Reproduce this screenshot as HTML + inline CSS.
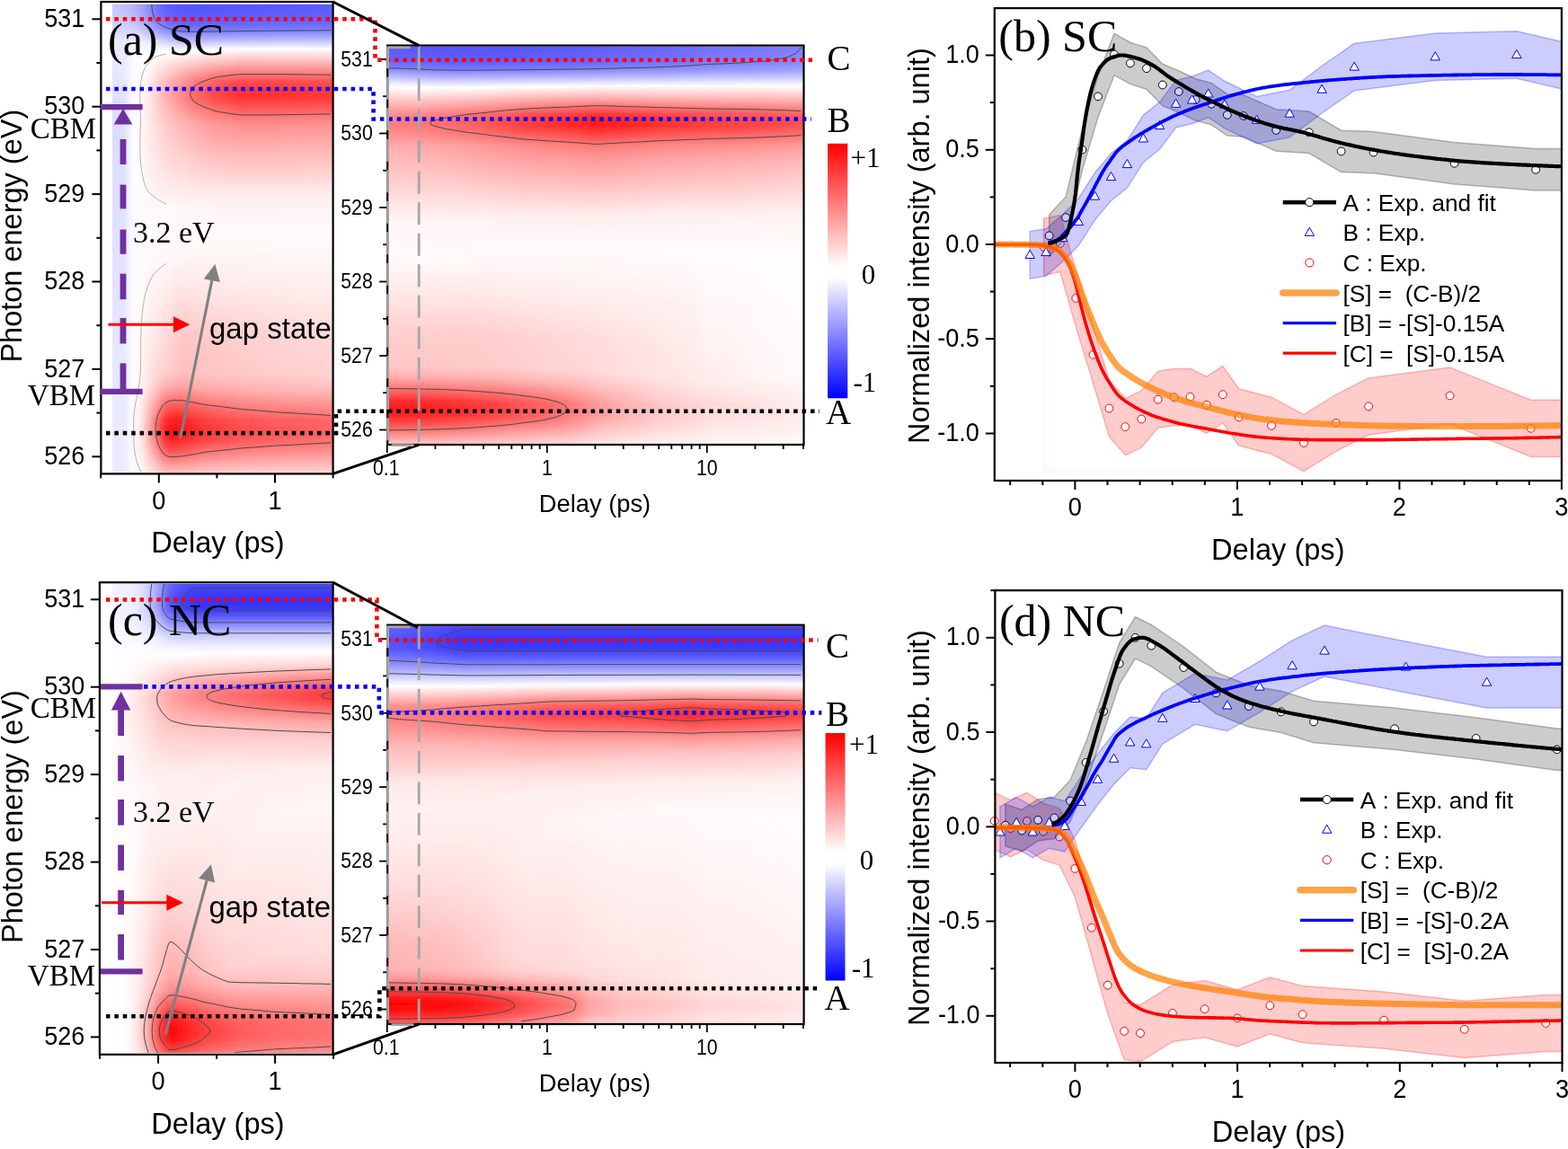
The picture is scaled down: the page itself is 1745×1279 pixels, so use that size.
<!DOCTYPE html>
<html><head><meta charset="utf-8"><title>Figure</title>
<style>html,body{margin:0;padding:0;background:#fff;} svg{display:block;}</style></head>
<body><svg width="1745" height="1279" viewBox="0 0 1745 1279">
<defs><linearGradient id="ga0" gradientUnits="userSpaceOnUse" x1="0" y1="4.5" x2="0" y2="526.5"><stop offset="0.0000" stop-color="#c8c8ff"/><stop offset="0.0383" stop-color="#cfcfff"/><stop offset="0.0824" stop-color="#ebebff"/><stop offset="0.1801" stop-color="#e1e1ff"/><stop offset="0.2586" stop-color="#dcdcff"/><stop offset="1.0000" stop-color="#ebebff"/></linearGradient><linearGradient id="ga1" gradientUnits="userSpaceOnUse" x1="0" y1="4.5" x2="0" y2="526.5"><stop offset="0.0000" stop-color="#c6c6ff"/><stop offset="0.0383" stop-color="#cdcdff"/><stop offset="0.0824" stop-color="#eaeaff"/><stop offset="0.1705" stop-color="#e3e3ff"/><stop offset="0.2510" stop-color="#dcdcff"/><stop offset="1.0000" stop-color="#ebebff"/></linearGradient><linearGradient id="ga2" gradientUnits="userSpaceOnUse" x1="0" y1="4.5" x2="0" y2="526.5"><stop offset="0.0000" stop-color="#c2c2ff"/><stop offset="0.0383" stop-color="#cacaff"/><stop offset="0.0824" stop-color="#eaeaff"/><stop offset="0.1552" stop-color="#e5e5ff"/><stop offset="0.2471" stop-color="#dcdcff"/><stop offset="1.0000" stop-color="#ebebff"/></linearGradient><linearGradient id="ga3" gradientUnits="userSpaceOnUse" x1="0" y1="4.5" x2="0" y2="526.5"><stop offset="0.0000" stop-color="#bdbdff"/><stop offset="0.0364" stop-color="#c4c4ff"/><stop offset="0.0824" stop-color="#eaeaff"/><stop offset="0.1437" stop-color="#e9e9ff"/><stop offset="0.2490" stop-color="#dfdfff"/><stop offset="1.0000" stop-color="#ececff"/></linearGradient><linearGradient id="ga4" gradientUnits="userSpaceOnUse" x1="0" y1="4.5" x2="0" y2="526.5"><stop offset="0.0000" stop-color="#b5b5ff"/><stop offset="0.0364" stop-color="#c2c2ff"/><stop offset="0.0824" stop-color="#f2f2ff"/><stop offset="0.1322" stop-color="#fafaff"/><stop offset="1.0000" stop-color="#fcfcff"/></linearGradient><linearGradient id="ga5" gradientUnits="userSpaceOnUse" x1="0" y1="4.5" x2="0" y2="526.5"><stop offset="0.0000" stop-color="#acacff"/><stop offset="0.0345" stop-color="#b9b9ff"/><stop offset="0.0824" stop-color="#f3f3ff"/><stop offset="0.1245" stop-color="#ffffff"/><stop offset="0.8257" stop-color="#fff9f9"/><stop offset="0.9291" stop-color="#fff1f1"/><stop offset="1.0000" stop-color="#fffbfb"/></linearGradient><linearGradient id="ga6" gradientUnits="userSpaceOnUse" x1="0" y1="4.5" x2="0" y2="526.5"><stop offset="0.0000" stop-color="#9d9dff"/><stop offset="0.0345" stop-color="#aaaaff"/><stop offset="0.0613" stop-color="#d2d2ff"/><stop offset="0.0862" stop-color="#f4f4ff"/><stop offset="0.1149" stop-color="#fffefe"/><stop offset="0.2184" stop-color="#fff4f4"/><stop offset="0.3889" stop-color="#fffafa"/><stop offset="0.5881" stop-color="#fffcfc"/><stop offset="0.8295" stop-color="#ffefef"/><stop offset="0.9119" stop-color="#ffe0e0"/><stop offset="1.0000" stop-color="#fff7f7"/></linearGradient><linearGradient id="ga7" gradientUnits="userSpaceOnUse" x1="0" y1="4.5" x2="0" y2="526.5"><stop offset="0.0000" stop-color="#8d8dff"/><stop offset="0.0345" stop-color="#9b9bff"/><stop offset="0.0575" stop-color="#bebeff"/><stop offset="0.0843" stop-color="#eeeeff"/><stop offset="0.1073" stop-color="#ffffff"/><stop offset="0.1954" stop-color="#ffeaea"/><stop offset="0.3525" stop-color="#fff0f0"/><stop offset="0.4828" stop-color="#fffefe"/><stop offset="0.8046" stop-color="#ffe7e7"/><stop offset="0.8985" stop-color="#ffb6b6"/><stop offset="0.9349" stop-color="#ffbebe"/><stop offset="1.0000" stop-color="#ffecec"/></linearGradient><linearGradient id="ga8" gradientUnits="userSpaceOnUse" x1="0" y1="4.5" x2="0" y2="526.5"><stop offset="0.0000" stop-color="#7c7cff"/><stop offset="0.0326" stop-color="#8888ff"/><stop offset="0.0536" stop-color="#a7a7ff"/><stop offset="0.0843" stop-color="#eaeaff"/><stop offset="0.1054" stop-color="#fffefe"/><stop offset="0.1839" stop-color="#ffdbdb"/><stop offset="0.3563" stop-color="#ffecec"/><stop offset="0.4693" stop-color="#fffdfd"/><stop offset="0.6149" stop-color="#fff2f2"/><stop offset="0.7490" stop-color="#ffe5e5"/><stop offset="0.8046" stop-color="#ffdada"/><stop offset="0.8487" stop-color="#ffb6b6"/><stop offset="0.8927" stop-color="#ff8f8f"/><stop offset="0.9215" stop-color="#ff8f8f"/><stop offset="0.9579" stop-color="#ffb1b1"/><stop offset="1.0000" stop-color="#ffe1e1"/></linearGradient><linearGradient id="ga9" gradientUnits="userSpaceOnUse" x1="0" y1="4.5" x2="0" y2="526.5"><stop offset="0.0000" stop-color="#6a6aff"/><stop offset="0.0326" stop-color="#7676ff"/><stop offset="0.0517" stop-color="#9292ff"/><stop offset="0.0862" stop-color="#e8e8ff"/><stop offset="0.1034" stop-color="#fffefe"/><stop offset="0.1743" stop-color="#ffcbcb"/><stop offset="0.2069" stop-color="#ffc9c9"/><stop offset="0.2701" stop-color="#ffdada"/><stop offset="0.3563" stop-color="#ffe8e8"/><stop offset="0.4579" stop-color="#fffcfc"/><stop offset="0.5862" stop-color="#fff4f4"/><stop offset="0.7299" stop-color="#ffdfdf"/><stop offset="0.7912" stop-color="#ffd6d6"/><stop offset="0.8257" stop-color="#ffbaba"/><stop offset="0.8870" stop-color="#ff6565"/><stop offset="0.9100" stop-color="#ff5b5b"/><stop offset="0.9349" stop-color="#ff6d6d"/><stop offset="1.0000" stop-color="#ffd4d4"/></linearGradient><linearGradient id="ga10" gradientUnits="userSpaceOnUse" x1="0" y1="4.5" x2="0" y2="526.5"><stop offset="0.0000" stop-color="#6161ff"/><stop offset="0.0345" stop-color="#6e6eff"/><stop offset="0.0536" stop-color="#8c8cff"/><stop offset="0.0881" stop-color="#e9e9ff"/><stop offset="0.1015" stop-color="#ffffff"/><stop offset="0.1705" stop-color="#ffbebe"/><stop offset="0.1992" stop-color="#ffb7b7"/><stop offset="0.2663" stop-color="#ffd1d1"/><stop offset="0.3506" stop-color="#ffe2e2"/><stop offset="0.4483" stop-color="#fffbfb"/><stop offset="0.5632" stop-color="#fff6f6"/><stop offset="0.7222" stop-color="#ffdada"/><stop offset="0.7835" stop-color="#ffd1d1"/><stop offset="0.8161" stop-color="#ffb5b5"/><stop offset="0.8506" stop-color="#ff7979"/><stop offset="0.8851" stop-color="#ff3a3a"/><stop offset="0.9061" stop-color="#ff2b2b"/><stop offset="0.9272" stop-color="#ff3737"/><stop offset="0.9540" stop-color="#ff6767"/><stop offset="0.9981" stop-color="#ffc4c4"/><stop offset="1.0000" stop-color="#ffc7c7"/></linearGradient><linearGradient id="ga11" gradientUnits="userSpaceOnUse" x1="0" y1="4.5" x2="0" y2="526.5"><stop offset="0.0000" stop-color="#5a5aff"/><stop offset="0.0345" stop-color="#6666ff"/><stop offset="0.0536" stop-color="#8282ff"/><stop offset="0.0920" stop-color="#ededff"/><stop offset="0.1015" stop-color="#ffffff"/><stop offset="0.1648" stop-color="#ffb5b5"/><stop offset="0.1935" stop-color="#ffa7a7"/><stop offset="0.2663" stop-color="#ffc9c9"/><stop offset="0.3487" stop-color="#ffdddd"/><stop offset="0.4406" stop-color="#fff9f9"/><stop offset="0.5441" stop-color="#fff8f8"/><stop offset="0.7203" stop-color="#ffd4d4"/><stop offset="0.7835" stop-color="#ffcaca"/><stop offset="0.8142" stop-color="#ffaeae"/><stop offset="0.8448" stop-color="#ff7676"/><stop offset="0.8831" stop-color="#ff2727"/><stop offset="0.9042" stop-color="#ff1414"/><stop offset="0.9234" stop-color="#ff1c1c"/><stop offset="0.9464" stop-color="#ff4444"/><stop offset="0.9962" stop-color="#ffbaba"/><stop offset="1.0000" stop-color="#ffc1c1"/></linearGradient><linearGradient id="ga12" gradientUnits="userSpaceOnUse" x1="0" y1="4.5" x2="0" y2="526.5"><stop offset="0.0000" stop-color="#5757ff"/><stop offset="0.0364" stop-color="#6363ff"/><stop offset="0.0536" stop-color="#7c7cff"/><stop offset="0.0747" stop-color="#b8b8ff"/><stop offset="0.0958" stop-color="#f3f3ff"/><stop offset="0.1015" stop-color="#ffffff"/><stop offset="0.1609" stop-color="#ffadad"/><stop offset="0.1897" stop-color="#ff9999"/><stop offset="0.2165" stop-color="#ffa5a5"/><stop offset="0.2605" stop-color="#ffc1c1"/><stop offset="0.3506" stop-color="#ffdbdb"/><stop offset="0.4387" stop-color="#fff9f9"/><stop offset="0.5364" stop-color="#fff8f8"/><stop offset="0.7165" stop-color="#ffcfcf"/><stop offset="0.7835" stop-color="#ffc6c6"/><stop offset="0.8142" stop-color="#ffabab"/><stop offset="0.8448" stop-color="#ff7373"/><stop offset="0.8831" stop-color="#ff2525"/><stop offset="0.9042" stop-color="#ff1111"/><stop offset="0.9234" stop-color="#ff1a1a"/><stop offset="0.9464" stop-color="#ff4343"/><stop offset="0.9962" stop-color="#ffb9b9"/><stop offset="1.0000" stop-color="#ffc0c0"/></linearGradient><linearGradient id="ga13" gradientUnits="userSpaceOnUse" x1="0" y1="4.5" x2="0" y2="526.5"><stop offset="0.0000" stop-color="#5656ff"/><stop offset="0.0364" stop-color="#6060ff"/><stop offset="0.0556" stop-color="#7b7bff"/><stop offset="0.0766" stop-color="#b8b8ff"/><stop offset="0.0977" stop-color="#f6f6ff"/><stop offset="0.1015" stop-color="#ffffff"/><stop offset="0.1571" stop-color="#ffa7a7"/><stop offset="0.1858" stop-color="#ff8d8d"/><stop offset="0.2088" stop-color="#ff9393"/><stop offset="0.2567" stop-color="#ffb9b9"/><stop offset="0.3563" stop-color="#ffdcdc"/><stop offset="0.4387" stop-color="#fff8f8"/><stop offset="0.5326" stop-color="#fff8f8"/><stop offset="0.6513" stop-color="#ffd7d7"/><stop offset="0.7318" stop-color="#ffc8c8"/><stop offset="0.7874" stop-color="#ffc0c0"/><stop offset="0.8180" stop-color="#ffa3a3"/><stop offset="0.8525" stop-color="#ff6363"/><stop offset="0.8851" stop-color="#ff2525"/><stop offset="0.9061" stop-color="#ff1515"/><stop offset="0.9253" stop-color="#ff2121"/><stop offset="0.9502" stop-color="#ff4f4f"/><stop offset="0.9962" stop-color="#ffbbbb"/><stop offset="1.0000" stop-color="#ffc2c2"/></linearGradient><linearGradient id="ga14" gradientUnits="userSpaceOnUse" x1="0" y1="4.5" x2="0" y2="526.5"><stop offset="0.0000" stop-color="#5454ff"/><stop offset="0.0383" stop-color="#6060ff"/><stop offset="0.0556" stop-color="#7878ff"/><stop offset="0.0747" stop-color="#afafff"/><stop offset="0.0977" stop-color="#f6f6ff"/><stop offset="0.1015" stop-color="#fffefe"/><stop offset="0.1552" stop-color="#ffa0a0"/><stop offset="0.1820" stop-color="#ff8282"/><stop offset="0.2031" stop-color="#ff8383"/><stop offset="0.2567" stop-color="#ffb3b3"/><stop offset="0.3659" stop-color="#ffdfdf"/><stop offset="0.4425" stop-color="#fff9f9"/><stop offset="0.5364" stop-color="#fff7f7"/><stop offset="0.7126" stop-color="#ffc7c7"/><stop offset="0.7854" stop-color="#ffbfbf"/><stop offset="0.8161" stop-color="#ffa6a6"/><stop offset="0.8487" stop-color="#ff6e6e"/><stop offset="0.8831" stop-color="#ff2c2c"/><stop offset="0.9042" stop-color="#ff1b1b"/><stop offset="0.9234" stop-color="#ff2424"/><stop offset="0.9464" stop-color="#ff4b4b"/><stop offset="0.9962" stop-color="#ffbcbc"/><stop offset="1.0000" stop-color="#ffc3c3"/></linearGradient><linearGradient id="ga15" gradientUnits="userSpaceOnUse" x1="0" y1="4.5" x2="0" y2="526.5"><stop offset="0.0000" stop-color="#5353ff"/><stop offset="0.0383" stop-color="#5f5fff"/><stop offset="0.0556" stop-color="#7777ff"/><stop offset="0.0747" stop-color="#afafff"/><stop offset="0.0977" stop-color="#f8f8ff"/><stop offset="0.1015" stop-color="#fffcfc"/><stop offset="0.1590" stop-color="#ff9090"/><stop offset="0.1839" stop-color="#ff7474"/><stop offset="0.2031" stop-color="#ff7676"/><stop offset="0.2548" stop-color="#ffacac"/><stop offset="0.4272" stop-color="#fff5f5"/><stop offset="0.5134" stop-color="#fffafa"/><stop offset="0.6130" stop-color="#ffe3e3"/><stop offset="0.7107" stop-color="#ffc8c8"/><stop offset="0.7874" stop-color="#ffc0c0"/><stop offset="0.8180" stop-color="#ffa6a6"/><stop offset="0.8544" stop-color="#ff6767"/><stop offset="0.8870" stop-color="#ff2e2e"/><stop offset="0.9080" stop-color="#ff2222"/><stop offset="0.9291" stop-color="#ff3232"/><stop offset="0.9579" stop-color="#ff6b6b"/><stop offset="0.9981" stop-color="#ffc2c2"/><stop offset="1.0000" stop-color="#ffc5c5"/></linearGradient><linearGradient id="ga16" gradientUnits="userSpaceOnUse" x1="0" y1="4.5" x2="0" y2="526.5"><stop offset="0.0000" stop-color="#5353ff"/><stop offset="0.0364" stop-color="#5d5dff"/><stop offset="0.0556" stop-color="#7777ff"/><stop offset="0.0747" stop-color="#b0b0ff"/><stop offset="0.0977" stop-color="#fafaff"/><stop offset="0.0996" stop-color="#ffffff"/><stop offset="0.1571" stop-color="#ff8a8a"/><stop offset="0.1820" stop-color="#ff6a6a"/><stop offset="0.2011" stop-color="#ff6a6a"/><stop offset="0.2548" stop-color="#ffa6a6"/><stop offset="0.4234" stop-color="#fff4f4"/><stop offset="0.5077" stop-color="#fffbfb"/><stop offset="0.6073" stop-color="#ffe6e6"/><stop offset="0.7107" stop-color="#ffc9c9"/><stop offset="0.7874" stop-color="#ffc1c1"/><stop offset="0.8180" stop-color="#ffa8a8"/><stop offset="0.8544" stop-color="#ff6b6b"/><stop offset="0.8870" stop-color="#ff3535"/><stop offset="0.9080" stop-color="#ff2929"/><stop offset="0.9291" stop-color="#ff3939"/><stop offset="0.9579" stop-color="#ff7070"/><stop offset="0.9981" stop-color="#ffc4c4"/><stop offset="1.0000" stop-color="#ffc7c7"/></linearGradient><linearGradient id="ga17" gradientUnits="userSpaceOnUse" x1="0" y1="4.5" x2="0" y2="526.5"><stop offset="0.0000" stop-color="#5353ff"/><stop offset="0.0364" stop-color="#5d5dff"/><stop offset="0.0556" stop-color="#7878ff"/><stop offset="0.0747" stop-color="#b0b0ff"/><stop offset="0.0977" stop-color="#fcfcff"/><stop offset="0.1015" stop-color="#fff8f8"/><stop offset="0.1628" stop-color="#ff7979"/><stop offset="0.1858" stop-color="#ff5f5f"/><stop offset="0.2050" stop-color="#ff6464"/><stop offset="0.2529" stop-color="#ffa0a0"/><stop offset="0.4176" stop-color="#fff2f2"/><stop offset="0.4981" stop-color="#fffbfb"/><stop offset="0.5958" stop-color="#ffeaea"/><stop offset="0.7088" stop-color="#ffcaca"/><stop offset="0.7874" stop-color="#ffc2c2"/><stop offset="0.8199" stop-color="#ffa8a8"/><stop offset="0.8621" stop-color="#ff6262"/><stop offset="0.8908" stop-color="#ff3838"/><stop offset="0.9119" stop-color="#ff3131"/><stop offset="0.9330" stop-color="#ff4545"/><stop offset="0.9693" stop-color="#ff8e8e"/><stop offset="1.0000" stop-color="#ffc9c9"/></linearGradient><linearGradient id="ga18" gradientUnits="userSpaceOnUse" x1="0" y1="4.5" x2="0" y2="526.5"><stop offset="0.0000" stop-color="#5353ff"/><stop offset="0.0364" stop-color="#5e5eff"/><stop offset="0.0556" stop-color="#7878ff"/><stop offset="0.0728" stop-color="#aaaaff"/><stop offset="0.0977" stop-color="#fdfdff"/><stop offset="0.1628" stop-color="#ff7272"/><stop offset="0.1839" stop-color="#ff5757"/><stop offset="0.2011" stop-color="#ff5959"/><stop offset="0.2548" stop-color="#ff9d9d"/><stop offset="0.4157" stop-color="#fff1f1"/><stop offset="0.4943" stop-color="#fffbfb"/><stop offset="0.5939" stop-color="#ffebeb"/><stop offset="0.7088" stop-color="#ffcbcb"/><stop offset="0.7893" stop-color="#ffc3c3"/><stop offset="0.8218" stop-color="#ffa8a8"/><stop offset="0.8870" stop-color="#ff4141"/><stop offset="0.9080" stop-color="#ff3737"/><stop offset="0.9291" stop-color="#ff4545"/><stop offset="0.9598" stop-color="#ff7d7d"/><stop offset="1.0000" stop-color="#ffcbcb"/></linearGradient><linearGradient id="ga19" gradientUnits="userSpaceOnUse" x1="0" y1="4.5" x2="0" y2="526.5"><stop offset="0.0000" stop-color="#5454ff"/><stop offset="0.0364" stop-color="#5e5eff"/><stop offset="0.0556" stop-color="#7878ff"/><stop offset="0.0728" stop-color="#ababff"/><stop offset="0.0977" stop-color="#fefeff"/><stop offset="0.1628" stop-color="#ff6a6a"/><stop offset="0.1839" stop-color="#ff4e4e"/><stop offset="0.2011" stop-color="#ff5050"/><stop offset="0.2548" stop-color="#ff9999"/><stop offset="0.4138" stop-color="#fff0f0"/><stop offset="0.4904" stop-color="#fffbfb"/><stop offset="0.5900" stop-color="#ffecec"/><stop offset="0.7088" stop-color="#ffcbcb"/><stop offset="0.7893" stop-color="#ffc4c4"/><stop offset="0.8218" stop-color="#ffa9a9"/><stop offset="0.8870" stop-color="#ff4444"/><stop offset="0.9080" stop-color="#ff3a3a"/><stop offset="0.9291" stop-color="#ff4848"/><stop offset="0.9598" stop-color="#ff7f7f"/><stop offset="1.0000" stop-color="#ffcccc"/></linearGradient><linearGradient id="ga20" gradientUnits="userSpaceOnUse" x1="0" y1="4.5" x2="0" y2="526.5"><stop offset="0.0000" stop-color="#5454ff"/><stop offset="0.0364" stop-color="#5e5eff"/><stop offset="0.0556" stop-color="#7979ff"/><stop offset="0.0728" stop-color="#acacff"/><stop offset="0.0958" stop-color="#fafaff"/><stop offset="0.0977" stop-color="#fffefe"/><stop offset="0.1628" stop-color="#ff6363"/><stop offset="0.1839" stop-color="#ff4646"/><stop offset="0.2011" stop-color="#ff4848"/><stop offset="0.2529" stop-color="#ff9393"/><stop offset="0.3142" stop-color="#ffb8b8"/><stop offset="0.4138" stop-color="#fff0f0"/><stop offset="0.4904" stop-color="#fffbfb"/><stop offset="0.5900" stop-color="#ffecec"/><stop offset="0.7088" stop-color="#ffcccc"/><stop offset="0.7893" stop-color="#ffc4c4"/><stop offset="0.8218" stop-color="#ffabab"/><stop offset="0.8870" stop-color="#ff4848"/><stop offset="0.9080" stop-color="#ff3d3d"/><stop offset="0.9291" stop-color="#ff4b4b"/><stop offset="0.9598" stop-color="#ff8181"/><stop offset="1.0000" stop-color="#ffcccc"/></linearGradient><linearGradient id="ga21" gradientUnits="userSpaceOnUse" x1="0" y1="4.5" x2="0" y2="526.5"><stop offset="0.0000" stop-color="#5454ff"/><stop offset="0.0364" stop-color="#5f5fff"/><stop offset="0.0556" stop-color="#7979ff"/><stop offset="0.0728" stop-color="#acacff"/><stop offset="0.0958" stop-color="#fbfbff"/><stop offset="0.0977" stop-color="#fffdfd"/><stop offset="0.1628" stop-color="#ff5f5f"/><stop offset="0.1839" stop-color="#ff4242"/><stop offset="0.2011" stop-color="#ff4444"/><stop offset="0.2318" stop-color="#ff7474"/><stop offset="0.2605" stop-color="#ff9898"/><stop offset="0.4119" stop-color="#ffefef"/><stop offset="0.4866" stop-color="#fffbfb"/><stop offset="0.5862" stop-color="#ffeeee"/><stop offset="0.7107" stop-color="#ffcdcd"/><stop offset="0.7893" stop-color="#ffc5c5"/><stop offset="0.8218" stop-color="#ffacac"/><stop offset="0.8870" stop-color="#ff4b4b"/><stop offset="0.9100" stop-color="#ff4141"/><stop offset="0.9330" stop-color="#ff5353"/><stop offset="0.9770" stop-color="#ffa6a6"/><stop offset="1.0000" stop-color="#ffcdcd"/></linearGradient><linearGradient id="ga22" gradientUnits="userSpaceOnUse" x1="0" y1="4.5" x2="0" y2="526.5"><stop offset="0.0000" stop-color="#5555ff"/><stop offset="0.0364" stop-color="#5f5fff"/><stop offset="0.0556" stop-color="#7a7aff"/><stop offset="0.0728" stop-color="#acacff"/><stop offset="0.0958" stop-color="#fcfcff"/><stop offset="0.0996" stop-color="#fff7f7"/><stop offset="0.1628" stop-color="#ff5c5c"/><stop offset="0.1839" stop-color="#ff3d3d"/><stop offset="0.2011" stop-color="#ff4040"/><stop offset="0.2299" stop-color="#ff6e6e"/><stop offset="0.2586" stop-color="#ff9595"/><stop offset="0.4100" stop-color="#ffeeee"/><stop offset="0.4828" stop-color="#fffbfb"/><stop offset="0.5824" stop-color="#ffefef"/><stop offset="0.7107" stop-color="#ffcdcd"/><stop offset="0.7893" stop-color="#ffc6c6"/><stop offset="0.8218" stop-color="#ffadad"/><stop offset="0.8870" stop-color="#ff4e4e"/><stop offset="0.9100" stop-color="#ff4444"/><stop offset="0.9330" stop-color="#ff5656"/><stop offset="1.0000" stop-color="#ffcece"/></linearGradient><linearGradient id="ga23" gradientUnits="userSpaceOnUse" x1="0" y1="4.5" x2="0" y2="526.5"><stop offset="0.0000" stop-color="#5555ff"/><stop offset="0.0364" stop-color="#5f5fff"/><stop offset="0.0556" stop-color="#7a7aff"/><stop offset="0.0728" stop-color="#adadff"/><stop offset="0.0958" stop-color="#fcfcff"/><stop offset="0.1015" stop-color="#fff1f1"/><stop offset="0.1648" stop-color="#ff5454"/><stop offset="0.1839" stop-color="#ff3939"/><stop offset="0.1992" stop-color="#ff3a3a"/><stop offset="0.2222" stop-color="#ff5c5c"/><stop offset="0.2529" stop-color="#ff8d8d"/><stop offset="0.3008" stop-color="#ffadad"/><stop offset="0.4100" stop-color="#ffeeee"/><stop offset="0.4828" stop-color="#fffbfb"/><stop offset="0.5824" stop-color="#ffefef"/><stop offset="0.7107" stop-color="#ffcece"/><stop offset="0.7893" stop-color="#ffc7c7"/><stop offset="0.8218" stop-color="#ffafaf"/><stop offset="0.8870" stop-color="#ff5151"/><stop offset="0.9100" stop-color="#ff4747"/><stop offset="0.9330" stop-color="#ff5959"/><stop offset="1.0000" stop-color="#ffcfcf"/></linearGradient><linearGradient id="ga24" gradientUnits="userSpaceOnUse" x1="0" y1="4.5" x2="0" y2="526.5"><stop offset="0.0000" stop-color="#5555ff"/><stop offset="0.0364" stop-color="#6060ff"/><stop offset="0.0556" stop-color="#7a7aff"/><stop offset="0.0728" stop-color="#adadff"/><stop offset="0.0958" stop-color="#fdfdff"/><stop offset="0.1648" stop-color="#ff5050"/><stop offset="0.1839" stop-color="#ff3535"/><stop offset="0.1992" stop-color="#ff3535"/><stop offset="0.2203" stop-color="#ff5555"/><stop offset="0.2510" stop-color="#ff8888"/><stop offset="0.2912" stop-color="#ffa7a7"/><stop offset="0.4100" stop-color="#ffeeee"/><stop offset="0.4828" stop-color="#fffbfb"/><stop offset="0.5843" stop-color="#ffefef"/><stop offset="0.7107" stop-color="#ffcfcf"/><stop offset="0.7912" stop-color="#ffc7c7"/><stop offset="0.8257" stop-color="#ffacac"/><stop offset="0.8870" stop-color="#ff5454"/><stop offset="0.9100" stop-color="#ff4b4b"/><stop offset="0.9330" stop-color="#ff5c5c"/><stop offset="1.0000" stop-color="#ffd0d0"/></linearGradient><linearGradient id="ga25" gradientUnits="userSpaceOnUse" x1="0" y1="4.5" x2="0" y2="526.5"><stop offset="0.0000" stop-color="#5656ff"/><stop offset="0.0364" stop-color="#6060ff"/><stop offset="0.0556" stop-color="#7b7bff"/><stop offset="0.0728" stop-color="#adadff"/><stop offset="0.0958" stop-color="#fdfdff"/><stop offset="0.1648" stop-color="#ff5050"/><stop offset="0.1839" stop-color="#ff3434"/><stop offset="0.1992" stop-color="#ff3434"/><stop offset="0.2203" stop-color="#ff5454"/><stop offset="0.2510" stop-color="#ff8888"/><stop offset="0.2912" stop-color="#ffa7a7"/><stop offset="0.4100" stop-color="#ffeeee"/><stop offset="0.4828" stop-color="#fffbfb"/><stop offset="0.5843" stop-color="#ffefef"/><stop offset="0.7126" stop-color="#ffcfcf"/><stop offset="0.7912" stop-color="#ffc8c8"/><stop offset="0.8257" stop-color="#ffadad"/><stop offset="0.8870" stop-color="#ff5656"/><stop offset="0.9100" stop-color="#ff4d4d"/><stop offset="0.9330" stop-color="#ff5e5e"/><stop offset="1.0000" stop-color="#ffd0d0"/></linearGradient><linearGradient id="ga26" gradientUnits="userSpaceOnUse" x1="0" y1="4.5" x2="0" y2="526.5"><stop offset="0.0000" stop-color="#5656ff"/><stop offset="0.0364" stop-color="#6060ff"/><stop offset="0.0556" stop-color="#7b7bff"/><stop offset="0.0728" stop-color="#aeaeff"/><stop offset="0.0958" stop-color="#fdfdff"/><stop offset="0.1648" stop-color="#ff5050"/><stop offset="0.1839" stop-color="#ff3434"/><stop offset="0.1992" stop-color="#ff3535"/><stop offset="0.2203" stop-color="#ff5454"/><stop offset="0.2510" stop-color="#ff8888"/><stop offset="0.2912" stop-color="#ffa7a7"/><stop offset="0.4100" stop-color="#ffeeee"/><stop offset="0.4828" stop-color="#fffbfb"/><stop offset="0.5843" stop-color="#ffefef"/><stop offset="0.7126" stop-color="#ffd0d0"/><stop offset="0.7912" stop-color="#ffc9c9"/><stop offset="0.8257" stop-color="#ffadad"/><stop offset="0.8870" stop-color="#ff5757"/><stop offset="0.9100" stop-color="#ff4e4e"/><stop offset="0.9330" stop-color="#ff5f5f"/><stop offset="1.0000" stop-color="#ffd1d1"/></linearGradient><linearGradient id="ga27" gradientUnits="userSpaceOnUse" x1="0" y1="4.5" x2="0" y2="526.5"><stop offset="0.0000" stop-color="#5656ff"/><stop offset="0.0364" stop-color="#6161ff"/><stop offset="0.0556" stop-color="#7b7bff"/><stop offset="0.0728" stop-color="#aeaeff"/><stop offset="0.0958" stop-color="#fdfdff"/><stop offset="0.1648" stop-color="#ff5050"/><stop offset="0.1839" stop-color="#ff3434"/><stop offset="0.1992" stop-color="#ff3535"/><stop offset="0.2203" stop-color="#ff5454"/><stop offset="0.2510" stop-color="#ff8888"/><stop offset="0.2912" stop-color="#ffa7a7"/><stop offset="0.4100" stop-color="#ffeeee"/><stop offset="0.4828" stop-color="#fffbfb"/><stop offset="0.5862" stop-color="#ffefef"/><stop offset="0.7126" stop-color="#ffd1d1"/><stop offset="0.7912" stop-color="#ffcaca"/><stop offset="0.8257" stop-color="#ffaeae"/><stop offset="0.8870" stop-color="#ff5959"/><stop offset="0.9100" stop-color="#ff5050"/><stop offset="0.9330" stop-color="#ff6161"/><stop offset="1.0000" stop-color="#ffd1d1"/></linearGradient><linearGradient id="ga28" gradientUnits="userSpaceOnUse" x1="0" y1="4.5" x2="0" y2="526.5"><stop offset="0.0000" stop-color="#5757ff"/><stop offset="0.0364" stop-color="#6161ff"/><stop offset="0.0556" stop-color="#7b7bff"/><stop offset="0.0728" stop-color="#aeaeff"/><stop offset="0.0958" stop-color="#fdfdff"/><stop offset="0.1648" stop-color="#ff5050"/><stop offset="0.1839" stop-color="#ff3434"/><stop offset="0.1992" stop-color="#ff3535"/><stop offset="0.2203" stop-color="#ff5454"/><stop offset="0.2510" stop-color="#ff8888"/><stop offset="0.2912" stop-color="#ffa7a7"/><stop offset="0.4100" stop-color="#ffeeee"/><stop offset="0.4828" stop-color="#fffbfb"/><stop offset="0.5862" stop-color="#ffefef"/><stop offset="0.7126" stop-color="#ffd2d2"/><stop offset="0.7912" stop-color="#ffcaca"/><stop offset="0.8257" stop-color="#ffafaf"/><stop offset="0.8870" stop-color="#ff5b5b"/><stop offset="0.9100" stop-color="#ff5252"/><stop offset="0.9330" stop-color="#ff6262"/><stop offset="1.0000" stop-color="#ffd2d2"/></linearGradient><linearGradient id="ga29" gradientUnits="userSpaceOnUse" x1="0" y1="4.5" x2="0" y2="526.5"><stop offset="0.0000" stop-color="#5757ff"/><stop offset="0.0364" stop-color="#6161ff"/><stop offset="0.0556" stop-color="#7c7cff"/><stop offset="0.0728" stop-color="#aeaeff"/><stop offset="0.0958" stop-color="#fefeff"/><stop offset="0.1648" stop-color="#ff5050"/><stop offset="0.1839" stop-color="#ff3434"/><stop offset="0.1992" stop-color="#ff3535"/><stop offset="0.2203" stop-color="#ff5454"/><stop offset="0.2510" stop-color="#ff8888"/><stop offset="0.2912" stop-color="#ffa7a7"/><stop offset="0.4100" stop-color="#ffeeee"/><stop offset="0.4828" stop-color="#fffbfb"/><stop offset="0.5881" stop-color="#ffefef"/><stop offset="0.7146" stop-color="#ffd2d2"/><stop offset="0.7912" stop-color="#ffcbcb"/><stop offset="0.8257" stop-color="#ffb0b0"/><stop offset="0.8870" stop-color="#ff5c5c"/><stop offset="0.9100" stop-color="#ff5353"/><stop offset="0.9330" stop-color="#ff6464"/><stop offset="1.0000" stop-color="#ffd2d2"/></linearGradient><linearGradient id="ga30" gradientUnits="userSpaceOnUse" x1="0" y1="4.5" x2="0" y2="526.5"><stop offset="0.0000" stop-color="#5757ff"/><stop offset="0.0364" stop-color="#6262ff"/><stop offset="0.0556" stop-color="#7c7cff"/><stop offset="0.0728" stop-color="#aeaeff"/><stop offset="0.0958" stop-color="#fefeff"/><stop offset="0.1648" stop-color="#ff5050"/><stop offset="0.1839" stop-color="#ff3434"/><stop offset="0.1992" stop-color="#ff3535"/><stop offset="0.2203" stop-color="#ff5454"/><stop offset="0.2510" stop-color="#ff8888"/><stop offset="0.2912" stop-color="#ffa7a7"/><stop offset="0.4100" stop-color="#ffeeee"/><stop offset="0.4847" stop-color="#fffbfb"/><stop offset="0.5900" stop-color="#ffefef"/><stop offset="0.7146" stop-color="#ffd3d3"/><stop offset="0.7912" stop-color="#ffcccc"/><stop offset="0.8257" stop-color="#ffb1b1"/><stop offset="0.8870" stop-color="#ff5e5e"/><stop offset="0.9100" stop-color="#ff5555"/><stop offset="0.9330" stop-color="#ff6565"/><stop offset="1.0000" stop-color="#ffd2d2"/></linearGradient><linearGradient id="ga31" gradientUnits="userSpaceOnUse" x1="0" y1="4.5" x2="0" y2="526.5"><stop offset="0.0000" stop-color="#5858ff"/><stop offset="0.0364" stop-color="#6262ff"/><stop offset="0.0556" stop-color="#7c7cff"/><stop offset="0.0728" stop-color="#aeaeff"/><stop offset="0.0958" stop-color="#fefeff"/><stop offset="0.1648" stop-color="#ff5050"/><stop offset="0.1839" stop-color="#ff3434"/><stop offset="0.1992" stop-color="#ff3535"/><stop offset="0.2203" stop-color="#ff5555"/><stop offset="0.2510" stop-color="#ff8888"/><stop offset="0.2912" stop-color="#ffa7a7"/><stop offset="0.4100" stop-color="#ffeeee"/><stop offset="0.4847" stop-color="#fffcfc"/><stop offset="0.5920" stop-color="#ffefef"/><stop offset="0.7146" stop-color="#ffd4d4"/><stop offset="0.7912" stop-color="#ffcccc"/><stop offset="0.8257" stop-color="#ffb2b2"/><stop offset="0.8870" stop-color="#ff5f5f"/><stop offset="0.9100" stop-color="#ff5656"/><stop offset="0.9330" stop-color="#ff6767"/><stop offset="1.0000" stop-color="#ffd3d3"/></linearGradient><linearGradient id="ga32" gradientUnits="userSpaceOnUse" x1="0" y1="4.5" x2="0" y2="526.5"><stop offset="0.0000" stop-color="#5858ff"/><stop offset="0.0364" stop-color="#6262ff"/><stop offset="0.0556" stop-color="#7c7cff"/><stop offset="0.0728" stop-color="#afafff"/><stop offset="0.0958" stop-color="#fefeff"/><stop offset="0.1648" stop-color="#ff5050"/><stop offset="0.1839" stop-color="#ff3434"/><stop offset="0.1992" stop-color="#ff3535"/><stop offset="0.2203" stop-color="#ff5555"/><stop offset="0.2510" stop-color="#ff8989"/><stop offset="0.2912" stop-color="#ffa8a8"/><stop offset="0.4100" stop-color="#ffeeee"/><stop offset="0.4847" stop-color="#fffcfc"/><stop offset="0.5920" stop-color="#ffefef"/><stop offset="0.7165" stop-color="#ffd4d4"/><stop offset="0.7912" stop-color="#ffcdcd"/><stop offset="0.8257" stop-color="#ffb3b3"/><stop offset="0.8870" stop-color="#ff6060"/><stop offset="0.9100" stop-color="#ff5757"/><stop offset="0.9349" stop-color="#ff6a6a"/><stop offset="1.0000" stop-color="#ffd3d3"/></linearGradient><linearGradient id="ga33" gradientUnits="userSpaceOnUse" x1="0" y1="4.5" x2="0" y2="526.5"><stop offset="0.0000" stop-color="#5858ff"/><stop offset="0.0364" stop-color="#6262ff"/><stop offset="0.0556" stop-color="#7d7dff"/><stop offset="0.0728" stop-color="#afafff"/><stop offset="0.0958" stop-color="#fefeff"/><stop offset="0.1648" stop-color="#ff5151"/><stop offset="0.1839" stop-color="#ff3535"/><stop offset="0.1992" stop-color="#ff3636"/><stop offset="0.2203" stop-color="#ff5555"/><stop offset="0.2510" stop-color="#ff8989"/><stop offset="0.2912" stop-color="#ffa8a8"/><stop offset="0.4100" stop-color="#ffeeee"/><stop offset="0.4847" stop-color="#fffcfc"/><stop offset="0.5920" stop-color="#ffefef"/><stop offset="0.7165" stop-color="#ffd4d4"/><stop offset="0.7912" stop-color="#ffcdcd"/><stop offset="0.8257" stop-color="#ffb3b3"/><stop offset="0.8870" stop-color="#ff6161"/><stop offset="0.9100" stop-color="#ff5858"/><stop offset="0.9349" stop-color="#ff6b6b"/><stop offset="1.0000" stop-color="#ffd3d3"/></linearGradient><linearGradient id="ga34" gradientUnits="userSpaceOnUse" x1="0" y1="4.5" x2="0" y2="526.5"><stop offset="0.0000" stop-color="#5858ff"/><stop offset="0.0364" stop-color="#6363ff"/><stop offset="0.0556" stop-color="#7d7dff"/><stop offset="0.0728" stop-color="#afafff"/><stop offset="0.0958" stop-color="#fefeff"/><stop offset="0.1648" stop-color="#ff5151"/><stop offset="0.1839" stop-color="#ff3535"/><stop offset="0.1992" stop-color="#ff3636"/><stop offset="0.2203" stop-color="#ff5656"/><stop offset="0.2510" stop-color="#ff8989"/><stop offset="0.2912" stop-color="#ffa8a8"/><stop offset="0.4100" stop-color="#ffeeee"/><stop offset="0.4847" stop-color="#fffcfc"/><stop offset="0.5920" stop-color="#ffefef"/><stop offset="0.7165" stop-color="#ffd5d5"/><stop offset="0.7912" stop-color="#ffcece"/><stop offset="0.8257" stop-color="#ffb4b4"/><stop offset="0.8870" stop-color="#ff6262"/><stop offset="0.9100" stop-color="#ff5959"/><stop offset="0.9349" stop-color="#ff6c6c"/><stop offset="1.0000" stop-color="#ffd4d4"/></linearGradient><linearGradient id="ga35" gradientUnits="userSpaceOnUse" x1="0" y1="4.5" x2="0" y2="526.5"><stop offset="0.0000" stop-color="#5959ff"/><stop offset="0.0364" stop-color="#6363ff"/><stop offset="0.0556" stop-color="#7d7dff"/><stop offset="0.0728" stop-color="#afafff"/><stop offset="0.0958" stop-color="#fefeff"/><stop offset="0.1648" stop-color="#ff5151"/><stop offset="0.1839" stop-color="#ff3636"/><stop offset="0.1992" stop-color="#ff3737"/><stop offset="0.2203" stop-color="#ff5656"/><stop offset="0.2510" stop-color="#ff8989"/><stop offset="0.2912" stop-color="#ffa8a8"/><stop offset="0.4100" stop-color="#ffeeee"/><stop offset="0.4847" stop-color="#fffcfc"/><stop offset="0.5939" stop-color="#ffefef"/><stop offset="0.7165" stop-color="#ffd5d5"/><stop offset="0.7912" stop-color="#ffcece"/><stop offset="0.8257" stop-color="#ffb4b4"/><stop offset="0.8870" stop-color="#ff6363"/><stop offset="0.9100" stop-color="#ff5a5a"/><stop offset="0.9349" stop-color="#ff6d6d"/><stop offset="1.0000" stop-color="#ffd4d4"/></linearGradient><linearGradient id="ga36" gradientUnits="userSpaceOnUse" x1="0" y1="4.5" x2="0" y2="526.5"><stop offset="0.0000" stop-color="#5959ff"/><stop offset="0.0364" stop-color="#6363ff"/><stop offset="0.0556" stop-color="#7d7dff"/><stop offset="0.0728" stop-color="#afafff"/><stop offset="0.0958" stop-color="#fefeff"/><stop offset="0.1648" stop-color="#ff5252"/><stop offset="0.1839" stop-color="#ff3636"/><stop offset="0.1992" stop-color="#ff3737"/><stop offset="0.2203" stop-color="#ff5757"/><stop offset="0.2510" stop-color="#ff8a8a"/><stop offset="0.2912" stop-color="#ffa9a9"/><stop offset="0.4100" stop-color="#ffeeee"/><stop offset="0.4847" stop-color="#fffcfc"/><stop offset="0.5939" stop-color="#ffefef"/><stop offset="0.7165" stop-color="#ffd6d6"/><stop offset="0.7912" stop-color="#ffcfcf"/><stop offset="0.8257" stop-color="#ffb5b5"/><stop offset="0.8870" stop-color="#ff6464"/><stop offset="0.9100" stop-color="#ff5b5b"/><stop offset="0.9349" stop-color="#ff6e6e"/><stop offset="1.0000" stop-color="#ffd4d4"/></linearGradient><linearGradient id="ga37" gradientUnits="userSpaceOnUse" x1="0" y1="4.5" x2="0" y2="526.5"><stop offset="0.0000" stop-color="#5959ff"/><stop offset="0.0364" stop-color="#6363ff"/><stop offset="0.0556" stop-color="#7d7dff"/><stop offset="0.0728" stop-color="#afafff"/><stop offset="0.0958" stop-color="#fdfdff"/><stop offset="0.1648" stop-color="#ff5252"/><stop offset="0.1839" stop-color="#ff3737"/><stop offset="0.1992" stop-color="#ff3737"/><stop offset="0.2203" stop-color="#ff5757"/><stop offset="0.2510" stop-color="#ff8a8a"/><stop offset="0.2912" stop-color="#ffa9a9"/><stop offset="0.4100" stop-color="#ffeeee"/><stop offset="0.4847" stop-color="#fffcfc"/><stop offset="0.5939" stop-color="#ffefef"/><stop offset="0.7184" stop-color="#ffd6d6"/><stop offset="0.7912" stop-color="#ffcfcf"/><stop offset="0.8257" stop-color="#ffb5b5"/><stop offset="0.8870" stop-color="#ff6565"/><stop offset="0.9100" stop-color="#ff5c5c"/><stop offset="0.9349" stop-color="#ff6f6f"/><stop offset="1.0000" stop-color="#ffd4d4"/></linearGradient><linearGradient id="ga38" gradientUnits="userSpaceOnUse" x1="0" y1="4.5" x2="0" y2="526.5"><stop offset="0.0000" stop-color="#5959ff"/><stop offset="0.0383" stop-color="#6565ff"/><stop offset="0.0556" stop-color="#7e7eff"/><stop offset="0.0728" stop-color="#afafff"/><stop offset="0.0958" stop-color="#fdfdff"/><stop offset="0.1648" stop-color="#ff5353"/><stop offset="0.1839" stop-color="#ff3737"/><stop offset="0.1992" stop-color="#ff3838"/><stop offset="0.2203" stop-color="#ff5757"/><stop offset="0.2510" stop-color="#ff8a8a"/><stop offset="0.2912" stop-color="#ffa9a9"/><stop offset="0.4100" stop-color="#ffeeee"/><stop offset="0.4847" stop-color="#fffcfc"/><stop offset="0.5958" stop-color="#ffefef"/><stop offset="0.7184" stop-color="#ffd7d7"/><stop offset="0.7912" stop-color="#ffd0d0"/><stop offset="0.8257" stop-color="#ffb6b6"/><stop offset="0.8870" stop-color="#ff6666"/><stop offset="0.9119" stop-color="#ff5e5e"/><stop offset="0.9368" stop-color="#ff7272"/><stop offset="1.0000" stop-color="#ffd5d5"/></linearGradient><linearGradient id="ga39" gradientUnits="userSpaceOnUse" x1="0" y1="4.5" x2="0" y2="526.5"><stop offset="0.0000" stop-color="#5a5aff"/><stop offset="0.0383" stop-color="#6565ff"/><stop offset="0.0556" stop-color="#7e7eff"/><stop offset="0.0728" stop-color="#afafff"/><stop offset="0.0958" stop-color="#fdfdff"/><stop offset="0.1648" stop-color="#ff5353"/><stop offset="0.1839" stop-color="#ff3838"/><stop offset="0.1992" stop-color="#ff3838"/><stop offset="0.2222" stop-color="#ff5b5b"/><stop offset="0.2529" stop-color="#ff8d8d"/><stop offset="0.2989" stop-color="#ffaeae"/><stop offset="0.4100" stop-color="#ffeeee"/><stop offset="0.4847" stop-color="#fffcfc"/><stop offset="0.5958" stop-color="#ffefef"/><stop offset="0.7184" stop-color="#ffd7d7"/><stop offset="0.7912" stop-color="#ffd0d0"/><stop offset="0.8276" stop-color="#ffb4b4"/><stop offset="0.8870" stop-color="#ff6767"/><stop offset="0.9119" stop-color="#ff5f5f"/><stop offset="0.9368" stop-color="#ff7373"/><stop offset="1.0000" stop-color="#ffd5d5"/></linearGradient><linearGradient id="ga40" gradientUnits="userSpaceOnUse" x1="0" y1="4.5" x2="0" y2="526.5"><stop offset="0.0000" stop-color="#5a5aff"/><stop offset="0.0383" stop-color="#6565ff"/><stop offset="0.0556" stop-color="#7e7eff"/><stop offset="0.0728" stop-color="#afafff"/><stop offset="0.0958" stop-color="#fdfdff"/><stop offset="0.1648" stop-color="#ff5353"/><stop offset="0.1839" stop-color="#ff3838"/><stop offset="0.1992" stop-color="#ff3939"/><stop offset="0.2222" stop-color="#ff5c5c"/><stop offset="0.2529" stop-color="#ff8d8d"/><stop offset="0.2989" stop-color="#ffaeae"/><stop offset="0.4100" stop-color="#ffefef"/><stop offset="0.4866" stop-color="#fffcfc"/><stop offset="0.5996" stop-color="#ffefef"/><stop offset="0.7203" stop-color="#ffd8d8"/><stop offset="0.7912" stop-color="#ffd1d1"/><stop offset="0.8276" stop-color="#ffb5b5"/><stop offset="0.8870" stop-color="#ff6868"/><stop offset="0.9119" stop-color="#ff6060"/><stop offset="0.9368" stop-color="#ff7474"/><stop offset="1.0000" stop-color="#ffd5d5"/></linearGradient><linearGradient id="ga41" gradientUnits="userSpaceOnUse" x1="0" y1="4.5" x2="0" y2="526.5"><stop offset="0.0000" stop-color="#5a5aff"/><stop offset="0.0383" stop-color="#6666ff"/><stop offset="0.0556" stop-color="#7e7eff"/><stop offset="0.0728" stop-color="#b0b0ff"/><stop offset="0.0958" stop-color="#fdfdff"/><stop offset="0.1648" stop-color="#ff5454"/><stop offset="0.1839" stop-color="#ff3838"/><stop offset="0.1992" stop-color="#ff3939"/><stop offset="0.2222" stop-color="#ff5c5c"/><stop offset="0.2529" stop-color="#ff8d8d"/><stop offset="0.2989" stop-color="#ffaeae"/><stop offset="0.4100" stop-color="#ffefef"/><stop offset="0.4866" stop-color="#fffcfc"/><stop offset="0.5996" stop-color="#ffefef"/><stop offset="0.7203" stop-color="#ffd8d8"/><stop offset="0.7912" stop-color="#ffd1d1"/><stop offset="0.8276" stop-color="#ffb6b6"/><stop offset="0.8870" stop-color="#ff6969"/><stop offset="0.9119" stop-color="#ff6161"/><stop offset="0.9368" stop-color="#ff7474"/><stop offset="1.0000" stop-color="#ffd5d5"/></linearGradient><linearGradient id="ga42" gradientUnits="userSpaceOnUse" x1="0" y1="4.5" x2="0" y2="526.5"><stop offset="0.0000" stop-color="#5a5aff"/><stop offset="0.0383" stop-color="#6666ff"/><stop offset="0.0556" stop-color="#7e7eff"/><stop offset="0.0728" stop-color="#b0b0ff"/><stop offset="0.0958" stop-color="#fdfdff"/><stop offset="0.1648" stop-color="#ff5454"/><stop offset="0.1839" stop-color="#ff3939"/><stop offset="0.1992" stop-color="#ff3939"/><stop offset="0.2222" stop-color="#ff5c5c"/><stop offset="0.2529" stop-color="#ff8e8e"/><stop offset="0.2989" stop-color="#ffaeae"/><stop offset="0.4100" stop-color="#ffefef"/><stop offset="0.4866" stop-color="#fffcfc"/><stop offset="0.5996" stop-color="#ffefef"/><stop offset="0.7203" stop-color="#ffd8d8"/><stop offset="0.7912" stop-color="#ffd1d1"/><stop offset="0.8276" stop-color="#ffb6b6"/><stop offset="0.8870" stop-color="#ff6969"/><stop offset="0.9119" stop-color="#ff6161"/><stop offset="0.9368" stop-color="#ff7575"/><stop offset="1.0000" stop-color="#ffd6d6"/></linearGradient><clipPath id="gaclip"><rect x="125" y="4.5" width="245.6" height="522"/></clipPath><filter id="gaf" x="-5%" y="0" width="110%" height="100%"><feGaussianBlur stdDeviation="3 0"/></filter><linearGradient id="gb0" gradientUnits="userSpaceOnUse" x1="0" y1="51.6" x2="0" y2="494"><stop offset="0.0000" stop-color="#5858ff"/><stop offset="0.0362" stop-color="#6464ff"/><stop offset="0.0542" stop-color="#7f7fff"/><stop offset="0.0927" stop-color="#ebebff"/><stop offset="0.1017" stop-color="#fdfdff"/><stop offset="0.1492" stop-color="#ffb0b0"/><stop offset="0.1786" stop-color="#ff8383"/><stop offset="0.1989" stop-color="#ff7d7d"/><stop offset="0.2328" stop-color="#ff9d9d"/><stop offset="0.2667" stop-color="#ffb4b4"/><stop offset="0.3504" stop-color="#ffd1d1"/><stop offset="0.4363" stop-color="#fff5f5"/><stop offset="0.5289" stop-color="#fffafa"/><stop offset="0.6329" stop-color="#ffe5e5"/><stop offset="0.7301" stop-color="#ffcccc"/><stop offset="0.8047" stop-color="#ffc8c8"/><stop offset="0.8318" stop-color="#ffaeae"/><stop offset="0.8590" stop-color="#ff7878"/><stop offset="0.8929" stop-color="#ff2a2a"/><stop offset="0.9109" stop-color="#ff1919"/><stop offset="0.9290" stop-color="#ff2323"/><stop offset="0.9516" stop-color="#ff4e4e"/><stop offset="0.9946" stop-color="#ffb9b9"/><stop offset="1.0014" stop-color="#ffc4c4"/></linearGradient><linearGradient id="gb1" gradientUnits="userSpaceOnUse" x1="0" y1="51.6" x2="0" y2="494"><stop offset="0.0000" stop-color="#5858ff"/><stop offset="0.0362" stop-color="#6464ff"/><stop offset="0.0542" stop-color="#7e7eff"/><stop offset="0.0927" stop-color="#ebebff"/><stop offset="0.1017" stop-color="#fdfdff"/><stop offset="0.1469" stop-color="#ffb3b3"/><stop offset="0.1763" stop-color="#ff8585"/><stop offset="0.1967" stop-color="#ff7c7c"/><stop offset="0.2215" stop-color="#ff9090"/><stop offset="0.2577" stop-color="#ffb0b0"/><stop offset="0.3526" stop-color="#ffd2d2"/><stop offset="0.4385" stop-color="#fff5f5"/><stop offset="0.5312" stop-color="#fffafa"/><stop offset="0.6352" stop-color="#ffe4e4"/><stop offset="0.7324" stop-color="#ffcccc"/><stop offset="0.8047" stop-color="#ffc8c8"/><stop offset="0.8318" stop-color="#ffaeae"/><stop offset="0.8590" stop-color="#ff7878"/><stop offset="0.8929" stop-color="#ff2b2b"/><stop offset="0.9109" stop-color="#ff1919"/><stop offset="0.9290" stop-color="#ff2323"/><stop offset="0.9516" stop-color="#ff4f4f"/><stop offset="0.9946" stop-color="#ffb9b9"/><stop offset="1.0014" stop-color="#ffc4c4"/></linearGradient><linearGradient id="gb2" gradientUnits="userSpaceOnUse" x1="0" y1="51.6" x2="0" y2="494"><stop offset="0.0000" stop-color="#5757ff"/><stop offset="0.0362" stop-color="#6363ff"/><stop offset="0.0542" stop-color="#7d7dff"/><stop offset="0.0949" stop-color="#efefff"/><stop offset="0.1040" stop-color="#fffdfd"/><stop offset="0.1741" stop-color="#ff8686"/><stop offset="0.1944" stop-color="#ff7a7a"/><stop offset="0.2170" stop-color="#ff8989"/><stop offset="0.2532" stop-color="#ffadad"/><stop offset="0.3571" stop-color="#ffd4d4"/><stop offset="0.4385" stop-color="#fff5f5"/><stop offset="0.5312" stop-color="#fffafa"/><stop offset="0.6352" stop-color="#ffe4e4"/><stop offset="0.7324" stop-color="#ffcccc"/><stop offset="0.8047" stop-color="#ffc8c8"/><stop offset="0.8318" stop-color="#ffafaf"/><stop offset="0.8590" stop-color="#ff7979"/><stop offset="0.8929" stop-color="#ff2b2b"/><stop offset="0.9109" stop-color="#ff1a1a"/><stop offset="0.9290" stop-color="#ff2424"/><stop offset="0.9516" stop-color="#ff4f4f"/><stop offset="0.9946" stop-color="#ffb9b9"/><stop offset="1.0014" stop-color="#ffc4c4"/></linearGradient><linearGradient id="gb3" gradientUnits="userSpaceOnUse" x1="0" y1="51.6" x2="0" y2="494"><stop offset="0.0000" stop-color="#5757ff"/><stop offset="0.0362" stop-color="#6262ff"/><stop offset="0.0542" stop-color="#7b7bff"/><stop offset="0.0769" stop-color="#bcbcff"/><stop offset="0.0972" stop-color="#f3f3ff"/><stop offset="0.1040" stop-color="#fffefe"/><stop offset="0.1741" stop-color="#ff8585"/><stop offset="0.1944" stop-color="#ff7979"/><stop offset="0.2170" stop-color="#ff8888"/><stop offset="0.2532" stop-color="#ffacac"/><stop offset="0.3571" stop-color="#ffd4d4"/><stop offset="0.4385" stop-color="#fff5f5"/><stop offset="0.5312" stop-color="#fffafa"/><stop offset="0.6352" stop-color="#ffe4e4"/><stop offset="0.7324" stop-color="#ffcccc"/><stop offset="0.8047" stop-color="#ffc8c8"/><stop offset="0.8318" stop-color="#ffafaf"/><stop offset="0.8590" stop-color="#ff7979"/><stop offset="0.8929" stop-color="#ff2c2c"/><stop offset="0.9109" stop-color="#ff1b1b"/><stop offset="0.9290" stop-color="#ff2525"/><stop offset="0.9516" stop-color="#ff5050"/><stop offset="0.9946" stop-color="#ffbaba"/><stop offset="1.0014" stop-color="#ffc4c4"/></linearGradient><linearGradient id="gb4" gradientUnits="userSpaceOnUse" x1="0" y1="51.6" x2="0" y2="494"><stop offset="0.0000" stop-color="#5656ff"/><stop offset="0.0362" stop-color="#6161ff"/><stop offset="0.0542" stop-color="#7a7aff"/><stop offset="0.0746" stop-color="#b3b3ff"/><stop offset="0.0972" stop-color="#f2f2ff"/><stop offset="0.1040" stop-color="#fffefe"/><stop offset="0.1741" stop-color="#ff8383"/><stop offset="0.1944" stop-color="#ff7777"/><stop offset="0.2170" stop-color="#ff8787"/><stop offset="0.2532" stop-color="#ffabab"/><stop offset="0.3571" stop-color="#ffd3d3"/><stop offset="0.4385" stop-color="#fff5f5"/><stop offset="0.5312" stop-color="#fffafa"/><stop offset="0.6352" stop-color="#ffe4e4"/><stop offset="0.7324" stop-color="#ffcccc"/><stop offset="0.8047" stop-color="#ffc8c8"/><stop offset="0.8318" stop-color="#ffafaf"/><stop offset="0.8590" stop-color="#ff7a7a"/><stop offset="0.8929" stop-color="#ff2d2d"/><stop offset="0.9109" stop-color="#ff1c1c"/><stop offset="0.9290" stop-color="#ff2626"/><stop offset="0.9516" stop-color="#ff5151"/><stop offset="0.9946" stop-color="#ffbaba"/><stop offset="1.0014" stop-color="#ffc5c5"/></linearGradient><linearGradient id="gb5" gradientUnits="userSpaceOnUse" x1="0" y1="51.6" x2="0" y2="494"><stop offset="0.0000" stop-color="#5656ff"/><stop offset="0.0362" stop-color="#6060ff"/><stop offset="0.0542" stop-color="#7878ff"/><stop offset="0.0746" stop-color="#b1b1ff"/><stop offset="0.0972" stop-color="#f1f1ff"/><stop offset="0.1040" stop-color="#ffffff"/><stop offset="0.1718" stop-color="#ff8484"/><stop offset="0.1921" stop-color="#ff7575"/><stop offset="0.2147" stop-color="#ff8383"/><stop offset="0.2532" stop-color="#ffaaaa"/><stop offset="0.3594" stop-color="#ffd4d4"/><stop offset="0.4408" stop-color="#fff5f5"/><stop offset="0.5335" stop-color="#fffafa"/><stop offset="0.6374" stop-color="#ffe4e4"/><stop offset="0.7324" stop-color="#ffcccc"/><stop offset="0.8047" stop-color="#ffc8c8"/><stop offset="0.8318" stop-color="#ffafaf"/><stop offset="0.8590" stop-color="#ff7a7a"/><stop offset="0.8929" stop-color="#ff2e2e"/><stop offset="0.9109" stop-color="#ff1d1d"/><stop offset="0.9290" stop-color="#ff2727"/><stop offset="0.9516" stop-color="#ff5252"/><stop offset="0.9968" stop-color="#ffbfbf"/><stop offset="1.0014" stop-color="#ffc5c5"/></linearGradient><linearGradient id="gb6" gradientUnits="userSpaceOnUse" x1="0" y1="51.6" x2="0" y2="494"><stop offset="0.0000" stop-color="#5656ff"/><stop offset="0.0384" stop-color="#6161ff"/><stop offset="0.0565" stop-color="#7b7bff"/><stop offset="0.0791" stop-color="#bdbdff"/><stop offset="0.0995" stop-color="#f5f5ff"/><stop offset="0.1040" stop-color="#ffffff"/><stop offset="0.1718" stop-color="#ff8383"/><stop offset="0.1921" stop-color="#ff7373"/><stop offset="0.2125" stop-color="#ff7e7e"/><stop offset="0.2532" stop-color="#ffa9a9"/><stop offset="0.3594" stop-color="#ffd4d4"/><stop offset="0.4408" stop-color="#fff5f5"/><stop offset="0.5335" stop-color="#fffafa"/><stop offset="0.6374" stop-color="#ffe4e4"/><stop offset="0.7324" stop-color="#ffcccc"/><stop offset="0.8047" stop-color="#ffc8c8"/><stop offset="0.8318" stop-color="#ffb0b0"/><stop offset="0.8590" stop-color="#ff7b7b"/><stop offset="0.8929" stop-color="#ff3030"/><stop offset="0.9109" stop-color="#ff1f1f"/><stop offset="0.9290" stop-color="#ff2929"/><stop offset="0.9516" stop-color="#ff5353"/><stop offset="0.9968" stop-color="#ffbfbf"/><stop offset="1.0014" stop-color="#ffc5c5"/></linearGradient><linearGradient id="gb7" gradientUnits="userSpaceOnUse" x1="0" y1="51.6" x2="0" y2="494"><stop offset="0.0000" stop-color="#5555ff"/><stop offset="0.0384" stop-color="#6060ff"/><stop offset="0.0565" stop-color="#7979ff"/><stop offset="0.0769" stop-color="#b2b2ff"/><stop offset="0.0995" stop-color="#f4f4ff"/><stop offset="0.1040" stop-color="#fefeff"/><stop offset="0.1718" stop-color="#ff8181"/><stop offset="0.1921" stop-color="#ff7171"/><stop offset="0.2125" stop-color="#ff7c7c"/><stop offset="0.2532" stop-color="#ffa8a8"/><stop offset="0.3594" stop-color="#ffd3d3"/><stop offset="0.4385" stop-color="#fff5f5"/><stop offset="0.5289" stop-color="#fffafa"/><stop offset="0.6307" stop-color="#ffe6e6"/><stop offset="0.7301" stop-color="#ffcccc"/><stop offset="0.8047" stop-color="#ffc8c8"/><stop offset="0.8318" stop-color="#ffb0b0"/><stop offset="0.8590" stop-color="#ff7c7c"/><stop offset="0.8929" stop-color="#ff3131"/><stop offset="0.9109" stop-color="#ff2020"/><stop offset="0.9290" stop-color="#ff2a2a"/><stop offset="0.9516" stop-color="#ff5454"/><stop offset="0.9968" stop-color="#ffc0c0"/><stop offset="1.0014" stop-color="#ffc6c6"/></linearGradient><linearGradient id="gb8" gradientUnits="userSpaceOnUse" x1="0" y1="51.6" x2="0" y2="494"><stop offset="0.0000" stop-color="#5454ff"/><stop offset="0.0384" stop-color="#5f5fff"/><stop offset="0.0565" stop-color="#7878ff"/><stop offset="0.0769" stop-color="#b2b2ff"/><stop offset="0.0995" stop-color="#f4f4ff"/><stop offset="0.1040" stop-color="#fefeff"/><stop offset="0.1718" stop-color="#ff7e7e"/><stop offset="0.1921" stop-color="#ff6e6e"/><stop offset="0.2125" stop-color="#ff7a7a"/><stop offset="0.2532" stop-color="#ffa6a6"/><stop offset="0.3617" stop-color="#ffd4d4"/><stop offset="0.4408" stop-color="#fff5f5"/><stop offset="0.5335" stop-color="#fffafa"/><stop offset="0.6374" stop-color="#ffe4e4"/><stop offset="0.7324" stop-color="#ffcccc"/><stop offset="0.8047" stop-color="#ffc8c8"/><stop offset="0.8318" stop-color="#ffb1b1"/><stop offset="0.8590" stop-color="#ff7d7d"/><stop offset="0.8929" stop-color="#ff3333"/><stop offset="0.9109" stop-color="#ff2222"/><stop offset="0.9290" stop-color="#ff2c2c"/><stop offset="0.9516" stop-color="#ff5656"/><stop offset="0.9968" stop-color="#ffc0c0"/><stop offset="1.0014" stop-color="#ffc6c6"/></linearGradient><linearGradient id="gb9" gradientUnits="userSpaceOnUse" x1="0" y1="51.6" x2="0" y2="494"><stop offset="0.0000" stop-color="#5454ff"/><stop offset="0.0384" stop-color="#5f5fff"/><stop offset="0.0565" stop-color="#7777ff"/><stop offset="0.0769" stop-color="#b2b2ff"/><stop offset="0.0995" stop-color="#f4f4ff"/><stop offset="0.1040" stop-color="#fefeff"/><stop offset="0.1718" stop-color="#ff7b7b"/><stop offset="0.1899" stop-color="#ff6b6b"/><stop offset="0.2102" stop-color="#ff7474"/><stop offset="0.2509" stop-color="#ffa3a3"/><stop offset="0.3662" stop-color="#ffd6d6"/><stop offset="0.4430" stop-color="#fff5f5"/><stop offset="0.5357" stop-color="#fffafa"/><stop offset="0.6397" stop-color="#ffe3e3"/><stop offset="0.7324" stop-color="#ffcccc"/><stop offset="0.8047" stop-color="#ffc8c8"/><stop offset="0.8318" stop-color="#ffb1b1"/><stop offset="0.8590" stop-color="#ff7e7e"/><stop offset="0.8929" stop-color="#ff3535"/><stop offset="0.9109" stop-color="#ff2525"/><stop offset="0.9290" stop-color="#ff2f2f"/><stop offset="0.9516" stop-color="#ff5858"/><stop offset="0.9968" stop-color="#ffc1c1"/><stop offset="1.0014" stop-color="#ffc7c7"/></linearGradient><linearGradient id="gb10" gradientUnits="userSpaceOnUse" x1="0" y1="51.6" x2="0" y2="494"><stop offset="0.0000" stop-color="#5353ff"/><stop offset="0.0384" stop-color="#5e5eff"/><stop offset="0.0565" stop-color="#7777ff"/><stop offset="0.0769" stop-color="#b1b1ff"/><stop offset="0.0995" stop-color="#f4f4ff"/><stop offset="0.1040" stop-color="#ffffff"/><stop offset="0.1718" stop-color="#ff7878"/><stop offset="0.1899" stop-color="#ff6767"/><stop offset="0.2102" stop-color="#ff7171"/><stop offset="0.2509" stop-color="#ffa1a1"/><stop offset="0.3684" stop-color="#ffd7d7"/><stop offset="0.4430" stop-color="#fff5f5"/><stop offset="0.5357" stop-color="#fffafa"/><stop offset="0.6397" stop-color="#ffe3e3"/><stop offset="0.7324" stop-color="#ffcccc"/><stop offset="0.8047" stop-color="#ffc9c9"/><stop offset="0.8318" stop-color="#ffb2b2"/><stop offset="0.8590" stop-color="#ff8080"/><stop offset="0.8929" stop-color="#ff3838"/><stop offset="0.9109" stop-color="#ff2828"/><stop offset="0.9290" stop-color="#ff3232"/><stop offset="0.9516" stop-color="#ff5a5a"/><stop offset="0.9968" stop-color="#ffc2c2"/><stop offset="1.0014" stop-color="#ffc8c8"/></linearGradient><linearGradient id="gb11" gradientUnits="userSpaceOnUse" x1="0" y1="51.6" x2="0" y2="494"><stop offset="0.0000" stop-color="#5252ff"/><stop offset="0.0384" stop-color="#5d5dff"/><stop offset="0.0565" stop-color="#7676ff"/><stop offset="0.0769" stop-color="#b1b1ff"/><stop offset="0.0995" stop-color="#f5f5ff"/><stop offset="0.1040" stop-color="#ffffff"/><stop offset="0.1718" stop-color="#ff7474"/><stop offset="0.1899" stop-color="#ff6363"/><stop offset="0.2080" stop-color="#ff6a6a"/><stop offset="0.2509" stop-color="#ff9f9f"/><stop offset="0.3730" stop-color="#ffd9d9"/><stop offset="0.4476" stop-color="#fff6f6"/><stop offset="0.5402" stop-color="#fff9f9"/><stop offset="0.6465" stop-color="#ffe1e1"/><stop offset="0.7346" stop-color="#ffcccc"/><stop offset="0.8047" stop-color="#ffc9c9"/><stop offset="0.8318" stop-color="#ffb3b3"/><stop offset="0.8590" stop-color="#ff8282"/><stop offset="0.8929" stop-color="#ff3b3b"/><stop offset="0.9109" stop-color="#ff2b2b"/><stop offset="0.9290" stop-color="#ff3535"/><stop offset="0.9516" stop-color="#ff5d5d"/><stop offset="0.9968" stop-color="#ffc3c3"/><stop offset="1.0014" stop-color="#ffc9c9"/></linearGradient><linearGradient id="gb12" gradientUnits="userSpaceOnUse" x1="0" y1="51.6" x2="0" y2="494"><stop offset="0.0000" stop-color="#5353ff"/><stop offset="0.0384" stop-color="#5e5eff"/><stop offset="0.0565" stop-color="#7777ff"/><stop offset="0.0769" stop-color="#b1b1ff"/><stop offset="0.0995" stop-color="#f5f5ff"/><stop offset="0.1040" stop-color="#ffffff"/><stop offset="0.1718" stop-color="#ff7171"/><stop offset="0.1899" stop-color="#ff6060"/><stop offset="0.2080" stop-color="#ff6767"/><stop offset="0.2509" stop-color="#ff9d9d"/><stop offset="0.3752" stop-color="#ffd9d9"/><stop offset="0.4476" stop-color="#fff6f6"/><stop offset="0.5402" stop-color="#fff9f9"/><stop offset="0.6487" stop-color="#ffe0e0"/><stop offset="0.7369" stop-color="#ffcccc"/><stop offset="0.8070" stop-color="#ffc9c9"/><stop offset="0.8341" stop-color="#ffb1b1"/><stop offset="0.8635" stop-color="#ff7a7a"/><stop offset="0.8929" stop-color="#ff3f3f"/><stop offset="0.9109" stop-color="#ff2f2f"/><stop offset="0.9290" stop-color="#ff3939"/><stop offset="0.9516" stop-color="#ff6060"/><stop offset="0.9968" stop-color="#ffc4c4"/><stop offset="1.0014" stop-color="#ffcaca"/></linearGradient><linearGradient id="gb13" gradientUnits="userSpaceOnUse" x1="0" y1="51.6" x2="0" y2="494"><stop offset="0.0000" stop-color="#5353ff"/><stop offset="0.0384" stop-color="#5e5eff"/><stop offset="0.0565" stop-color="#7777ff"/><stop offset="0.0769" stop-color="#b2b2ff"/><stop offset="0.0995" stop-color="#f5f5ff"/><stop offset="0.1040" stop-color="#fffefe"/><stop offset="0.1718" stop-color="#ff6d6d"/><stop offset="0.1899" stop-color="#ff5c5c"/><stop offset="0.2080" stop-color="#ff6464"/><stop offset="0.2509" stop-color="#ff9b9b"/><stop offset="0.3074" stop-color="#ffb5b5"/><stop offset="0.4295" stop-color="#fff1f1"/><stop offset="0.5131" stop-color="#fffbfb"/><stop offset="0.6148" stop-color="#ffebeb"/><stop offset="0.7278" stop-color="#ffcdcd"/><stop offset="0.8070" stop-color="#ffc9c9"/><stop offset="0.8341" stop-color="#ffb2b2"/><stop offset="0.8657" stop-color="#ff7777"/><stop offset="0.8951" stop-color="#ff3f3f"/><stop offset="0.9132" stop-color="#ff3333"/><stop offset="0.9335" stop-color="#ff4242"/><stop offset="0.9607" stop-color="#ff7777"/><stop offset="0.9991" stop-color="#ffc9c9"/><stop offset="1.0014" stop-color="#ffcbcb"/></linearGradient><linearGradient id="gb14" gradientUnits="userSpaceOnUse" x1="0" y1="51.6" x2="0" y2="494"><stop offset="0.0000" stop-color="#5353ff"/><stop offset="0.0384" stop-color="#5e5eff"/><stop offset="0.0565" stop-color="#7777ff"/><stop offset="0.0769" stop-color="#b2b2ff"/><stop offset="0.0995" stop-color="#f6f6ff"/><stop offset="0.1040" stop-color="#fffdfd"/><stop offset="0.1718" stop-color="#ff6a6a"/><stop offset="0.1899" stop-color="#ff5858"/><stop offset="0.2080" stop-color="#ff6060"/><stop offset="0.2509" stop-color="#ff9999"/><stop offset="0.3006" stop-color="#ffb1b1"/><stop offset="0.4295" stop-color="#fff1f1"/><stop offset="0.5131" stop-color="#fffbfb"/><stop offset="0.6148" stop-color="#ffebeb"/><stop offset="0.7278" stop-color="#ffcece"/><stop offset="0.8070" stop-color="#ffcaca"/><stop offset="0.8341" stop-color="#ffb4b4"/><stop offset="0.8657" stop-color="#ff7a7a"/><stop offset="0.8951" stop-color="#ff4444"/><stop offset="0.9132" stop-color="#ff3838"/><stop offset="0.9335" stop-color="#ff4646"/><stop offset="0.9629" stop-color="#ff8080"/><stop offset="0.9991" stop-color="#ffcaca"/><stop offset="1.0014" stop-color="#ffcccc"/></linearGradient><linearGradient id="gb15" gradientUnits="userSpaceOnUse" x1="0" y1="51.6" x2="0" y2="494"><stop offset="0.0000" stop-color="#5353ff"/><stop offset="0.0384" stop-color="#5e5eff"/><stop offset="0.0565" stop-color="#7777ff"/><stop offset="0.0746" stop-color="#ababff"/><stop offset="0.0995" stop-color="#f6f6ff"/><stop offset="0.1040" stop-color="#fffdfd"/><stop offset="0.1718" stop-color="#ff6666"/><stop offset="0.1899" stop-color="#ff5353"/><stop offset="0.2080" stop-color="#ff5b5b"/><stop offset="0.2509" stop-color="#ff9696"/><stop offset="0.2984" stop-color="#ffaeae"/><stop offset="0.4295" stop-color="#fff1f1"/><stop offset="0.5131" stop-color="#fffbfb"/><stop offset="0.6148" stop-color="#ffebeb"/><stop offset="0.7278" stop-color="#ffcfcf"/><stop offset="0.8070" stop-color="#ffcbcb"/><stop offset="0.8341" stop-color="#ffb5b5"/><stop offset="0.8657" stop-color="#ff7d7d"/><stop offset="0.8951" stop-color="#ff4747"/><stop offset="0.9132" stop-color="#ff3c3c"/><stop offset="0.9335" stop-color="#ff4a4a"/><stop offset="0.9629" stop-color="#ff8282"/><stop offset="0.9991" stop-color="#ffcbcb"/><stop offset="1.0014" stop-color="#ffcdcd"/></linearGradient><linearGradient id="gb16" gradientUnits="userSpaceOnUse" x1="0" y1="51.6" x2="0" y2="494"><stop offset="0.0000" stop-color="#5454ff"/><stop offset="0.0384" stop-color="#5f5fff"/><stop offset="0.0565" stop-color="#7878ff"/><stop offset="0.0746" stop-color="#ababff"/><stop offset="0.0995" stop-color="#f7f7ff"/><stop offset="0.1040" stop-color="#fffcfc"/><stop offset="0.1718" stop-color="#ff6161"/><stop offset="0.1899" stop-color="#ff4e4e"/><stop offset="0.2080" stop-color="#ff5757"/><stop offset="0.2509" stop-color="#ff9494"/><stop offset="0.2961" stop-color="#ffacac"/><stop offset="0.4295" stop-color="#fff0f0"/><stop offset="0.5108" stop-color="#fffbfb"/><stop offset="0.6126" stop-color="#ffecec"/><stop offset="0.7301" stop-color="#ffcfcf"/><stop offset="0.8070" stop-color="#ffcccc"/><stop offset="0.8341" stop-color="#ffb6b6"/><stop offset="0.8657" stop-color="#ff8080"/><stop offset="0.8951" stop-color="#ff4b4b"/><stop offset="0.9132" stop-color="#ff4040"/><stop offset="0.9335" stop-color="#ff4e4e"/><stop offset="0.9629" stop-color="#ff8585"/><stop offset="0.9991" stop-color="#ffcdcd"/><stop offset="1.0014" stop-color="#ffcece"/></linearGradient><linearGradient id="gb17" gradientUnits="userSpaceOnUse" x1="0" y1="51.6" x2="0" y2="494"><stop offset="0.0000" stop-color="#5454ff"/><stop offset="0.0384" stop-color="#5f5fff"/><stop offset="0.0565" stop-color="#7878ff"/><stop offset="0.0746" stop-color="#ababff"/><stop offset="0.0995" stop-color="#f8f8ff"/><stop offset="0.1017" stop-color="#fdfdff"/><stop offset="0.1401" stop-color="#ffa7a7"/><stop offset="0.1718" stop-color="#ff5d5d"/><stop offset="0.1899" stop-color="#ff4949"/><stop offset="0.2080" stop-color="#ff5252"/><stop offset="0.2509" stop-color="#ff9191"/><stop offset="0.2939" stop-color="#ffaaaa"/><stop offset="0.4295" stop-color="#fff0f0"/><stop offset="0.5108" stop-color="#fffbfb"/><stop offset="0.6148" stop-color="#ffecec"/><stop offset="0.7301" stop-color="#ffd0d0"/><stop offset="0.8070" stop-color="#ffcdcd"/><stop offset="0.8363" stop-color="#ffb5b5"/><stop offset="0.8725" stop-color="#ff7575"/><stop offset="0.8974" stop-color="#ff4d4d"/><stop offset="0.9155" stop-color="#ff4545"/><stop offset="0.9358" stop-color="#ff5555"/><stop offset="0.9720" stop-color="#ff9b9b"/><stop offset="0.9991" stop-color="#ffcece"/><stop offset="1.0014" stop-color="#ffcfcf"/></linearGradient><linearGradient id="gb18" gradientUnits="userSpaceOnUse" x1="0" y1="51.6" x2="0" y2="494"><stop offset="0.0000" stop-color="#5555ff"/><stop offset="0.0384" stop-color="#6060ff"/><stop offset="0.0565" stop-color="#7878ff"/><stop offset="0.0746" stop-color="#acacff"/><stop offset="0.0995" stop-color="#f8f8ff"/><stop offset="0.1017" stop-color="#fefeff"/><stop offset="0.1424" stop-color="#ff9f9f"/><stop offset="0.1718" stop-color="#ff5858"/><stop offset="0.1899" stop-color="#ff4444"/><stop offset="0.2080" stop-color="#ff4e4e"/><stop offset="0.2509" stop-color="#ff8f8f"/><stop offset="0.2916" stop-color="#ffa7a7"/><stop offset="0.4295" stop-color="#fff0f0"/><stop offset="0.5108" stop-color="#fffbfb"/><stop offset="0.6148" stop-color="#ffecec"/><stop offset="0.7301" stop-color="#ffd1d1"/><stop offset="0.8092" stop-color="#ffcdcd"/><stop offset="0.8386" stop-color="#ffb4b4"/><stop offset="0.8951" stop-color="#ff5454"/><stop offset="0.9155" stop-color="#ff4a4a"/><stop offset="0.9358" stop-color="#ff5a5a"/><stop offset="0.9720" stop-color="#ff9e9e"/><stop offset="0.9991" stop-color="#ffcfcf"/><stop offset="1.0014" stop-color="#ffd1d1"/></linearGradient><linearGradient id="gb19" gradientUnits="userSpaceOnUse" x1="0" y1="51.6" x2="0" y2="494"><stop offset="0.0000" stop-color="#5555ff"/><stop offset="0.0384" stop-color="#6060ff"/><stop offset="0.0565" stop-color="#7979ff"/><stop offset="0.0746" stop-color="#acacff"/><stop offset="0.0995" stop-color="#f9f9ff"/><stop offset="0.1017" stop-color="#fefeff"/><stop offset="0.1447" stop-color="#ff9696"/><stop offset="0.1718" stop-color="#ff5454"/><stop offset="0.1876" stop-color="#ff4040"/><stop offset="0.2034" stop-color="#ff4444"/><stop offset="0.2509" stop-color="#ff8c8c"/><stop offset="0.2916" stop-color="#ffa5a5"/><stop offset="0.4272" stop-color="#ffefef"/><stop offset="0.5063" stop-color="#fffbfb"/><stop offset="0.6103" stop-color="#ffeeee"/><stop offset="0.7301" stop-color="#ffd2d2"/><stop offset="0.8092" stop-color="#ffcece"/><stop offset="0.8386" stop-color="#ffb6b6"/><stop offset="0.8951" stop-color="#ff5a5a"/><stop offset="0.9155" stop-color="#ff5050"/><stop offset="0.9381" stop-color="#ff6363"/><stop offset="0.9991" stop-color="#ffd1d1"/><stop offset="1.0014" stop-color="#ffd2d2"/></linearGradient><linearGradient id="gb20" gradientUnits="userSpaceOnUse" x1="0" y1="51.6" x2="0" y2="494"><stop offset="0.0000" stop-color="#5656ff"/><stop offset="0.0384" stop-color="#6161ff"/><stop offset="0.0565" stop-color="#7979ff"/><stop offset="0.0746" stop-color="#acacff"/><stop offset="0.0995" stop-color="#f9f9ff"/><stop offset="0.1017" stop-color="#ffffff"/><stop offset="0.1469" stop-color="#ff8e8e"/><stop offset="0.1718" stop-color="#ff5050"/><stop offset="0.1876" stop-color="#ff3c3c"/><stop offset="0.2034" stop-color="#ff4040"/><stop offset="0.2509" stop-color="#ff8a8a"/><stop offset="0.2893" stop-color="#ffa3a3"/><stop offset="0.4272" stop-color="#ffefef"/><stop offset="0.5063" stop-color="#fffbfb"/><stop offset="0.6103" stop-color="#ffeeee"/><stop offset="0.7324" stop-color="#ffd3d3"/><stop offset="0.8092" stop-color="#ffcfcf"/><stop offset="0.8386" stop-color="#ffb8b8"/><stop offset="0.8951" stop-color="#ff5e5e"/><stop offset="0.9155" stop-color="#ff5454"/><stop offset="0.9381" stop-color="#ff6767"/><stop offset="0.9991" stop-color="#ffd2d2"/><stop offset="1.0014" stop-color="#ffd3d3"/></linearGradient><linearGradient id="gb21" gradientUnits="userSpaceOnUse" x1="0" y1="51.6" x2="0" y2="494"><stop offset="0.0000" stop-color="#5656ff"/><stop offset="0.0384" stop-color="#6161ff"/><stop offset="0.0565" stop-color="#7a7aff"/><stop offset="0.0746" stop-color="#adadff"/><stop offset="0.0995" stop-color="#fafaff"/><stop offset="0.1017" stop-color="#ffffff"/><stop offset="0.1469" stop-color="#ff8c8c"/><stop offset="0.1718" stop-color="#ff4d4d"/><stop offset="0.1876" stop-color="#ff3939"/><stop offset="0.2034" stop-color="#ff3d3d"/><stop offset="0.2509" stop-color="#ff8888"/><stop offset="0.2893" stop-color="#ffa2a2"/><stop offset="0.4272" stop-color="#ffefef"/><stop offset="0.5063" stop-color="#fffbfb"/><stop offset="0.6126" stop-color="#ffeeee"/><stop offset="0.7324" stop-color="#ffd4d4"/><stop offset="0.8092" stop-color="#ffd1d1"/><stop offset="0.8386" stop-color="#ffbaba"/><stop offset="0.8951" stop-color="#ff6262"/><stop offset="0.9155" stop-color="#ff5959"/><stop offset="0.9381" stop-color="#ff6a6a"/><stop offset="0.9991" stop-color="#ffd3d3"/><stop offset="1.0014" stop-color="#ffd4d4"/></linearGradient><linearGradient id="gb22" gradientUnits="userSpaceOnUse" x1="0" y1="51.6" x2="0" y2="494"><stop offset="0.0000" stop-color="#5757ff"/><stop offset="0.0384" stop-color="#6262ff"/><stop offset="0.0565" stop-color="#7a7aff"/><stop offset="0.0746" stop-color="#adadff"/><stop offset="0.0995" stop-color="#fafaff"/><stop offset="0.1017" stop-color="#fffefe"/><stop offset="0.1447" stop-color="#ff9090"/><stop offset="0.1718" stop-color="#ff4a4a"/><stop offset="0.1876" stop-color="#ff3636"/><stop offset="0.2034" stop-color="#ff3a3a"/><stop offset="0.2509" stop-color="#ff8787"/><stop offset="0.2893" stop-color="#ffa1a1"/><stop offset="0.4272" stop-color="#ffefef"/><stop offset="0.5063" stop-color="#fffbfb"/><stop offset="0.6148" stop-color="#ffeeee"/><stop offset="0.7346" stop-color="#ffd5d5"/><stop offset="0.8092" stop-color="#ffd2d2"/><stop offset="0.8386" stop-color="#ffbcbc"/><stop offset="0.8951" stop-color="#ff6767"/><stop offset="0.9155" stop-color="#ff5e5e"/><stop offset="0.9381" stop-color="#ff6f6f"/><stop offset="0.9991" stop-color="#ffd4d4"/><stop offset="1.0014" stop-color="#ffd6d6"/></linearGradient><linearGradient id="gb23" gradientUnits="userSpaceOnUse" x1="0" y1="51.6" x2="0" y2="494"><stop offset="0.0000" stop-color="#5858ff"/><stop offset="0.0384" stop-color="#6262ff"/><stop offset="0.0565" stop-color="#7b7bff"/><stop offset="0.0746" stop-color="#aeaeff"/><stop offset="0.0995" stop-color="#fbfbff"/><stop offset="0.1017" stop-color="#fffefe"/><stop offset="0.1447" stop-color="#ff8e8e"/><stop offset="0.1718" stop-color="#ff4747"/><stop offset="0.1876" stop-color="#ff3232"/><stop offset="0.2034" stop-color="#ff3636"/><stop offset="0.2509" stop-color="#ff8585"/><stop offset="0.2871" stop-color="#ff9f9f"/><stop offset="0.4250" stop-color="#ffeeee"/><stop offset="0.5041" stop-color="#fffbfb"/><stop offset="0.6126" stop-color="#ffefef"/><stop offset="0.7346" stop-color="#ffd6d6"/><stop offset="0.8115" stop-color="#ffd3d3"/><stop offset="0.8409" stop-color="#ffbbbb"/><stop offset="0.8951" stop-color="#ff6c6c"/><stop offset="0.9155" stop-color="#ff6363"/><stop offset="0.9381" stop-color="#ff7474"/><stop offset="0.9991" stop-color="#ffd6d6"/><stop offset="1.0014" stop-color="#ffd7d7"/></linearGradient><linearGradient id="gb24" gradientUnits="userSpaceOnUse" x1="0" y1="51.6" x2="0" y2="494"><stop offset="0.0000" stop-color="#5858ff"/><stop offset="0.0384" stop-color="#6363ff"/><stop offset="0.0565" stop-color="#7b7bff"/><stop offset="0.0746" stop-color="#aeaeff"/><stop offset="0.0995" stop-color="#fbfbff"/><stop offset="0.1017" stop-color="#fffdfd"/><stop offset="0.1424" stop-color="#ff9393"/><stop offset="0.1695" stop-color="#ff4949"/><stop offset="0.1854" stop-color="#ff3131"/><stop offset="0.2012" stop-color="#ff3232"/><stop offset="0.2215" stop-color="#ff5252"/><stop offset="0.2509" stop-color="#ff8484"/><stop offset="0.2871" stop-color="#ff9f9f"/><stop offset="0.4250" stop-color="#ffeded"/><stop offset="0.5041" stop-color="#fffbfb"/><stop offset="0.6126" stop-color="#ffefef"/><stop offset="0.7346" stop-color="#ffd7d7"/><stop offset="0.8115" stop-color="#ffd4d4"/><stop offset="0.8431" stop-color="#ffbbbb"/><stop offset="0.8951" stop-color="#ff7171"/><stop offset="0.9155" stop-color="#ff6969"/><stop offset="0.9381" stop-color="#ff7979"/><stop offset="0.9991" stop-color="#ffd7d7"/><stop offset="1.0014" stop-color="#ffd8d8"/></linearGradient><linearGradient id="gb25" gradientUnits="userSpaceOnUse" x1="0" y1="51.6" x2="0" y2="494"><stop offset="0.0000" stop-color="#5959ff"/><stop offset="0.0384" stop-color="#6363ff"/><stop offset="0.0565" stop-color="#7c7cff"/><stop offset="0.0746" stop-color="#aeaeff"/><stop offset="0.0995" stop-color="#fbfbff"/><stop offset="0.1017" stop-color="#fffdfd"/><stop offset="0.1424" stop-color="#ff9292"/><stop offset="0.1695" stop-color="#ff4747"/><stop offset="0.1854" stop-color="#ff2e2e"/><stop offset="0.2012" stop-color="#ff2f2f"/><stop offset="0.2215" stop-color="#ff5050"/><stop offset="0.2509" stop-color="#ff8282"/><stop offset="0.2871" stop-color="#ff9e9e"/><stop offset="0.4250" stop-color="#ffeded"/><stop offset="0.5041" stop-color="#fffbfb"/><stop offset="0.6126" stop-color="#fff0f0"/><stop offset="0.7346" stop-color="#ffd8d8"/><stop offset="0.8115" stop-color="#ffd5d5"/><stop offset="0.8431" stop-color="#ffbdbd"/><stop offset="0.8974" stop-color="#ff7575"/><stop offset="0.9200" stop-color="#ff7070"/><stop offset="0.9448" stop-color="#ff8787"/><stop offset="0.9991" stop-color="#ffd9d9"/><stop offset="1.0014" stop-color="#ffdada"/></linearGradient><linearGradient id="gb26" gradientUnits="userSpaceOnUse" x1="0" y1="51.6" x2="0" y2="494"><stop offset="0.0000" stop-color="#5a5aff"/><stop offset="0.0384" stop-color="#6464ff"/><stop offset="0.0565" stop-color="#7c7cff"/><stop offset="0.0746" stop-color="#afafff"/><stop offset="0.0995" stop-color="#fcfcff"/><stop offset="0.1040" stop-color="#fff7f7"/><stop offset="0.1424" stop-color="#ff9090"/><stop offset="0.1695" stop-color="#ff4444"/><stop offset="0.1854" stop-color="#ff2b2b"/><stop offset="0.2012" stop-color="#ff2c2c"/><stop offset="0.2215" stop-color="#ff4d4d"/><stop offset="0.2509" stop-color="#ff8181"/><stop offset="0.2871" stop-color="#ff9d9d"/><stop offset="0.4250" stop-color="#ffeded"/><stop offset="0.5041" stop-color="#fffbfb"/><stop offset="0.6148" stop-color="#ffefef"/><stop offset="0.7369" stop-color="#ffd8d8"/><stop offset="0.8137" stop-color="#ffd5d5"/><stop offset="0.8454" stop-color="#ffbdbd"/><stop offset="0.8974" stop-color="#ff7c7c"/><stop offset="0.9200" stop-color="#ff7777"/><stop offset="0.9471" stop-color="#ff9090"/><stop offset="0.9991" stop-color="#ffdbdb"/><stop offset="1.0014" stop-color="#ffdcdc"/></linearGradient><linearGradient id="gb27" gradientUnits="userSpaceOnUse" x1="0" y1="51.6" x2="0" y2="494"><stop offset="0.0000" stop-color="#5a5aff"/><stop offset="0.0384" stop-color="#6565ff"/><stop offset="0.0565" stop-color="#7d7dff"/><stop offset="0.0746" stop-color="#afafff"/><stop offset="0.0995" stop-color="#fcfcff"/><stop offset="0.1062" stop-color="#fff0f0"/><stop offset="0.1424" stop-color="#ff8e8e"/><stop offset="0.1695" stop-color="#ff4141"/><stop offset="0.1854" stop-color="#ff2828"/><stop offset="0.2012" stop-color="#ff2828"/><stop offset="0.2215" stop-color="#ff4a4a"/><stop offset="0.2509" stop-color="#ff7f7f"/><stop offset="0.2848" stop-color="#ff9b9b"/><stop offset="0.4227" stop-color="#ffecec"/><stop offset="0.4995" stop-color="#fffbfb"/><stop offset="0.6103" stop-color="#fff1f1"/><stop offset="0.7369" stop-color="#ffd9d9"/><stop offset="0.8137" stop-color="#ffd7d7"/><stop offset="0.8476" stop-color="#ffbebe"/><stop offset="0.8974" stop-color="#ff8383"/><stop offset="0.9200" stop-color="#ff7f7f"/><stop offset="0.9471" stop-color="#ff9797"/><stop offset="0.9991" stop-color="#ffdddd"/><stop offset="1.0014" stop-color="#ffdede"/></linearGradient><linearGradient id="gb28" gradientUnits="userSpaceOnUse" x1="0" y1="51.6" x2="0" y2="494"><stop offset="0.0000" stop-color="#5b5bff"/><stop offset="0.0384" stop-color="#6666ff"/><stop offset="0.0565" stop-color="#7e7eff"/><stop offset="0.0746" stop-color="#b0b0ff"/><stop offset="0.0995" stop-color="#fdfdff"/><stop offset="0.1153" stop-color="#ffd9d9"/><stop offset="0.1537" stop-color="#ff6969"/><stop offset="0.1741" stop-color="#ff3434"/><stop offset="0.1899" stop-color="#ff2121"/><stop offset="0.2057" stop-color="#ff2a2a"/><stop offset="0.2486" stop-color="#ff7a7a"/><stop offset="0.2803" stop-color="#ff9797"/><stop offset="0.4227" stop-color="#ffecec"/><stop offset="0.4995" stop-color="#fffbfb"/><stop offset="0.6103" stop-color="#fff1f1"/><stop offset="0.7369" stop-color="#ffdada"/><stop offset="0.8160" stop-color="#ffd7d7"/><stop offset="0.8499" stop-color="#ffbfbf"/><stop offset="0.8974" stop-color="#ff8c8c"/><stop offset="0.9222" stop-color="#ff8989"/><stop offset="0.9516" stop-color="#ffa3a3"/><stop offset="0.9991" stop-color="#ffdfdf"/><stop offset="1.0014" stop-color="#ffe0e0"/></linearGradient><linearGradient id="gb29" gradientUnits="userSpaceOnUse" x1="0" y1="51.6" x2="0" y2="494"><stop offset="0.0000" stop-color="#5c5cff"/><stop offset="0.0384" stop-color="#6767ff"/><stop offset="0.0565" stop-color="#7f7fff"/><stop offset="0.0746" stop-color="#b0b0ff"/><stop offset="0.0995" stop-color="#fdfdff"/><stop offset="0.1334" stop-color="#ffa6a6"/><stop offset="0.1695" stop-color="#ff3a3a"/><stop offset="0.1854" stop-color="#ff1f1f"/><stop offset="0.1989" stop-color="#ff1e1e"/><stop offset="0.2170" stop-color="#ff3a3a"/><stop offset="0.2486" stop-color="#ff7878"/><stop offset="0.2803" stop-color="#ff9595"/><stop offset="0.4227" stop-color="#ffecec"/><stop offset="0.4995" stop-color="#fffbfb"/><stop offset="0.6126" stop-color="#fff1f1"/><stop offset="0.7392" stop-color="#ffdbdb"/><stop offset="0.8183" stop-color="#ffd9d9"/><stop offset="0.8544" stop-color="#ffbfbf"/><stop offset="0.8996" stop-color="#ff9494"/><stop offset="0.9245" stop-color="#ff9393"/><stop offset="0.9584" stop-color="#ffb3b3"/><stop offset="1.0014" stop-color="#ffe3e3"/></linearGradient><linearGradient id="gb30" gradientUnits="userSpaceOnUse" x1="0" y1="51.6" x2="0" y2="494"><stop offset="0.0000" stop-color="#5d5dff"/><stop offset="0.0384" stop-color="#6868ff"/><stop offset="0.0565" stop-color="#7f7fff"/><stop offset="0.0746" stop-color="#b1b1ff"/><stop offset="0.0995" stop-color="#fefeff"/><stop offset="0.1334" stop-color="#ffa6a6"/><stop offset="0.1695" stop-color="#ff3939"/><stop offset="0.1854" stop-color="#ff1f1f"/><stop offset="0.1989" stop-color="#ff1e1e"/><stop offset="0.2170" stop-color="#ff3939"/><stop offset="0.2486" stop-color="#ff7878"/><stop offset="0.2803" stop-color="#ff9595"/><stop offset="0.4204" stop-color="#ffebeb"/><stop offset="0.4950" stop-color="#fffbfb"/><stop offset="0.6080" stop-color="#fff2f2"/><stop offset="0.7392" stop-color="#ffdcdc"/><stop offset="0.8205" stop-color="#ffdada"/><stop offset="0.8590" stop-color="#ffbfbf"/><stop offset="0.9019" stop-color="#ff9a9a"/><stop offset="0.9290" stop-color="#ff9d9d"/><stop offset="0.9742" stop-color="#ffcbcb"/><stop offset="1.0014" stop-color="#ffe5e5"/></linearGradient><linearGradient id="gb31" gradientUnits="userSpaceOnUse" x1="0" y1="51.6" x2="0" y2="494"><stop offset="0.0000" stop-color="#5e5eff"/><stop offset="0.0384" stop-color="#6969ff"/><stop offset="0.0565" stop-color="#8080ff"/><stop offset="0.0769" stop-color="#b9b9ff"/><stop offset="0.0995" stop-color="#fefeff"/><stop offset="0.1334" stop-color="#ffa6a6"/><stop offset="0.1695" stop-color="#ff3b3b"/><stop offset="0.1854" stop-color="#ff2121"/><stop offset="0.1989" stop-color="#ff2020"/><stop offset="0.2170" stop-color="#ff3b3b"/><stop offset="0.2486" stop-color="#ff7979"/><stop offset="0.2803" stop-color="#ff9797"/><stop offset="0.4204" stop-color="#ffebeb"/><stop offset="0.4973" stop-color="#fffbfb"/><stop offset="0.6126" stop-color="#fff2f2"/><stop offset="0.7414" stop-color="#ffdddd"/><stop offset="0.8205" stop-color="#ffdbdb"/><stop offset="0.8612" stop-color="#ffc0c0"/><stop offset="0.9019" stop-color="#ffa0a0"/><stop offset="0.9290" stop-color="#ffa3a3"/><stop offset="0.9810" stop-color="#ffd5d5"/><stop offset="1.0014" stop-color="#ffe6e6"/></linearGradient><linearGradient id="gb32" gradientUnits="userSpaceOnUse" x1="0" y1="51.6" x2="0" y2="494"><stop offset="0.0000" stop-color="#6060ff"/><stop offset="0.0384" stop-color="#6a6aff"/><stop offset="0.0565" stop-color="#8181ff"/><stop offset="0.0769" stop-color="#b9b9ff"/><stop offset="0.0995" stop-color="#fefeff"/><stop offset="0.1334" stop-color="#ffa7a7"/><stop offset="0.1695" stop-color="#ff3d3d"/><stop offset="0.1854" stop-color="#ff2323"/><stop offset="0.2012" stop-color="#ff2424"/><stop offset="0.2215" stop-color="#ff4747"/><stop offset="0.2509" stop-color="#ff7e7e"/><stop offset="0.2848" stop-color="#ff9a9a"/><stop offset="0.4204" stop-color="#ffebeb"/><stop offset="0.4973" stop-color="#fffbfb"/><stop offset="0.6148" stop-color="#fff2f2"/><stop offset="0.7414" stop-color="#ffdede"/><stop offset="0.8228" stop-color="#ffdcdc"/><stop offset="0.8657" stop-color="#ffc0c0"/><stop offset="0.9042" stop-color="#ffa6a6"/><stop offset="0.9335" stop-color="#ffacac"/><stop offset="1.0014" stop-color="#ffe8e8"/></linearGradient><linearGradient id="gb33" gradientUnits="userSpaceOnUse" x1="0" y1="51.6" x2="0" y2="494"><stop offset="0.0000" stop-color="#6161ff"/><stop offset="0.0384" stop-color="#6b6bff"/><stop offset="0.0565" stop-color="#8383ff"/><stop offset="0.0769" stop-color="#babaff"/><stop offset="0.0995" stop-color="#fefeff"/><stop offset="0.1334" stop-color="#ffa8a8"/><stop offset="0.1695" stop-color="#ff3f3f"/><stop offset="0.1854" stop-color="#ff2626"/><stop offset="0.2012" stop-color="#ff2727"/><stop offset="0.2215" stop-color="#ff4949"/><stop offset="0.2509" stop-color="#ff7f7f"/><stop offset="0.2848" stop-color="#ff9c9c"/><stop offset="0.4227" stop-color="#ffeded"/><stop offset="0.5018" stop-color="#fffbfb"/><stop offset="0.6216" stop-color="#fff1f1"/><stop offset="0.7459" stop-color="#ffe0e0"/><stop offset="0.8250" stop-color="#ffdede"/><stop offset="0.8748" stop-color="#ffbebe"/><stop offset="0.9087" stop-color="#ffacac"/><stop offset="0.9403" stop-color="#ffb7b7"/><stop offset="1.0014" stop-color="#ffeaea"/></linearGradient><linearGradient id="gb34" gradientUnits="userSpaceOnUse" x1="0" y1="51.6" x2="0" y2="494"><stop offset="0.0000" stop-color="#6262ff"/><stop offset="0.0384" stop-color="#6c6cff"/><stop offset="0.0565" stop-color="#8383ff"/><stop offset="0.0769" stop-color="#babaff"/><stop offset="0.0995" stop-color="#fdfdff"/><stop offset="0.1334" stop-color="#ffa9a9"/><stop offset="0.1695" stop-color="#ff4141"/><stop offset="0.1854" stop-color="#ff2828"/><stop offset="0.2012" stop-color="#ff2929"/><stop offset="0.2215" stop-color="#ff4b4b"/><stop offset="0.2509" stop-color="#ff8181"/><stop offset="0.2848" stop-color="#ff9d9d"/><stop offset="0.4227" stop-color="#ffeded"/><stop offset="0.5018" stop-color="#fffbfb"/><stop offset="0.6239" stop-color="#fff1f1"/><stop offset="0.7459" stop-color="#ffe1e1"/><stop offset="0.8250" stop-color="#ffdfdf"/><stop offset="0.8816" stop-color="#ffbdbd"/><stop offset="0.9155" stop-color="#ffb1b1"/><stop offset="0.9516" stop-color="#ffc4c4"/><stop offset="1.0014" stop-color="#ffebeb"/></linearGradient><linearGradient id="gb35" gradientUnits="userSpaceOnUse" x1="0" y1="51.6" x2="0" y2="494"><stop offset="0.0000" stop-color="#6363ff"/><stop offset="0.0384" stop-color="#6d6dff"/><stop offset="0.0565" stop-color="#8484ff"/><stop offset="0.0769" stop-color="#bbbbff"/><stop offset="0.0995" stop-color="#fdfdff"/><stop offset="0.1334" stop-color="#ffaaaa"/><stop offset="0.1695" stop-color="#ff4343"/><stop offset="0.1854" stop-color="#ff2a2a"/><stop offset="0.2012" stop-color="#ff2b2b"/><stop offset="0.2215" stop-color="#ff4d4d"/><stop offset="0.2509" stop-color="#ff8282"/><stop offset="0.2848" stop-color="#ff9e9e"/><stop offset="0.4227" stop-color="#ffeded"/><stop offset="0.5041" stop-color="#fffcfc"/><stop offset="0.6284" stop-color="#fff1f1"/><stop offset="0.7482" stop-color="#ffe2e2"/><stop offset="0.8273" stop-color="#ffe0e0"/><stop offset="0.9064" stop-color="#ffb5b5"/><stop offset="0.9403" stop-color="#ffbfbf"/><stop offset="1.0014" stop-color="#ffecec"/></linearGradient><linearGradient id="gb36" gradientUnits="userSpaceOnUse" x1="0" y1="51.6" x2="0" y2="494"><stop offset="0.0000" stop-color="#6464ff"/><stop offset="0.0384" stop-color="#6e6eff"/><stop offset="0.0565" stop-color="#8585ff"/><stop offset="0.0769" stop-color="#bbbbff"/><stop offset="0.0995" stop-color="#fdfdff"/><stop offset="0.1334" stop-color="#ffabab"/><stop offset="0.1695" stop-color="#ff4545"/><stop offset="0.1854" stop-color="#ff2c2c"/><stop offset="0.2012" stop-color="#ff2d2d"/><stop offset="0.2215" stop-color="#ff4f4f"/><stop offset="0.2509" stop-color="#ff8484"/><stop offset="0.2848" stop-color="#ffa0a0"/><stop offset="0.4227" stop-color="#ffeded"/><stop offset="0.5041" stop-color="#fffcfc"/><stop offset="0.6307" stop-color="#fff1f1"/><stop offset="0.7505" stop-color="#ffe2e2"/><stop offset="0.8273" stop-color="#ffe1e1"/><stop offset="0.9064" stop-color="#ffb9b9"/><stop offset="0.9403" stop-color="#ffc2c2"/><stop offset="1.0014" stop-color="#ffeded"/></linearGradient><linearGradient id="gb37" gradientUnits="userSpaceOnUse" x1="0" y1="51.6" x2="0" y2="494"><stop offset="0.0000" stop-color="#6565ff"/><stop offset="0.0384" stop-color="#6f6fff"/><stop offset="0.0565" stop-color="#8585ff"/><stop offset="0.0769" stop-color="#bbbbff"/><stop offset="0.0995" stop-color="#fdfdff"/><stop offset="0.1311" stop-color="#ffb2b2"/><stop offset="0.1695" stop-color="#ff4747"/><stop offset="0.1854" stop-color="#ff2f2f"/><stop offset="0.2012" stop-color="#ff3030"/><stop offset="0.2215" stop-color="#ff5151"/><stop offset="0.2509" stop-color="#ff8585"/><stop offset="0.2871" stop-color="#ffa2a2"/><stop offset="0.4204" stop-color="#ffeded"/><stop offset="0.5018" stop-color="#fffcfc"/><stop offset="0.6307" stop-color="#fff1f1"/><stop offset="0.7527" stop-color="#ffe3e3"/><stop offset="0.8296" stop-color="#ffe2e2"/><stop offset="0.9087" stop-color="#ffbdbd"/><stop offset="0.9448" stop-color="#ffc9c9"/><stop offset="1.0014" stop-color="#ffeeee"/></linearGradient><linearGradient id="gb38" gradientUnits="userSpaceOnUse" x1="0" y1="51.6" x2="0" y2="494"><stop offset="0.0000" stop-color="#6666ff"/><stop offset="0.0384" stop-color="#7070ff"/><stop offset="0.0565" stop-color="#8686ff"/><stop offset="0.0769" stop-color="#bcbcff"/><stop offset="0.0995" stop-color="#fdfdff"/><stop offset="0.1243" stop-color="#ffc5c5"/><stop offset="0.1695" stop-color="#ff4a4a"/><stop offset="0.1854" stop-color="#ff3232"/><stop offset="0.2012" stop-color="#ff3333"/><stop offset="0.2215" stop-color="#ff5454"/><stop offset="0.2509" stop-color="#ff8787"/><stop offset="0.2871" stop-color="#ffa4a4"/><stop offset="0.4204" stop-color="#ffeded"/><stop offset="0.5041" stop-color="#fffcfc"/><stop offset="0.6352" stop-color="#fff1f1"/><stop offset="0.7550" stop-color="#ffe5e5"/><stop offset="0.8318" stop-color="#ffe3e3"/><stop offset="0.9087" stop-color="#ffc2c2"/><stop offset="0.9471" stop-color="#ffcece"/><stop offset="1.0014" stop-color="#fff0f0"/></linearGradient><linearGradient id="gb39" gradientUnits="userSpaceOnUse" x1="0" y1="51.6" x2="0" y2="494"><stop offset="0.0000" stop-color="#6767ff"/><stop offset="0.0384" stop-color="#7171ff"/><stop offset="0.0565" stop-color="#8787ff"/><stop offset="0.0769" stop-color="#bcbcff"/><stop offset="0.0995" stop-color="#fdfdff"/><stop offset="0.1243" stop-color="#ffc6c6"/><stop offset="0.1695" stop-color="#ff4b4b"/><stop offset="0.1854" stop-color="#ff3333"/><stop offset="0.2012" stop-color="#ff3535"/><stop offset="0.2215" stop-color="#ff5555"/><stop offset="0.2509" stop-color="#ff8888"/><stop offset="0.2871" stop-color="#ffa5a5"/><stop offset="0.4227" stop-color="#ffeeee"/><stop offset="0.5086" stop-color="#fffcfc"/><stop offset="0.6465" stop-color="#fff0f0"/><stop offset="0.7618" stop-color="#ffe6e6"/><stop offset="0.8341" stop-color="#ffe4e4"/><stop offset="0.9087" stop-color="#ffc5c5"/><stop offset="0.9494" stop-color="#ffd2d2"/><stop offset="1.0014" stop-color="#fff0f0"/></linearGradient><linearGradient id="gb40" gradientUnits="userSpaceOnUse" x1="0" y1="51.6" x2="0" y2="494"><stop offset="0.0000" stop-color="#6868ff"/><stop offset="0.0384" stop-color="#7272ff"/><stop offset="0.0565" stop-color="#8888ff"/><stop offset="0.0769" stop-color="#bdbdff"/><stop offset="0.0995" stop-color="#fdfdff"/><stop offset="0.1266" stop-color="#ffc0c0"/><stop offset="0.1695" stop-color="#ff4d4d"/><stop offset="0.1854" stop-color="#ff3535"/><stop offset="0.2012" stop-color="#ff3636"/><stop offset="0.2215" stop-color="#ff5656"/><stop offset="0.2509" stop-color="#ff8989"/><stop offset="0.2871" stop-color="#ffa5a5"/><stop offset="0.4227" stop-color="#ffeeee"/><stop offset="0.5086" stop-color="#fffcfc"/><stop offset="0.6510" stop-color="#fff0f0"/><stop offset="0.7663" stop-color="#ffe8e8"/><stop offset="0.8363" stop-color="#ffe4e4"/><stop offset="0.9087" stop-color="#ffc8c8"/><stop offset="0.9494" stop-color="#ffd4d4"/><stop offset="1.0014" stop-color="#fff1f1"/></linearGradient><linearGradient id="gb41" gradientUnits="userSpaceOnUse" x1="0" y1="51.6" x2="0" y2="494"><stop offset="0.0000" stop-color="#6a6aff"/><stop offset="0.0384" stop-color="#7373ff"/><stop offset="0.0588" stop-color="#8e8eff"/><stop offset="0.0859" stop-color="#d9d9ff"/><stop offset="0.0995" stop-color="#fdfdff"/><stop offset="0.1311" stop-color="#ffb5b5"/><stop offset="0.1695" stop-color="#ff4e4e"/><stop offset="0.1854" stop-color="#ff3636"/><stop offset="0.2012" stop-color="#ff3737"/><stop offset="0.2215" stop-color="#ff5757"/><stop offset="0.2509" stop-color="#ff8a8a"/><stop offset="0.2871" stop-color="#ffa6a6"/><stop offset="0.4227" stop-color="#ffefef"/><stop offset="0.5086" stop-color="#fffcfc"/><stop offset="0.6578" stop-color="#fff0f0"/><stop offset="0.7753" stop-color="#ffe9e9"/><stop offset="0.8409" stop-color="#ffe4e4"/><stop offset="0.9087" stop-color="#ffcaca"/><stop offset="0.9516" stop-color="#ffd7d7"/><stop offset="1.0014" stop-color="#fff2f2"/></linearGradient><linearGradient id="gb42" gradientUnits="userSpaceOnUse" x1="0" y1="51.6" x2="0" y2="494"><stop offset="0.0000" stop-color="#6b6bff"/><stop offset="0.0384" stop-color="#7575ff"/><stop offset="0.0588" stop-color="#8f8fff"/><stop offset="0.0859" stop-color="#d9d9ff"/><stop offset="0.0995" stop-color="#fdfdff"/><stop offset="0.1334" stop-color="#ffb0b0"/><stop offset="0.1695" stop-color="#ff4f4f"/><stop offset="0.1876" stop-color="#ff3737"/><stop offset="0.2034" stop-color="#ff3b3b"/><stop offset="0.2509" stop-color="#ff8b8b"/><stop offset="0.2871" stop-color="#ffa7a7"/><stop offset="0.4227" stop-color="#ffefef"/><stop offset="0.5108" stop-color="#fffcfc"/><stop offset="0.6713" stop-color="#ffefef"/><stop offset="0.8386" stop-color="#ffe6e6"/><stop offset="0.9109" stop-color="#ffcdcd"/><stop offset="0.9561" stop-color="#ffdbdb"/><stop offset="1.0014" stop-color="#fff2f2"/></linearGradient><linearGradient id="gb43" gradientUnits="userSpaceOnUse" x1="0" y1="51.6" x2="0" y2="494"><stop offset="0.0000" stop-color="#6d6dff"/><stop offset="0.0407" stop-color="#7878ff"/><stop offset="0.0588" stop-color="#9090ff"/><stop offset="0.0995" stop-color="#fdfdff"/><stop offset="0.1334" stop-color="#ffb0b0"/><stop offset="0.1695" stop-color="#ff5151"/><stop offset="0.1876" stop-color="#ff3939"/><stop offset="0.2034" stop-color="#ff3d3d"/><stop offset="0.2509" stop-color="#ff8c8c"/><stop offset="0.2871" stop-color="#ffa8a8"/><stop offset="0.4227" stop-color="#ffefef"/><stop offset="0.5108" stop-color="#fffcfc"/><stop offset="0.6894" stop-color="#ffeeee"/><stop offset="0.8363" stop-color="#ffe9e9"/><stop offset="0.9109" stop-color="#ffd0d0"/><stop offset="0.9584" stop-color="#ffdfdf"/><stop offset="1.0014" stop-color="#fff3f3"/></linearGradient><linearGradient id="gb44" gradientUnits="userSpaceOnUse" x1="0" y1="51.6" x2="0" y2="494"><stop offset="0.0000" stop-color="#6f6fff"/><stop offset="0.0407" stop-color="#7a7aff"/><stop offset="0.0588" stop-color="#9292ff"/><stop offset="0.0995" stop-color="#fdfdff"/><stop offset="0.1334" stop-color="#ffb1b1"/><stop offset="0.1695" stop-color="#ff5353"/><stop offset="0.1876" stop-color="#ff3b3b"/><stop offset="0.2034" stop-color="#ff3f3f"/><stop offset="0.2532" stop-color="#ff9090"/><stop offset="0.2939" stop-color="#ffacac"/><stop offset="0.4227" stop-color="#ffefef"/><stop offset="0.5108" stop-color="#fffdfd"/><stop offset="0.7776" stop-color="#ffeeee"/><stop offset="0.8454" stop-color="#ffe8e8"/><stop offset="0.9109" stop-color="#ffd3d3"/><stop offset="0.9629" stop-color="#ffe3e3"/><stop offset="1.0014" stop-color="#fff4f4"/></linearGradient><linearGradient id="gb45" gradientUnits="userSpaceOnUse" x1="0" y1="51.6" x2="0" y2="494"><stop offset="0.0000" stop-color="#7171ff"/><stop offset="0.0407" stop-color="#7c7cff"/><stop offset="0.0588" stop-color="#9393ff"/><stop offset="0.0995" stop-color="#fdfdff"/><stop offset="0.1334" stop-color="#ffb2b2"/><stop offset="0.1695" stop-color="#ff5555"/><stop offset="0.1876" stop-color="#ff3d3d"/><stop offset="0.2034" stop-color="#ff4141"/><stop offset="0.2532" stop-color="#ff9191"/><stop offset="0.2939" stop-color="#ffadad"/><stop offset="0.4227" stop-color="#ffefef"/><stop offset="0.5131" stop-color="#fffdfd"/><stop offset="0.7866" stop-color="#fff1f1"/><stop offset="0.8522" stop-color="#ffe8e8"/><stop offset="0.9132" stop-color="#ffd7d7"/><stop offset="0.9720" stop-color="#ffeaea"/><stop offset="1.0014" stop-color="#fff5f5"/></linearGradient><linearGradient id="gb46" gradientUnits="userSpaceOnUse" x1="0" y1="51.6" x2="0" y2="494"><stop offset="0.0000" stop-color="#7171ff"/><stop offset="0.0407" stop-color="#7c7cff"/><stop offset="0.0588" stop-color="#9494ff"/><stop offset="0.0995" stop-color="#fdfdff"/><stop offset="0.1334" stop-color="#ffb2b2"/><stop offset="0.1695" stop-color="#ff5656"/><stop offset="0.1876" stop-color="#ff3e3e"/><stop offset="0.2034" stop-color="#ff4242"/><stop offset="0.2532" stop-color="#ff9292"/><stop offset="0.2939" stop-color="#ffaeae"/><stop offset="0.4227" stop-color="#ffefef"/><stop offset="0.5131" stop-color="#fffdfd"/><stop offset="0.7957" stop-color="#fff2f2"/><stop offset="0.8612" stop-color="#ffe5e5"/><stop offset="0.9155" stop-color="#ffd8d8"/><stop offset="0.9878" stop-color="#fff1f1"/><stop offset="1.0014" stop-color="#fff5f5"/></linearGradient><linearGradient id="gb47" gradientUnits="userSpaceOnUse" x1="0" y1="51.6" x2="0" y2="494"><stop offset="0.0000" stop-color="#7272ff"/><stop offset="0.0407" stop-color="#7d7dff"/><stop offset="0.0610" stop-color="#9999ff"/><stop offset="0.0995" stop-color="#fdfdff"/><stop offset="0.1334" stop-color="#ffb3b3"/><stop offset="0.1695" stop-color="#ff5656"/><stop offset="0.1876" stop-color="#ff3e3e"/><stop offset="0.2034" stop-color="#ff4343"/><stop offset="0.2532" stop-color="#ff9292"/><stop offset="0.2961" stop-color="#ffafaf"/><stop offset="0.4227" stop-color="#fff0f0"/><stop offset="0.5154" stop-color="#fffdfd"/><stop offset="0.8386" stop-color="#ffeeee"/><stop offset="0.9132" stop-color="#ffd9d9"/><stop offset="0.9742" stop-color="#ffecec"/><stop offset="1.0014" stop-color="#fff5f5"/></linearGradient><linearGradient id="gb48" gradientUnits="userSpaceOnUse" x1="0" y1="51.6" x2="0" y2="494"><stop offset="0.0000" stop-color="#7373ff"/><stop offset="0.0407" stop-color="#7d7dff"/><stop offset="0.0610" stop-color="#9999ff"/><stop offset="0.0995" stop-color="#fdfdff"/><stop offset="0.1334" stop-color="#ffb3b3"/><stop offset="0.1695" stop-color="#ff5757"/><stop offset="0.1876" stop-color="#ff3f3f"/><stop offset="0.2034" stop-color="#ff4444"/><stop offset="0.2532" stop-color="#ff9393"/><stop offset="0.2961" stop-color="#ffb0b0"/><stop offset="0.4227" stop-color="#fff0f0"/><stop offset="0.5154" stop-color="#fffdfd"/><stop offset="0.8363" stop-color="#ffefef"/><stop offset="0.9132" stop-color="#ffdada"/><stop offset="0.9765" stop-color="#ffeded"/><stop offset="1.0014" stop-color="#fff5f5"/></linearGradient><linearGradient id="gb49" gradientUnits="userSpaceOnUse" x1="0" y1="51.6" x2="0" y2="494"><stop offset="0.0000" stop-color="#7373ff"/><stop offset="0.0407" stop-color="#7e7eff"/><stop offset="0.0610" stop-color="#9a9aff"/><stop offset="0.0995" stop-color="#fdfdff"/><stop offset="0.1334" stop-color="#ffb3b3"/><stop offset="0.1695" stop-color="#ff5858"/><stop offset="0.1876" stop-color="#ff4040"/><stop offset="0.2034" stop-color="#ff4545"/><stop offset="0.2532" stop-color="#ff9494"/><stop offset="0.2961" stop-color="#ffb1b1"/><stop offset="0.4227" stop-color="#fff0f0"/><stop offset="0.5176" stop-color="#fffdfd"/><stop offset="0.8363" stop-color="#fff0f0"/><stop offset="0.9132" stop-color="#ffdbdb"/><stop offset="0.9765" stop-color="#ffeded"/><stop offset="1.0014" stop-color="#fff6f6"/></linearGradient><linearGradient id="gb50" gradientUnits="userSpaceOnUse" x1="0" y1="51.6" x2="0" y2="494"><stop offset="0.0000" stop-color="#7474ff"/><stop offset="0.0407" stop-color="#7f7fff"/><stop offset="0.0610" stop-color="#9a9aff"/><stop offset="0.0995" stop-color="#fefeff"/><stop offset="0.1356" stop-color="#ffaeae"/><stop offset="0.1695" stop-color="#ff5959"/><stop offset="0.1876" stop-color="#ff4141"/><stop offset="0.2034" stop-color="#ff4646"/><stop offset="0.2532" stop-color="#ff9595"/><stop offset="0.2961" stop-color="#ffb2b2"/><stop offset="0.4227" stop-color="#fff0f0"/><stop offset="0.5176" stop-color="#fffdfd"/><stop offset="0.8341" stop-color="#fff2f2"/><stop offset="0.9132" stop-color="#ffdcdc"/><stop offset="0.9788" stop-color="#ffefef"/><stop offset="1.0014" stop-color="#fff6f6"/></linearGradient><linearGradient id="gb51" gradientUnits="userSpaceOnUse" x1="0" y1="51.6" x2="0" y2="494"><stop offset="0.0000" stop-color="#7575ff"/><stop offset="0.0407" stop-color="#8080ff"/><stop offset="0.0610" stop-color="#9b9bff"/><stop offset="0.0995" stop-color="#fefeff"/><stop offset="0.1356" stop-color="#ffafaf"/><stop offset="0.1695" stop-color="#ff5a5a"/><stop offset="0.1876" stop-color="#ff4242"/><stop offset="0.2034" stop-color="#ff4747"/><stop offset="0.2532" stop-color="#ff9595"/><stop offset="0.2961" stop-color="#ffb3b3"/><stop offset="0.4227" stop-color="#fff0f0"/><stop offset="0.5199" stop-color="#fffdfd"/><stop offset="0.8318" stop-color="#fff4f4"/><stop offset="0.9155" stop-color="#ffdddd"/><stop offset="1.0014" stop-color="#fff6f6"/></linearGradient><linearGradient id="gb52" gradientUnits="userSpaceOnUse" x1="0" y1="51.6" x2="0" y2="494"><stop offset="0.0000" stop-color="#7676ff"/><stop offset="0.0407" stop-color="#8181ff"/><stop offset="0.0610" stop-color="#9c9cff"/><stop offset="0.0995" stop-color="#fefeff"/><stop offset="0.1356" stop-color="#ffafaf"/><stop offset="0.1695" stop-color="#ff5b5b"/><stop offset="0.1876" stop-color="#ff4444"/><stop offset="0.2034" stop-color="#ff4848"/><stop offset="0.2532" stop-color="#ff9696"/><stop offset="0.2961" stop-color="#ffb4b4"/><stop offset="0.4204" stop-color="#fff0f0"/><stop offset="0.5176" stop-color="#fffdfd"/><stop offset="0.8296" stop-color="#fff5f5"/><stop offset="0.9155" stop-color="#ffdfdf"/><stop offset="1.0014" stop-color="#fff7f7"/></linearGradient><linearGradient id="gb53" gradientUnits="userSpaceOnUse" x1="0" y1="51.6" x2="0" y2="494"><stop offset="0.0000" stop-color="#7777ff"/><stop offset="0.0407" stop-color="#8282ff"/><stop offset="0.0610" stop-color="#9d9dff"/><stop offset="0.0995" stop-color="#fefeff"/><stop offset="0.1356" stop-color="#ffb0b0"/><stop offset="0.1695" stop-color="#ff5c5c"/><stop offset="0.1876" stop-color="#ff4545"/><stop offset="0.2034" stop-color="#ff4a4a"/><stop offset="0.2532" stop-color="#ff9898"/><stop offset="0.2961" stop-color="#ffb5b5"/><stop offset="0.4204" stop-color="#fff0f0"/><stop offset="0.5199" stop-color="#fffefe"/><stop offset="0.8296" stop-color="#fff6f6"/><stop offset="0.9155" stop-color="#ffe0e0"/><stop offset="1.0014" stop-color="#fff7f7"/></linearGradient><linearGradient id="gb54" gradientUnits="userSpaceOnUse" x1="0" y1="51.6" x2="0" y2="494"><stop offset="0.0000" stop-color="#7979ff"/><stop offset="0.0407" stop-color="#8383ff"/><stop offset="0.0610" stop-color="#9d9dff"/><stop offset="0.0995" stop-color="#fefeff"/><stop offset="0.1356" stop-color="#ffb0b0"/><stop offset="0.1695" stop-color="#ff5d5d"/><stop offset="0.1876" stop-color="#ff4747"/><stop offset="0.2034" stop-color="#ff4b4b"/><stop offset="0.2532" stop-color="#ff9999"/><stop offset="0.2961" stop-color="#ffb6b6"/><stop offset="0.4204" stop-color="#fff0f0"/><stop offset="0.5222" stop-color="#fffefe"/><stop offset="0.8296" stop-color="#fff7f7"/><stop offset="0.9155" stop-color="#ffe2e2"/><stop offset="1.0014" stop-color="#fff7f7"/></linearGradient><linearGradient id="gb55" gradientUnits="userSpaceOnUse" x1="0" y1="51.6" x2="0" y2="494"><stop offset="0.0000" stop-color="#7a7aff"/><stop offset="0.0407" stop-color="#8484ff"/><stop offset="0.0610" stop-color="#9e9eff"/><stop offset="0.0995" stop-color="#fefeff"/><stop offset="0.1356" stop-color="#ffb1b1"/><stop offset="0.1695" stop-color="#ff5f5f"/><stop offset="0.1876" stop-color="#ff4949"/><stop offset="0.2034" stop-color="#ff4d4d"/><stop offset="0.2532" stop-color="#ff9a9a"/><stop offset="0.2961" stop-color="#ffb7b7"/><stop offset="0.4204" stop-color="#fff1f1"/><stop offset="0.5244" stop-color="#fffefe"/><stop offset="0.8296" stop-color="#fff7f7"/><stop offset="0.9177" stop-color="#ffe3e3"/><stop offset="1.0014" stop-color="#fff8f8"/></linearGradient><linearGradient id="gb56" gradientUnits="userSpaceOnUse" x1="0" y1="51.6" x2="0" y2="494"><stop offset="0.0000" stop-color="#7c7cff"/><stop offset="0.0407" stop-color="#8686ff"/><stop offset="0.0610" stop-color="#a0a0ff"/><stop offset="0.0995" stop-color="#fefeff"/><stop offset="0.1356" stop-color="#ffb2b2"/><stop offset="0.1695" stop-color="#ff6161"/><stop offset="0.1876" stop-color="#ff4b4b"/><stop offset="0.2034" stop-color="#ff4f4f"/><stop offset="0.2532" stop-color="#ff9c9c"/><stop offset="0.2961" stop-color="#ffb9b9"/><stop offset="0.4204" stop-color="#fff1f1"/><stop offset="0.5267" stop-color="#fffefe"/><stop offset="0.8296" stop-color="#fff8f8"/><stop offset="0.9177" stop-color="#ffe5e5"/><stop offset="1.0014" stop-color="#fff8f8"/></linearGradient><linearGradient id="gb57" gradientUnits="userSpaceOnUse" x1="0" y1="51.6" x2="0" y2="494"><stop offset="0.0000" stop-color="#7d7dff"/><stop offset="0.0407" stop-color="#8787ff"/><stop offset="0.0610" stop-color="#a1a1ff"/><stop offset="0.0995" stop-color="#fefeff"/><stop offset="0.1356" stop-color="#ffb3b3"/><stop offset="0.1695" stop-color="#ff6363"/><stop offset="0.1876" stop-color="#ff4d4d"/><stop offset="0.2034" stop-color="#ff5151"/><stop offset="0.2532" stop-color="#ff9d9d"/><stop offset="0.2961" stop-color="#ffbaba"/><stop offset="0.4204" stop-color="#fff1f1"/><stop offset="0.5289" stop-color="#fffefe"/><stop offset="0.8296" stop-color="#fff9f9"/><stop offset="0.9200" stop-color="#ffe7e7"/><stop offset="1.0014" stop-color="#fff9f9"/></linearGradient><linearGradient id="gb58" gradientUnits="userSpaceOnUse" x1="0" y1="51.6" x2="0" y2="494"><stop offset="0.0000" stop-color="#7f7fff"/><stop offset="0.0407" stop-color="#8989ff"/><stop offset="0.0610" stop-color="#a2a2ff"/><stop offset="0.0995" stop-color="#fefeff"/><stop offset="0.1356" stop-color="#ffb4b4"/><stop offset="0.1718" stop-color="#ff6161"/><stop offset="0.1899" stop-color="#ff4e4e"/><stop offset="0.2080" stop-color="#ff5959"/><stop offset="0.2509" stop-color="#ff9d9d"/><stop offset="0.2893" stop-color="#ffb9b9"/><stop offset="0.4182" stop-color="#fff1f1"/><stop offset="0.5289" stop-color="#fffefe"/><stop offset="0.8296" stop-color="#fffafa"/><stop offset="0.9222" stop-color="#ffeaea"/><stop offset="1.0014" stop-color="#fff9f9"/></linearGradient><linearGradient id="gb59" gradientUnits="userSpaceOnUse" x1="0" y1="51.6" x2="0" y2="494"><stop offset="0.0000" stop-color="#8080ff"/><stop offset="0.0407" stop-color="#8a8aff"/><stop offset="0.0610" stop-color="#a3a3ff"/><stop offset="0.0995" stop-color="#fefeff"/><stop offset="0.1379" stop-color="#ffafaf"/><stop offset="0.1718" stop-color="#ff6262"/><stop offset="0.1899" stop-color="#ff4f4f"/><stop offset="0.2080" stop-color="#ff5a5a"/><stop offset="0.2509" stop-color="#ff9d9d"/><stop offset="0.2893" stop-color="#ffbaba"/><stop offset="0.4182" stop-color="#fff1f1"/><stop offset="0.5289" stop-color="#fffefe"/><stop offset="0.8296" stop-color="#fffbfb"/><stop offset="0.9222" stop-color="#ffebeb"/><stop offset="1.0014" stop-color="#fffafa"/></linearGradient><clipPath id="gbclip"><rect x="431.2" y="51.6" width="463.3" height="442.4"/></clipPath><filter id="gbf" x="-5%" y="0" width="110%" height="100%"><feGaussianBlur stdDeviation="3.5 0"/></filter><linearGradient id="gc0" gradientUnits="userSpaceOnUse" x1="0" y1="650" x2="0" y2="1172"><stop offset="0.0000" stop-color="#f2f2ff"/><stop offset="0.0805" stop-color="#f6f6ff"/><stop offset="0.1705" stop-color="#fffefe"/><stop offset="0.3008" stop-color="#fffafa"/><stop offset="1.0000" stop-color="#ffffff"/></linearGradient><linearGradient id="gc1" gradientUnits="userSpaceOnUse" x1="0" y1="650" x2="0" y2="1172"><stop offset="0.0000" stop-color="#f1f1ff"/><stop offset="0.0785" stop-color="#f5f5ff"/><stop offset="0.1648" stop-color="#fffefe"/><stop offset="0.2835" stop-color="#fff8f8"/><stop offset="0.6226" stop-color="#fffcfc"/><stop offset="1.0000" stop-color="#ffffff"/></linearGradient><linearGradient id="gc2" gradientUnits="userSpaceOnUse" x1="0" y1="650" x2="0" y2="1172"><stop offset="0.0000" stop-color="#f0f0ff"/><stop offset="0.0747" stop-color="#f3f3ff"/><stop offset="0.1590" stop-color="#fffefe"/><stop offset="0.2701" stop-color="#fff5f5"/><stop offset="0.5307" stop-color="#fffdfd"/><stop offset="1.0000" stop-color="#ffffff"/></linearGradient><linearGradient id="gc3" gradientUnits="userSpaceOnUse" x1="0" y1="650" x2="0" y2="1172"><stop offset="0.0000" stop-color="#efefff"/><stop offset="0.0728" stop-color="#f1f1ff"/><stop offset="0.1552" stop-color="#fffefe"/><stop offset="0.2625" stop-color="#fff2f2"/><stop offset="0.4981" stop-color="#fffcfc"/><stop offset="1.0000" stop-color="#fffcfc"/></linearGradient><linearGradient id="gc4" gradientUnits="userSpaceOnUse" x1="0" y1="650" x2="0" y2="1172"><stop offset="0.0000" stop-color="#ededff"/><stop offset="0.0709" stop-color="#f0f0ff"/><stop offset="0.1513" stop-color="#fffefe"/><stop offset="0.2567" stop-color="#ffecec"/><stop offset="0.4770" stop-color="#fffcfc"/><stop offset="0.9080" stop-color="#fff3f3"/><stop offset="0.9923" stop-color="#fff4f4"/><stop offset="1.0000" stop-color="#fff5f5"/></linearGradient><linearGradient id="gc5" gradientUnits="userSpaceOnUse" x1="0" y1="650" x2="0" y2="1172"><stop offset="0.0000" stop-color="#e9e9ff"/><stop offset="0.0670" stop-color="#ebebff"/><stop offset="0.1475" stop-color="#ffffff"/><stop offset="0.2529" stop-color="#ffe4e4"/><stop offset="0.4636" stop-color="#fffbfb"/><stop offset="0.8793" stop-color="#ffefef"/><stop offset="0.9617" stop-color="#ffe2e2"/><stop offset="1.0000" stop-color="#ffebeb"/></linearGradient><linearGradient id="gc6" gradientUnits="userSpaceOnUse" x1="0" y1="650" x2="0" y2="1172"><stop offset="0.0000" stop-color="#dfdfff"/><stop offset="0.0594" stop-color="#dedeff"/><stop offset="0.1360" stop-color="#fdfdff"/><stop offset="0.1801" stop-color="#fff6f6"/><stop offset="0.2471" stop-color="#ffdcdc"/><stop offset="0.3755" stop-color="#fff0f0"/><stop offset="0.4847" stop-color="#fff9f9"/><stop offset="0.8697" stop-color="#ffe2e2"/><stop offset="0.9521" stop-color="#ffc8c8"/><stop offset="0.9962" stop-color="#ffd7d7"/><stop offset="1.0000" stop-color="#ffdada"/></linearGradient><linearGradient id="gc7" gradientUnits="userSpaceOnUse" x1="0" y1="650" x2="0" y2="1172"><stop offset="0.0000" stop-color="#d2d2ff"/><stop offset="0.0556" stop-color="#cfcfff"/><stop offset="0.1303" stop-color="#fbfbff"/><stop offset="0.1590" stop-color="#fffcfc"/><stop offset="0.2452" stop-color="#ffd4d4"/><stop offset="0.3506" stop-color="#ffe6e6"/><stop offset="0.4483" stop-color="#fff7f7"/><stop offset="0.7165" stop-color="#ffe6e6"/><stop offset="0.8659" stop-color="#ffd5d5"/><stop offset="0.9464" stop-color="#ffacac"/><stop offset="0.9789" stop-color="#ffb4b4"/><stop offset="1.0000" stop-color="#ffc6c6"/></linearGradient><linearGradient id="gc8" gradientUnits="userSpaceOnUse" x1="0" y1="650" x2="0" y2="1172"><stop offset="0.0000" stop-color="#bbbbff"/><stop offset="0.0498" stop-color="#b4b4ff"/><stop offset="0.0824" stop-color="#d0d0ff"/><stop offset="0.1245" stop-color="#f5f5ff"/><stop offset="0.1533" stop-color="#fffdfd"/><stop offset="0.2031" stop-color="#ffe0e0"/><stop offset="0.2414" stop-color="#ffc9c9"/><stop offset="0.4330" stop-color="#fff5f5"/><stop offset="0.6456" stop-color="#ffe8e8"/><stop offset="0.8506" stop-color="#ffc9c9"/><stop offset="0.8908" stop-color="#ffadad"/><stop offset="0.9387" stop-color="#ff7d7d"/><stop offset="0.9636" stop-color="#ff7b7b"/><stop offset="0.9923" stop-color="#ff9797"/><stop offset="1.0000" stop-color="#ffa2a2"/></linearGradient><linearGradient id="gc9" gradientUnits="userSpaceOnUse" x1="0" y1="650" x2="0" y2="1172"><stop offset="0.0000" stop-color="#a3a3ff"/><stop offset="0.0479" stop-color="#9a9aff"/><stop offset="0.0728" stop-color="#b2b2ff"/><stop offset="0.1149" stop-color="#eaeaff"/><stop offset="0.1494" stop-color="#ffffff"/><stop offset="0.1935" stop-color="#ffe1e1"/><stop offset="0.2356" stop-color="#ffbebe"/><stop offset="0.2682" stop-color="#ffc3c3"/><stop offset="0.4119" stop-color="#fff1f1"/><stop offset="0.5326" stop-color="#fff0f0"/><stop offset="0.7222" stop-color="#ffd6d6"/><stop offset="0.8429" stop-color="#ffbdbd"/><stop offset="0.8774" stop-color="#ffa2a2"/><stop offset="0.9368" stop-color="#ff4e4e"/><stop offset="0.9579" stop-color="#ff4646"/><stop offset="0.9789" stop-color="#ff5858"/><stop offset="1.0000" stop-color="#ff7e7e"/></linearGradient><linearGradient id="gc10" gradientUnits="userSpaceOnUse" x1="0" y1="650" x2="0" y2="1172"><stop offset="0.0000" stop-color="#8383ff"/><stop offset="0.0421" stop-color="#7676ff"/><stop offset="0.0613" stop-color="#8484ff"/><stop offset="0.1130" stop-color="#e0e0ff"/><stop offset="0.1475" stop-color="#fefeff"/><stop offset="0.1839" stop-color="#ffe6e6"/><stop offset="0.2318" stop-color="#ffb4b4"/><stop offset="0.2567" stop-color="#ffb4b4"/><stop offset="0.3659" stop-color="#ffe4e4"/><stop offset="0.4444" stop-color="#fff3f3"/><stop offset="0.6379" stop-color="#ffe3e3"/><stop offset="0.8372" stop-color="#ffb5b5"/><stop offset="0.8716" stop-color="#ff9999"/><stop offset="0.9100" stop-color="#ff5a5a"/><stop offset="0.9387" stop-color="#ff2e2e"/><stop offset="0.9579" stop-color="#ff2727"/><stop offset="0.9770" stop-color="#ff3939"/><stop offset="1.0000" stop-color="#ff6868"/></linearGradient><linearGradient id="gc11" gradientUnits="userSpaceOnUse" x1="0" y1="650" x2="0" y2="1172"><stop offset="0.0000" stop-color="#6767ff"/><stop offset="0.0383" stop-color="#5757ff"/><stop offset="0.0556" stop-color="#5f5fff"/><stop offset="0.0766" stop-color="#8888ff"/><stop offset="0.1092" stop-color="#d2d2ff"/><stop offset="0.1360" stop-color="#f5f5ff"/><stop offset="0.1513" stop-color="#fffefe"/><stop offset="0.1897" stop-color="#ffdbdb"/><stop offset="0.2299" stop-color="#ffa9a9"/><stop offset="0.2510" stop-color="#ffa6a6"/><stop offset="0.3352" stop-color="#ffd6d6"/><stop offset="0.4195" stop-color="#fff1f1"/><stop offset="0.5441" stop-color="#ffeded"/><stop offset="0.6877" stop-color="#ffd5d5"/><stop offset="0.8352" stop-color="#ffaaaa"/><stop offset="0.8697" stop-color="#ff8b8b"/><stop offset="0.9042" stop-color="#ff4d4d"/><stop offset="0.9349" stop-color="#ff1414"/><stop offset="0.9540" stop-color="#ff0808"/><stop offset="0.9732" stop-color="#ff1717"/><stop offset="0.9962" stop-color="#ff4747"/><stop offset="1.0000" stop-color="#ff5252"/></linearGradient><linearGradient id="gc12" gradientUnits="userSpaceOnUse" x1="0" y1="650" x2="0" y2="1172"><stop offset="0.0000" stop-color="#5d5dff"/><stop offset="0.0383" stop-color="#4b4bff"/><stop offset="0.0556" stop-color="#5454ff"/><stop offset="0.0766" stop-color="#8080ff"/><stop offset="0.1092" stop-color="#cfcfff"/><stop offset="0.1360" stop-color="#f4f4ff"/><stop offset="0.1513" stop-color="#fffefe"/><stop offset="0.1877" stop-color="#ffdada"/><stop offset="0.2280" stop-color="#ffa4a4"/><stop offset="0.2471" stop-color="#ff9e9e"/><stop offset="0.3257" stop-color="#ffd0d0"/><stop offset="0.4138" stop-color="#fff0f0"/><stop offset="0.5230" stop-color="#ffefef"/><stop offset="0.6801" stop-color="#ffd7d7"/><stop offset="0.8333" stop-color="#ffabab"/><stop offset="0.8678" stop-color="#ff8d8d"/><stop offset="0.9023" stop-color="#ff5151"/><stop offset="0.9349" stop-color="#ff1616"/><stop offset="0.9540" stop-color="#ff0a0a"/><stop offset="0.9732" stop-color="#ff1818"/><stop offset="0.9962" stop-color="#ff4848"/><stop offset="1.0000" stop-color="#ff5252"/></linearGradient><linearGradient id="gc13" gradientUnits="userSpaceOnUse" x1="0" y1="650" x2="0" y2="1172"><stop offset="0.0000" stop-color="#5555ff"/><stop offset="0.0364" stop-color="#4343ff"/><stop offset="0.0536" stop-color="#4949ff"/><stop offset="0.0728" stop-color="#7070ff"/><stop offset="0.1092" stop-color="#cdcdff"/><stop offset="0.1341" stop-color="#f2f2ff"/><stop offset="0.1513" stop-color="#fffefe"/><stop offset="0.1877" stop-color="#ffd7d7"/><stop offset="0.2280" stop-color="#ff9d9d"/><stop offset="0.2471" stop-color="#ff9898"/><stop offset="0.3199" stop-color="#ffcdcd"/><stop offset="0.4080" stop-color="#ffeeee"/><stop offset="0.5077" stop-color="#fff0f0"/><stop offset="0.6782" stop-color="#ffd8d8"/><stop offset="0.8314" stop-color="#ffafaf"/><stop offset="0.8678" stop-color="#ff9090"/><stop offset="0.9042" stop-color="#ff5252"/><stop offset="0.9349" stop-color="#ff1e1e"/><stop offset="0.9540" stop-color="#ff1313"/><stop offset="0.9732" stop-color="#ff2020"/><stop offset="0.9981" stop-color="#ff5252"/><stop offset="1.0000" stop-color="#ff5757"/></linearGradient><linearGradient id="gc14" gradientUnits="userSpaceOnUse" x1="0" y1="650" x2="0" y2="1172"><stop offset="0.0000" stop-color="#4f4fff"/><stop offset="0.0364" stop-color="#3c3cff"/><stop offset="0.0536" stop-color="#4343ff"/><stop offset="0.0728" stop-color="#6a6aff"/><stop offset="0.1073" stop-color="#c7c7ff"/><stop offset="0.1322" stop-color="#efefff"/><stop offset="0.1513" stop-color="#fffdfd"/><stop offset="0.1858" stop-color="#ffd7d7"/><stop offset="0.2261" stop-color="#ff9999"/><stop offset="0.2452" stop-color="#ff9191"/><stop offset="0.3161" stop-color="#ffcaca"/><stop offset="0.4042" stop-color="#ffeeee"/><stop offset="0.4981" stop-color="#fff1f1"/><stop offset="0.6801" stop-color="#ffd8d8"/><stop offset="0.8295" stop-color="#ffb2b2"/><stop offset="0.8659" stop-color="#ff9595"/><stop offset="0.9023" stop-color="#ff5b5b"/><stop offset="0.9349" stop-color="#ff2626"/><stop offset="0.9559" stop-color="#ff1b1b"/><stop offset="0.9770" stop-color="#ff2e2e"/><stop offset="1.0000" stop-color="#ff5c5c"/></linearGradient><linearGradient id="gc15" gradientUnits="userSpaceOnUse" x1="0" y1="650" x2="0" y2="1172"><stop offset="0.0000" stop-color="#4a4aff"/><stop offset="0.0364" stop-color="#3636ff"/><stop offset="0.0517" stop-color="#3b3bff"/><stop offset="0.0690" stop-color="#5c5cff"/><stop offset="0.1073" stop-color="#c5c5ff"/><stop offset="0.1303" stop-color="#ededff"/><stop offset="0.1494" stop-color="#ffffff"/><stop offset="0.1839" stop-color="#ffd8d8"/><stop offset="0.2261" stop-color="#ff9494"/><stop offset="0.2433" stop-color="#ff8b8b"/><stop offset="0.2759" stop-color="#ffa8a8"/><stop offset="0.3238" stop-color="#ffcdcd"/><stop offset="0.4061" stop-color="#ffeeee"/><stop offset="0.5038" stop-color="#fff0f0"/><stop offset="0.6897" stop-color="#ffd7d7"/><stop offset="0.8295" stop-color="#ffb5b5"/><stop offset="0.8678" stop-color="#ff9696"/><stop offset="0.9138" stop-color="#ff4c4c"/><stop offset="0.9406" stop-color="#ff2929"/><stop offset="0.9617" stop-color="#ff2626"/><stop offset="0.9828" stop-color="#ff3e3e"/><stop offset="1.0000" stop-color="#ff6161"/></linearGradient><linearGradient id="gc16" gradientUnits="userSpaceOnUse" x1="0" y1="650" x2="0" y2="1172"><stop offset="0.0000" stop-color="#4747ff"/><stop offset="0.0364" stop-color="#3333ff"/><stop offset="0.0517" stop-color="#3838ff"/><stop offset="0.0690" stop-color="#5959ff"/><stop offset="0.1073" stop-color="#c5c5ff"/><stop offset="0.1303" stop-color="#ececff"/><stop offset="0.1494" stop-color="#fffefe"/><stop offset="0.1839" stop-color="#ffd6d6"/><stop offset="0.2261" stop-color="#ff8f8f"/><stop offset="0.2433" stop-color="#ff8787"/><stop offset="0.2739" stop-color="#ffa4a4"/><stop offset="0.3180" stop-color="#ffcaca"/><stop offset="0.4023" stop-color="#ffeeee"/><stop offset="0.4943" stop-color="#fff1f1"/><stop offset="0.6935" stop-color="#ffd8d8"/><stop offset="0.8276" stop-color="#ffb9b9"/><stop offset="0.8659" stop-color="#ff9c9c"/><stop offset="0.9119" stop-color="#ff5555"/><stop offset="0.9406" stop-color="#ff3131"/><stop offset="0.9617" stop-color="#ff2f2f"/><stop offset="0.9847" stop-color="#ff4949"/><stop offset="1.0000" stop-color="#ff6666"/></linearGradient><linearGradient id="gc17" gradientUnits="userSpaceOnUse" x1="0" y1="650" x2="0" y2="1172"><stop offset="0.0000" stop-color="#4747ff"/><stop offset="0.0364" stop-color="#3333ff"/><stop offset="0.0517" stop-color="#3838ff"/><stop offset="0.0690" stop-color="#5959ff"/><stop offset="0.1073" stop-color="#c5c5ff"/><stop offset="0.1303" stop-color="#ececff"/><stop offset="0.1494" stop-color="#fffefe"/><stop offset="0.1820" stop-color="#ffd8d8"/><stop offset="0.2261" stop-color="#ff8b8b"/><stop offset="0.2433" stop-color="#ff8383"/><stop offset="0.2720" stop-color="#ff9f9f"/><stop offset="0.3142" stop-color="#ffc7c7"/><stop offset="0.3966" stop-color="#ffecec"/><stop offset="0.4828" stop-color="#fff2f2"/><stop offset="0.6954" stop-color="#ffd9d9"/><stop offset="0.8276" stop-color="#ffbcbc"/><stop offset="0.8678" stop-color="#ff9d9d"/><stop offset="0.9349" stop-color="#ff3e3e"/><stop offset="0.9579" stop-color="#ff3636"/><stop offset="0.9808" stop-color="#ff4a4a"/><stop offset="1.0000" stop-color="#ff6c6c"/></linearGradient><linearGradient id="gc18" gradientUnits="userSpaceOnUse" x1="0" y1="650" x2="0" y2="1172"><stop offset="0.0000" stop-color="#4747ff"/><stop offset="0.0364" stop-color="#3333ff"/><stop offset="0.0517" stop-color="#3838ff"/><stop offset="0.0690" stop-color="#5959ff"/><stop offset="0.1073" stop-color="#c5c5ff"/><stop offset="0.1303" stop-color="#ececff"/><stop offset="0.1494" stop-color="#fffefe"/><stop offset="0.1820" stop-color="#ffd7d7"/><stop offset="0.2261" stop-color="#ff8888"/><stop offset="0.2433" stop-color="#ff7f7f"/><stop offset="0.2701" stop-color="#ff9b9b"/><stop offset="0.3103" stop-color="#ffc4c4"/><stop offset="0.3908" stop-color="#ffebeb"/><stop offset="0.4713" stop-color="#fff3f3"/><stop offset="0.6992" stop-color="#ffdada"/><stop offset="0.8257" stop-color="#ffc1c1"/><stop offset="0.8659" stop-color="#ffa3a3"/><stop offset="0.9349" stop-color="#ff4545"/><stop offset="0.9579" stop-color="#ff3d3d"/><stop offset="0.9808" stop-color="#ff5050"/><stop offset="1.0000" stop-color="#ff7171"/></linearGradient><linearGradient id="gc19" gradientUnits="userSpaceOnUse" x1="0" y1="650" x2="0" y2="1172"><stop offset="0.0000" stop-color="#4747ff"/><stop offset="0.0364" stop-color="#3333ff"/><stop offset="0.0517" stop-color="#3838ff"/><stop offset="0.0690" stop-color="#5959ff"/><stop offset="0.1073" stop-color="#c5c5ff"/><stop offset="0.1303" stop-color="#ededff"/><stop offset="0.1494" stop-color="#fffefe"/><stop offset="0.1820" stop-color="#ffd5d5"/><stop offset="0.2241" stop-color="#ff8686"/><stop offset="0.2414" stop-color="#ff7b7b"/><stop offset="0.2644" stop-color="#ff9191"/><stop offset="0.3046" stop-color="#ffbfbf"/><stop offset="0.3812" stop-color="#ffe8e8"/><stop offset="0.4559" stop-color="#fff3f3"/><stop offset="0.6973" stop-color="#ffdcdc"/><stop offset="0.8257" stop-color="#ffc4c4"/><stop offset="0.8659" stop-color="#ffa6a6"/><stop offset="0.9349" stop-color="#ff4a4a"/><stop offset="0.9579" stop-color="#ff4242"/><stop offset="0.9808" stop-color="#ff5454"/><stop offset="1.0000" stop-color="#ff7474"/></linearGradient><linearGradient id="gc20" gradientUnits="userSpaceOnUse" x1="0" y1="650" x2="0" y2="1172"><stop offset="0.0000" stop-color="#4747ff"/><stop offset="0.0364" stop-color="#3333ff"/><stop offset="0.0517" stop-color="#3838ff"/><stop offset="0.0690" stop-color="#5959ff"/><stop offset="0.1073" stop-color="#c5c5ff"/><stop offset="0.1303" stop-color="#ededff"/><stop offset="0.1494" stop-color="#fffdfd"/><stop offset="0.1801" stop-color="#ffd7d7"/><stop offset="0.2241" stop-color="#ff8383"/><stop offset="0.2414" stop-color="#ff7878"/><stop offset="0.2625" stop-color="#ff8b8b"/><stop offset="0.3027" stop-color="#ffbdbd"/><stop offset="0.3736" stop-color="#ffe5e5"/><stop offset="0.4464" stop-color="#fff4f4"/><stop offset="0.6992" stop-color="#ffdede"/><stop offset="0.8238" stop-color="#ffc8c8"/><stop offset="0.8659" stop-color="#ffa9a9"/><stop offset="0.9349" stop-color="#ff4e4e"/><stop offset="0.9579" stop-color="#ff4747"/><stop offset="0.9808" stop-color="#ff5858"/><stop offset="1.0000" stop-color="#ff7676"/></linearGradient><linearGradient id="gc21" gradientUnits="userSpaceOnUse" x1="0" y1="650" x2="0" y2="1172"><stop offset="0.0000" stop-color="#4747ff"/><stop offset="0.0364" stop-color="#3333ff"/><stop offset="0.0517" stop-color="#3838ff"/><stop offset="0.0690" stop-color="#5959ff"/><stop offset="0.1073" stop-color="#c5c5ff"/><stop offset="0.1322" stop-color="#efefff"/><stop offset="0.1494" stop-color="#fffdfd"/><stop offset="0.1801" stop-color="#ffd6d6"/><stop offset="0.2241" stop-color="#ff8080"/><stop offset="0.2414" stop-color="#ff7474"/><stop offset="0.2625" stop-color="#ff8989"/><stop offset="0.3008" stop-color="#ffbbbb"/><stop offset="0.3659" stop-color="#ffe2e2"/><stop offset="0.4368" stop-color="#fff3f3"/><stop offset="0.6877" stop-color="#ffe1e1"/><stop offset="0.8218" stop-color="#ffcbcb"/><stop offset="0.8640" stop-color="#ffaeae"/><stop offset="0.9349" stop-color="#ff5353"/><stop offset="0.9579" stop-color="#ff4b4b"/><stop offset="0.9828" stop-color="#ff5f5f"/><stop offset="1.0000" stop-color="#ff7979"/></linearGradient><linearGradient id="gc22" gradientUnits="userSpaceOnUse" x1="0" y1="650" x2="0" y2="1172"><stop offset="0.0000" stop-color="#4747ff"/><stop offset="0.0364" stop-color="#3333ff"/><stop offset="0.0517" stop-color="#3838ff"/><stop offset="0.0690" stop-color="#5959ff"/><stop offset="0.1073" stop-color="#c5c5ff"/><stop offset="0.1322" stop-color="#efefff"/><stop offset="0.1494" stop-color="#fffdfd"/><stop offset="0.1801" stop-color="#ffd5d5"/><stop offset="0.2241" stop-color="#ff7d7d"/><stop offset="0.2395" stop-color="#ff7171"/><stop offset="0.2586" stop-color="#ff8181"/><stop offset="0.3008" stop-color="#ffbaba"/><stop offset="0.3640" stop-color="#ffe1e1"/><stop offset="0.4330" stop-color="#fff3f3"/><stop offset="0.6820" stop-color="#ffe3e3"/><stop offset="0.8199" stop-color="#ffcfcf"/><stop offset="0.8621" stop-color="#ffb4b4"/><stop offset="0.9349" stop-color="#ff5858"/><stop offset="0.9598" stop-color="#ff5151"/><stop offset="0.9847" stop-color="#ff6565"/><stop offset="1.0000" stop-color="#ff7c7c"/></linearGradient><linearGradient id="gc23" gradientUnits="userSpaceOnUse" x1="0" y1="650" x2="0" y2="1172"><stop offset="0.0000" stop-color="#4747ff"/><stop offset="0.0364" stop-color="#3333ff"/><stop offset="0.0517" stop-color="#3838ff"/><stop offset="0.0690" stop-color="#5959ff"/><stop offset="0.1073" stop-color="#c5c5ff"/><stop offset="0.1322" stop-color="#efefff"/><stop offset="0.1475" stop-color="#ffffff"/><stop offset="0.1782" stop-color="#ffd8d8"/><stop offset="0.2241" stop-color="#ff7a7a"/><stop offset="0.2395" stop-color="#ff6e6e"/><stop offset="0.2586" stop-color="#ff7f7f"/><stop offset="0.2989" stop-color="#ffb7b7"/><stop offset="0.3563" stop-color="#ffdede"/><stop offset="0.4253" stop-color="#fff3f3"/><stop offset="0.6111" stop-color="#ffeaea"/><stop offset="0.8161" stop-color="#ffd1d1"/><stop offset="0.8602" stop-color="#ffb6b6"/><stop offset="0.9349" stop-color="#ff5c5c"/><stop offset="0.9598" stop-color="#ff5555"/><stop offset="0.9847" stop-color="#ff6969"/><stop offset="1.0000" stop-color="#ff7f7f"/></linearGradient><linearGradient id="gc24" gradientUnits="userSpaceOnUse" x1="0" y1="650" x2="0" y2="1172"><stop offset="0.0000" stop-color="#4747ff"/><stop offset="0.0364" stop-color="#3333ff"/><stop offset="0.0517" stop-color="#3838ff"/><stop offset="0.0690" stop-color="#5959ff"/><stop offset="0.1073" stop-color="#c5c5ff"/><stop offset="0.1322" stop-color="#efefff"/><stop offset="0.1475" stop-color="#fffefe"/><stop offset="0.1782" stop-color="#ffd7d7"/><stop offset="0.2241" stop-color="#ff7777"/><stop offset="0.2395" stop-color="#ff6b6b"/><stop offset="0.2567" stop-color="#ff7979"/><stop offset="0.2989" stop-color="#ffb6b6"/><stop offset="0.3544" stop-color="#ffdddd"/><stop offset="0.4215" stop-color="#fff2f2"/><stop offset="0.5785" stop-color="#ffeded"/><stop offset="0.8142" stop-color="#ffd2d2"/><stop offset="0.8602" stop-color="#ffb7b7"/><stop offset="0.9349" stop-color="#ff6060"/><stop offset="0.9598" stop-color="#ff5959"/><stop offset="0.9866" stop-color="#ff6f6f"/><stop offset="1.0000" stop-color="#ff8282"/></linearGradient><linearGradient id="gc25" gradientUnits="userSpaceOnUse" x1="0" y1="650" x2="0" y2="1172"><stop offset="0.0000" stop-color="#4747ff"/><stop offset="0.0364" stop-color="#3333ff"/><stop offset="0.0517" stop-color="#3838ff"/><stop offset="0.0690" stop-color="#5959ff"/><stop offset="0.1073" stop-color="#c5c5ff"/><stop offset="0.1322" stop-color="#efefff"/><stop offset="0.1475" stop-color="#fffefe"/><stop offset="0.1782" stop-color="#ffd6d6"/><stop offset="0.2241" stop-color="#ff7474"/><stop offset="0.2395" stop-color="#ff6868"/><stop offset="0.2567" stop-color="#ff7777"/><stop offset="0.2989" stop-color="#ffb5b5"/><stop offset="0.3525" stop-color="#ffdcdc"/><stop offset="0.4195" stop-color="#fff2f2"/><stop offset="0.5651" stop-color="#ffeeee"/><stop offset="0.8142" stop-color="#ffd2d2"/><stop offset="0.8602" stop-color="#ffb7b7"/><stop offset="0.9349" stop-color="#ff6262"/><stop offset="0.9598" stop-color="#ff5c5c"/><stop offset="0.9866" stop-color="#ff7171"/><stop offset="1.0000" stop-color="#ff8383"/></linearGradient><linearGradient id="gc26" gradientUnits="userSpaceOnUse" x1="0" y1="650" x2="0" y2="1172"><stop offset="0.0000" stop-color="#4747ff"/><stop offset="0.0364" stop-color="#3333ff"/><stop offset="0.0517" stop-color="#3838ff"/><stop offset="0.0690" stop-color="#5959ff"/><stop offset="0.1073" stop-color="#c5c5ff"/><stop offset="0.1322" stop-color="#efefff"/><stop offset="0.1475" stop-color="#fffefe"/><stop offset="0.1782" stop-color="#ffd5d5"/><stop offset="0.2241" stop-color="#ff7171"/><stop offset="0.2395" stop-color="#ff6565"/><stop offset="0.2567" stop-color="#ff7474"/><stop offset="0.2969" stop-color="#ffb2b2"/><stop offset="0.3448" stop-color="#ffd7d7"/><stop offset="0.4119" stop-color="#fff1f1"/><stop offset="0.5268" stop-color="#fff1f1"/><stop offset="0.8084" stop-color="#ffd4d4"/><stop offset="0.8563" stop-color="#ffbaba"/><stop offset="0.9349" stop-color="#ff6464"/><stop offset="0.9617" stop-color="#ff5e5e"/><stop offset="0.9885" stop-color="#ff7575"/><stop offset="1.0000" stop-color="#ff8585"/></linearGradient><linearGradient id="gc27" gradientUnits="userSpaceOnUse" x1="0" y1="650" x2="0" y2="1172"><stop offset="0.0000" stop-color="#4747ff"/><stop offset="0.0364" stop-color="#3333ff"/><stop offset="0.0517" stop-color="#3838ff"/><stop offset="0.0690" stop-color="#5959ff"/><stop offset="0.1073" stop-color="#c5c5ff"/><stop offset="0.1322" stop-color="#efefff"/><stop offset="0.1475" stop-color="#fffefe"/><stop offset="0.1762" stop-color="#ffd8d8"/><stop offset="0.2241" stop-color="#ff6e6e"/><stop offset="0.2395" stop-color="#ff6262"/><stop offset="0.2567" stop-color="#ff7272"/><stop offset="0.2969" stop-color="#ffb1b1"/><stop offset="0.3429" stop-color="#ffd6d6"/><stop offset="0.4100" stop-color="#fff1f1"/><stop offset="0.5192" stop-color="#fff2f2"/><stop offset="0.8065" stop-color="#ffd5d5"/><stop offset="0.8563" stop-color="#ffbbbb"/><stop offset="0.9349" stop-color="#ff6666"/><stop offset="0.9617" stop-color="#ff6060"/><stop offset="0.9904" stop-color="#ff7878"/><stop offset="1.0000" stop-color="#ff8686"/></linearGradient><linearGradient id="gc28" gradientUnits="userSpaceOnUse" x1="0" y1="650" x2="0" y2="1172"><stop offset="0.0000" stop-color="#4747ff"/><stop offset="0.0364" stop-color="#3333ff"/><stop offset="0.0517" stop-color="#3838ff"/><stop offset="0.0690" stop-color="#5959ff"/><stop offset="0.1073" stop-color="#c5c5ff"/><stop offset="0.1322" stop-color="#efefff"/><stop offset="0.1475" stop-color="#fffefe"/><stop offset="0.1762" stop-color="#ffd7d7"/><stop offset="0.2241" stop-color="#ff6b6b"/><stop offset="0.2395" stop-color="#ff5e5e"/><stop offset="0.2567" stop-color="#ff6f6f"/><stop offset="0.2969" stop-color="#ffb1b1"/><stop offset="0.3429" stop-color="#ffd6d6"/><stop offset="0.4100" stop-color="#fff1f1"/><stop offset="0.5192" stop-color="#fff2f2"/><stop offset="0.8046" stop-color="#ffd6d6"/><stop offset="0.8544" stop-color="#ffbcbc"/><stop offset="0.9349" stop-color="#ff6767"/><stop offset="0.9617" stop-color="#ff6262"/><stop offset="0.9904" stop-color="#ff7a7a"/><stop offset="1.0000" stop-color="#ff8787"/></linearGradient><linearGradient id="gc29" gradientUnits="userSpaceOnUse" x1="0" y1="650" x2="0" y2="1172"><stop offset="0.0000" stop-color="#4747ff"/><stop offset="0.0364" stop-color="#3333ff"/><stop offset="0.0517" stop-color="#3838ff"/><stop offset="0.0690" stop-color="#5959ff"/><stop offset="0.1073" stop-color="#c5c5ff"/><stop offset="0.1322" stop-color="#efefff"/><stop offset="0.1475" stop-color="#fffefe"/><stop offset="0.1762" stop-color="#ffd6d6"/><stop offset="0.2241" stop-color="#ff6868"/><stop offset="0.2395" stop-color="#ff5b5b"/><stop offset="0.2567" stop-color="#ff6c6c"/><stop offset="0.2969" stop-color="#ffb0b0"/><stop offset="0.3410" stop-color="#ffd5d5"/><stop offset="0.4080" stop-color="#fff1f1"/><stop offset="0.5134" stop-color="#fff3f3"/><stop offset="0.8027" stop-color="#ffd6d6"/><stop offset="0.8544" stop-color="#ffbcbc"/><stop offset="0.9349" stop-color="#ff6969"/><stop offset="0.9617" stop-color="#ff6464"/><stop offset="0.9904" stop-color="#ff7b7b"/><stop offset="1.0000" stop-color="#ff8888"/></linearGradient><linearGradient id="gc30" gradientUnits="userSpaceOnUse" x1="0" y1="650" x2="0" y2="1172"><stop offset="0.0000" stop-color="#4747ff"/><stop offset="0.0364" stop-color="#3333ff"/><stop offset="0.0517" stop-color="#3838ff"/><stop offset="0.0690" stop-color="#5959ff"/><stop offset="0.1073" stop-color="#c5c5ff"/><stop offset="0.1322" stop-color="#f0f0ff"/><stop offset="0.1475" stop-color="#fffdfd"/><stop offset="0.1762" stop-color="#ffd5d5"/><stop offset="0.2241" stop-color="#ff6565"/><stop offset="0.2395" stop-color="#ff5858"/><stop offset="0.2548" stop-color="#ff6767"/><stop offset="0.2969" stop-color="#ffafaf"/><stop offset="0.3391" stop-color="#ffd3d3"/><stop offset="0.4061" stop-color="#fff0f0"/><stop offset="0.5057" stop-color="#fff4f4"/><stop offset="0.7989" stop-color="#ffd7d7"/><stop offset="0.8506" stop-color="#ffbfbf"/><stop offset="0.9080" stop-color="#ff8484"/><stop offset="0.9425" stop-color="#ff6767"/><stop offset="0.9693" stop-color="#ff6a6a"/><stop offset="1.0000" stop-color="#ff8989"/></linearGradient><linearGradient id="gc31" gradientUnits="userSpaceOnUse" x1="0" y1="650" x2="0" y2="1172"><stop offset="0.0000" stop-color="#4747ff"/><stop offset="0.0364" stop-color="#3333ff"/><stop offset="0.0517" stop-color="#3838ff"/><stop offset="0.0690" stop-color="#5959ff"/><stop offset="0.1073" stop-color="#c5c5ff"/><stop offset="0.1322" stop-color="#f0f0ff"/><stop offset="0.1475" stop-color="#fffdfd"/><stop offset="0.1762" stop-color="#ffd4d4"/><stop offset="0.2222" stop-color="#ff6666"/><stop offset="0.2375" stop-color="#ff5555"/><stop offset="0.2529" stop-color="#ff6161"/><stop offset="0.2969" stop-color="#ffaeae"/><stop offset="0.3391" stop-color="#ffd3d3"/><stop offset="0.4042" stop-color="#fff0f0"/><stop offset="0.5019" stop-color="#fff4f4"/><stop offset="0.7950" stop-color="#ffd8d8"/><stop offset="0.8487" stop-color="#ffc1c1"/><stop offset="0.9042" stop-color="#ff8989"/><stop offset="0.9406" stop-color="#ff6969"/><stop offset="0.9674" stop-color="#ff6a6a"/><stop offset="0.9981" stop-color="#ff8888"/><stop offset="1.0000" stop-color="#ff8a8a"/></linearGradient><linearGradient id="gc32" gradientUnits="userSpaceOnUse" x1="0" y1="650" x2="0" y2="1172"><stop offset="0.0000" stop-color="#4747ff"/><stop offset="0.0364" stop-color="#3333ff"/><stop offset="0.0517" stop-color="#3838ff"/><stop offset="0.0690" stop-color="#5959ff"/><stop offset="0.1073" stop-color="#c5c5ff"/><stop offset="0.1322" stop-color="#f0f0ff"/><stop offset="0.1456" stop-color="#ffffff"/><stop offset="0.1743" stop-color="#ffd7d7"/><stop offset="0.2050" stop-color="#ff8c8c"/><stop offset="0.2261" stop-color="#ff5d5d"/><stop offset="0.2395" stop-color="#ff5353"/><stop offset="0.2548" stop-color="#ff6262"/><stop offset="0.2950" stop-color="#ffabab"/><stop offset="0.3333" stop-color="#ffcfcf"/><stop offset="0.3985" stop-color="#ffeeee"/><stop offset="0.4866" stop-color="#fff5f5"/><stop offset="0.7912" stop-color="#ffd9d9"/><stop offset="0.8448" stop-color="#ffc4c4"/><stop offset="0.8966" stop-color="#ff9292"/><stop offset="0.9368" stop-color="#ff6c6c"/><stop offset="0.9636" stop-color="#ff6969"/><stop offset="0.9943" stop-color="#ff8383"/><stop offset="1.0000" stop-color="#ff8b8b"/></linearGradient><linearGradient id="gc33" gradientUnits="userSpaceOnUse" x1="0" y1="650" x2="0" y2="1172"><stop offset="0.0000" stop-color="#4747ff"/><stop offset="0.0364" stop-color="#3333ff"/><stop offset="0.0517" stop-color="#3838ff"/><stop offset="0.0690" stop-color="#5959ff"/><stop offset="0.1073" stop-color="#c5c5ff"/><stop offset="0.1322" stop-color="#f0f0ff"/><stop offset="0.1456" stop-color="#ffffff"/><stop offset="0.1743" stop-color="#ffd7d7"/><stop offset="0.2031" stop-color="#ff8f8f"/><stop offset="0.2241" stop-color="#ff5d5d"/><stop offset="0.2395" stop-color="#ff5050"/><stop offset="0.2548" stop-color="#ff6060"/><stop offset="0.2950" stop-color="#ffaaaa"/><stop offset="0.3333" stop-color="#ffcfcf"/><stop offset="0.3985" stop-color="#ffefef"/><stop offset="0.4866" stop-color="#fff5f5"/><stop offset="0.7912" stop-color="#ffdada"/><stop offset="0.8448" stop-color="#ffc4c4"/><stop offset="0.8966" stop-color="#ff9393"/><stop offset="0.9368" stop-color="#ff6d6d"/><stop offset="0.9636" stop-color="#ff6a6a"/><stop offset="0.9943" stop-color="#ff8484"/><stop offset="1.0000" stop-color="#ff8b8b"/></linearGradient><linearGradient id="gc34" gradientUnits="userSpaceOnUse" x1="0" y1="650" x2="0" y2="1172"><stop offset="0.0000" stop-color="#4747ff"/><stop offset="0.0364" stop-color="#3333ff"/><stop offset="0.0517" stop-color="#3838ff"/><stop offset="0.0690" stop-color="#5959ff"/><stop offset="0.1073" stop-color="#c5c5ff"/><stop offset="0.1322" stop-color="#f0f0ff"/><stop offset="0.1456" stop-color="#ffffff"/><stop offset="0.1743" stop-color="#ffd6d6"/><stop offset="0.2031" stop-color="#ff8e8e"/><stop offset="0.2241" stop-color="#ff5b5b"/><stop offset="0.2395" stop-color="#ff4d4d"/><stop offset="0.2548" stop-color="#ff5d5d"/><stop offset="0.2950" stop-color="#ffa9a9"/><stop offset="0.3314" stop-color="#ffcdcd"/><stop offset="0.3966" stop-color="#ffeeee"/><stop offset="0.4808" stop-color="#fff5f5"/><stop offset="0.7874" stop-color="#ffdbdb"/><stop offset="0.8429" stop-color="#ffc5c5"/><stop offset="0.8946" stop-color="#ff9595"/><stop offset="0.9368" stop-color="#ff6d6d"/><stop offset="0.9655" stop-color="#ff6b6b"/><stop offset="0.9962" stop-color="#ff8686"/><stop offset="1.0000" stop-color="#ff8b8b"/></linearGradient><linearGradient id="gc35" gradientUnits="userSpaceOnUse" x1="0" y1="650" x2="0" y2="1172"><stop offset="0.0000" stop-color="#4747ff"/><stop offset="0.0364" stop-color="#3333ff"/><stop offset="0.0517" stop-color="#3838ff"/><stop offset="0.0690" stop-color="#5959ff"/><stop offset="0.1073" stop-color="#c5c5ff"/><stop offset="0.1322" stop-color="#f0f0ff"/><stop offset="0.1456" stop-color="#ffffff"/><stop offset="0.1743" stop-color="#ffd5d5"/><stop offset="0.2031" stop-color="#ff8c8c"/><stop offset="0.2241" stop-color="#ff5858"/><stop offset="0.2375" stop-color="#ff4b4b"/><stop offset="0.2510" stop-color="#ff5555"/><stop offset="0.2950" stop-color="#ffa8a8"/><stop offset="0.3314" stop-color="#ffcdcd"/><stop offset="0.3966" stop-color="#ffeeee"/><stop offset="0.4808" stop-color="#fff5f5"/><stop offset="0.7874" stop-color="#ffdbdb"/><stop offset="0.8429" stop-color="#ffc6c6"/><stop offset="0.8946" stop-color="#ff9595"/><stop offset="0.9368" stop-color="#ff6e6e"/><stop offset="0.9655" stop-color="#ff6c6c"/><stop offset="0.9962" stop-color="#ff8787"/><stop offset="1.0000" stop-color="#ff8c8c"/></linearGradient><linearGradient id="gc36" gradientUnits="userSpaceOnUse" x1="0" y1="650" x2="0" y2="1172"><stop offset="0.0000" stop-color="#4747ff"/><stop offset="0.0364" stop-color="#3333ff"/><stop offset="0.0517" stop-color="#3838ff"/><stop offset="0.0690" stop-color="#5959ff"/><stop offset="0.1073" stop-color="#c5c5ff"/><stop offset="0.1322" stop-color="#f0f0ff"/><stop offset="0.1456" stop-color="#ffffff"/><stop offset="0.1743" stop-color="#ffd5d5"/><stop offset="0.2031" stop-color="#ff8a8a"/><stop offset="0.2241" stop-color="#ff5656"/><stop offset="0.2375" stop-color="#ff4848"/><stop offset="0.2510" stop-color="#ff5252"/><stop offset="0.2950" stop-color="#ffa8a8"/><stop offset="0.3314" stop-color="#ffcdcd"/><stop offset="0.3946" stop-color="#ffeeee"/><stop offset="0.4770" stop-color="#fff5f5"/><stop offset="0.7854" stop-color="#ffdcdc"/><stop offset="0.8410" stop-color="#ffc7c7"/><stop offset="0.8927" stop-color="#ff9898"/><stop offset="0.9368" stop-color="#ff6f6f"/><stop offset="0.9655" stop-color="#ff6d6d"/><stop offset="0.9962" stop-color="#ff8787"/><stop offset="1.0000" stop-color="#ff8c8c"/></linearGradient><linearGradient id="gc37" gradientUnits="userSpaceOnUse" x1="0" y1="650" x2="0" y2="1172"><stop offset="0.0000" stop-color="#4747ff"/><stop offset="0.0364" stop-color="#3333ff"/><stop offset="0.0517" stop-color="#3838ff"/><stop offset="0.0690" stop-color="#5959ff"/><stop offset="0.1073" stop-color="#c5c5ff"/><stop offset="0.1322" stop-color="#f0f0ff"/><stop offset="0.1456" stop-color="#fffefe"/><stop offset="0.1743" stop-color="#ffd4d4"/><stop offset="0.2011" stop-color="#ff8e8e"/><stop offset="0.2241" stop-color="#ff5353"/><stop offset="0.2375" stop-color="#ff4545"/><stop offset="0.2510" stop-color="#ff5050"/><stop offset="0.2950" stop-color="#ffa7a7"/><stop offset="0.3295" stop-color="#ffcbcb"/><stop offset="0.3927" stop-color="#ffeded"/><stop offset="0.4732" stop-color="#fff6f6"/><stop offset="0.7835" stop-color="#ffdcdc"/><stop offset="0.8410" stop-color="#ffc7c7"/><stop offset="0.8927" stop-color="#ff9898"/><stop offset="0.9368" stop-color="#ff6f6f"/><stop offset="0.9655" stop-color="#ff6e6e"/><stop offset="0.9981" stop-color="#ff8a8a"/><stop offset="1.0000" stop-color="#ff8d8d"/></linearGradient><linearGradient id="gc38" gradientUnits="userSpaceOnUse" x1="0" y1="650" x2="0" y2="1172"><stop offset="0.0000" stop-color="#4747ff"/><stop offset="0.0364" stop-color="#3333ff"/><stop offset="0.0517" stop-color="#3838ff"/><stop offset="0.0690" stop-color="#5959ff"/><stop offset="0.1073" stop-color="#c5c5ff"/><stop offset="0.1322" stop-color="#f0f0ff"/><stop offset="0.1456" stop-color="#fffefe"/><stop offset="0.1724" stop-color="#ffd7d7"/><stop offset="0.1973" stop-color="#ff9898"/><stop offset="0.2222" stop-color="#ff5454"/><stop offset="0.2375" stop-color="#ff4343"/><stop offset="0.2510" stop-color="#ff4d4d"/><stop offset="0.2950" stop-color="#ffa6a6"/><stop offset="0.3295" stop-color="#ffcbcb"/><stop offset="0.3927" stop-color="#ffeded"/><stop offset="0.4732" stop-color="#fff6f6"/><stop offset="0.7835" stop-color="#ffdcdc"/><stop offset="0.8410" stop-color="#ffc7c7"/><stop offset="0.8927" stop-color="#ff9999"/><stop offset="0.9368" stop-color="#ff7070"/><stop offset="0.9655" stop-color="#ff6e6e"/><stop offset="0.9981" stop-color="#ff8b8b"/><stop offset="1.0000" stop-color="#ff8d8d"/></linearGradient><linearGradient id="gc39" gradientUnits="userSpaceOnUse" x1="0" y1="650" x2="0" y2="1172"><stop offset="0.0000" stop-color="#4747ff"/><stop offset="0.0364" stop-color="#3333ff"/><stop offset="0.0517" stop-color="#3838ff"/><stop offset="0.0690" stop-color="#5959ff"/><stop offset="0.1073" stop-color="#c5c5ff"/><stop offset="0.1322" stop-color="#f0f0ff"/><stop offset="0.1456" stop-color="#fffefe"/><stop offset="0.1724" stop-color="#ffd7d7"/><stop offset="0.1973" stop-color="#ff9696"/><stop offset="0.2222" stop-color="#ff5252"/><stop offset="0.2356" stop-color="#ff4040"/><stop offset="0.2490" stop-color="#ff4848"/><stop offset="0.2950" stop-color="#ffa5a5"/><stop offset="0.3295" stop-color="#ffcbcb"/><stop offset="0.3927" stop-color="#ffeded"/><stop offset="0.4732" stop-color="#fff6f6"/><stop offset="0.7835" stop-color="#ffdddd"/><stop offset="0.8410" stop-color="#ffc7c7"/><stop offset="0.8946" stop-color="#ff9797"/><stop offset="0.9368" stop-color="#ff7171"/><stop offset="0.9655" stop-color="#ff6f6f"/><stop offset="0.9981" stop-color="#ff8b8b"/><stop offset="1.0000" stop-color="#ff8e8e"/></linearGradient><linearGradient id="gc40" gradientUnits="userSpaceOnUse" x1="0" y1="650" x2="0" y2="1172"><stop offset="0.0000" stop-color="#4747ff"/><stop offset="0.0364" stop-color="#3333ff"/><stop offset="0.0517" stop-color="#3838ff"/><stop offset="0.0690" stop-color="#5959ff"/><stop offset="0.1073" stop-color="#c5c5ff"/><stop offset="0.1322" stop-color="#f0f0ff"/><stop offset="0.1456" stop-color="#fffefe"/><stop offset="0.1724" stop-color="#ffd6d6"/><stop offset="0.1973" stop-color="#ff9494"/><stop offset="0.2222" stop-color="#ff4f4f"/><stop offset="0.2356" stop-color="#ff3e3e"/><stop offset="0.2490" stop-color="#ff4646"/><stop offset="0.2950" stop-color="#ffa4a4"/><stop offset="0.3295" stop-color="#ffcaca"/><stop offset="0.3908" stop-color="#ffeded"/><stop offset="0.4693" stop-color="#fff6f6"/><stop offset="0.7816" stop-color="#ffdddd"/><stop offset="0.8391" stop-color="#ffc9c9"/><stop offset="0.8908" stop-color="#ff9b9b"/><stop offset="0.9368" stop-color="#ff7272"/><stop offset="0.9655" stop-color="#ff7070"/><stop offset="0.9981" stop-color="#ff8c8c"/><stop offset="1.0000" stop-color="#ff8e8e"/></linearGradient><linearGradient id="gc41" gradientUnits="userSpaceOnUse" x1="0" y1="650" x2="0" y2="1172"><stop offset="0.0000" stop-color="#4747ff"/><stop offset="0.0364" stop-color="#3333ff"/><stop offset="0.0517" stop-color="#3838ff"/><stop offset="0.0690" stop-color="#5959ff"/><stop offset="0.1092" stop-color="#c9c9ff"/><stop offset="0.1360" stop-color="#f5f5ff"/><stop offset="0.1456" stop-color="#fffefe"/><stop offset="0.1724" stop-color="#ffd5d5"/><stop offset="0.1973" stop-color="#ff9393"/><stop offset="0.2222" stop-color="#ff4d4d"/><stop offset="0.2356" stop-color="#ff3b3b"/><stop offset="0.2490" stop-color="#ff4343"/><stop offset="0.2950" stop-color="#ffa4a4"/><stop offset="0.3276" stop-color="#ffc9c9"/><stop offset="0.3889" stop-color="#ffecec"/><stop offset="0.4655" stop-color="#fff6f6"/><stop offset="0.7797" stop-color="#ffdede"/><stop offset="0.8372" stop-color="#ffcaca"/><stop offset="0.8889" stop-color="#ff9e9e"/><stop offset="0.9349" stop-color="#ff7373"/><stop offset="0.9636" stop-color="#ff7070"/><stop offset="0.9962" stop-color="#ff8a8a"/><stop offset="1.0000" stop-color="#ff8e8e"/></linearGradient><linearGradient id="gc42" gradientUnits="userSpaceOnUse" x1="0" y1="650" x2="0" y2="1172"><stop offset="0.0000" stop-color="#4747ff"/><stop offset="0.0364" stop-color="#3333ff"/><stop offset="0.0517" stop-color="#3838ff"/><stop offset="0.0690" stop-color="#5959ff"/><stop offset="0.1092" stop-color="#c9c9ff"/><stop offset="0.1360" stop-color="#f5f5ff"/><stop offset="0.1456" stop-color="#fffefe"/><stop offset="0.1724" stop-color="#ffd5d5"/><stop offset="0.1973" stop-color="#ff9292"/><stop offset="0.2222" stop-color="#ff4c4c"/><stop offset="0.2356" stop-color="#ff3a3a"/><stop offset="0.2490" stop-color="#ff4242"/><stop offset="0.2950" stop-color="#ffa3a3"/><stop offset="0.3276" stop-color="#ffc9c9"/><stop offset="0.3889" stop-color="#ffecec"/><stop offset="0.4655" stop-color="#fff6f6"/><stop offset="0.7797" stop-color="#ffdede"/><stop offset="0.8372" stop-color="#ffcaca"/><stop offset="0.8889" stop-color="#ff9e9e"/><stop offset="0.9349" stop-color="#ff7474"/><stop offset="0.9636" stop-color="#ff7070"/><stop offset="0.9962" stop-color="#ff8a8a"/><stop offset="1.0000" stop-color="#ff8f8f"/></linearGradient><clipPath id="gcclip"><rect x="125" y="650" width="245.6" height="522"/></clipPath><filter id="gcf" x="-5%" y="0" width="110%" height="100%"><feGaussianBlur stdDeviation="3 0"/></filter><linearGradient id="gd0" gradientUnits="userSpaceOnUse" x1="0" y1="696.7" x2="0" y2="1139"><stop offset="0.0000" stop-color="#6262ff"/><stop offset="0.0384" stop-color="#5252ff"/><stop offset="0.0610" stop-color="#5b5bff"/><stop offset="0.0904" stop-color="#8686ff"/><stop offset="0.1515" stop-color="#ffffff"/><stop offset="0.2012" stop-color="#ff9393"/><stop offset="0.2193" stop-color="#ff7e7e"/><stop offset="0.2397" stop-color="#ff8484"/><stop offset="0.3030" stop-color="#ffb8b8"/><stop offset="0.4002" stop-color="#ffeaea"/><stop offset="0.4771" stop-color="#fff2f2"/><stop offset="0.6489" stop-color="#ffdede"/><stop offset="0.8004" stop-color="#ffb9b9"/><stop offset="0.8637" stop-color="#ffb2b2"/><stop offset="0.8840" stop-color="#ff9d9d"/><stop offset="0.9044" stop-color="#ff7070"/><stop offset="0.9360" stop-color="#ff1717"/><stop offset="0.9496" stop-color="#ff0404"/><stop offset="0.9631" stop-color="#ff0808"/><stop offset="0.9790" stop-color="#ff2525"/><stop offset="0.9993" stop-color="#ff6161"/><stop offset="1.0016" stop-color="#ff6363"/></linearGradient><linearGradient id="gd1" gradientUnits="userSpaceOnUse" x1="0" y1="696.7" x2="0" y2="1139"><stop offset="0.0000" stop-color="#6161ff"/><stop offset="0.0384" stop-color="#5151ff"/><stop offset="0.0610" stop-color="#5a5aff"/><stop offset="0.0904" stop-color="#8585ff"/><stop offset="0.1515" stop-color="#ffffff"/><stop offset="0.2012" stop-color="#ff9292"/><stop offset="0.2193" stop-color="#ff7e7e"/><stop offset="0.2397" stop-color="#ff8484"/><stop offset="0.3030" stop-color="#ffb8b8"/><stop offset="0.4002" stop-color="#ffeaea"/><stop offset="0.4771" stop-color="#fff2f2"/><stop offset="0.6489" stop-color="#ffdede"/><stop offset="0.8004" stop-color="#ffb9b9"/><stop offset="0.8637" stop-color="#ffb2b2"/><stop offset="0.8840" stop-color="#ff9d9d"/><stop offset="0.9044" stop-color="#ff7070"/><stop offset="0.9360" stop-color="#ff1717"/><stop offset="0.9496" stop-color="#ff0404"/><stop offset="0.9631" stop-color="#ff0909"/><stop offset="0.9790" stop-color="#ff2525"/><stop offset="0.9993" stop-color="#ff6161"/><stop offset="1.0016" stop-color="#ff6363"/></linearGradient><linearGradient id="gd2" gradientUnits="userSpaceOnUse" x1="0" y1="696.7" x2="0" y2="1139"><stop offset="0.0000" stop-color="#6060ff"/><stop offset="0.0384" stop-color="#4f4fff"/><stop offset="0.0610" stop-color="#5858ff"/><stop offset="0.0904" stop-color="#8383ff"/><stop offset="0.1515" stop-color="#ffffff"/><stop offset="0.2012" stop-color="#ff9292"/><stop offset="0.2193" stop-color="#ff7d7d"/><stop offset="0.2397" stop-color="#ff8383"/><stop offset="0.3007" stop-color="#ffb7b7"/><stop offset="0.3979" stop-color="#ffe9e9"/><stop offset="0.4748" stop-color="#fff2f2"/><stop offset="0.6489" stop-color="#ffdede"/><stop offset="0.8004" stop-color="#ffbaba"/><stop offset="0.8637" stop-color="#ffb3b3"/><stop offset="0.8840" stop-color="#ff9e9e"/><stop offset="0.9044" stop-color="#ff7070"/><stop offset="0.9360" stop-color="#ff1717"/><stop offset="0.9496" stop-color="#ff0505"/><stop offset="0.9631" stop-color="#ff0909"/><stop offset="0.9790" stop-color="#ff2525"/><stop offset="0.9993" stop-color="#ff6161"/><stop offset="1.0016" stop-color="#ff6363"/></linearGradient><linearGradient id="gd3" gradientUnits="userSpaceOnUse" x1="0" y1="696.7" x2="0" y2="1139"><stop offset="0.0000" stop-color="#5e5eff"/><stop offset="0.0384" stop-color="#4c4cff"/><stop offset="0.0610" stop-color="#5656ff"/><stop offset="0.0904" stop-color="#8282ff"/><stop offset="0.1515" stop-color="#ffffff"/><stop offset="0.2012" stop-color="#ff9191"/><stop offset="0.2193" stop-color="#ff7c7c"/><stop offset="0.2397" stop-color="#ff8282"/><stop offset="0.3007" stop-color="#ffb7b7"/><stop offset="0.3979" stop-color="#ffe9e9"/><stop offset="0.4748" stop-color="#fff2f2"/><stop offset="0.6511" stop-color="#ffdddd"/><stop offset="0.8026" stop-color="#ffbaba"/><stop offset="0.8637" stop-color="#ffb4b4"/><stop offset="0.8840" stop-color="#ff9e9e"/><stop offset="0.9044" stop-color="#ff7171"/><stop offset="0.9360" stop-color="#ff1818"/><stop offset="0.9496" stop-color="#ff0505"/><stop offset="0.9631" stop-color="#ff0909"/><stop offset="0.9812" stop-color="#ff2b2b"/><stop offset="0.9993" stop-color="#ff6161"/><stop offset="1.0016" stop-color="#ff6363"/></linearGradient><linearGradient id="gd4" gradientUnits="userSpaceOnUse" x1="0" y1="696.7" x2="0" y2="1139"><stop offset="0.0000" stop-color="#5b5bff"/><stop offset="0.0384" stop-color="#4a4aff"/><stop offset="0.0610" stop-color="#5353ff"/><stop offset="0.0904" stop-color="#8080ff"/><stop offset="0.1515" stop-color="#ffffff"/><stop offset="0.2012" stop-color="#ff9090"/><stop offset="0.2193" stop-color="#ff7b7b"/><stop offset="0.2374" stop-color="#ff8080"/><stop offset="0.3007" stop-color="#ffb6b6"/><stop offset="0.3979" stop-color="#ffe9e9"/><stop offset="0.4748" stop-color="#fff2f2"/><stop offset="0.6534" stop-color="#ffdddd"/><stop offset="0.8026" stop-color="#ffbbbb"/><stop offset="0.8637" stop-color="#ffb4b4"/><stop offset="0.8840" stop-color="#ff9f9f"/><stop offset="0.9044" stop-color="#ff7171"/><stop offset="0.9360" stop-color="#ff1818"/><stop offset="0.9496" stop-color="#ff0606"/><stop offset="0.9631" stop-color="#ff0a0a"/><stop offset="0.9812" stop-color="#ff2c2c"/><stop offset="0.9993" stop-color="#ff6262"/><stop offset="1.0016" stop-color="#ff6464"/></linearGradient><linearGradient id="gd5" gradientUnits="userSpaceOnUse" x1="0" y1="696.7" x2="0" y2="1139"><stop offset="0.0000" stop-color="#5959ff"/><stop offset="0.0362" stop-color="#4747ff"/><stop offset="0.0588" stop-color="#4e4eff"/><stop offset="0.0859" stop-color="#7676ff"/><stop offset="0.1515" stop-color="#ffffff"/><stop offset="0.2012" stop-color="#ff8f8f"/><stop offset="0.2193" stop-color="#ff7a7a"/><stop offset="0.2374" stop-color="#ff7f7f"/><stop offset="0.3007" stop-color="#ffb6b6"/><stop offset="0.3957" stop-color="#ffe8e8"/><stop offset="0.4703" stop-color="#fff2f2"/><stop offset="0.6511" stop-color="#ffdddd"/><stop offset="0.8026" stop-color="#ffbcbc"/><stop offset="0.8637" stop-color="#ffb5b5"/><stop offset="0.8863" stop-color="#ff9c9c"/><stop offset="0.9089" stop-color="#ff6565"/><stop offset="0.9360" stop-color="#ff1919"/><stop offset="0.9496" stop-color="#ff0606"/><stop offset="0.9631" stop-color="#ff0a0a"/><stop offset="0.9812" stop-color="#ff2c2c"/><stop offset="0.9993" stop-color="#ff6262"/><stop offset="1.0016" stop-color="#ff6464"/></linearGradient><linearGradient id="gd6" gradientUnits="userSpaceOnUse" x1="0" y1="696.7" x2="0" y2="1139"><stop offset="0.0000" stop-color="#5656ff"/><stop offset="0.0362" stop-color="#4444ff"/><stop offset="0.0588" stop-color="#4b4bff"/><stop offset="0.0859" stop-color="#7373ff"/><stop offset="0.1515" stop-color="#ffffff"/><stop offset="0.2012" stop-color="#ff8e8e"/><stop offset="0.2193" stop-color="#ff7979"/><stop offset="0.2374" stop-color="#ff7d7d"/><stop offset="0.3007" stop-color="#ffb6b6"/><stop offset="0.3957" stop-color="#ffe8e8"/><stop offset="0.4703" stop-color="#fff2f2"/><stop offset="0.6534" stop-color="#ffdddd"/><stop offset="0.8026" stop-color="#ffbdbd"/><stop offset="0.8637" stop-color="#ffb6b6"/><stop offset="0.8863" stop-color="#ff9d9d"/><stop offset="0.9089" stop-color="#ff6666"/><stop offset="0.9360" stop-color="#ff1a1a"/><stop offset="0.9496" stop-color="#ff0707"/><stop offset="0.9631" stop-color="#ff0b0b"/><stop offset="0.9812" stop-color="#ff2c2c"/><stop offset="0.9993" stop-color="#ff6262"/><stop offset="1.0016" stop-color="#ff6464"/></linearGradient><linearGradient id="gd7" gradientUnits="userSpaceOnUse" x1="0" y1="696.7" x2="0" y2="1139"><stop offset="0.0000" stop-color="#5353ff"/><stop offset="0.0362" stop-color="#4141ff"/><stop offset="0.0588" stop-color="#4848ff"/><stop offset="0.0859" stop-color="#7171ff"/><stop offset="0.1515" stop-color="#fefeff"/><stop offset="0.2012" stop-color="#ff8d8d"/><stop offset="0.2193" stop-color="#ff7878"/><stop offset="0.2374" stop-color="#ff7c7c"/><stop offset="0.2984" stop-color="#ffb4b4"/><stop offset="0.3934" stop-color="#ffe7e7"/><stop offset="0.4657" stop-color="#fff2f2"/><stop offset="0.6534" stop-color="#ffdddd"/><stop offset="0.8026" stop-color="#ffbebe"/><stop offset="0.8637" stop-color="#ffb7b7"/><stop offset="0.8863" stop-color="#ff9e9e"/><stop offset="0.9089" stop-color="#ff6666"/><stop offset="0.9360" stop-color="#ff1a1a"/><stop offset="0.9496" stop-color="#ff0707"/><stop offset="0.9631" stop-color="#ff0b0b"/><stop offset="0.9812" stop-color="#ff2d2d"/><stop offset="0.9993" stop-color="#ff6262"/><stop offset="1.0016" stop-color="#ff6565"/></linearGradient><linearGradient id="gd8" gradientUnits="userSpaceOnUse" x1="0" y1="696.7" x2="0" y2="1139"><stop offset="0.0000" stop-color="#5050ff"/><stop offset="0.0362" stop-color="#3e3eff"/><stop offset="0.0588" stop-color="#4545ff"/><stop offset="0.0859" stop-color="#6e6eff"/><stop offset="0.1515" stop-color="#fefeff"/><stop offset="0.2012" stop-color="#ff8b8b"/><stop offset="0.2193" stop-color="#ff7676"/><stop offset="0.2374" stop-color="#ff7a7a"/><stop offset="0.2984" stop-color="#ffb4b4"/><stop offset="0.3934" stop-color="#ffe7e7"/><stop offset="0.4657" stop-color="#fff2f2"/><stop offset="0.6557" stop-color="#ffdddd"/><stop offset="0.8049" stop-color="#ffbfbf"/><stop offset="0.8637" stop-color="#ffb8b8"/><stop offset="0.8863" stop-color="#ff9f9f"/><stop offset="0.9089" stop-color="#ff6868"/><stop offset="0.9360" stop-color="#ff1c1c"/><stop offset="0.9496" stop-color="#ff0a0a"/><stop offset="0.9654" stop-color="#ff1010"/><stop offset="0.9835" stop-color="#ff3535"/><stop offset="0.9993" stop-color="#ff6464"/><stop offset="1.0016" stop-color="#ff6666"/></linearGradient><linearGradient id="gd9" gradientUnits="userSpaceOnUse" x1="0" y1="696.7" x2="0" y2="1139"><stop offset="0.0000" stop-color="#4d4dff"/><stop offset="0.0362" stop-color="#3b3bff"/><stop offset="0.0588" stop-color="#4242ff"/><stop offset="0.0837" stop-color="#6868ff"/><stop offset="0.1515" stop-color="#fefeff"/><stop offset="0.2012" stop-color="#ff8989"/><stop offset="0.2193" stop-color="#ff7373"/><stop offset="0.2374" stop-color="#ff7878"/><stop offset="0.2962" stop-color="#ffb2b2"/><stop offset="0.3911" stop-color="#ffe7e7"/><stop offset="0.4635" stop-color="#fff2f2"/><stop offset="0.6557" stop-color="#ffdddd"/><stop offset="0.8049" stop-color="#ffc1c1"/><stop offset="0.8637" stop-color="#ffbaba"/><stop offset="0.8863" stop-color="#ffa1a1"/><stop offset="0.9089" stop-color="#ff6a6a"/><stop offset="0.9360" stop-color="#ff1f1f"/><stop offset="0.9496" stop-color="#ff0c0c"/><stop offset="0.9654" stop-color="#ff1313"/><stop offset="0.9835" stop-color="#ff3737"/><stop offset="0.9993" stop-color="#ff6565"/><stop offset="1.0016" stop-color="#ff6767"/></linearGradient><linearGradient id="gd10" gradientUnits="userSpaceOnUse" x1="0" y1="696.7" x2="0" y2="1139"><stop offset="0.0000" stop-color="#4a4aff"/><stop offset="0.0362" stop-color="#3737ff"/><stop offset="0.0588" stop-color="#3f3fff"/><stop offset="0.0837" stop-color="#6565ff"/><stop offset="0.1515" stop-color="#fefeff"/><stop offset="0.2012" stop-color="#ff8787"/><stop offset="0.2193" stop-color="#ff7171"/><stop offset="0.2374" stop-color="#ff7676"/><stop offset="0.2962" stop-color="#ffb1b1"/><stop offset="0.3889" stop-color="#ffe6e6"/><stop offset="0.4590" stop-color="#fff2f2"/><stop offset="0.6534" stop-color="#ffdede"/><stop offset="0.8049" stop-color="#ffc3c3"/><stop offset="0.8637" stop-color="#ffbcbc"/><stop offset="0.8863" stop-color="#ffa2a2"/><stop offset="0.9089" stop-color="#ff6c6c"/><stop offset="0.9360" stop-color="#ff2222"/><stop offset="0.9496" stop-color="#ff0f0f"/><stop offset="0.9654" stop-color="#ff1515"/><stop offset="0.9835" stop-color="#ff3939"/><stop offset="0.9993" stop-color="#ff6767"/><stop offset="1.0016" stop-color="#ff6969"/></linearGradient><linearGradient id="gd11" gradientUnits="userSpaceOnUse" x1="0" y1="696.7" x2="0" y2="1139"><stop offset="0.0000" stop-color="#4747ff"/><stop offset="0.0362" stop-color="#3434ff"/><stop offset="0.0588" stop-color="#3c3cff"/><stop offset="0.0837" stop-color="#6262ff"/><stop offset="0.1515" stop-color="#fefeff"/><stop offset="0.1990" stop-color="#ff8989"/><stop offset="0.2170" stop-color="#ff6f6f"/><stop offset="0.2329" stop-color="#ff7070"/><stop offset="0.2984" stop-color="#ffb2b2"/><stop offset="0.3889" stop-color="#ffe6e6"/><stop offset="0.4590" stop-color="#fff2f2"/><stop offset="0.6579" stop-color="#ffdede"/><stop offset="0.8071" stop-color="#ffc5c5"/><stop offset="0.8637" stop-color="#ffbebe"/><stop offset="0.8863" stop-color="#ffa4a4"/><stop offset="0.9089" stop-color="#ff6f6f"/><stop offset="0.9360" stop-color="#ff2525"/><stop offset="0.9496" stop-color="#ff1313"/><stop offset="0.9654" stop-color="#ff1818"/><stop offset="0.9835" stop-color="#ff3c3c"/><stop offset="0.9993" stop-color="#ff6969"/><stop offset="1.0016" stop-color="#ff6b6b"/></linearGradient><linearGradient id="gd12" gradientUnits="userSpaceOnUse" x1="0" y1="696.7" x2="0" y2="1139"><stop offset="0.0000" stop-color="#4747ff"/><stop offset="0.0362" stop-color="#3333ff"/><stop offset="0.0565" stop-color="#3939ff"/><stop offset="0.0814" stop-color="#5e5eff"/><stop offset="0.1515" stop-color="#ffffff"/><stop offset="0.1990" stop-color="#ff8787"/><stop offset="0.2170" stop-color="#ff6d6d"/><stop offset="0.2329" stop-color="#ff6e6e"/><stop offset="0.2962" stop-color="#ffb0b0"/><stop offset="0.3866" stop-color="#ffe5e5"/><stop offset="0.4567" stop-color="#fff2f2"/><stop offset="0.6602" stop-color="#ffdfdf"/><stop offset="0.8094" stop-color="#ffc7c7"/><stop offset="0.8637" stop-color="#ffc0c0"/><stop offset="0.8863" stop-color="#ffa7a7"/><stop offset="0.9089" stop-color="#ff7272"/><stop offset="0.9360" stop-color="#ff2929"/><stop offset="0.9518" stop-color="#ff1616"/><stop offset="0.9677" stop-color="#ff2020"/><stop offset="0.9880" stop-color="#ff4b4b"/><stop offset="0.9993" stop-color="#ff6c6c"/><stop offset="1.0016" stop-color="#ff6e6e"/></linearGradient><linearGradient id="gd13" gradientUnits="userSpaceOnUse" x1="0" y1="696.7" x2="0" y2="1139"><stop offset="0.0000" stop-color="#4747ff"/><stop offset="0.0362" stop-color="#3333ff"/><stop offset="0.0565" stop-color="#3939ff"/><stop offset="0.0814" stop-color="#5e5eff"/><stop offset="0.1515" stop-color="#ffffff"/><stop offset="0.1990" stop-color="#ff8585"/><stop offset="0.2170" stop-color="#ff6b6b"/><stop offset="0.2329" stop-color="#ff6c6c"/><stop offset="0.2962" stop-color="#ffb0b0"/><stop offset="0.3844" stop-color="#ffe4e4"/><stop offset="0.4544" stop-color="#fff2f2"/><stop offset="0.6624" stop-color="#ffdfdf"/><stop offset="0.8117" stop-color="#ffc9c9"/><stop offset="0.8637" stop-color="#ffc2c2"/><stop offset="0.8863" stop-color="#ffa9a9"/><stop offset="0.9089" stop-color="#ff7676"/><stop offset="0.9360" stop-color="#ff2e2e"/><stop offset="0.9518" stop-color="#ff1c1c"/><stop offset="0.9677" stop-color="#ff2525"/><stop offset="0.9880" stop-color="#ff4f4f"/><stop offset="0.9993" stop-color="#ff6f6f"/><stop offset="1.0016" stop-color="#ff7171"/></linearGradient><linearGradient id="gd14" gradientUnits="userSpaceOnUse" x1="0" y1="696.7" x2="0" y2="1139"><stop offset="0.0000" stop-color="#4747ff"/><stop offset="0.0362" stop-color="#3333ff"/><stop offset="0.0565" stop-color="#3939ff"/><stop offset="0.0814" stop-color="#5e5eff"/><stop offset="0.1515" stop-color="#fffefe"/><stop offset="0.1990" stop-color="#ff8383"/><stop offset="0.2170" stop-color="#ff6969"/><stop offset="0.2329" stop-color="#ff6a6a"/><stop offset="0.2962" stop-color="#ffb0b0"/><stop offset="0.3821" stop-color="#ffe4e4"/><stop offset="0.4499" stop-color="#fff2f2"/><stop offset="0.6624" stop-color="#ffe0e0"/><stop offset="0.8139" stop-color="#ffcccc"/><stop offset="0.8637" stop-color="#ffc5c5"/><stop offset="0.8863" stop-color="#ffadad"/><stop offset="0.9089" stop-color="#ff7a7a"/><stop offset="0.9360" stop-color="#ff3434"/><stop offset="0.9518" stop-color="#ff2121"/><stop offset="0.9677" stop-color="#ff2a2a"/><stop offset="0.9880" stop-color="#ff5454"/><stop offset="0.9993" stop-color="#ff7373"/><stop offset="1.0016" stop-color="#ff7575"/></linearGradient><linearGradient id="gd15" gradientUnits="userSpaceOnUse" x1="0" y1="696.7" x2="0" y2="1139"><stop offset="0.0000" stop-color="#4747ff"/><stop offset="0.0362" stop-color="#3333ff"/><stop offset="0.0565" stop-color="#3939ff"/><stop offset="0.0814" stop-color="#5e5eff"/><stop offset="0.1515" stop-color="#fffdfd"/><stop offset="0.1990" stop-color="#ff8181"/><stop offset="0.2170" stop-color="#ff6666"/><stop offset="0.2329" stop-color="#ff6868"/><stop offset="0.2939" stop-color="#ffadad"/><stop offset="0.3776" stop-color="#ffe2e2"/><stop offset="0.4454" stop-color="#fff2f2"/><stop offset="0.6579" stop-color="#ffe2e2"/><stop offset="0.8162" stop-color="#ffcfcf"/><stop offset="0.8637" stop-color="#ffc8c8"/><stop offset="0.8863" stop-color="#ffb0b0"/><stop offset="0.9111" stop-color="#ff7878"/><stop offset="0.9360" stop-color="#ff3a3a"/><stop offset="0.9518" stop-color="#ff2828"/><stop offset="0.9677" stop-color="#ff3030"/><stop offset="0.9880" stop-color="#ff5959"/><stop offset="1.0016" stop-color="#ff7979"/></linearGradient><linearGradient id="gd16" gradientUnits="userSpaceOnUse" x1="0" y1="696.7" x2="0" y2="1139"><stop offset="0.0000" stop-color="#4747ff"/><stop offset="0.0362" stop-color="#3333ff"/><stop offset="0.0565" stop-color="#3939ff"/><stop offset="0.0814" stop-color="#5e5eff"/><stop offset="0.1492" stop-color="#fcfcff"/><stop offset="0.1515" stop-color="#fffdfd"/><stop offset="0.1990" stop-color="#ff7e7e"/><stop offset="0.2170" stop-color="#ff6363"/><stop offset="0.2329" stop-color="#ff6565"/><stop offset="0.2939" stop-color="#ffadad"/><stop offset="0.3753" stop-color="#ffe1e1"/><stop offset="0.4431" stop-color="#fff2f2"/><stop offset="0.6602" stop-color="#ffe3e3"/><stop offset="0.8230" stop-color="#ffd2d2"/><stop offset="0.8659" stop-color="#ffcaca"/><stop offset="0.8885" stop-color="#ffb0b0"/><stop offset="0.9157" stop-color="#ff7171"/><stop offset="0.9383" stop-color="#ff3c3c"/><stop offset="0.9541" stop-color="#ff2e2e"/><stop offset="0.9699" stop-color="#ff3a3a"/><stop offset="0.9925" stop-color="#ff6969"/><stop offset="1.0016" stop-color="#ff7d7d"/></linearGradient><linearGradient id="gd17" gradientUnits="userSpaceOnUse" x1="0" y1="696.7" x2="0" y2="1139"><stop offset="0.0000" stop-color="#4747ff"/><stop offset="0.0362" stop-color="#3333ff"/><stop offset="0.0565" stop-color="#3939ff"/><stop offset="0.0814" stop-color="#5e5eff"/><stop offset="0.1470" stop-color="#f6f6ff"/><stop offset="0.1515" stop-color="#fffcfc"/><stop offset="0.1990" stop-color="#ff7c7c"/><stop offset="0.2170" stop-color="#ff6161"/><stop offset="0.2329" stop-color="#ff6262"/><stop offset="0.2939" stop-color="#ffacac"/><stop offset="0.3730" stop-color="#ffe0e0"/><stop offset="0.4386" stop-color="#fff2f2"/><stop offset="0.6466" stop-color="#ffe6e6"/><stop offset="0.8275" stop-color="#ffd6d6"/><stop offset="0.8659" stop-color="#ffcece"/><stop offset="0.8885" stop-color="#ffb4b4"/><stop offset="0.9157" stop-color="#ff7676"/><stop offset="0.9383" stop-color="#ff4343"/><stop offset="0.9541" stop-color="#ff3535"/><stop offset="0.9722" stop-color="#ff4343"/><stop offset="0.9971" stop-color="#ff7979"/><stop offset="1.0016" stop-color="#ff8181"/></linearGradient><linearGradient id="gd18" gradientUnits="userSpaceOnUse" x1="0" y1="696.7" x2="0" y2="1139"><stop offset="0.0000" stop-color="#4747ff"/><stop offset="0.0362" stop-color="#3333ff"/><stop offset="0.0565" stop-color="#3939ff"/><stop offset="0.0814" stop-color="#5e5eff"/><stop offset="0.1470" stop-color="#f7f7ff"/><stop offset="0.1492" stop-color="#fdfdff"/><stop offset="0.1583" stop-color="#ffe9e9"/><stop offset="0.1990" stop-color="#ff7a7a"/><stop offset="0.2170" stop-color="#ff5e5e"/><stop offset="0.2329" stop-color="#ff6060"/><stop offset="0.2939" stop-color="#ffabab"/><stop offset="0.3708" stop-color="#ffdfdf"/><stop offset="0.4364" stop-color="#fff2f2"/><stop offset="0.6376" stop-color="#ffe8e8"/><stop offset="0.8614" stop-color="#ffd4d4"/><stop offset="0.8863" stop-color="#ffbcbc"/><stop offset="0.9134" stop-color="#ff8282"/><stop offset="0.9383" stop-color="#ff4a4a"/><stop offset="0.9541" stop-color="#ff3d3d"/><stop offset="0.9722" stop-color="#ff4b4b"/><stop offset="0.9971" stop-color="#ff7e7e"/><stop offset="1.0016" stop-color="#ff8686"/></linearGradient><linearGradient id="gd19" gradientUnits="userSpaceOnUse" x1="0" y1="696.7" x2="0" y2="1139"><stop offset="0.0000" stop-color="#4747ff"/><stop offset="0.0362" stop-color="#3333ff"/><stop offset="0.0565" stop-color="#3939ff"/><stop offset="0.0814" stop-color="#5e5eff"/><stop offset="0.1447" stop-color="#f2f2ff"/><stop offset="0.1492" stop-color="#fdfdff"/><stop offset="0.1809" stop-color="#ffa7a7"/><stop offset="0.2035" stop-color="#ff6d6d"/><stop offset="0.2193" stop-color="#ff5959"/><stop offset="0.2351" stop-color="#ff5f5f"/><stop offset="0.2917" stop-color="#ffa8a8"/><stop offset="0.3640" stop-color="#ffdbdb"/><stop offset="0.4296" stop-color="#fff1f1"/><stop offset="0.5811" stop-color="#ffeded"/><stop offset="0.8320" stop-color="#ffdada"/><stop offset="0.8682" stop-color="#ffd1d1"/><stop offset="0.8931" stop-color="#ffb3b3"/><stop offset="0.9383" stop-color="#ff5252"/><stop offset="0.9541" stop-color="#ff4545"/><stop offset="0.9722" stop-color="#ff5252"/><stop offset="1.0016" stop-color="#ff8b8b"/></linearGradient><linearGradient id="gd20" gradientUnits="userSpaceOnUse" x1="0" y1="696.7" x2="0" y2="1139"><stop offset="0.0000" stop-color="#4747ff"/><stop offset="0.0362" stop-color="#3333ff"/><stop offset="0.0565" stop-color="#3939ff"/><stop offset="0.0814" stop-color="#5e5eff"/><stop offset="0.1424" stop-color="#ececff"/><stop offset="0.1492" stop-color="#fefeff"/><stop offset="0.1990" stop-color="#ff7474"/><stop offset="0.2170" stop-color="#ff5757"/><stop offset="0.2329" stop-color="#ff5959"/><stop offset="0.2917" stop-color="#ffa7a7"/><stop offset="0.3617" stop-color="#ffdada"/><stop offset="0.4273" stop-color="#fff1f1"/><stop offset="0.5652" stop-color="#ffeeee"/><stop offset="0.8343" stop-color="#ffdada"/><stop offset="0.8704" stop-color="#ffd0d0"/><stop offset="0.8953" stop-color="#ffb1b1"/><stop offset="0.9383" stop-color="#ff5959"/><stop offset="0.9541" stop-color="#ff4c4c"/><stop offset="0.9722" stop-color="#ff5959"/><stop offset="1.0016" stop-color="#ff8f8f"/></linearGradient><linearGradient id="gd21" gradientUnits="userSpaceOnUse" x1="0" y1="696.7" x2="0" y2="1139"><stop offset="0.0000" stop-color="#4747ff"/><stop offset="0.0362" stop-color="#3333ff"/><stop offset="0.0565" stop-color="#3939ff"/><stop offset="0.0814" stop-color="#5e5eff"/><stop offset="0.1402" stop-color="#e7e7ff"/><stop offset="0.1492" stop-color="#ffffff"/><stop offset="0.1990" stop-color="#ff7070"/><stop offset="0.2148" stop-color="#ff5555"/><stop offset="0.2306" stop-color="#ff5454"/><stop offset="0.2917" stop-color="#ffa6a6"/><stop offset="0.3572" stop-color="#ffd7d7"/><stop offset="0.4228" stop-color="#fff1f1"/><stop offset="0.5426" stop-color="#fff1f1"/><stop offset="0.8365" stop-color="#ffdbdb"/><stop offset="0.8727" stop-color="#ffd0d0"/><stop offset="0.8976" stop-color="#ffb0b0"/><stop offset="0.9383" stop-color="#ff5f5f"/><stop offset="0.9541" stop-color="#ff5454"/><stop offset="0.9722" stop-color="#ff6060"/><stop offset="1.0016" stop-color="#ff9494"/></linearGradient><linearGradient id="gd22" gradientUnits="userSpaceOnUse" x1="0" y1="696.7" x2="0" y2="1139"><stop offset="0.0000" stop-color="#4747ff"/><stop offset="0.0362" stop-color="#3333ff"/><stop offset="0.0565" stop-color="#3939ff"/><stop offset="0.0814" stop-color="#5e5eff"/><stop offset="0.1379" stop-color="#e2e2ff"/><stop offset="0.1492" stop-color="#fffefe"/><stop offset="0.1990" stop-color="#ff6c6c"/><stop offset="0.2148" stop-color="#ff5151"/><stop offset="0.2284" stop-color="#ff4e4e"/><stop offset="0.2555" stop-color="#ff7272"/><stop offset="0.2939" stop-color="#ffa7a7"/><stop offset="0.3595" stop-color="#ffd9d9"/><stop offset="0.4228" stop-color="#fff1f1"/><stop offset="0.5404" stop-color="#fff1f1"/><stop offset="0.8637" stop-color="#ffd7d7"/><stop offset="0.8885" stop-color="#ffc1c1"/><stop offset="0.9405" stop-color="#ff6464"/><stop offset="0.9564" stop-color="#ff5c5c"/><stop offset="0.9767" stop-color="#ff6d6d"/><stop offset="1.0016" stop-color="#ff9999"/></linearGradient><linearGradient id="gd23" gradientUnits="userSpaceOnUse" x1="0" y1="696.7" x2="0" y2="1139"><stop offset="0.0000" stop-color="#4747ff"/><stop offset="0.0362" stop-color="#3333ff"/><stop offset="0.0565" stop-color="#3939ff"/><stop offset="0.0814" stop-color="#5e5eff"/><stop offset="0.1379" stop-color="#e3e3ff"/><stop offset="0.1492" stop-color="#fffdfd"/><stop offset="0.1990" stop-color="#ff6969"/><stop offset="0.2148" stop-color="#ff4d4d"/><stop offset="0.2284" stop-color="#ff4a4a"/><stop offset="0.2532" stop-color="#ff6c6c"/><stop offset="0.2917" stop-color="#ffa4a4"/><stop offset="0.3527" stop-color="#ffd5d5"/><stop offset="0.4183" stop-color="#fff0f0"/><stop offset="0.5245" stop-color="#fff3f3"/><stop offset="0.8637" stop-color="#ffd8d8"/><stop offset="0.8908" stop-color="#ffc1c1"/><stop offset="0.9405" stop-color="#ff6b6b"/><stop offset="0.9586" stop-color="#ff6464"/><stop offset="0.9790" stop-color="#ff7777"/><stop offset="1.0016" stop-color="#ff9e9e"/></linearGradient><linearGradient id="gd24" gradientUnits="userSpaceOnUse" x1="0" y1="696.7" x2="0" y2="1139"><stop offset="0.0000" stop-color="#4747ff"/><stop offset="0.0362" stop-color="#3333ff"/><stop offset="0.0565" stop-color="#3939ff"/><stop offset="0.0814" stop-color="#5e5eff"/><stop offset="0.1357" stop-color="#ddddff"/><stop offset="0.1492" stop-color="#fffdfd"/><stop offset="0.1990" stop-color="#ff6868"/><stop offset="0.2148" stop-color="#ff4c4c"/><stop offset="0.2284" stop-color="#ff4949"/><stop offset="0.2532" stop-color="#ff6c6c"/><stop offset="0.2894" stop-color="#ffa2a2"/><stop offset="0.3459" stop-color="#ffd1d1"/><stop offset="0.4115" stop-color="#ffefef"/><stop offset="0.5042" stop-color="#fff4f4"/><stop offset="0.8659" stop-color="#ffd8d8"/><stop offset="0.8931" stop-color="#ffc0c0"/><stop offset="0.9405" stop-color="#ff7070"/><stop offset="0.9586" stop-color="#ff6a6a"/><stop offset="0.9790" stop-color="#ff7c7c"/><stop offset="1.0016" stop-color="#ffa1a1"/></linearGradient><linearGradient id="gd25" gradientUnits="userSpaceOnUse" x1="0" y1="696.7" x2="0" y2="1139"><stop offset="0.0000" stop-color="#4747ff"/><stop offset="0.0362" stop-color="#3333ff"/><stop offset="0.0565" stop-color="#3939ff"/><stop offset="0.0814" stop-color="#5e5eff"/><stop offset="0.1357" stop-color="#ddddff"/><stop offset="0.1470" stop-color="#fbfbff"/><stop offset="0.1492" stop-color="#fffdfd"/><stop offset="0.1990" stop-color="#ff6767"/><stop offset="0.2148" stop-color="#ff4b4b"/><stop offset="0.2284" stop-color="#ff4848"/><stop offset="0.2532" stop-color="#ff6b6b"/><stop offset="0.2894" stop-color="#ffa2a2"/><stop offset="0.3437" stop-color="#ffd0d0"/><stop offset="0.4092" stop-color="#ffefef"/><stop offset="0.4997" stop-color="#fff4f4"/><stop offset="0.8659" stop-color="#ffd9d9"/><stop offset="0.8931" stop-color="#ffc2c2"/><stop offset="0.9405" stop-color="#ff7676"/><stop offset="0.9586" stop-color="#ff7070"/><stop offset="0.9812" stop-color="#ff8585"/><stop offset="1.0016" stop-color="#ffa5a5"/></linearGradient><linearGradient id="gd26" gradientUnits="userSpaceOnUse" x1="0" y1="696.7" x2="0" y2="1139"><stop offset="0.0000" stop-color="#4747ff"/><stop offset="0.0362" stop-color="#3333ff"/><stop offset="0.0565" stop-color="#3939ff"/><stop offset="0.0814" stop-color="#5e5eff"/><stop offset="0.1357" stop-color="#ddddff"/><stop offset="0.1470" stop-color="#fbfbff"/><stop offset="0.1492" stop-color="#fffcfc"/><stop offset="0.1990" stop-color="#ff6666"/><stop offset="0.2148" stop-color="#ff4a4a"/><stop offset="0.2284" stop-color="#ff4747"/><stop offset="0.2532" stop-color="#ff6a6a"/><stop offset="0.2894" stop-color="#ffa2a2"/><stop offset="0.3437" stop-color="#ffd0d0"/><stop offset="0.4092" stop-color="#ffefef"/><stop offset="0.4997" stop-color="#fff5f5"/><stop offset="0.8659" stop-color="#ffdbdb"/><stop offset="0.8931" stop-color="#ffc5c5"/><stop offset="0.9405" stop-color="#ff7d7d"/><stop offset="0.9586" stop-color="#ff7777"/><stop offset="0.9812" stop-color="#ff8b8b"/><stop offset="1.0016" stop-color="#ffaaaa"/></linearGradient><linearGradient id="gd27" gradientUnits="userSpaceOnUse" x1="0" y1="696.7" x2="0" y2="1139"><stop offset="0.0000" stop-color="#4747ff"/><stop offset="0.0362" stop-color="#3333ff"/><stop offset="0.0565" stop-color="#3939ff"/><stop offset="0.0814" stop-color="#5e5eff"/><stop offset="0.1357" stop-color="#ddddff"/><stop offset="0.1470" stop-color="#fcfcff"/><stop offset="0.1515" stop-color="#fff6f6"/><stop offset="0.1990" stop-color="#ff6565"/><stop offset="0.2148" stop-color="#ff4949"/><stop offset="0.2284" stop-color="#ff4646"/><stop offset="0.2532" stop-color="#ff6a6a"/><stop offset="0.2894" stop-color="#ffa2a2"/><stop offset="0.3414" stop-color="#ffcfcf"/><stop offset="0.4070" stop-color="#ffeeee"/><stop offset="0.4951" stop-color="#fff5f5"/><stop offset="0.8682" stop-color="#ffdcdc"/><stop offset="0.8976" stop-color="#ffc4c4"/><stop offset="0.9405" stop-color="#ff8989"/><stop offset="0.9609" stop-color="#ff8585"/><stop offset="0.9858" stop-color="#ff9c9c"/><stop offset="1.0016" stop-color="#ffb2b2"/></linearGradient><linearGradient id="gd28" gradientUnits="userSpaceOnUse" x1="0" y1="696.7" x2="0" y2="1139"><stop offset="0.0000" stop-color="#4747ff"/><stop offset="0.0362" stop-color="#3333ff"/><stop offset="0.0565" stop-color="#3939ff"/><stop offset="0.0814" stop-color="#5e5eff"/><stop offset="0.1357" stop-color="#ddddff"/><stop offset="0.1470" stop-color="#fcfcff"/><stop offset="0.1515" stop-color="#fff5f5"/><stop offset="0.1990" stop-color="#ff6464"/><stop offset="0.2148" stop-color="#ff4848"/><stop offset="0.2284" stop-color="#ff4545"/><stop offset="0.2532" stop-color="#ff6969"/><stop offset="0.2894" stop-color="#ffa2a2"/><stop offset="0.3414" stop-color="#ffcfcf"/><stop offset="0.4070" stop-color="#ffefef"/><stop offset="0.4951" stop-color="#fff5f5"/><stop offset="0.8411" stop-color="#ffe1e1"/><stop offset="0.8818" stop-color="#ffd8d8"/><stop offset="0.9202" stop-color="#ffb2b2"/><stop offset="0.9473" stop-color="#ff9a9a"/><stop offset="0.9722" stop-color="#ffa0a0"/><stop offset="1.0016" stop-color="#ffc0c0"/></linearGradient><linearGradient id="gd29" gradientUnits="userSpaceOnUse" x1="0" y1="696.7" x2="0" y2="1139"><stop offset="0.0000" stop-color="#4747ff"/><stop offset="0.0362" stop-color="#3333ff"/><stop offset="0.0565" stop-color="#3939ff"/><stop offset="0.0814" stop-color="#5e5eff"/><stop offset="0.1357" stop-color="#ddddff"/><stop offset="0.1470" stop-color="#fcfcff"/><stop offset="0.1515" stop-color="#fff5f5"/><stop offset="0.1990" stop-color="#ff6464"/><stop offset="0.2148" stop-color="#ff4747"/><stop offset="0.2284" stop-color="#ff4545"/><stop offset="0.2532" stop-color="#ff6969"/><stop offset="0.2894" stop-color="#ffa2a2"/><stop offset="0.3414" stop-color="#ffcfcf"/><stop offset="0.4070" stop-color="#ffefef"/><stop offset="0.4974" stop-color="#fff6f6"/><stop offset="0.8388" stop-color="#ffe2e2"/><stop offset="0.8840" stop-color="#ffdada"/><stop offset="0.9451" stop-color="#ffa6a6"/><stop offset="0.9699" stop-color="#ffaaaa"/><stop offset="1.0016" stop-color="#ffc7c7"/></linearGradient><linearGradient id="gd30" gradientUnits="userSpaceOnUse" x1="0" y1="696.7" x2="0" y2="1139"><stop offset="0.0000" stop-color="#4747ff"/><stop offset="0.0362" stop-color="#3333ff"/><stop offset="0.0565" stop-color="#3939ff"/><stop offset="0.0814" stop-color="#5e5eff"/><stop offset="0.1334" stop-color="#d8d8ff"/><stop offset="0.1470" stop-color="#fcfcff"/><stop offset="0.1515" stop-color="#fff5f5"/><stop offset="0.1990" stop-color="#ff6363"/><stop offset="0.2148" stop-color="#ff4646"/><stop offset="0.2284" stop-color="#ff4444"/><stop offset="0.2532" stop-color="#ff6868"/><stop offset="0.2894" stop-color="#ffa2a2"/><stop offset="0.3391" stop-color="#ffcece"/><stop offset="0.4047" stop-color="#ffefef"/><stop offset="0.4929" stop-color="#fff6f6"/><stop offset="0.8411" stop-color="#ffe2e2"/><stop offset="0.8863" stop-color="#ffdada"/><stop offset="0.9451" stop-color="#ffaaaa"/><stop offset="0.9722" stop-color="#ffafaf"/><stop offset="1.0016" stop-color="#ffcaca"/></linearGradient><linearGradient id="gd31" gradientUnits="userSpaceOnUse" x1="0" y1="696.7" x2="0" y2="1139"><stop offset="0.0000" stop-color="#4747ff"/><stop offset="0.0362" stop-color="#3333ff"/><stop offset="0.0565" stop-color="#3939ff"/><stop offset="0.0814" stop-color="#5e5eff"/><stop offset="0.1334" stop-color="#d8d8ff"/><stop offset="0.1470" stop-color="#fcfcff"/><stop offset="0.1515" stop-color="#fff5f5"/><stop offset="0.1990" stop-color="#ff6262"/><stop offset="0.2148" stop-color="#ff4545"/><stop offset="0.2284" stop-color="#ff4343"/><stop offset="0.2532" stop-color="#ff6868"/><stop offset="0.2894" stop-color="#ffa3a3"/><stop offset="0.3391" stop-color="#ffcece"/><stop offset="0.4047" stop-color="#ffefef"/><stop offset="0.4929" stop-color="#fff7f7"/><stop offset="0.8433" stop-color="#ffe3e3"/><stop offset="0.8885" stop-color="#ffdada"/><stop offset="0.9473" stop-color="#ffaeae"/><stop offset="0.9745" stop-color="#ffb6b6"/><stop offset="1.0016" stop-color="#ffcdcd"/></linearGradient><linearGradient id="gd32" gradientUnits="userSpaceOnUse" x1="0" y1="696.7" x2="0" y2="1139"><stop offset="0.0000" stop-color="#4747ff"/><stop offset="0.0362" stop-color="#3333ff"/><stop offset="0.0565" stop-color="#3939ff"/><stop offset="0.0814" stop-color="#5e5eff"/><stop offset="0.1334" stop-color="#d8d8ff"/><stop offset="0.1470" stop-color="#fdfdff"/><stop offset="0.1537" stop-color="#ffeeee"/><stop offset="0.1990" stop-color="#ff6161"/><stop offset="0.2148" stop-color="#ff4444"/><stop offset="0.2284" stop-color="#ff4242"/><stop offset="0.2532" stop-color="#ff6767"/><stop offset="0.2894" stop-color="#ffa3a3"/><stop offset="0.3391" stop-color="#ffcfcf"/><stop offset="0.4047" stop-color="#ffefef"/><stop offset="0.4929" stop-color="#fff7f7"/><stop offset="0.8433" stop-color="#ffe4e4"/><stop offset="0.8885" stop-color="#ffdcdc"/><stop offset="0.9473" stop-color="#ffb4b4"/><stop offset="0.9767" stop-color="#ffbcbc"/><stop offset="1.0016" stop-color="#ffd0d0"/></linearGradient><linearGradient id="gd33" gradientUnits="userSpaceOnUse" x1="0" y1="696.7" x2="0" y2="1139"><stop offset="0.0000" stop-color="#4747ff"/><stop offset="0.0362" stop-color="#3333ff"/><stop offset="0.0565" stop-color="#3939ff"/><stop offset="0.0814" stop-color="#5e5eff"/><stop offset="0.1334" stop-color="#d8d8ff"/><stop offset="0.1470" stop-color="#fdfdff"/><stop offset="0.1560" stop-color="#ffe7e7"/><stop offset="0.1990" stop-color="#ff6060"/><stop offset="0.2148" stop-color="#ff4343"/><stop offset="0.2284" stop-color="#ff4040"/><stop offset="0.2532" stop-color="#ff6767"/><stop offset="0.2894" stop-color="#ffa3a3"/><stop offset="0.3369" stop-color="#ffcece"/><stop offset="0.4024" stop-color="#ffefef"/><stop offset="0.4884" stop-color="#fff8f8"/><stop offset="0.8456" stop-color="#ffe5e5"/><stop offset="0.8931" stop-color="#ffdcdc"/><stop offset="0.9473" stop-color="#ffbaba"/><stop offset="0.9790" stop-color="#ffc3c3"/><stop offset="1.0016" stop-color="#ffd4d4"/></linearGradient><linearGradient id="gd34" gradientUnits="userSpaceOnUse" x1="0" y1="696.7" x2="0" y2="1139"><stop offset="0.0000" stop-color="#4747ff"/><stop offset="0.0362" stop-color="#3333ff"/><stop offset="0.0565" stop-color="#3939ff"/><stop offset="0.0814" stop-color="#5e5eff"/><stop offset="0.1334" stop-color="#d8d8ff"/><stop offset="0.1470" stop-color="#fdfdff"/><stop offset="0.1605" stop-color="#ffd8d8"/><stop offset="0.1990" stop-color="#ff5e5e"/><stop offset="0.2148" stop-color="#ff4141"/><stop offset="0.2284" stop-color="#ff3f3f"/><stop offset="0.2510" stop-color="#ff6161"/><stop offset="0.2871" stop-color="#ffa0a0"/><stop offset="0.3324" stop-color="#ffcbcb"/><stop offset="0.4002" stop-color="#ffeeee"/><stop offset="0.4838" stop-color="#fff8f8"/><stop offset="0.8478" stop-color="#ffe5e5"/><stop offset="0.8953" stop-color="#ffdcdc"/><stop offset="0.9473" stop-color="#ffbdbd"/><stop offset="0.9790" stop-color="#ffc6c6"/><stop offset="1.0016" stop-color="#ffd6d6"/></linearGradient><linearGradient id="gd35" gradientUnits="userSpaceOnUse" x1="0" y1="696.7" x2="0" y2="1139"><stop offset="0.0000" stop-color="#4747ff"/><stop offset="0.0362" stop-color="#3333ff"/><stop offset="0.0565" stop-color="#3939ff"/><stop offset="0.0814" stop-color="#5e5eff"/><stop offset="0.1334" stop-color="#d8d8ff"/><stop offset="0.1470" stop-color="#fdfdff"/><stop offset="0.1696" stop-color="#ffbaba"/><stop offset="0.1990" stop-color="#ff5d5d"/><stop offset="0.2148" stop-color="#ff4040"/><stop offset="0.2284" stop-color="#ff3e3e"/><stop offset="0.2510" stop-color="#ff6161"/><stop offset="0.2871" stop-color="#ffa0a0"/><stop offset="0.3301" stop-color="#ffcaca"/><stop offset="0.3979" stop-color="#ffeeee"/><stop offset="0.4816" stop-color="#fff8f8"/><stop offset="0.8501" stop-color="#ffe6e6"/><stop offset="0.8953" stop-color="#ffdcdc"/><stop offset="0.9496" stop-color="#ffbebe"/><stop offset="0.9835" stop-color="#ffcaca"/><stop offset="1.0016" stop-color="#ffd7d7"/></linearGradient><linearGradient id="gd36" gradientUnits="userSpaceOnUse" x1="0" y1="696.7" x2="0" y2="1139"><stop offset="0.0000" stop-color="#4747ff"/><stop offset="0.0362" stop-color="#3333ff"/><stop offset="0.0565" stop-color="#3939ff"/><stop offset="0.0814" stop-color="#5e5eff"/><stop offset="0.1311" stop-color="#d3d3ff"/><stop offset="0.1470" stop-color="#fefeff"/><stop offset="0.1764" stop-color="#ffa2a2"/><stop offset="0.2012" stop-color="#ff5656"/><stop offset="0.2170" stop-color="#ff3c3c"/><stop offset="0.2306" stop-color="#ff3e3e"/><stop offset="0.2600" stop-color="#ff7272"/><stop offset="0.2917" stop-color="#ffa6a6"/><stop offset="0.3391" stop-color="#ffd1d1"/><stop offset="0.4047" stop-color="#fff0f0"/><stop offset="0.4974" stop-color="#fff8f8"/><stop offset="0.8478" stop-color="#ffe6e6"/><stop offset="0.8953" stop-color="#ffdddd"/><stop offset="0.9496" stop-color="#ffbfbf"/><stop offset="0.9835" stop-color="#ffcbcb"/><stop offset="1.0016" stop-color="#ffd8d8"/></linearGradient><linearGradient id="gd37" gradientUnits="userSpaceOnUse" x1="0" y1="696.7" x2="0" y2="1139"><stop offset="0.0000" stop-color="#4747ff"/><stop offset="0.0362" stop-color="#3333ff"/><stop offset="0.0565" stop-color="#3939ff"/><stop offset="0.0814" stop-color="#5e5eff"/><stop offset="0.1311" stop-color="#d3d3ff"/><stop offset="0.1470" stop-color="#fefeff"/><stop offset="0.1809" stop-color="#ff9292"/><stop offset="0.2035" stop-color="#ff4f4f"/><stop offset="0.2170" stop-color="#ff3a3a"/><stop offset="0.2306" stop-color="#ff3c3c"/><stop offset="0.2600" stop-color="#ff7171"/><stop offset="0.2917" stop-color="#ffa6a6"/><stop offset="0.3391" stop-color="#ffd1d1"/><stop offset="0.4047" stop-color="#fff1f1"/><stop offset="0.4997" stop-color="#fff8f8"/><stop offset="0.8501" stop-color="#ffe7e7"/><stop offset="0.8976" stop-color="#ffdddd"/><stop offset="0.9496" stop-color="#ffc1c1"/><stop offset="0.9835" stop-color="#ffcdcd"/><stop offset="1.0016" stop-color="#ffd9d9"/></linearGradient><linearGradient id="gd38" gradientUnits="userSpaceOnUse" x1="0" y1="696.7" x2="0" y2="1139"><stop offset="0.0000" stop-color="#4747ff"/><stop offset="0.0362" stop-color="#3333ff"/><stop offset="0.0565" stop-color="#3939ff"/><stop offset="0.0814" stop-color="#5e5eff"/><stop offset="0.1311" stop-color="#d3d3ff"/><stop offset="0.1470" stop-color="#ffffff"/><stop offset="0.1990" stop-color="#ff5858"/><stop offset="0.2148" stop-color="#ff3a3a"/><stop offset="0.2284" stop-color="#ff3838"/><stop offset="0.2510" stop-color="#ff5d5d"/><stop offset="0.2871" stop-color="#ffa0a0"/><stop offset="0.3278" stop-color="#ffc9c9"/><stop offset="0.3934" stop-color="#ffeeee"/><stop offset="0.4748" stop-color="#fff9f9"/><stop offset="0.8863" stop-color="#ffe3e3"/><stop offset="0.9496" stop-color="#ffc3c3"/><stop offset="0.9835" stop-color="#ffcece"/><stop offset="1.0016" stop-color="#ffdada"/></linearGradient><linearGradient id="gd39" gradientUnits="userSpaceOnUse" x1="0" y1="696.7" x2="0" y2="1139"><stop offset="0.0000" stop-color="#4747ff"/><stop offset="0.0362" stop-color="#3333ff"/><stop offset="0.0565" stop-color="#3939ff"/><stop offset="0.0814" stop-color="#5e5eff"/><stop offset="0.1311" stop-color="#d3d3ff"/><stop offset="0.1470" stop-color="#ffffff"/><stop offset="0.1990" stop-color="#ff5656"/><stop offset="0.2148" stop-color="#ff3838"/><stop offset="0.2284" stop-color="#ff3636"/><stop offset="0.2510" stop-color="#ff5c5c"/><stop offset="0.2849" stop-color="#ff9c9c"/><stop offset="0.3233" stop-color="#ffc6c6"/><stop offset="0.3889" stop-color="#ffecec"/><stop offset="0.4657" stop-color="#fff9f9"/><stop offset="0.8863" stop-color="#ffe4e4"/><stop offset="0.9496" stop-color="#ffc5c5"/><stop offset="0.9858" stop-color="#ffd1d1"/><stop offset="1.0016" stop-color="#ffdbdb"/></linearGradient><linearGradient id="gd40" gradientUnits="userSpaceOnUse" x1="0" y1="696.7" x2="0" y2="1139"><stop offset="0.0000" stop-color="#4747ff"/><stop offset="0.0362" stop-color="#3333ff"/><stop offset="0.0565" stop-color="#3939ff"/><stop offset="0.0814" stop-color="#5e5eff"/><stop offset="0.1289" stop-color="#ceceff"/><stop offset="0.1470" stop-color="#ffffff"/><stop offset="0.1990" stop-color="#ff5454"/><stop offset="0.2148" stop-color="#ff3636"/><stop offset="0.2284" stop-color="#ff3434"/><stop offset="0.2510" stop-color="#ff5a5a"/><stop offset="0.2849" stop-color="#ff9c9c"/><stop offset="0.3233" stop-color="#ffc6c6"/><stop offset="0.3889" stop-color="#ffecec"/><stop offset="0.4657" stop-color="#fff9f9"/><stop offset="0.8863" stop-color="#ffe5e5"/><stop offset="0.9518" stop-color="#ffc7c7"/><stop offset="0.9903" stop-color="#ffd6d6"/><stop offset="1.0016" stop-color="#ffdddd"/></linearGradient><linearGradient id="gd41" gradientUnits="userSpaceOnUse" x1="0" y1="696.7" x2="0" y2="1139"><stop offset="0.0000" stop-color="#4747ff"/><stop offset="0.0362" stop-color="#3333ff"/><stop offset="0.0565" stop-color="#3939ff"/><stop offset="0.0814" stop-color="#5e5eff"/><stop offset="0.1289" stop-color="#ceceff"/><stop offset="0.1470" stop-color="#fffefe"/><stop offset="0.1990" stop-color="#ff5353"/><stop offset="0.2148" stop-color="#ff3434"/><stop offset="0.2284" stop-color="#ff3232"/><stop offset="0.2510" stop-color="#ff5959"/><stop offset="0.2849" stop-color="#ff9b9b"/><stop offset="0.3233" stop-color="#ffc5c5"/><stop offset="0.3889" stop-color="#ffecec"/><stop offset="0.4657" stop-color="#fff9f9"/><stop offset="0.8885" stop-color="#ffe5e5"/><stop offset="0.9518" stop-color="#ffcaca"/><stop offset="0.9903" stop-color="#ffd8d8"/><stop offset="1.0016" stop-color="#ffdede"/></linearGradient><linearGradient id="gd42" gradientUnits="userSpaceOnUse" x1="0" y1="696.7" x2="0" y2="1139"><stop offset="0.0000" stop-color="#4747ff"/><stop offset="0.0362" stop-color="#3333ff"/><stop offset="0.0565" stop-color="#3939ff"/><stop offset="0.0814" stop-color="#5e5eff"/><stop offset="0.1289" stop-color="#ceceff"/><stop offset="0.1470" stop-color="#fffefe"/><stop offset="0.1990" stop-color="#ff5151"/><stop offset="0.2148" stop-color="#ff3232"/><stop offset="0.2284" stop-color="#ff3030"/><stop offset="0.2510" stop-color="#ff5757"/><stop offset="0.2849" stop-color="#ff9a9a"/><stop offset="0.3233" stop-color="#ffc5c5"/><stop offset="0.3889" stop-color="#ffecec"/><stop offset="0.4657" stop-color="#fffafa"/><stop offset="0.8885" stop-color="#ffe6e6"/><stop offset="0.9518" stop-color="#ffcccc"/><stop offset="0.9925" stop-color="#ffdbdb"/><stop offset="1.0016" stop-color="#ffe0e0"/></linearGradient><linearGradient id="gd43" gradientUnits="userSpaceOnUse" x1="0" y1="696.7" x2="0" y2="1139"><stop offset="0.0000" stop-color="#4747ff"/><stop offset="0.0362" stop-color="#3333ff"/><stop offset="0.0565" stop-color="#3939ff"/><stop offset="0.0814" stop-color="#5e5eff"/><stop offset="0.1289" stop-color="#ceceff"/><stop offset="0.1470" stop-color="#fffdfd"/><stop offset="0.1990" stop-color="#ff4f4f"/><stop offset="0.2148" stop-color="#ff3030"/><stop offset="0.2284" stop-color="#ff2f2f"/><stop offset="0.2487" stop-color="#ff5151"/><stop offset="0.2849" stop-color="#ff9999"/><stop offset="0.3233" stop-color="#ffc5c5"/><stop offset="0.3866" stop-color="#ffebeb"/><stop offset="0.4612" stop-color="#fffafa"/><stop offset="0.8885" stop-color="#ffe8e8"/><stop offset="0.9518" stop-color="#ffcfcf"/><stop offset="0.9948" stop-color="#ffdfdf"/><stop offset="1.0016" stop-color="#ffe2e2"/></linearGradient><linearGradient id="gd44" gradientUnits="userSpaceOnUse" x1="0" y1="696.7" x2="0" y2="1139"><stop offset="0.0000" stop-color="#4747ff"/><stop offset="0.0362" stop-color="#3333ff"/><stop offset="0.0565" stop-color="#3939ff"/><stop offset="0.0814" stop-color="#5e5eff"/><stop offset="0.1289" stop-color="#ceceff"/><stop offset="0.1470" stop-color="#fffefe"/><stop offset="0.1990" stop-color="#ff5252"/><stop offset="0.2148" stop-color="#ff3333"/><stop offset="0.2284" stop-color="#ff3232"/><stop offset="0.2510" stop-color="#ff5959"/><stop offset="0.2849" stop-color="#ff9b9b"/><stop offset="0.3233" stop-color="#ffc6c6"/><stop offset="0.3889" stop-color="#ffeded"/><stop offset="0.4657" stop-color="#fffafa"/><stop offset="0.8908" stop-color="#ffe8e8"/><stop offset="0.9541" stop-color="#ffd3d3"/><stop offset="1.0016" stop-color="#ffe4e4"/></linearGradient><linearGradient id="gd45" gradientUnits="userSpaceOnUse" x1="0" y1="696.7" x2="0" y2="1139"><stop offset="0.0000" stop-color="#4747ff"/><stop offset="0.0362" stop-color="#3333ff"/><stop offset="0.0565" stop-color="#3939ff"/><stop offset="0.0814" stop-color="#5e5eff"/><stop offset="0.1311" stop-color="#d3d3ff"/><stop offset="0.1470" stop-color="#ffffff"/><stop offset="0.1990" stop-color="#ff5555"/><stop offset="0.2148" stop-color="#ff3737"/><stop offset="0.2284" stop-color="#ff3535"/><stop offset="0.2510" stop-color="#ff5b5b"/><stop offset="0.2849" stop-color="#ff9d9d"/><stop offset="0.3233" stop-color="#ffc7c7"/><stop offset="0.3889" stop-color="#ffeded"/><stop offset="0.4680" stop-color="#fffbfb"/><stop offset="0.8931" stop-color="#ffeaea"/><stop offset="0.9541" stop-color="#ffd6d6"/><stop offset="1.0016" stop-color="#ffe6e6"/></linearGradient><linearGradient id="gd46" gradientUnits="userSpaceOnUse" x1="0" y1="696.7" x2="0" y2="1139"><stop offset="0.0000" stop-color="#4747ff"/><stop offset="0.0362" stop-color="#3333ff"/><stop offset="0.0565" stop-color="#3939ff"/><stop offset="0.0814" stop-color="#5e5eff"/><stop offset="0.1311" stop-color="#d3d3ff"/><stop offset="0.1470" stop-color="#ffffff"/><stop offset="0.1990" stop-color="#ff5656"/><stop offset="0.2148" stop-color="#ff3838"/><stop offset="0.2284" stop-color="#ff3636"/><stop offset="0.2510" stop-color="#ff5c5c"/><stop offset="0.2849" stop-color="#ff9d9d"/><stop offset="0.3233" stop-color="#ffc7c7"/><stop offset="0.3889" stop-color="#ffeded"/><stop offset="0.4680" stop-color="#fffbfb"/><stop offset="0.8931" stop-color="#ffeaea"/><stop offset="0.9541" stop-color="#ffd7d7"/><stop offset="1.0016" stop-color="#ffe6e6"/></linearGradient><linearGradient id="gd47" gradientUnits="userSpaceOnUse" x1="0" y1="696.7" x2="0" y2="1139"><stop offset="0.0000" stop-color="#4747ff"/><stop offset="0.0362" stop-color="#3333ff"/><stop offset="0.0565" stop-color="#3939ff"/><stop offset="0.0814" stop-color="#5e5eff"/><stop offset="0.1311" stop-color="#d3d3ff"/><stop offset="0.1470" stop-color="#ffffff"/><stop offset="0.1990" stop-color="#ff5656"/><stop offset="0.2148" stop-color="#ff3838"/><stop offset="0.2284" stop-color="#ff3737"/><stop offset="0.2510" stop-color="#ff5c5c"/><stop offset="0.2849" stop-color="#ff9d9d"/><stop offset="0.3233" stop-color="#ffc7c7"/><stop offset="0.3889" stop-color="#ffeded"/><stop offset="0.4680" stop-color="#fffbfb"/><stop offset="0.8931" stop-color="#ffeaea"/><stop offset="0.9541" stop-color="#ffd7d7"/><stop offset="1.0016" stop-color="#ffe7e7"/></linearGradient><linearGradient id="gd48" gradientUnits="userSpaceOnUse" x1="0" y1="696.7" x2="0" y2="1139"><stop offset="0.0000" stop-color="#4747ff"/><stop offset="0.0362" stop-color="#3333ff"/><stop offset="0.0565" stop-color="#3939ff"/><stop offset="0.0814" stop-color="#5e5eff"/><stop offset="0.1311" stop-color="#d3d3ff"/><stop offset="0.1470" stop-color="#ffffff"/><stop offset="0.1990" stop-color="#ff5757"/><stop offset="0.2148" stop-color="#ff3939"/><stop offset="0.2284" stop-color="#ff3737"/><stop offset="0.2510" stop-color="#ff5d5d"/><stop offset="0.2849" stop-color="#ff9e9e"/><stop offset="0.3233" stop-color="#ffc8c8"/><stop offset="0.3889" stop-color="#ffeeee"/><stop offset="0.4680" stop-color="#fffbfb"/><stop offset="0.8931" stop-color="#ffeaea"/><stop offset="0.9541" stop-color="#ffd8d8"/><stop offset="1.0016" stop-color="#ffe7e7"/></linearGradient><linearGradient id="gd49" gradientUnits="userSpaceOnUse" x1="0" y1="696.7" x2="0" y2="1139"><stop offset="0.0000" stop-color="#4747ff"/><stop offset="0.0362" stop-color="#3333ff"/><stop offset="0.0565" stop-color="#3939ff"/><stop offset="0.0814" stop-color="#5e5eff"/><stop offset="0.1311" stop-color="#d3d3ff"/><stop offset="0.1470" stop-color="#ffffff"/><stop offset="0.1990" stop-color="#ff5858"/><stop offset="0.2148" stop-color="#ff3a3a"/><stop offset="0.2284" stop-color="#ff3838"/><stop offset="0.2510" stop-color="#ff5e5e"/><stop offset="0.2849" stop-color="#ff9e9e"/><stop offset="0.3233" stop-color="#ffc8c8"/><stop offset="0.3889" stop-color="#ffeeee"/><stop offset="0.4680" stop-color="#fffbfb"/><stop offset="0.8931" stop-color="#ffebeb"/><stop offset="0.9564" stop-color="#ffd9d9"/><stop offset="1.0016" stop-color="#ffe8e8"/></linearGradient><linearGradient id="gd50" gradientUnits="userSpaceOnUse" x1="0" y1="696.7" x2="0" y2="1139"><stop offset="0.0000" stop-color="#4747ff"/><stop offset="0.0362" stop-color="#3333ff"/><stop offset="0.0565" stop-color="#3939ff"/><stop offset="0.0814" stop-color="#5e5eff"/><stop offset="0.1311" stop-color="#d3d3ff"/><stop offset="0.1470" stop-color="#ffffff"/><stop offset="0.1990" stop-color="#ff5858"/><stop offset="0.2148" stop-color="#ff3a3a"/><stop offset="0.2284" stop-color="#ff3939"/><stop offset="0.2510" stop-color="#ff5f5f"/><stop offset="0.2849" stop-color="#ff9f9f"/><stop offset="0.3233" stop-color="#ffc8c8"/><stop offset="0.3889" stop-color="#ffeeee"/><stop offset="0.4703" stop-color="#fffbfb"/><stop offset="0.8931" stop-color="#ffebeb"/><stop offset="0.9564" stop-color="#ffdada"/><stop offset="1.0016" stop-color="#ffe8e8"/></linearGradient><linearGradient id="gd51" gradientUnits="userSpaceOnUse" x1="0" y1="696.7" x2="0" y2="1139"><stop offset="0.0000" stop-color="#4747ff"/><stop offset="0.0362" stop-color="#3333ff"/><stop offset="0.0565" stop-color="#3939ff"/><stop offset="0.0814" stop-color="#5e5eff"/><stop offset="0.1311" stop-color="#d3d3ff"/><stop offset="0.1470" stop-color="#fefeff"/><stop offset="0.1990" stop-color="#ff5959"/><stop offset="0.2148" stop-color="#ff3b3b"/><stop offset="0.2284" stop-color="#ff3a3a"/><stop offset="0.2510" stop-color="#ff5f5f"/><stop offset="0.2849" stop-color="#ffa0a0"/><stop offset="0.3233" stop-color="#ffc9c9"/><stop offset="0.3889" stop-color="#ffeeee"/><stop offset="0.4703" stop-color="#fffbfb"/><stop offset="0.8931" stop-color="#ffecec"/><stop offset="0.9564" stop-color="#ffdada"/><stop offset="1.0016" stop-color="#ffe9e9"/></linearGradient><linearGradient id="gd52" gradientUnits="userSpaceOnUse" x1="0" y1="696.7" x2="0" y2="1139"><stop offset="0.0000" stop-color="#4747ff"/><stop offset="0.0362" stop-color="#3333ff"/><stop offset="0.0565" stop-color="#3939ff"/><stop offset="0.0814" stop-color="#5e5eff"/><stop offset="0.1311" stop-color="#d3d3ff"/><stop offset="0.1470" stop-color="#fefeff"/><stop offset="0.1809" stop-color="#ff9292"/><stop offset="0.2035" stop-color="#ff4f4f"/><stop offset="0.2170" stop-color="#ff3b3b"/><stop offset="0.2306" stop-color="#ff3d3d"/><stop offset="0.2577" stop-color="#ff6f6f"/><stop offset="0.2894" stop-color="#ffa7a7"/><stop offset="0.3324" stop-color="#ffd0d0"/><stop offset="0.3979" stop-color="#fff1f1"/><stop offset="0.4906" stop-color="#fffcfc"/><stop offset="0.8953" stop-color="#ffebeb"/><stop offset="0.9564" stop-color="#ffdbdb"/><stop offset="1.0016" stop-color="#ffe9e9"/></linearGradient><linearGradient id="gd53" gradientUnits="userSpaceOnUse" x1="0" y1="696.7" x2="0" y2="1139"><stop offset="0.0000" stop-color="#4747ff"/><stop offset="0.0362" stop-color="#3333ff"/><stop offset="0.0565" stop-color="#3939ff"/><stop offset="0.0814" stop-color="#5e5eff"/><stop offset="0.1311" stop-color="#d3d3ff"/><stop offset="0.1470" stop-color="#fefeff"/><stop offset="0.1786" stop-color="#ff9a9a"/><stop offset="0.2012" stop-color="#ff5555"/><stop offset="0.2170" stop-color="#ff3c3c"/><stop offset="0.2306" stop-color="#ff3e3e"/><stop offset="0.2577" stop-color="#ff7070"/><stop offset="0.2894" stop-color="#ffa8a8"/><stop offset="0.3324" stop-color="#ffd1d1"/><stop offset="0.3979" stop-color="#fff2f2"/><stop offset="0.4906" stop-color="#fffcfc"/><stop offset="0.8953" stop-color="#ffecec"/><stop offset="0.9564" stop-color="#ffdcdc"/><stop offset="1.0016" stop-color="#ffeaea"/></linearGradient><linearGradient id="gd54" gradientUnits="userSpaceOnUse" x1="0" y1="696.7" x2="0" y2="1139"><stop offset="0.0000" stop-color="#4747ff"/><stop offset="0.0362" stop-color="#3333ff"/><stop offset="0.0565" stop-color="#3939ff"/><stop offset="0.0814" stop-color="#5e5eff"/><stop offset="0.1311" stop-color="#d3d3ff"/><stop offset="0.1470" stop-color="#fefeff"/><stop offset="0.1741" stop-color="#ffaaaa"/><stop offset="0.2012" stop-color="#ff5656"/><stop offset="0.2170" stop-color="#ff3d3d"/><stop offset="0.2306" stop-color="#ff4040"/><stop offset="0.2600" stop-color="#ff7575"/><stop offset="0.2917" stop-color="#ffabab"/><stop offset="0.3369" stop-color="#ffd4d4"/><stop offset="0.4024" stop-color="#fff3f3"/><stop offset="0.5042" stop-color="#fffcfc"/><stop offset="0.8953" stop-color="#ffeded"/><stop offset="0.9564" stop-color="#ffdede"/><stop offset="1.0016" stop-color="#ffeaea"/></linearGradient><linearGradient id="gd55" gradientUnits="userSpaceOnUse" x1="0" y1="696.7" x2="0" y2="1139"><stop offset="0.0000" stop-color="#4747ff"/><stop offset="0.0362" stop-color="#3333ff"/><stop offset="0.0565" stop-color="#3939ff"/><stop offset="0.0814" stop-color="#5e5eff"/><stop offset="0.1311" stop-color="#d3d3ff"/><stop offset="0.1470" stop-color="#fefeff"/><stop offset="0.1718" stop-color="#ffb2b2"/><stop offset="0.1990" stop-color="#ff5d5d"/><stop offset="0.2148" stop-color="#ff4040"/><stop offset="0.2284" stop-color="#ff3f3f"/><stop offset="0.2510" stop-color="#ff6464"/><stop offset="0.2871" stop-color="#ffa6a6"/><stop offset="0.3278" stop-color="#ffcfcf"/><stop offset="0.3934" stop-color="#fff1f1"/><stop offset="0.4838" stop-color="#fffcfc"/><stop offset="0.8953" stop-color="#ffeded"/><stop offset="0.9586" stop-color="#ffdfdf"/><stop offset="1.0016" stop-color="#ffebeb"/></linearGradient><linearGradient id="gd56" gradientUnits="userSpaceOnUse" x1="0" y1="696.7" x2="0" y2="1139"><stop offset="0.0000" stop-color="#4747ff"/><stop offset="0.0362" stop-color="#3333ff"/><stop offset="0.0565" stop-color="#3939ff"/><stop offset="0.0814" stop-color="#5e5eff"/><stop offset="0.1334" stop-color="#d8d8ff"/><stop offset="0.1470" stop-color="#fdfdff"/><stop offset="0.1628" stop-color="#ffd1d1"/><stop offset="0.1990" stop-color="#ff5f5f"/><stop offset="0.2148" stop-color="#ff4242"/><stop offset="0.2284" stop-color="#ff4141"/><stop offset="0.2510" stop-color="#ff6565"/><stop offset="0.2871" stop-color="#ffa7a7"/><stop offset="0.3278" stop-color="#ffd0d0"/><stop offset="0.3957" stop-color="#fff2f2"/><stop offset="0.4884" stop-color="#fffcfc"/><stop offset="0.8976" stop-color="#ffeeee"/><stop offset="0.9586" stop-color="#ffe0e0"/><stop offset="1.0016" stop-color="#ffecec"/></linearGradient><linearGradient id="gd57" gradientUnits="userSpaceOnUse" x1="0" y1="696.7" x2="0" y2="1139"><stop offset="0.0000" stop-color="#4747ff"/><stop offset="0.0362" stop-color="#3333ff"/><stop offset="0.0565" stop-color="#3939ff"/><stop offset="0.0814" stop-color="#5e5eff"/><stop offset="0.1334" stop-color="#d8d8ff"/><stop offset="0.1470" stop-color="#fdfdff"/><stop offset="0.1560" stop-color="#ffe7e7"/><stop offset="0.1990" stop-color="#ff6060"/><stop offset="0.2148" stop-color="#ff4444"/><stop offset="0.2284" stop-color="#ff4343"/><stop offset="0.2510" stop-color="#ff6767"/><stop offset="0.2871" stop-color="#ffa9a9"/><stop offset="0.3278" stop-color="#ffd0d0"/><stop offset="0.3957" stop-color="#fff2f2"/><stop offset="0.4906" stop-color="#fffdfd"/><stop offset="0.8976" stop-color="#ffeeee"/><stop offset="0.9609" stop-color="#ffe2e2"/><stop offset="1.0016" stop-color="#ffeded"/></linearGradient><linearGradient id="gd58" gradientUnits="userSpaceOnUse" x1="0" y1="696.7" x2="0" y2="1139"><stop offset="0.0000" stop-color="#4747ff"/><stop offset="0.0362" stop-color="#3333ff"/><stop offset="0.0565" stop-color="#3939ff"/><stop offset="0.0814" stop-color="#5e5eff"/><stop offset="0.1334" stop-color="#d8d8ff"/><stop offset="0.1470" stop-color="#fdfdff"/><stop offset="0.1537" stop-color="#ffeeee"/><stop offset="0.1990" stop-color="#ff6262"/><stop offset="0.2148" stop-color="#ff4646"/><stop offset="0.2284" stop-color="#ff4545"/><stop offset="0.2510" stop-color="#ff6969"/><stop offset="0.2871" stop-color="#ffaaaa"/><stop offset="0.3278" stop-color="#ffd1d1"/><stop offset="0.3957" stop-color="#fff3f3"/><stop offset="0.4929" stop-color="#fffdfd"/><stop offset="0.8998" stop-color="#ffefef"/><stop offset="0.9609" stop-color="#ffe4e4"/><stop offset="1.0016" stop-color="#ffeeee"/></linearGradient><linearGradient id="gd59" gradientUnits="userSpaceOnUse" x1="0" y1="696.7" x2="0" y2="1139"><stop offset="0.0000" stop-color="#4747ff"/><stop offset="0.0362" stop-color="#3333ff"/><stop offset="0.0565" stop-color="#3939ff"/><stop offset="0.0814" stop-color="#5e5eff"/><stop offset="0.1334" stop-color="#d8d8ff"/><stop offset="0.1470" stop-color="#fcfcff"/><stop offset="0.1515" stop-color="#fff5f5"/><stop offset="0.1990" stop-color="#ff6262"/><stop offset="0.2148" stop-color="#ff4646"/><stop offset="0.2284" stop-color="#ff4545"/><stop offset="0.2510" stop-color="#ff6969"/><stop offset="0.2871" stop-color="#ffaaaa"/><stop offset="0.3278" stop-color="#ffd2d2"/><stop offset="0.3957" stop-color="#fff3f3"/><stop offset="0.4929" stop-color="#fffdfd"/><stop offset="0.8998" stop-color="#ffefef"/><stop offset="0.9609" stop-color="#ffe4e4"/><stop offset="1.0016" stop-color="#ffeeee"/></linearGradient><clipPath id="gdclip"><rect x="431.2" y="696.7" width="463.4" height="442.3"/></clipPath><filter id="gdf" x="-5%" y="0" width="110%" height="100%"><feGaussianBlur stdDeviation="3.5 0"/></filter><clipPath id="cc12542-50"><rect x="125" y="4.5" width="245.6" height="522"/></clipPath><clipPath id="cc1256013"><rect x="125" y="60" width="60" height="466.5"/></clipPath><clipPath id="cc431512-50"><rect x="431.2" y="51.6" width="463.3" height="442.4"/></clipPath><clipPath id="cc1256506-75"><rect x="125" y="650" width="245.6" height="522"/></clipPath><clipPath id="cc4316965-75"><rect x="431.2" y="696.7" width="463.4" height="442.3"/></clipPath><linearGradient id="cb0" gradientUnits="userSpaceOnUse" x1="0" y1="159.8" x2="0" y2="443.3"><stop offset="0" stop-color="#ff0000"/><stop offset="0.4840" stop-color="#ffffff"/><stop offset="0.5263" stop-color="#ffffff"/><stop offset="1" stop-color="#0000ff"/></linearGradient><linearGradient id="cb646" gradientUnits="userSpaceOnUse" x1="0" y1="816" x2="0" y2="1091.5"><stop offset="0" stop-color="#ff0000"/><stop offset="0.4831" stop-color="#ffffff"/><stop offset="0.5270" stop-color="#ffffff"/><stop offset="1" stop-color="#0000ff"/></linearGradient><clipPath id="clb"><rect x="1106.8" y="9.1" width="631.1" height="525.9"/></clipPath><clipPath id="cld"><rect x="1107.4" y="657.2" width="631.1" height="525.8"/></clipPath></defs>
<rect width="1745" height="1279" fill="#fff"/>
<g clip-path="url(#gaclip)"><g filter="url(#gaf)"><rect x="119" y="4.5" width="6.6" height="522" fill="url(#ga0)"/><rect x="125" y="4.5" width="6.6" height="522" fill="url(#ga1)"/><rect x="131" y="4.5" width="6.6" height="522" fill="url(#ga2)"/><rect x="137" y="4.5" width="6.6" height="522" fill="url(#ga3)"/><rect x="143" y="4.5" width="6.6" height="522" fill="url(#ga4)"/><rect x="149" y="4.5" width="6.6" height="522" fill="url(#ga5)"/><rect x="155" y="4.5" width="6.6" height="522" fill="url(#ga6)"/><rect x="161" y="4.5" width="6.6" height="522" fill="url(#ga7)"/><rect x="167" y="4.5" width="6.6" height="522" fill="url(#ga8)"/><rect x="173" y="4.5" width="6.6" height="522" fill="url(#ga9)"/><rect x="179" y="4.5" width="6.6" height="522" fill="url(#ga10)"/><rect x="185" y="4.5" width="6.6" height="522" fill="url(#ga11)"/><rect x="191" y="4.5" width="6.6" height="522" fill="url(#ga12)"/><rect x="197" y="4.5" width="6.6" height="522" fill="url(#ga13)"/><rect x="203" y="4.5" width="6.6" height="522" fill="url(#ga14)"/><rect x="209" y="4.5" width="6.6" height="522" fill="url(#ga15)"/><rect x="215" y="4.5" width="6.6" height="522" fill="url(#ga16)"/><rect x="221" y="4.5" width="6.6" height="522" fill="url(#ga17)"/><rect x="227" y="4.5" width="6.6" height="522" fill="url(#ga18)"/><rect x="233" y="4.5" width="6.6" height="522" fill="url(#ga19)"/><rect x="239" y="4.5" width="6.6" height="522" fill="url(#ga20)"/><rect x="245" y="4.5" width="6.6" height="522" fill="url(#ga21)"/><rect x="251" y="4.5" width="6.6" height="522" fill="url(#ga22)"/><rect x="257" y="4.5" width="6.6" height="522" fill="url(#ga23)"/><rect x="263" y="4.5" width="6.6" height="522" fill="url(#ga24)"/><rect x="269" y="4.5" width="6.6" height="522" fill="url(#ga25)"/><rect x="275" y="4.5" width="6.6" height="522" fill="url(#ga26)"/><rect x="281" y="4.5" width="6.6" height="522" fill="url(#ga27)"/><rect x="287" y="4.5" width="6.6" height="522" fill="url(#ga28)"/><rect x="293" y="4.5" width="6.6" height="522" fill="url(#ga29)"/><rect x="299" y="4.5" width="6.6" height="522" fill="url(#ga30)"/><rect x="305" y="4.5" width="6.6" height="522" fill="url(#ga31)"/><rect x="311" y="4.5" width="6.6" height="522" fill="url(#ga32)"/><rect x="317" y="4.5" width="6.6" height="522" fill="url(#ga33)"/><rect x="323" y="4.5" width="6.6" height="522" fill="url(#ga34)"/><rect x="329" y="4.5" width="6.6" height="522" fill="url(#ga35)"/><rect x="335" y="4.5" width="6.6" height="522" fill="url(#ga36)"/><rect x="341" y="4.5" width="6.6" height="522" fill="url(#ga37)"/><rect x="347" y="4.5" width="6.6" height="522" fill="url(#ga38)"/><rect x="353" y="4.5" width="6.6" height="522" fill="url(#ga39)"/><rect x="359" y="4.5" width="6.6" height="522" fill="url(#ga40)"/><rect x="365" y="4.5" width="6.6" height="522" fill="url(#ga41)"/><rect x="371" y="4.5" width="6.2" height="522" fill="url(#ga42)"/></g></g><g clip-path="url(#gbclip)"><g filter="url(#gbf)"><rect x="423.2" y="51.6" width="8.6" height="442.4" fill="url(#gb0)"/><rect x="431.2" y="51.6" width="8.6" height="442.4" fill="url(#gb1)"/><rect x="439.2" y="51.6" width="8.6" height="442.4" fill="url(#gb2)"/><rect x="447.2" y="51.6" width="8.6" height="442.4" fill="url(#gb3)"/><rect x="455.2" y="51.6" width="8.6" height="442.4" fill="url(#gb4)"/><rect x="463.2" y="51.6" width="8.6" height="442.4" fill="url(#gb5)"/><rect x="471.2" y="51.6" width="8.6" height="442.4" fill="url(#gb6)"/><rect x="479.2" y="51.6" width="8.6" height="442.4" fill="url(#gb7)"/><rect x="487.2" y="51.6" width="8.6" height="442.4" fill="url(#gb8)"/><rect x="495.2" y="51.6" width="8.6" height="442.4" fill="url(#gb9)"/><rect x="503.2" y="51.6" width="8.6" height="442.4" fill="url(#gb10)"/><rect x="511.2" y="51.6" width="8.6" height="442.4" fill="url(#gb11)"/><rect x="519.2" y="51.6" width="8.6" height="442.4" fill="url(#gb12)"/><rect x="527.2" y="51.6" width="8.6" height="442.4" fill="url(#gb13)"/><rect x="535.2" y="51.6" width="8.6" height="442.4" fill="url(#gb14)"/><rect x="543.2" y="51.6" width="8.6" height="442.4" fill="url(#gb15)"/><rect x="551.2" y="51.6" width="8.6" height="442.4" fill="url(#gb16)"/><rect x="559.2" y="51.6" width="8.6" height="442.4" fill="url(#gb17)"/><rect x="567.2" y="51.6" width="8.6" height="442.4" fill="url(#gb18)"/><rect x="575.2" y="51.6" width="8.6" height="442.4" fill="url(#gb19)"/><rect x="583.2" y="51.6" width="8.6" height="442.4" fill="url(#gb20)"/><rect x="591.2" y="51.6" width="8.6" height="442.4" fill="url(#gb21)"/><rect x="599.2" y="51.6" width="8.6" height="442.4" fill="url(#gb22)"/><rect x="607.2" y="51.6" width="8.6" height="442.4" fill="url(#gb23)"/><rect x="615.2" y="51.6" width="8.6" height="442.4" fill="url(#gb24)"/><rect x="623.2" y="51.6" width="8.6" height="442.4" fill="url(#gb25)"/><rect x="631.2" y="51.6" width="8.6" height="442.4" fill="url(#gb26)"/><rect x="639.2" y="51.6" width="8.6" height="442.4" fill="url(#gb27)"/><rect x="647.2" y="51.6" width="8.6" height="442.4" fill="url(#gb28)"/><rect x="655.2" y="51.6" width="8.6" height="442.4" fill="url(#gb29)"/><rect x="663.2" y="51.6" width="8.6" height="442.4" fill="url(#gb30)"/><rect x="671.2" y="51.6" width="8.6" height="442.4" fill="url(#gb31)"/><rect x="679.2" y="51.6" width="8.6" height="442.4" fill="url(#gb32)"/><rect x="687.2" y="51.6" width="8.6" height="442.4" fill="url(#gb33)"/><rect x="695.2" y="51.6" width="8.6" height="442.4" fill="url(#gb34)"/><rect x="703.2" y="51.6" width="8.6" height="442.4" fill="url(#gb35)"/><rect x="711.2" y="51.6" width="8.6" height="442.4" fill="url(#gb36)"/><rect x="719.2" y="51.6" width="8.6" height="442.4" fill="url(#gb37)"/><rect x="727.2" y="51.6" width="8.6" height="442.4" fill="url(#gb38)"/><rect x="735.2" y="51.6" width="8.6" height="442.4" fill="url(#gb39)"/><rect x="743.2" y="51.6" width="8.6" height="442.4" fill="url(#gb40)"/><rect x="751.2" y="51.6" width="8.6" height="442.4" fill="url(#gb41)"/><rect x="759.2" y="51.6" width="8.6" height="442.4" fill="url(#gb42)"/><rect x="767.2" y="51.6" width="8.6" height="442.4" fill="url(#gb43)"/><rect x="775.2" y="51.6" width="8.6" height="442.4" fill="url(#gb44)"/><rect x="783.2" y="51.6" width="8.6" height="442.4" fill="url(#gb45)"/><rect x="791.2" y="51.6" width="8.6" height="442.4" fill="url(#gb46)"/><rect x="799.2" y="51.6" width="8.6" height="442.4" fill="url(#gb47)"/><rect x="807.2" y="51.6" width="8.6" height="442.4" fill="url(#gb48)"/><rect x="815.2" y="51.6" width="8.6" height="442.4" fill="url(#gb49)"/><rect x="823.2" y="51.6" width="8.6" height="442.4" fill="url(#gb50)"/><rect x="831.2" y="51.6" width="8.6" height="442.4" fill="url(#gb51)"/><rect x="839.2" y="51.6" width="8.6" height="442.4" fill="url(#gb52)"/><rect x="847.2" y="51.6" width="8.6" height="442.4" fill="url(#gb53)"/><rect x="855.2" y="51.6" width="8.6" height="442.4" fill="url(#gb54)"/><rect x="863.2" y="51.6" width="8.6" height="442.4" fill="url(#gb55)"/><rect x="871.2" y="51.6" width="8.6" height="442.4" fill="url(#gb56)"/><rect x="879.2" y="51.6" width="8.6" height="442.4" fill="url(#gb57)"/><rect x="887.2" y="51.6" width="8.6" height="442.4" fill="url(#gb58)"/><rect x="895.2" y="51.6" width="7.9" height="442.4" fill="url(#gb59)"/></g></g><g clip-path="url(#gcclip)"><g filter="url(#gcf)"><rect x="119" y="650" width="6.6" height="522" fill="url(#gc0)"/><rect x="125" y="650" width="6.6" height="522" fill="url(#gc1)"/><rect x="131" y="650" width="6.6" height="522" fill="url(#gc2)"/><rect x="137" y="650" width="6.6" height="522" fill="url(#gc3)"/><rect x="143" y="650" width="6.6" height="522" fill="url(#gc4)"/><rect x="149" y="650" width="6.6" height="522" fill="url(#gc5)"/><rect x="155" y="650" width="6.6" height="522" fill="url(#gc6)"/><rect x="161" y="650" width="6.6" height="522" fill="url(#gc7)"/><rect x="167" y="650" width="6.6" height="522" fill="url(#gc8)"/><rect x="173" y="650" width="6.6" height="522" fill="url(#gc9)"/><rect x="179" y="650" width="6.6" height="522" fill="url(#gc10)"/><rect x="185" y="650" width="6.6" height="522" fill="url(#gc11)"/><rect x="191" y="650" width="6.6" height="522" fill="url(#gc12)"/><rect x="197" y="650" width="6.6" height="522" fill="url(#gc13)"/><rect x="203" y="650" width="6.6" height="522" fill="url(#gc14)"/><rect x="209" y="650" width="6.6" height="522" fill="url(#gc15)"/><rect x="215" y="650" width="6.6" height="522" fill="url(#gc16)"/><rect x="221" y="650" width="6.6" height="522" fill="url(#gc17)"/><rect x="227" y="650" width="6.6" height="522" fill="url(#gc18)"/><rect x="233" y="650" width="6.6" height="522" fill="url(#gc19)"/><rect x="239" y="650" width="6.6" height="522" fill="url(#gc20)"/><rect x="245" y="650" width="6.6" height="522" fill="url(#gc21)"/><rect x="251" y="650" width="6.6" height="522" fill="url(#gc22)"/><rect x="257" y="650" width="6.6" height="522" fill="url(#gc23)"/><rect x="263" y="650" width="6.6" height="522" fill="url(#gc24)"/><rect x="269" y="650" width="6.6" height="522" fill="url(#gc25)"/><rect x="275" y="650" width="6.6" height="522" fill="url(#gc26)"/><rect x="281" y="650" width="6.6" height="522" fill="url(#gc27)"/><rect x="287" y="650" width="6.6" height="522" fill="url(#gc28)"/><rect x="293" y="650" width="6.6" height="522" fill="url(#gc29)"/><rect x="299" y="650" width="6.6" height="522" fill="url(#gc30)"/><rect x="305" y="650" width="6.6" height="522" fill="url(#gc31)"/><rect x="311" y="650" width="6.6" height="522" fill="url(#gc32)"/><rect x="317" y="650" width="6.6" height="522" fill="url(#gc33)"/><rect x="323" y="650" width="6.6" height="522" fill="url(#gc34)"/><rect x="329" y="650" width="6.6" height="522" fill="url(#gc35)"/><rect x="335" y="650" width="6.6" height="522" fill="url(#gc36)"/><rect x="341" y="650" width="6.6" height="522" fill="url(#gc37)"/><rect x="347" y="650" width="6.6" height="522" fill="url(#gc38)"/><rect x="353" y="650" width="6.6" height="522" fill="url(#gc39)"/><rect x="359" y="650" width="6.6" height="522" fill="url(#gc40)"/><rect x="365" y="650" width="6.6" height="522" fill="url(#gc41)"/><rect x="371" y="650" width="6.2" height="522" fill="url(#gc42)"/></g></g><g clip-path="url(#gdclip)"><g filter="url(#gdf)"><rect x="423.2" y="696.7" width="8.6" height="442.3" fill="url(#gd0)"/><rect x="431.2" y="696.7" width="8.6" height="442.3" fill="url(#gd1)"/><rect x="439.2" y="696.7" width="8.6" height="442.3" fill="url(#gd2)"/><rect x="447.2" y="696.7" width="8.6" height="442.3" fill="url(#gd3)"/><rect x="455.2" y="696.7" width="8.6" height="442.3" fill="url(#gd4)"/><rect x="463.2" y="696.7" width="8.6" height="442.3" fill="url(#gd5)"/><rect x="471.2" y="696.7" width="8.6" height="442.3" fill="url(#gd6)"/><rect x="479.2" y="696.7" width="8.6" height="442.3" fill="url(#gd7)"/><rect x="487.2" y="696.7" width="8.6" height="442.3" fill="url(#gd8)"/><rect x="495.2" y="696.7" width="8.6" height="442.3" fill="url(#gd9)"/><rect x="503.2" y="696.7" width="8.6" height="442.3" fill="url(#gd10)"/><rect x="511.2" y="696.7" width="8.6" height="442.3" fill="url(#gd11)"/><rect x="519.2" y="696.7" width="8.6" height="442.3" fill="url(#gd12)"/><rect x="527.2" y="696.7" width="8.6" height="442.3" fill="url(#gd13)"/><rect x="535.2" y="696.7" width="8.6" height="442.3" fill="url(#gd14)"/><rect x="543.2" y="696.7" width="8.6" height="442.3" fill="url(#gd15)"/><rect x="551.2" y="696.7" width="8.6" height="442.3" fill="url(#gd16)"/><rect x="559.2" y="696.7" width="8.6" height="442.3" fill="url(#gd17)"/><rect x="567.2" y="696.7" width="8.6" height="442.3" fill="url(#gd18)"/><rect x="575.2" y="696.7" width="8.6" height="442.3" fill="url(#gd19)"/><rect x="583.2" y="696.7" width="8.6" height="442.3" fill="url(#gd20)"/><rect x="591.2" y="696.7" width="8.6" height="442.3" fill="url(#gd21)"/><rect x="599.2" y="696.7" width="8.6" height="442.3" fill="url(#gd22)"/><rect x="607.2" y="696.7" width="8.6" height="442.3" fill="url(#gd23)"/><rect x="615.2" y="696.7" width="8.6" height="442.3" fill="url(#gd24)"/><rect x="623.2" y="696.7" width="8.6" height="442.3" fill="url(#gd25)"/><rect x="631.2" y="696.7" width="8.6" height="442.3" fill="url(#gd26)"/><rect x="639.2" y="696.7" width="8.6" height="442.3" fill="url(#gd27)"/><rect x="647.2" y="696.7" width="8.6" height="442.3" fill="url(#gd28)"/><rect x="655.2" y="696.7" width="8.6" height="442.3" fill="url(#gd29)"/><rect x="663.2" y="696.7" width="8.6" height="442.3" fill="url(#gd30)"/><rect x="671.2" y="696.7" width="8.6" height="442.3" fill="url(#gd31)"/><rect x="679.2" y="696.7" width="8.6" height="442.3" fill="url(#gd32)"/><rect x="687.2" y="696.7" width="8.6" height="442.3" fill="url(#gd33)"/><rect x="695.2" y="696.7" width="8.6" height="442.3" fill="url(#gd34)"/><rect x="703.2" y="696.7" width="8.6" height="442.3" fill="url(#gd35)"/><rect x="711.2" y="696.7" width="8.6" height="442.3" fill="url(#gd36)"/><rect x="719.2" y="696.7" width="8.6" height="442.3" fill="url(#gd37)"/><rect x="727.2" y="696.7" width="8.6" height="442.3" fill="url(#gd38)"/><rect x="735.2" y="696.7" width="8.6" height="442.3" fill="url(#gd39)"/><rect x="743.2" y="696.7" width="8.6" height="442.3" fill="url(#gd40)"/><rect x="751.2" y="696.7" width="8.6" height="442.3" fill="url(#gd41)"/><rect x="759.2" y="696.7" width="8.6" height="442.3" fill="url(#gd42)"/><rect x="767.2" y="696.7" width="8.6" height="442.3" fill="url(#gd43)"/><rect x="775.2" y="696.7" width="8.6" height="442.3" fill="url(#gd44)"/><rect x="783.2" y="696.7" width="8.6" height="442.3" fill="url(#gd45)"/><rect x="791.2" y="696.7" width="8.6" height="442.3" fill="url(#gd46)"/><rect x="799.2" y="696.7" width="8.6" height="442.3" fill="url(#gd47)"/><rect x="807.2" y="696.7" width="8.6" height="442.3" fill="url(#gd48)"/><rect x="815.2" y="696.7" width="8.6" height="442.3" fill="url(#gd49)"/><rect x="823.2" y="696.7" width="8.6" height="442.3" fill="url(#gd50)"/><rect x="831.2" y="696.7" width="8.6" height="442.3" fill="url(#gd51)"/><rect x="839.2" y="696.7" width="8.6" height="442.3" fill="url(#gd52)"/><rect x="847.2" y="696.7" width="8.6" height="442.3" fill="url(#gd53)"/><rect x="855.2" y="696.7" width="8.6" height="442.3" fill="url(#gd54)"/><rect x="863.2" y="696.7" width="8.6" height="442.3" fill="url(#gd55)"/><rect x="871.2" y="696.7" width="8.6" height="442.3" fill="url(#gd56)"/><rect x="879.2" y="696.7" width="8.6" height="442.3" fill="url(#gd57)"/><rect x="887.2" y="696.7" width="8.6" height="442.3" fill="url(#gd58)"/><rect x="895.2" y="696.7" width="8" height="442.3" fill="url(#gd59)"/></g></g><rect x="112.4" y="2" width="258.2" height="525.4" fill="none" stroke="#000" stroke-width="2.2"/><line x1="102.4" y1="508.3" x2="112.4" y2="508.3" stroke="#000" stroke-width="2" /><text transform="translate(94.3,516.9) scale(1,1.09)" font-family="'Liberation Sans', Arial, sans-serif" font-size="27.0" text-anchor="end">526</text><line x1="102.4" y1="410.9" x2="112.4" y2="410.9" stroke="#000" stroke-width="2" /><text transform="translate(94.3,419.5) scale(1,1.09)" font-family="'Liberation Sans', Arial, sans-serif" font-size="27.0" text-anchor="end">527</text><line x1="102.4" y1="313.5" x2="112.4" y2="313.5" stroke="#000" stroke-width="2" /><text transform="translate(94.3,322.1) scale(1,1.09)" font-family="'Liberation Sans', Arial, sans-serif" font-size="27.0" text-anchor="end">528</text><line x1="102.4" y1="216.1" x2="112.4" y2="216.1" stroke="#000" stroke-width="2" /><text transform="translate(94.3,224.7) scale(1,1.09)" font-family="'Liberation Sans', Arial, sans-serif" font-size="27.0" text-anchor="end">529</text><line x1="102.4" y1="118.7" x2="112.4" y2="118.7" stroke="#000" stroke-width="2" /><text transform="translate(94.3,127.3) scale(1,1.09)" font-family="'Liberation Sans', Arial, sans-serif" font-size="27.0" text-anchor="end">530</text><line x1="102.4" y1="21.3" x2="112.4" y2="21.3" stroke="#000" stroke-width="2" /><text transform="translate(94.3,29.9) scale(1,1.09)" font-family="'Liberation Sans', Arial, sans-serif" font-size="27.0" text-anchor="end">531</text><line x1="107.4" y1="459.6" x2="112.4" y2="459.6" stroke="#000" stroke-width="2" /><line x1="107.4" y1="362.2" x2="112.4" y2="362.2" stroke="#000" stroke-width="2" /><line x1="107.4" y1="264.8" x2="112.4" y2="264.8" stroke="#000" stroke-width="2" /><line x1="107.4" y1="167.4" x2="112.4" y2="167.4" stroke="#000" stroke-width="2" /><line x1="107.4" y1="70" x2="112.4" y2="70" stroke="#000" stroke-width="2" /><line x1="112.2" y1="527.4" x2="112.2" y2="532.4" stroke="#000" stroke-width="2" /><line x1="176.8" y1="527.4" x2="176.8" y2="537.4" stroke="#000" stroke-width="2" /><line x1="241.4" y1="527.4" x2="241.4" y2="532.4" stroke="#000" stroke-width="2" /><line x1="306" y1="527.4" x2="306" y2="537.4" stroke="#000" stroke-width="2" /><line x1="370.6" y1="527.4" x2="370.6" y2="532.4" stroke="#000" stroke-width="2" /><text transform="translate(176.8,566.7) scale(1,1.09)" font-family="'Liberation Sans', Arial, sans-serif" font-size="27.2" text-anchor="middle">0</text><text transform="translate(306,566.7) scale(1,1.09)" font-family="'Liberation Sans', Arial, sans-serif" font-size="27.2" text-anchor="middle">1</text><text x="242.5" y="615.4" font-family="'Liberation Sans', Arial, sans-serif" font-size="32.6" text-anchor="middle" >Delay (ps)</text><text x="24.5" y="262.7" font-family="'Liberation Sans', Arial, sans-serif" font-size="32.5" text-anchor="middle" transform="rotate(-90 24.5 262.7)">Photon energy (eV)</text><rect x="110.9" y="648.3" width="259.7" height="525.5" fill="none" stroke="#000" stroke-width="2.2"/><line x1="100.9" y1="1154.4" x2="110.9" y2="1154.4" stroke="#000" stroke-width="2" /><text transform="translate(94.3,1163) scale(1,1.09)" font-family="'Liberation Sans', Arial, sans-serif" font-size="27.0" text-anchor="end">526</text><line x1="100.9" y1="1057" x2="110.9" y2="1057" stroke="#000" stroke-width="2" /><text transform="translate(94.3,1065.6) scale(1,1.09)" font-family="'Liberation Sans', Arial, sans-serif" font-size="27.0" text-anchor="end">527</text><line x1="100.9" y1="959.6" x2="110.9" y2="959.6" stroke="#000" stroke-width="2" /><text transform="translate(94.3,968.2) scale(1,1.09)" font-family="'Liberation Sans', Arial, sans-serif" font-size="27.0" text-anchor="end">528</text><line x1="100.9" y1="862.1" x2="110.9" y2="862.1" stroke="#000" stroke-width="2" /><text transform="translate(94.3,870.7) scale(1,1.09)" font-family="'Liberation Sans', Arial, sans-serif" font-size="27.0" text-anchor="end">529</text><line x1="100.9" y1="764.7" x2="110.9" y2="764.7" stroke="#000" stroke-width="2" /><text transform="translate(94.3,773.3) scale(1,1.09)" font-family="'Liberation Sans', Arial, sans-serif" font-size="27.0" text-anchor="end">530</text><line x1="100.9" y1="667.3" x2="110.9" y2="667.3" stroke="#000" stroke-width="2" /><text transform="translate(94.3,675.9) scale(1,1.09)" font-family="'Liberation Sans', Arial, sans-serif" font-size="27.0" text-anchor="end">531</text><line x1="105.9" y1="1105.7" x2="110.9" y2="1105.7" stroke="#000" stroke-width="2" /><line x1="105.9" y1="1008.3" x2="110.9" y2="1008.3" stroke="#000" stroke-width="2" /><line x1="105.9" y1="910.8" x2="110.9" y2="910.8" stroke="#000" stroke-width="2" /><line x1="105.9" y1="813.4" x2="110.9" y2="813.4" stroke="#000" stroke-width="2" /><line x1="105.9" y1="716" x2="110.9" y2="716" stroke="#000" stroke-width="2" /><line x1="111.1" y1="1173.8" x2="111.1" y2="1178.8" stroke="#000" stroke-width="2" /><line x1="176.1" y1="1173.8" x2="176.1" y2="1183.8" stroke="#000" stroke-width="2" /><line x1="241.1" y1="1173.8" x2="241.1" y2="1178.8" stroke="#000" stroke-width="2" /><line x1="306.1" y1="1173.8" x2="306.1" y2="1183.8" stroke="#000" stroke-width="2" /><line x1="371.1" y1="1173.8" x2="371.1" y2="1178.8" stroke="#000" stroke-width="2" /><text transform="translate(176.1,1213.1) scale(1,1.09)" font-family="'Liberation Sans', Arial, sans-serif" font-size="27.2" text-anchor="middle">0</text><text transform="translate(306.1,1213.1) scale(1,1.09)" font-family="'Liberation Sans', Arial, sans-serif" font-size="27.2" text-anchor="middle">1</text><text x="242.5" y="1261.8" font-family="'Liberation Sans', Arial, sans-serif" font-size="32.6" text-anchor="middle" >Delay (ps)</text><text x="24.5" y="909" font-family="'Liberation Sans', Arial, sans-serif" font-size="32.5" text-anchor="middle" transform="rotate(-90 24.5 909)">Photon energy (eV)</text><rect x="431.2" y="50.6" width="463.3" height="444.4" fill="none" stroke="#000" stroke-width="2.2"/><line x1="422.2" y1="478.5" x2="431.2" y2="478.5" stroke="#000" stroke-width="1.8" /><text transform="translate(414.8,486.3) scale(1,1.09)" font-family="'Liberation Sans', Arial, sans-serif" font-size="21.3" text-anchor="end">526</text><line x1="422.2" y1="396" x2="431.2" y2="396" stroke="#000" stroke-width="1.8" /><text transform="translate(414.8,403.8) scale(1,1.09)" font-family="'Liberation Sans', Arial, sans-serif" font-size="21.3" text-anchor="end">527</text><line x1="422.2" y1="313.5" x2="431.2" y2="313.5" stroke="#000" stroke-width="1.8" /><text transform="translate(414.8,321.3) scale(1,1.09)" font-family="'Liberation Sans', Arial, sans-serif" font-size="21.3" text-anchor="end">528</text><line x1="422.2" y1="231" x2="431.2" y2="231" stroke="#000" stroke-width="1.8" /><text transform="translate(414.8,238.8) scale(1,1.09)" font-family="'Liberation Sans', Arial, sans-serif" font-size="21.3" text-anchor="end">529</text><line x1="422.2" y1="148.5" x2="431.2" y2="148.5" stroke="#000" stroke-width="1.8" /><text transform="translate(414.8,156.3) scale(1,1.09)" font-family="'Liberation Sans', Arial, sans-serif" font-size="21.3" text-anchor="end">530</text><line x1="422.2" y1="66" x2="431.2" y2="66" stroke="#000" stroke-width="1.8" /><text transform="translate(414.8,73.8) scale(1,1.09)" font-family="'Liberation Sans', Arial, sans-serif" font-size="21.3" text-anchor="end">531</text><line x1="426.2" y1="437.2" x2="431.2" y2="437.2" stroke="#000" stroke-width="1.8" /><line x1="426.2" y1="354.8" x2="431.2" y2="354.8" stroke="#000" stroke-width="1.8" /><line x1="426.2" y1="272.2" x2="431.2" y2="272.2" stroke="#000" stroke-width="1.8" /><line x1="426.2" y1="189.8" x2="431.2" y2="189.8" stroke="#000" stroke-width="1.8" /><line x1="426.2" y1="107.2" x2="431.2" y2="107.2" stroke="#000" stroke-width="1.8" /><line x1="430.8" y1="495" x2="430.8" y2="504" stroke="#000" stroke-width="1.8" /><line x1="484.4" y1="495" x2="484.4" y2="500" stroke="#000" stroke-width="1.8" /><line x1="515.7" y1="495" x2="515.7" y2="500" stroke="#000" stroke-width="1.8" /><line x1="538" y1="495" x2="538" y2="500" stroke="#000" stroke-width="1.8" /><line x1="555.2" y1="495" x2="555.2" y2="500" stroke="#000" stroke-width="1.8" /><line x1="569.3" y1="495" x2="569.3" y2="500" stroke="#000" stroke-width="1.8" /><line x1="581.2" y1="495" x2="581.2" y2="500" stroke="#000" stroke-width="1.8" /><line x1="591.6" y1="495" x2="591.6" y2="500" stroke="#000" stroke-width="1.8" /><line x1="600.7" y1="495" x2="600.7" y2="500" stroke="#000" stroke-width="1.8" /><line x1="608.8" y1="495" x2="608.8" y2="504" stroke="#000" stroke-width="1.8" /><line x1="662.4" y1="495" x2="662.4" y2="500" stroke="#000" stroke-width="1.8" /><line x1="693.7" y1="495" x2="693.7" y2="500" stroke="#000" stroke-width="1.8" /><line x1="716" y1="495" x2="716" y2="500" stroke="#000" stroke-width="1.8" /><line x1="733.2" y1="495" x2="733.2" y2="500" stroke="#000" stroke-width="1.8" /><line x1="747.3" y1="495" x2="747.3" y2="500" stroke="#000" stroke-width="1.8" /><line x1="759.2" y1="495" x2="759.2" y2="500" stroke="#000" stroke-width="1.8" /><line x1="769.6" y1="495" x2="769.6" y2="500" stroke="#000" stroke-width="1.8" /><line x1="778.7" y1="495" x2="778.7" y2="500" stroke="#000" stroke-width="1.8" /><line x1="786.8" y1="495" x2="786.8" y2="504" stroke="#000" stroke-width="1.8" /><line x1="840.4" y1="495" x2="840.4" y2="500" stroke="#000" stroke-width="1.8" /><line x1="871.7" y1="495" x2="871.7" y2="500" stroke="#000" stroke-width="1.8" /><line x1="894" y1="495" x2="894" y2="500" stroke="#000" stroke-width="1.8" /><text transform="translate(429.8,528.5) scale(1,1.09)" font-family="'Liberation Sans', Arial, sans-serif" font-size="21.3" text-anchor="middle">0.1</text><text transform="translate(608.8,528.5) scale(1,1.09)" font-family="'Liberation Sans', Arial, sans-serif" font-size="21.3" text-anchor="middle">1</text><text transform="translate(786.8,528.5) scale(1,1.09)" font-family="'Liberation Sans', Arial, sans-serif" font-size="21.3" text-anchor="middle">10</text><text x="662" y="570" font-family="'Liberation Sans', Arial, sans-serif" font-size="27.3" text-anchor="middle" >Delay (ps)</text><rect x="431.2" y="695.7" width="463.4" height="444.3" fill="none" stroke="#000" stroke-width="2.2"/><line x1="422.2" y1="1123.5" x2="431.2" y2="1123.5" stroke="#000" stroke-width="1.8" /><text transform="translate(414.8,1131.3) scale(1,1.09)" font-family="'Liberation Sans', Arial, sans-serif" font-size="21.3" text-anchor="end">526</text><line x1="422.2" y1="1041" x2="431.2" y2="1041" stroke="#000" stroke-width="1.8" /><text transform="translate(414.8,1048.8) scale(1,1.09)" font-family="'Liberation Sans', Arial, sans-serif" font-size="21.3" text-anchor="end">527</text><line x1="422.2" y1="958.6" x2="431.2" y2="958.6" stroke="#000" stroke-width="1.8" /><text transform="translate(414.8,966.4) scale(1,1.09)" font-family="'Liberation Sans', Arial, sans-serif" font-size="21.3" text-anchor="end">528</text><line x1="422.2" y1="876.1" x2="431.2" y2="876.1" stroke="#000" stroke-width="1.8" /><text transform="translate(414.8,883.9) scale(1,1.09)" font-family="'Liberation Sans', Arial, sans-serif" font-size="21.3" text-anchor="end">529</text><line x1="422.2" y1="793.7" x2="431.2" y2="793.7" stroke="#000" stroke-width="1.8" /><text transform="translate(414.8,801.5) scale(1,1.09)" font-family="'Liberation Sans', Arial, sans-serif" font-size="21.3" text-anchor="end">530</text><line x1="422.2" y1="711.2" x2="431.2" y2="711.2" stroke="#000" stroke-width="1.8" /><text transform="translate(414.8,719) scale(1,1.09)" font-family="'Liberation Sans', Arial, sans-serif" font-size="21.3" text-anchor="end">531</text><line x1="426.2" y1="1082.3" x2="431.2" y2="1082.3" stroke="#000" stroke-width="1.8" /><line x1="426.2" y1="999.8" x2="431.2" y2="999.8" stroke="#000" stroke-width="1.8" /><line x1="426.2" y1="917.4" x2="431.2" y2="917.4" stroke="#000" stroke-width="1.8" /><line x1="426.2" y1="834.9" x2="431.2" y2="834.9" stroke="#000" stroke-width="1.8" /><line x1="426.2" y1="752.4" x2="431.2" y2="752.4" stroke="#000" stroke-width="1.8" /><line x1="430.8" y1="1140" x2="430.8" y2="1149" stroke="#000" stroke-width="1.8" /><line x1="484.4" y1="1140" x2="484.4" y2="1145" stroke="#000" stroke-width="1.8" /><line x1="515.7" y1="1140" x2="515.7" y2="1145" stroke="#000" stroke-width="1.8" /><line x1="538" y1="1140" x2="538" y2="1145" stroke="#000" stroke-width="1.8" /><line x1="555.2" y1="1140" x2="555.2" y2="1145" stroke="#000" stroke-width="1.8" /><line x1="569.3" y1="1140" x2="569.3" y2="1145" stroke="#000" stroke-width="1.8" /><line x1="581.2" y1="1140" x2="581.2" y2="1145" stroke="#000" stroke-width="1.8" /><line x1="591.6" y1="1140" x2="591.6" y2="1145" stroke="#000" stroke-width="1.8" /><line x1="600.7" y1="1140" x2="600.7" y2="1145" stroke="#000" stroke-width="1.8" /><line x1="608.8" y1="1140" x2="608.8" y2="1149" stroke="#000" stroke-width="1.8" /><line x1="662.4" y1="1140" x2="662.4" y2="1145" stroke="#000" stroke-width="1.8" /><line x1="693.7" y1="1140" x2="693.7" y2="1145" stroke="#000" stroke-width="1.8" /><line x1="716" y1="1140" x2="716" y2="1145" stroke="#000" stroke-width="1.8" /><line x1="733.2" y1="1140" x2="733.2" y2="1145" stroke="#000" stroke-width="1.8" /><line x1="747.3" y1="1140" x2="747.3" y2="1145" stroke="#000" stroke-width="1.8" /><line x1="759.2" y1="1140" x2="759.2" y2="1145" stroke="#000" stroke-width="1.8" /><line x1="769.6" y1="1140" x2="769.6" y2="1145" stroke="#000" stroke-width="1.8" /><line x1="778.7" y1="1140" x2="778.7" y2="1145" stroke="#000" stroke-width="1.8" /><line x1="786.8" y1="1140" x2="786.8" y2="1149" stroke="#000" stroke-width="1.8" /><line x1="840.4" y1="1140" x2="840.4" y2="1145" stroke="#000" stroke-width="1.8" /><line x1="871.7" y1="1140" x2="871.7" y2="1145" stroke="#000" stroke-width="1.8" /><line x1="894" y1="1140" x2="894" y2="1145" stroke="#000" stroke-width="1.8" /><text transform="translate(429.8,1173.5) scale(1,1.09)" font-family="'Liberation Sans', Arial, sans-serif" font-size="21.3" text-anchor="middle">0.1</text><text transform="translate(608.8,1173.5) scale(1,1.09)" font-family="'Liberation Sans', Arial, sans-serif" font-size="21.3" text-anchor="middle">1</text><text transform="translate(786.8,1173.5) scale(1,1.09)" font-family="'Liberation Sans', Arial, sans-serif" font-size="21.3" text-anchor="middle">10</text><text x="662" y="1215" font-family="'Liberation Sans', Arial, sans-serif" font-size="27.3" text-anchor="middle" >Delay (ps)</text><g clip-path="url(#cc12542-50)" fill="none" stroke="#4a4a4a" stroke-width="1.0"><polyline points="168.7,4.5 169.3,10.5 170,14.2 171.7,19.5 173.3,22.5 176,26 180.1,28.5 185,30.6 188,31.9 194,33.3 199.3,34.5 203,35.1 209,35.2 215,35.3 221,35.3 227,35.2 233,35.1 239,35 245,34.9 251,34.8 257,34.8 263,34.7 269,34.6 275,34.6 281,34.5 284,34.5 290,34.4 296,34.4 302,34.3 308,34.2 314,34.2 320,34.1 326,34.1 332,34.1 338,34 344,34 350,33.9 356,33.9 362,33.8 368,33.8 368,33.8"/><polyline points="368,126.9 362,127 356,127.1 350,127.2 344,127.3 338,127.4 332,127.5 329,127.5 323,127.6 317,127.7 311,127.8 305,127.9 299,127.9 293,128 287,128 281,128 275,128 269,128 263.7,127.5 260,127 254,126.1 248,125.2 243.8,124.5 239,123.4 233.7,121.5 230,120.1 226,118.5 221,116.2 218,114.5 215,112.4 212,107.1 211.6,103.5 212.4,100.5 215,96.9 218.2,94.5 224,91.5 227,90.3 231.9,88.5 236,87.2 242,85.6 245,85.2 251,84.4 257,83.7 263,83.1 269,82.6 275,82.6 281,82.6 287,82.6 293,82.6 299,82.6 305,82.6 311,82.6 317,82.7 323,82.8 329,82.8 335,82.9 341,83 347,83 353,83.1 359,83.2 365,83.2 368,83.3"/><polyline points="368,492.8 362,493.1 356.5,493.5 353,493.7 347,494 341,494.3 335,494.7 329,495 323,495.3 317,495.6 311,495.9 305,496.2 301.9,496.5 296,496.9 290,497.4 284,497.8 278,498.2 272,498.6 266,499.1 262.8,499.5 257,500.2 251,500.9 245,501.5 239,502.1 235.6,502.5 230,503 224,504.1 218,505.2 215,505.8 209,506.8 203,507.8 197,508.4 194,508.6 188.5,508.5 185,507.3 182,505.2 179,500.9 176.7,496.5 175.6,493.5 174,487.5 173.2,481.5 173.1,475.5 173.8,469.5 175.2,463.5 176.2,460.5 179,454.7 181,451.5 184,448.5 188,446.3 194,445.6 200,445.6 206,446.2 212,447.3 218,448.5 221,449.1 227,450.3 233,451.2 236,451.5 242,452.2 248,452.9 254,453.7 260,454.4 263,454.8 269,455.6 275,456 281,456.5 287,457 292.9,457.5 296,457.8 302,458.3 308,458.8 314,459.1 320,459.5 326,459.8 332,460.2 337.8,460.5 341,460.7 347,461.1 353,461.5 359,461.9 365,462.3 368,462.5"/></g><g clip-path="url(#cc1256013)" fill="none" stroke="#b4b4b4" stroke-width="1.0"><polyline points="368,234.7 362,234.8 356,234.9 350,234.9 344,235 338,235.1 332,235.2 326,235.3 320,235.4 314,235.4 308,235.5 302,235.6 296,235.7 290,235.7 284,235.8 278,235.8 272,235.9 266,235.9 260,235.8 254,235.6 248,235.5 242,235.3 236,234.8 230,234.4 225.8,234 221,233.6 215,233.1 209,232.3 203,231.5 200,230.9 194,230 188,228.4 185,227.1 180.8,225 176,222.3 173,220.1 170,217.7 167,215.1 164,212.2 161.7,207 160.7,204 159.1,198 158,192.4 157.5,189 156.8,183 156.3,177 156,171 155.8,165 155.8,159 155.9,153 156.1,147 156.3,141 156.4,135 156.4,129 156.2,123 156,117 155.8,111 155.8,105 156,99 156.6,93 157.5,87 158.2,84 160.2,78 161.7,75 164,71.8 167,67.6 170,65.2 173.5,63 179,61.3 185,60.4 189.5,60 189.5,60"/><polyline points="156.8,525 155,520.6 153,516 152,512.8 150.6,507 149.6,501 149,495 148.9,492 148.7,486 148.6,480 148.7,474 148.8,468 149,463.2 149.4,459 150.1,453 151.2,447 152,443.4 153,438 154.1,432 155,426.8 155.5,423 156.1,417 156.4,411 156.6,405 156.7,399 156.7,393 156.7,387 156.7,381 156.8,375 157,369 157.2,363 157.6,357 158,351.5 158.3,348 159.1,342 160,336 161,330.8 161.9,327 163.6,321 164.6,318 167,312.3 168.7,309 170.5,306 173.1,303 176.3,300 179.9,297 184,294 188,291.4 191,289.6 194,288 200,285.1 203,283.9 209,284.2 215,284.5 221,284.9 224,285 230,285.4 236,285.7 242,286 248,286.4 254,286.8 260,287.2 266,287.6 271.8,288 275,288.2 281,288.6 287,289 293,289.5 299,289.9 305,290.4 311,290.7 316,291 320,291.2 326,291.5 332,291.8 338,292.1 344,292.4 350,292.8 356,293.1 362,293.4 368,293.8 368,293.8"/></g><g clip-path="url(#cc431512-50)" fill="none" stroke="#4a4a4a" stroke-width="1.0"><polyline points="431.2,75.7 439.2,75.9 447.2,76.2 455.2,76.5 463.2,76.8 471.2,77.2 479.2,77.6 487.2,77.9 495.2,78 503.2,78.1 511.2,78.2 519.2,78.2 527.2,78.2 535.2,78.1 543.2,78.1 551.2,78 559.2,77.9 567.2,77.9 575.2,77.8 583.2,77.7 591.2,77.6 599.2,77.5 607.2,77.4 615.2,77.3 623.2,77.2 631.2,77.1 639.2,77 647.2,76.9 655.2,76.7 663.2,76.6 671.2,76.4 679.2,76.2 687.2,76 695.2,75.7 703.2,75.6 707.2,75.5 715.2,75.3 723.2,75.1 731.2,74.8 739.2,74.5 747.2,74.1 755.2,73.7 763.2,73.3 771.2,72.8 779.2,72.2 787,71.6 791.2,71.4 799.2,71.1 807.2,70.8 815.2,70.4 823.2,70 831.2,69.5 839.2,68.9 847.2,68.3 855.2,67.6 859.2,67 867.2,65.5 875.2,63.9 879.2,62.4 885.3,59.6 889.6,55.6 891.2,52.6"/><polyline points="891.2,150.6 883.2,151.1 875.2,151.6 871.2,151.8 863.2,152.2 855.2,152.6 847.2,152.9 839.2,153.2 831.2,153.5 823.2,153.7 815.2,153.9 807.2,154.1 799.2,154.3 791.2,154.4 783.2,154.7 775.2,155.1 767.2,155.4 761.7,155.6 755.2,155.9 747.2,156.2 739.2,156.4 731.2,156.7 723.2,157.3 715.2,157.8 707.2,158.2 699.2,158.6 691.2,158.9 683.2,159.4 679.2,159.6 671.2,160.1 663.2,160.5 655.2,159.8 651.2,159.5 643.2,158.9 635.2,158.4 627.2,157.9 619.2,157.4 611.2,157 603.2,156.4 595.2,155.8 591.2,155.5 583.2,155 575.2,154.1 567.2,153.1 559.2,152.2 554.2,151.6 547.2,150.7 539.2,149.6 531.2,148.6 523.2,147.7 519.2,147.2 511.2,145.9 503.2,144.6 496.8,143.6 491.2,142.2 483.2,140.3 479.2,138.5 479.2,135.2 487.2,133.3 493,131.6 499.2,130.7 507.2,129.4 515.2,128 519.2,127.5 527.2,126.7 535.2,125.9 543.2,125 551.2,124.1 555.2,123.6 563.2,122.9 571.2,122.2 579.2,121.5 587.2,121 595.2,120.6 603.2,120.2 611.2,119.8 617,119.6 623.2,119.4 631.2,119.1 639.2,118.7 647.2,118.4 655.2,118 663.2,117.7 671.2,117.8 679.2,118 687.2,118.3 695.2,118.5 703.2,118.7 711.2,118.9 719.2,119.1 727.2,119.4 732.7,119.6 739.2,119.7 747.2,119.9 755.2,120.1 763.2,120.3 771.2,120.5 779.2,120.8 787.2,121 795.2,121.1 803.2,121.2 811.2,121.3 819.2,121.4 827.2,121.6 835.2,121.7 843.2,121.9 851.2,122.1 859.2,122.3 867.2,122.6 875.2,122.8 883.2,123.2 891.2,123.5 891.2,123.5"/><polyline points="431.2,432.5 439.2,432.6 447.2,432.7 455.2,432.8 463.2,432.9 471.2,433 479.2,433.2 487.2,433.4 495.2,433.6 503.2,434 511.2,434.3 519.2,434.8 527.2,435.3 531.8,435.6 539.2,436.2 547.2,436.7 555.2,437.4 563.2,438.2 571.2,439.1 575.3,439.6 583.2,440.7 591.2,441.7 599.2,442.7 604.7,443.6 611.2,445 619.2,447 623.2,448.5 629.3,451.6 631.6,455.6 628.8,459.6 623.2,462.5 619.2,464.1 611.2,466.2 604.9,467.6 599.2,468.5 591.2,469.6 583.2,470.5 575.7,471.6 571.2,472.2 563.2,473.1 555.2,473.8 547.2,474.5 539.2,475.1 532.6,475.6 527.2,476 519.2,476.5 511.2,476.9 503.2,477.3 495.2,477.6 487.2,477.9 479.2,478.1 471.2,478.3 463.2,478.4 455.2,478.6 447.2,478.7 439.2,478.8 431.2,478.9 431.2,478.9"/></g><g clip-path="url(#cc1256506-75)" fill="none" stroke="#4a4a4a" stroke-width="1.0"><polyline points="368,654.7 362,654.7 356,654.7 350,654.7 344,654.7 338,654.7 332,654.7 326,654.7 320,654.7 314,654.7 308,654.7 302,654.7 296,654.7 290,654.7 284,654.7 278,654.7 272,654.7 266,654.7 260,654.7 254,654.7 248,654.7 242,654.7 236,654.7 230,654.7 224,654.7 218,654.7 213.1,656 209.3,659 206.4,662 204.2,665 202.8,668 202.8,674 206,676.3 209,677.7 215,679.8 221,679.8 227,679.8 233,679.8 239,679.8 245,679.8 251,679.8 257,679.8 263,679.8 269,679.8 275,679.8 281,679.8 287,679.8 293,679.8 299,679.8 305,679.8 311,679.8 317,679.8 323,679.8 329,679.8 335,679.8 341,679.8 347,679.8 353,679.8 359,679.8 365,679.8 368,679.8"/><polyline points="182.8,650 182,653.7 181.2,659 180.6,665 180.4,671 180.9,677 182,680.3 185,685 188,688.1 191,689.4 197,690.5 203,691.6 206.6,692 212,692.6 218,692.9 224,692.9 230,692.9 236,692.9 242,692.9 248,692.9 254,692.9 260,692.9 266,692.9 272,692.9 278,692.9 284,692.9 290,692.9 296,692.9 302,692.9 308,692.9 314,692.9 320,692.9 326,692.9 332,692.9 338,692.9 344,692.9 350,692.9 356,692.9 362,692.9 368,692.9 368,692.9"/><polyline points="168.8,650 168,656 167.5,662 167.2,668 167.2,674 168.2,680 170,684.8 172.5,689 175.1,692 177.8,695 181.1,698 185,700.5 188,702 194,703.1 200,703.7 203.5,704 209,704.4 215,704.8 221,704.8 227,704.8 233,704.8 239,704.8 245,704.8 251,704.8 257,704.8 263,704.8 269,704.8 275,704.8 281,704.8 287,704.8 293,704.8 299,704.8 305,704.8 311,704.8 317,704.8 323,704.8 329,704.8 335,704.8 341,704.8 347,704.8 353,704.8 359,704.8 365,704.8 368,704.8"/><polyline points="368,815.5 362,815.3 356,815.1 353,815 347,814.8 341,814.6 335,814.3 329,814.1 323,813.9 317,813.7 311,813.4 305,813.2 299,812.8 293,812.5 287,812.2 284,812 278,811.7 272,811.3 266,811 260,810.6 254,810.2 248,809.8 242,809.4 236.5,809 233,808.8 227,808.4 221,808 215,807.6 209,806.7 204.9,806 200,805 194,803.4 191,802.5 186.9,800 183.9,797 181.3,794 179,790.9 176,785.2 175,782 174.6,776 176,771.6 178.9,767 181.8,764 185,761.5 188,759.6 192.2,758 197,756.7 203,755.3 206,754.7 212,753.7 218,752.9 224,752.3 227.3,752 233,751.5 239,750.9 245,750.5 251,750.1 257,749.7 263,749.4 269,749 272,748.9 278,748.5 284,748.2 290,747.9 296,747.6 302,747.3 308,747 314,746.8 320,746.6 326,746.4 332,746.2 336.9,746 341,745.8 347,745.6 353,745.4 359,745.2 365,745 368,744.9"/><polyline points="165.1,1172 164,1168.3 162.3,1163 161.1,1157 160.6,1154 160.2,1148 160.4,1142 161,1137.3 161.6,1133 162.9,1127 164,1123.2 165.3,1118 167,1112.2 168.1,1109 170,1103.8 171.5,1100 173,1096.1 174.9,1091 176,1087.8 178.3,1082 179.3,1079 181.2,1073 182,1070 183.6,1064 185,1058.8 186.1,1055 188,1049.5 191,1048.2 194,1050.4 197,1052.9 200,1055.6 203,1058.6 206,1062 209,1065.4 212,1068.4 215,1071.2 218,1073.9 221,1076.4 224.5,1079 229.3,1082 233,1083.9 236,1085.5 241.4,1088 245,1089.5 248.6,1091 254,1093 260,1093.3 266,1093.7 272,1093.8 278,1093.8 284,1093.9 290,1094 293,1094 299,1094.1 305,1094.2 311,1094.3 317,1094.4 323,1094.5 329,1094.6 335,1094.8 341,1094.9 347,1095 353,1095.1 359,1095.2 365,1095.4 368,1095.4"/><polyline points="368,794.4 362,794.1 359,793.9 353,793.6 347,793.2 341,792.9 335,792.5 329,792.1 323,791.7 317,791.3 312.9,791 308,790.6 302,790.1 296,789.6 290,789 284,788.3 281,788 275,787.3 269,786.5 263,785.7 258,785 254,784.3 248,783.2 242,782.1 239,781.2 233,779.1 230,776.7 230,774.1 233,771.8 236.8,770 242,768.6 248,767.2 251,766.7 257,765.7 263,764.8 268.4,764 272,763.6 278,762.9 284,762.2 290,761.6 295.4,761 299,760.7 305,760.2 311,759.7 317,759.3 323,758.9 329,758.5 335,758.1 338,757.9 344,757.6 350,757.2 356,756.9 362,756.6 368,756.3 368,756.3"/><polyline points="368,1165 362,1165.3 356,1165.6 350,1165.9 347,1166.1 341,1166.3 335,1166.6 329,1166.8 323,1167 317,1167.3 311,1167.5 305,1167.8 299,1168.4 293,1169 290,1169.2 284,1169.7 278,1170.2 272,1170.6 266,1171.1 260.9,1172 260.9,1172"/><polyline points="175.8,1172 173,1166.8 171.5,1163 170,1157 169.5,1154 169.2,1148 169.4,1142 170,1137.9 171,1133 173,1127.1 174.3,1124 176,1120.7 179,1117.2 182,1114 185,1111 188,1108.1 194,1107.8 200,1108.9 203,1109.4 209,1110.6 215,1112 218,1112.8 224,1114.5 227,1115.4 233,1116.6 239,1117.8 242,1118.4 248,1119.7 253.7,1121 257,1121.5 263,1122.4 269,1123.3 275,1123.7 279.4,1124 284,1124.4 290,1124.9 296,1125.4 302,1126 308,1126.5 314,1126.7 320,1127 323,1127.1 329,1127.4 335,1127.7 341,1128 347,1128.3 353,1128.6 359,1128.9 365,1129.2 368,1129.4"/><polyline points="368,778.6 362,777.1 357.7,776 359,772.6 365,771 368,770.2"/><polyline points="186.4,1127 191,1124.6 197,1126 200.6,1127 206,1128.7 209.9,1130 215,1132.1 218,1133.5 222.4,1136 226.4,1139 230,1141.9 233,1145 233.8,1148 232.5,1151 229.1,1154 225.1,1157 221,1159.5 218,1161 213.3,1163 209,1164.4 203.8,1166 200,1167 194,1168.3 188,1168.4 185,1165.6 182,1162 179.1,1157 178,1154 177.1,1148 177.8,1142 179,1138.5 181.8,1133 183.9,1130 186.4,1127 186.4,1127"/></g><g clip-path="url(#cc4316965-75)" fill="none" stroke="#4a4a4a" stroke-width="1.0"><polyline points="891.2,700.5 883.2,700.5 875.2,700.5 867.2,700.5 859.2,700.5 851.2,700.5 843.2,700.5 835.2,700.5 827.2,700.5 819.2,700.5 811.2,700.5 803.2,700.5 795.2,700.5 787.2,700.5 779.2,700.5 771.2,700.5 763.2,700.5 755.2,700.5 747.2,700.5 739.2,700.5 731.2,700.5 723.2,700.5 715.2,700.5 707.2,700.5 699.2,700.5 691.2,700.5 683.2,700.5 675.2,700.5 667.2,700.5 659.2,700.5 651.2,700.5 643.2,700.5 635.2,700.5 627.2,700.5 619.2,700.5 611.2,700.5 603.2,700.5 595.2,700.5 587.2,700.5 579.2,700.5 571.2,700.5 563.2,700.5 555.2,700.5 547.2,700.5 539.2,700.5 531.2,700.5 523.2,700.5 515.2,700.7 511.2,701.9 503.2,704.3 499.2,705.8 491.6,708.7 487.2,711.7 485.5,716.7 491.2,718.8 496.5,720.7 503.2,721.9 511.2,723.5 519.2,724.4 527.2,724.4 535.2,724.4 543.2,724.4 551.2,724.4 559.2,724.4 567.2,724.4 575.2,724.4 583.2,724.4 591.2,724.4 599.2,724.4 607.2,724.4 615.2,724.4 623.2,724.4 631.2,724.4 639.2,724.4 647.2,724.4 655.2,724.4 663.2,724.4 671.2,724.4 679.2,724.4 687.2,724.4 695.2,724.4 703.2,724.4 711.2,724.4 719.2,724.4 727.2,724.4 735.2,724.4 743.2,724.4 751.2,724.4 759.2,724.4 767.2,724.4 775.2,724.4 783.2,724.4 791.2,724.4 799.2,724.4 807.2,724.4 815.2,724.4 823.2,724.4 831.2,724.4 839.2,724.4 847.2,724.4 855.2,724.4 863.2,724.4 871.2,724.4 879.2,724.4 887.2,724.4 891.2,724.4"/><polyline points="431.2,735.2 439.2,735.5 447.2,735.9 455.2,736.3 461.7,736.7 467.2,737 475.2,737.5 483.2,738 491.2,738.4 499.2,738.8 507.2,739.2 515.2,739.7 523.2,739.7 531.2,739.7 539.2,739.7 547.2,739.7 555.2,739.7 563.2,739.7 571.2,739.7 579.2,739.7 587.2,739.7 595.2,739.7 603.2,739.7 611.2,739.7 619.2,739.7 627.2,739.6 635.2,739.6 643.2,739.6 651.2,739.6 659.2,739.6 667.2,739.6 675.2,739.6 683.2,739.6 691.2,739.6 699.2,739.6 707.2,739.6 715.2,739.6 723.2,739.6 731.2,739.6 739.2,739.6 747.2,739.6 755.2,739.6 763.2,739.6 771.2,739.6 779.2,739.6 787.2,739.6 795.2,739.6 803.2,739.6 811.2,739.6 819.2,739.6 827.2,739.6 835.2,739.6 843.2,739.6 851.2,739.6 859.2,739.6 867.2,739.6 875.2,739.6 883.2,739.6 891.2,739.6 891.2,739.6"/><polyline points="431.2,749.8 439.2,749.9 447.2,750.1 455.2,750.3 463.2,750.5 471.2,750.7 479.2,751 487.2,751.2 495.2,751.4 503.2,751.6 511.2,751.8 519.2,751.9 527.2,751.9 535.2,751.9 543.2,751.8 551.2,751.8 559.2,751.8 567.2,751.7 575.2,751.7 583.2,751.7 591.2,751.6 599.2,751.6 607.2,751.5 615.2,751.5 623.2,751.5 631.2,751.5 639.2,751.4 647.2,751.4 655.2,751.4 663.2,751.4 671.2,751.4 679.2,751.4 687.2,751.4 695.2,751.3 703.2,751.3 711.2,751.3 719.2,751.3 727.2,751.3 735.2,751.2 743.2,751.2 751.2,751.2 759.2,751.2 767.2,751.1 775.2,751.2 783.2,751.2 791.2,751.2 799.2,751.2 807.2,751.2 815.2,751.2 823.2,751.3 831.2,751.3 839.2,751.3 847.2,751.3 855.2,751.3 863.2,751.3 871.2,751.3 879.2,751.3 887.2,751.4 891.2,751.4"/><polyline points="431.2,792.9 435.2,792.6 443.2,792.2 451.2,791.8 459.2,791.4 467.2,790.9 475.2,790.4 483.2,789.9 491.2,789.1 495.2,788.6 503.2,788.1 511.2,787.4 519.2,786.9 527.2,786.4 535.2,785.9 543.2,785.3 551.2,784.7 555.2,784.5 563.2,784.1 571.2,783.6 579.2,783.1 587.2,782.6 595.2,782.1 603.2,781.5 611.2,781 619.2,780.9 627.2,780.7 631.2,780.7 639.2,780.5 647.2,780.4 655.2,780.3 663.2,780.2 671.2,780.1 679.2,780 687.2,779.9 695.2,779.8 703.2,779.6 711.2,779.4 719.2,779.2 727.2,779 735.2,778.8 743.2,778.7 751.2,778.5 759.2,778.3 767.2,778.1 775.2,778.2 783.2,778.5 791.2,778.7 799.2,778.7 807.2,778.8 815.2,778.9 823.2,778.9 831.2,779 839.2,779.1 847.2,779.2 855.2,779.3 863.2,779.4 871.2,779.6 879.2,779.8 887.2,779.9 891.2,780"/><polyline points="891.2,812.7 887.2,812.9 879.2,813.2 871.2,813.5 863.2,813.8 855.2,814.1 847.2,814.3 839.2,814.5 831.2,814.7 823.2,814.8 815.2,815 807.2,815.1 799.2,815.2 791.2,815.3 783.2,815.6 775.2,816.1 767.2,816.3 759.2,816 751.2,815.7 743.2,815.5 735.2,815.3 727.2,815.1 719.2,815 711.2,814.9 703.2,814.7 695.2,814.6 687.2,814.5 679.2,814.5 671.2,814.4 663.2,814.3 655.2,814.2 647.2,814.2 639.2,814.1 631.2,814 623.2,813.9 615.2,813.9 607.2,813.7 599.2,812.9 595.2,812.5 587.2,811.9 579.2,811.2 571.2,810.6 563.2,810 555.2,809.5 547.2,808.9 543.2,808.6 535.2,808 527.2,807.4 519.2,806.9 511.2,806.2 503.2,805.4 496.3,804.7 491.2,804.1 483.2,803.3 475.2,802.7 467.2,802.1 459.2,801.6 451.2,801.1 444.6,800.7 439.2,800.1 431.2,799.3 431.2,799.3"/><polyline points="431.2,1093.9 439.2,1094 447.2,1094.1 455.2,1094.2 463.2,1094.3 471.2,1094.4 479.2,1094.6 487.2,1094.8 495.2,1095 503.2,1095.4 511.2,1095.7 519.2,1096.2 526.1,1096.7 531.2,1097.1 539.2,1097.7 547.2,1098.4 555.2,1099.2 563.2,1100.1 567.7,1100.7 575.2,1101.6 583.2,1102.6 591.2,1103.5 599.2,1104.5 603.2,1105.2 611.2,1106.6 619.2,1107.9 624,1108.7 631.2,1110.6 637.8,1112.7 641.2,1116.7 639.2,1124.3 635.2,1126.1 627.8,1128.7 623.2,1129.7 615.2,1131.2 607.2,1132.7 603.2,1133.4 595.2,1134.8 587.2,1135.9 580.5,1136.7 580.5,1136.7"/><polyline points="747.7,788.7 755.2,788.3 763.2,787.9 771.2,787.7 779.2,788.3 784.7,788.7 791.2,789.1 799.2,789.3 807.2,789.5 815.2,789.8 823.2,790.1 831.2,790.4 839.2,790.7 847.2,791.1 855.2,791.5 863.2,792 871.2,792.5 875.2,794.2 875.2,796.9 867.2,797.6 859.2,798.2 851.2,798.8 843.2,799.3 835.2,799.7 827.2,800.1 819.2,800.5 813.1,800.7 807.2,800.8 799.2,801 791.2,801.2 783.2,801.6 775.2,802.4 767.2,802.8 759.2,802.2 751.2,801.7 743.2,801.3 735.2,800.8 731.2,800.6 723.2,799.7 715.2,799 707.2,798.3 699.2,797.6 691.2,797 691.2,795.1 696.1,792.7 703.2,792.2 711.2,791.7 719.2,791 727.2,790.3 735.2,789.6 743.2,789.1 747.7,788.7 747.7,788.7"/><polyline points="431.2,1103.8 439.2,1103.9 447.2,1104 455.2,1104 463.2,1104.1 471.2,1104.2 479.2,1104.3 487.2,1104.5 492.3,1104.7 499.2,1105 507.2,1105.4 515.2,1105.9 523.2,1106.6 531.2,1107.4 539.2,1108.3 543.2,1108.8 551.2,1110.2 559.2,1111.7 563.5,1112.7 571.2,1116 573,1120.7 567.2,1124 563.2,1125.4 555.2,1127.3 548.3,1128.7 543.2,1129.4 535.2,1130.4 527.2,1131.3 519.2,1132 511.2,1132.6 507.2,1132.8 499.2,1133.1 491.2,1133.4 483.2,1133.7 475.2,1133.7 467.2,1133.8 459.2,1133.9 451.2,1133.9 443.2,1133.9 435.2,1134 431.2,1134"/></g><rect x="921.1" y="159.8" width="22.2" height="283.5" fill="url(#cb0)"/><text x="946.5" y="186.3" font-family="'Liberation Serif', 'Times New Roman', serif" font-size="31" text-anchor="start" >+1</text><text x="958.8" y="315.8" font-family="'Liberation Serif', 'Times New Roman', serif" font-size="31" text-anchor="start" >0</text><text x="949.5" y="436.2" font-family="'Liberation Serif', 'Times New Roman', serif" font-size="31" text-anchor="start" >-1</text><text x="920.6" y="78.1" font-family="'Liberation Serif', 'Times New Roman', serif" font-size="39" text-anchor="start" >C</text><text x="920.6" y="147" font-family="'Liberation Serif', 'Times New Roman', serif" font-size="39" text-anchor="start" >B</text><text x="919" y="472.3" font-family="'Liberation Serif', 'Times New Roman', serif" font-size="39" text-anchor="start" >A</text><polyline points="118,21.2 417.5,21.2 417.5,66.8 906,66.8" fill="none" stroke="#ff0000" stroke-width="4.6" stroke-dasharray="4.5 4.9"/><polyline points="118,99 415.6,99 415.6,132.5 903,132.5" fill="none" stroke="#0000ff" stroke-width="4.6" stroke-dasharray="4.5 4.9"/><polyline points="118,482.1 374,482.1 374,457.7 912,457.7" fill="none" stroke="#000000" stroke-width="4.6" stroke-dasharray="4.5 4.9"/><line x1="112" y1="119.2" x2="158.6" y2="119.2" stroke="#7030a0" stroke-width="6.2" /><line x1="112" y1="435.8" x2="158.6" y2="435.8" stroke="#7030a0" stroke-width="6.2" /><polygon points="137,121 126.7,138.5 147.3,138.5" fill="#7030a0"/><rect x="133.6" y="155" width="6.8" height="28" fill="#7030a0"/><rect x="133.6" y="205.6" width="6.8" height="26.8" fill="#7030a0"/><rect x="133.6" y="255.5" width="6.8" height="27.3" fill="#7030a0"/><rect x="133.6" y="304.7" width="6.8" height="28.5" fill="#7030a0"/><rect x="133.6" y="354" width="6.8" height="28.5" fill="#7030a0"/><rect x="133.6" y="404.4" width="6.8" height="31.4" fill="#7030a0"/><text x="107" y="154.2" font-family="'Liberation Serif', 'Times New Roman', serif" font-size="33" text-anchor="end" >CBM</text><text x="106" y="451.3" font-family="'Liberation Serif', 'Times New Roman', serif" font-size="33" text-anchor="end" >VBM</text><text x="148" y="270.2" font-family="'Liberation Serif', 'Times New Roman', serif" font-size="34" text-anchor="start" >3.2 eV</text><text x="120" y="61" font-family="'Liberation Serif', 'Times New Roman', serif" font-size="50" text-anchor="start" >(a) SC</text><line x1="120.5" y1="361.3" x2="194.9" y2="361.3" stroke="#ff0000" stroke-width="3" /><polygon points="211.3,361.3 192.9,352.3 192.9,370.3" fill="#ff0000"/><text x="233" y="377.3" font-family="'Liberation Sans', Arial, sans-serif" font-size="33" text-anchor="start" >gap state</text><line x1="200.8" y1="487.8" x2="235.8" y2="312.2" stroke="#808080" stroke-width="3.1" /><polygon points="239.4,294.1 244.9,314.1 226.7,310.4" fill="#808080"/><rect x="918.6" y="816" width="21.9" height="275.5" fill="url(#cb646)"/><text x="945.1" y="838.7" font-family="'Liberation Serif', 'Times New Roman', serif" font-size="31" text-anchor="start" >+1</text><text x="956.7" y="967.7" font-family="'Liberation Serif', 'Times New Roman', serif" font-size="31" text-anchor="start" >0</text><text x="947.7" y="1087.7" font-family="'Liberation Serif', 'Times New Roman', serif" font-size="31" text-anchor="start" >-1</text><text x="919" y="731.5" font-family="'Liberation Serif', 'Times New Roman', serif" font-size="39" text-anchor="start" >C</text><text x="919" y="807.5" font-family="'Liberation Serif', 'Times New Roman', serif" font-size="39" text-anchor="start" >B</text><text x="917.5" y="1124" font-family="'Liberation Serif', 'Times New Roman', serif" font-size="39" text-anchor="start" >A</text><polyline points="118,667.5 419.4,667.5 419.4,712.5 910.6,712.5" fill="none" stroke="#ff0000" stroke-width="4.6" stroke-dasharray="4.5 4.9"/><polyline points="160,764.4 421.9,764.4 421.9,793.4 914.4,793.4" fill="none" stroke="#0000ff" stroke-width="4.6" stroke-dasharray="4.5 4.9"/><polyline points="118,1131.3 422.4,1131.3 422.4,1100.2 912,1100.2" fill="none" stroke="#000000" stroke-width="4.6" stroke-dasharray="4.5 4.9"/><line x1="112" y1="764.4" x2="158.6" y2="764.4" stroke="#7030a0" stroke-width="6.2" /><line x1="112" y1="1081.3" x2="158.6" y2="1081.3" stroke="#7030a0" stroke-width="6.2" /><polygon points="134.6,769.8 123.9,790.6 145.3,790.6" fill="#7030a0"/><rect x="131.2" y="790" width="6.8" height="29" fill="#7030a0"/><rect x="131.2" y="841" width="6.8" height="28.4" fill="#7030a0"/><rect x="131.2" y="890" width="6.8" height="28.6" fill="#7030a0"/><rect x="131.2" y="940.5" width="6.8" height="28.5" fill="#7030a0"/><rect x="131.2" y="990.8" width="6.8" height="27.4" fill="#7030a0"/><rect x="131.2" y="1040" width="6.8" height="28.6" fill="#7030a0"/><text x="107" y="799.4" font-family="'Liberation Serif', 'Times New Roman', serif" font-size="33" text-anchor="end" >CBM</text><text x="106" y="1096.8" font-family="'Liberation Serif', 'Times New Roman', serif" font-size="33" text-anchor="end" >VBM</text><text x="148" y="915.4" font-family="'Liberation Serif', 'Times New Roman', serif" font-size="34" text-anchor="start" >3.2 eV</text><text x="120" y="707.3" font-family="'Liberation Serif', 'Times New Roman', serif" font-size="50" text-anchor="start" >(c) NC</text><line x1="113" y1="1004.7" x2="187.4" y2="1004.7" stroke="#ff0000" stroke-width="3" /><polygon points="204,1004.7 185.4,995.7 185.4,1013.7" fill="#ff0000"/><text x="232.4" y="1020.7" font-family="'Liberation Sans', Arial, sans-serif" font-size="33" text-anchor="start" >gap state</text><line x1="184" y1="1152" x2="230.1" y2="980.2" stroke="#808080" stroke-width="3.1" /><polygon points="234.9,962.3 239.1,982.6 221.1,977.8" fill="#808080"/><line x1="370.6" y1="2" x2="466.2" y2="50.6" stroke="#000" stroke-width="3" /><line x1="370.6" y1="527.4" x2="466.2" y2="495" stroke="#000" stroke-width="3" /><rect x="431.6" y="52.8" width="34.6" height="442.9" fill="none" stroke="#a6a6a6" stroke-width="2.8" stroke-dasharray="25 9.5"/><line x1="370.6" y1="648.3" x2="466.2" y2="699.2" stroke="#000" stroke-width="3" /><line x1="370.6" y1="1173.8" x2="466.2" y2="1140" stroke="#000" stroke-width="3" /><rect x="431.6" y="697.9" width="34.6" height="442.8" fill="none" stroke="#a6a6a6" stroke-width="2.8" stroke-dasharray="25 9.5"/><polygon clip-path="url(#clb)" points="1161.5,243.4 1179.8,239.4 1197.3,300.4 1216.5,363.2 1234.4,423 1252.3,443.5 1270.3,434.9 1288.6,413.1 1306.6,410.6 1324.5,410.2 1342.9,419.1 1360.8,407.6 1378.7,432.8 1415,442.2 1450.9,461.4 1486.8,439.2 1523.1,420.8 1613.6,408.9 1703.7,445.2 1739.9,445.2 1739.9,508.4 1703.7,508.4 1613.6,472.1 1523.1,484 1486.8,502.4 1450.9,524.6 1415,505.4 1378.7,496 1360.8,470.8 1342.9,482.3 1324.5,473.4 1306.6,473.8 1288.6,476.3 1270.3,498.1 1252.3,506.7 1234.4,486.2 1216.5,426.4 1197.3,363.6 1179.8,302.6 1161.5,306.6" fill="#ff0000" fill-opacity="0.2" stroke="#ff0000" stroke-opacity="0.25" stroke-width="1.5"/><circle cx="1161.5" cy="275" r="4.4" fill="#fff" stroke="#ff0000" stroke-width="1"/><circle cx="1179.8" cy="271" r="4.4" fill="#fff" stroke="#ff0000" stroke-width="1"/><circle cx="1197.3" cy="332" r="4.4" fill="#fff" stroke="#ff0000" stroke-width="1"/><circle cx="1216.5" cy="394.8" r="4.4" fill="#fff" stroke="#ff0000" stroke-width="1"/><circle cx="1234.4" cy="454.6" r="4.4" fill="#fff" stroke="#ff0000" stroke-width="1"/><circle cx="1252.3" cy="475.1" r="4.4" fill="#fff" stroke="#ff0000" stroke-width="1"/><circle cx="1270.3" cy="466.5" r="4.4" fill="#fff" stroke="#ff0000" stroke-width="1"/><circle cx="1288.6" cy="444.7" r="4.4" fill="#fff" stroke="#ff0000" stroke-width="1"/><circle cx="1306.6" cy="442.2" r="4.4" fill="#fff" stroke="#ff0000" stroke-width="1"/><circle cx="1324.5" cy="441.8" r="4.4" fill="#fff" stroke="#ff0000" stroke-width="1"/><circle cx="1342.9" cy="450.7" r="4.4" fill="#fff" stroke="#ff0000" stroke-width="1"/><circle cx="1360.8" cy="439.2" r="4.4" fill="#fff" stroke="#ff0000" stroke-width="1"/><circle cx="1378.7" cy="464.4" r="4.4" fill="#fff" stroke="#ff0000" stroke-width="1"/><circle cx="1415" cy="473.8" r="4.4" fill="#fff" stroke="#ff0000" stroke-width="1"/><circle cx="1450.9" cy="493" r="4.4" fill="#fff" stroke="#ff0000" stroke-width="1"/><circle cx="1486.8" cy="470.8" r="4.4" fill="#fff" stroke="#ff0000" stroke-width="1"/><circle cx="1523.1" cy="452.4" r="4.4" fill="#fff" stroke="#ff0000" stroke-width="1"/><circle cx="1613.6" cy="440.5" r="4.4" fill="#fff" stroke="#ff0000" stroke-width="1"/><circle cx="1703.7" cy="476.8" r="4.4" fill="#fff" stroke="#ff0000" stroke-width="1"/><polygon clip-path="url(#clb)" points="1167.6,239.1 1186.1,218.9 1204.4,143.4 1222,84.2 1240,37.3 1257.9,47.2 1276,53 1293.8,71.3 1311.8,78.8 1330.6,87.8 1348.2,92.5 1365.8,104.7 1383.9,105.8 1420.2,121.8 1456.8,124.1 1492.6,145.2 1528.5,146.4 1618.6,158.6 1709.1,165.6 1739.9,165.6 1739.9,212 1709.1,212 1618.6,205 1528.5,192.8 1492.6,191.6 1456.8,170.5 1420.2,168.2 1383.9,152.2 1365.8,151.1 1348.2,138.9 1330.6,134.2 1311.8,125.2 1293.8,117.7 1276,99.4 1257.9,93.6 1240,83.7 1222,130.6 1204.4,189.8 1186.1,265.3 1167.6,285.5" fill="#000000" fill-opacity="0.2" stroke="#000000" stroke-opacity="0.25" stroke-width="1.5"/><circle cx="1167.6" cy="262.3" r="4.4" fill="#fff" stroke="#000" stroke-width="1"/><circle cx="1186.1" cy="242.1" r="4.4" fill="#fff" stroke="#000" stroke-width="1"/><circle cx="1204.4" cy="166.6" r="4.4" fill="#fff" stroke="#000" stroke-width="1"/><circle cx="1222" cy="107.4" r="4.4" fill="#fff" stroke="#000" stroke-width="1"/><circle cx="1240" cy="60.5" r="4.4" fill="#fff" stroke="#000" stroke-width="1"/><circle cx="1257.9" cy="70.4" r="4.4" fill="#fff" stroke="#000" stroke-width="1"/><circle cx="1276" cy="76.2" r="4.4" fill="#fff" stroke="#000" stroke-width="1"/><circle cx="1293.8" cy="94.5" r="4.4" fill="#fff" stroke="#000" stroke-width="1"/><circle cx="1311.8" cy="102" r="4.4" fill="#fff" stroke="#000" stroke-width="1"/><circle cx="1330.6" cy="111" r="4.4" fill="#fff" stroke="#000" stroke-width="1"/><circle cx="1348.2" cy="115.7" r="4.4" fill="#fff" stroke="#000" stroke-width="1"/><circle cx="1365.8" cy="127.9" r="4.4" fill="#fff" stroke="#000" stroke-width="1"/><circle cx="1383.9" cy="129" r="4.4" fill="#fff" stroke="#000" stroke-width="1"/><circle cx="1420.2" cy="145" r="4.4" fill="#fff" stroke="#000" stroke-width="1"/><circle cx="1456.8" cy="147.3" r="4.4" fill="#fff" stroke="#000" stroke-width="1"/><circle cx="1492.6" cy="168.4" r="4.4" fill="#fff" stroke="#000" stroke-width="1"/><circle cx="1528.5" cy="169.6" r="4.4" fill="#fff" stroke="#000" stroke-width="1"/><circle cx="1618.6" cy="181.8" r="4.4" fill="#fff" stroke="#000" stroke-width="1"/><circle cx="1709.1" cy="188.8" r="4.4" fill="#fff" stroke="#000" stroke-width="1"/><polygon clip-path="url(#clb)" points="1146.2,257.6 1164,254.7 1182.6,238.7 1200.4,220.7 1218.5,192.3 1236.5,170.7 1254.4,156.7 1272.4,128.1 1290.5,113.7 1308.6,89.4 1326.6,85.1 1344.7,78.1 1362.8,90.3 1398.6,107.4 1435.2,100.3 1471.1,73.4 1507.2,48.3 1597.2,37 1687.8,34.7 1778,55.7 1778,108.3 1687.8,87.3 1597.2,89.6 1507.2,100.9 1471.1,126 1435.2,152.9 1398.6,160 1362.8,142.9 1344.7,130.7 1326.6,137.7 1308.6,142 1290.5,166.3 1272.4,180.7 1254.4,209.3 1236.5,223.3 1218.5,244.9 1200.4,273.3 1182.6,291.3 1164,307.3 1146.2,310.2" fill="#0000ff" fill-opacity="0.2" stroke="#0000ff" stroke-opacity="0.25" stroke-width="1.5"/><polygon points="1146.2,278.4 1141,287.5 1151.4,287.5" fill="#fff" stroke="#0000ff" stroke-width="1"/><polygon points="1164,275.5 1158.8,284.6 1169.2,284.6" fill="#fff" stroke="#0000ff" stroke-width="1"/><polygon points="1182.6,259.5 1177.4,268.6 1187.8,268.6" fill="#fff" stroke="#0000ff" stroke-width="1"/><polygon points="1200.4,241.5 1195.2,250.6 1205.6,250.6" fill="#fff" stroke="#0000ff" stroke-width="1"/><polygon points="1218.5,213.1 1213.3,222.2 1223.7,222.2" fill="#fff" stroke="#0000ff" stroke-width="1"/><polygon points="1236.5,191.5 1231.3,200.6 1241.7,200.6" fill="#fff" stroke="#0000ff" stroke-width="1"/><polygon points="1254.4,177.5 1249.2,186.6 1259.6,186.6" fill="#fff" stroke="#0000ff" stroke-width="1"/><polygon points="1272.4,148.9 1267.2,158 1277.6,158" fill="#fff" stroke="#0000ff" stroke-width="1"/><polygon points="1290.5,134.5 1285.3,143.6 1295.7,143.6" fill="#fff" stroke="#0000ff" stroke-width="1"/><polygon points="1308.6,110.2 1303.4,119.3 1313.8,119.3" fill="#fff" stroke="#0000ff" stroke-width="1"/><polygon points="1326.6,105.9 1321.4,115 1331.8,115" fill="#fff" stroke="#0000ff" stroke-width="1"/><polygon points="1344.7,98.9 1339.5,108 1349.9,108" fill="#fff" stroke="#0000ff" stroke-width="1"/><polygon points="1362.8,111.1 1357.6,120.2 1368,120.2" fill="#fff" stroke="#0000ff" stroke-width="1"/><polygon points="1398.6,128.2 1393.4,137.3 1403.8,137.3" fill="#fff" stroke="#0000ff" stroke-width="1"/><polygon points="1435.2,121.1 1430,130.2 1440.4,130.2" fill="#fff" stroke="#0000ff" stroke-width="1"/><polygon points="1471.1,94.2 1465.9,103.3 1476.3,103.3" fill="#fff" stroke="#0000ff" stroke-width="1"/><polygon points="1507.2,69.1 1502,78.2 1512.4,78.2" fill="#fff" stroke="#0000ff" stroke-width="1"/><polygon points="1597.2,57.8 1592,66.9 1602.4,66.9" fill="#fff" stroke="#0000ff" stroke-width="1"/><polygon points="1687.8,55.5 1682.6,64.6 1693,64.6" fill="#fff" stroke="#0000ff" stroke-width="1"/><polygon points="1778,76.5 1772.8,85.6 1783.2,85.6" fill="#fff" stroke="#0000ff" stroke-width="1"/><g clip-path="url(#clb)"><polyline points="1106.8,272.1 1108.6,272.1 1110.4,272.1 1112.2,272.1 1114,272.1 1115.8,272.1 1117.6,272.1 1119.4,272.1 1121.2,272.2 1123,272.2 1124.8,272.2 1126.7,272.2 1128.5,272.2 1130.3,272.2 1132.1,272.2 1133.9,272.3 1135.7,272.3 1137.5,272.3 1139.3,272.3 1141.1,272.3 1142.9,272.4 1144.7,272.4 1146.5,272.4 1148.3,272.4 1150.1,272.5 1151.9,272.5 1153.7,272.6 1155.5,272.7 1157.3,272.9 1159.1,273.2 1161,273.4 1162.8,273.7 1164.6,274 1166.4,274.4 1168.2,274.8 1170,275.3 1171.8,275.9 1173.6,276.7 1175.4,277.5 1177.2,278.6 1179,280.1 1180.8,282 1182.6,284 1184.4,286.2 1186.2,288.6 1188,291.6 1189.8,295.3 1191.6,299.5 1193.4,304.4 1195.2,309.7 1197,315.7 1198.9,323.6 1200.7,331.2 1202.5,338.2 1204.3,345.1 1206.1,352.2 1207.9,358.9 1209.7,365.1 1211.5,371.1 1213.3,376.7 1215.1,382.1 1216.9,387.3 1218.7,392.4 1220.5,397.2 1222.3,401.8 1224.1,406.1 1225.9,410.2 1227.7,413.9 1229.5,417.4 1231.3,420.6 1233.1,423.6 1235,426.5 1236.8,429.4 1238.6,432.2 1240.4,434.9 1242.2,437.4 1244,439.5 1245.8,441.3 1247.6,442.9 1249.4,444.3 1251.2,445.6 1253,446.9 1254.8,448.1 1256.6,449.2 1258.4,450.3 1260.2,451.4 1262,452.5 1263.8,453.6 1265.6,454.6 1267.4,455.6 1269.2,456.5 1271.1,457.4 1272.9,458.3 1274.7,459.1 1276.5,459.9 1278.3,460.7 1280.1,461.5 1281.9,462.2 1283.7,462.9 1285.5,463.5 1287.3,464.2 1289.1,464.8 1290.9,465.3 1292.7,465.9 1294.5,466.4 1296.3,466.9 1298.1,467.4 1299.9,468 1301.7,468.5 1303.5,469 1305.3,469.5 1307.2,470 1309,470.5 1310.8,470.9 1312.6,471.4 1314.4,471.8 1316.2,472.2 1318,472.6 1319.8,473 1321.6,473.4 1323.4,473.7 1325.2,474.1 1327,474.4 1328.8,474.8 1330.6,475.1 1332.4,475.4 1334.2,475.7 1336,476 1337.8,476.4 1339.6,476.7 1341.5,477 1343.3,477.3 1345.1,477.7 1346.9,478 1348.7,478.3 1350.5,478.7 1352.3,479 1354.1,479.4 1355.9,479.7 1357.7,480 1359.5,480.4 1361.3,480.7 1363.1,481 1364.9,481.3 1366.7,481.7 1368.5,482 1370.3,482.2 1372.1,482.5 1373.9,482.8 1375.7,483.1 1377.5,483.3 1379.4,483.6 1381.2,483.9 1383,484.2 1384.8,484.4 1386.6,484.7 1388.4,484.9 1390.2,485.2 1392,485.4 1393.8,485.7 1395.6,485.9 1397.4,486.1 1399.2,486.3 1401,486.5 1402.8,486.6 1404.6,486.8 1406.4,486.9 1408.2,487.1 1410,487.2 1411.8,487.4 1413.6,487.5 1415.5,487.6 1417.3,487.7 1419.1,487.9 1420.9,488 1422.7,488.1 1424.5,488.2 1426.3,488.3 1428.1,488.4 1429.9,488.5 1431.7,488.6 1433.5,488.7 1435.3,488.8 1437.1,488.8 1438.9,488.9 1440.7,489 1442.5,489.1 1444.3,489.1 1446.1,489.2 1447.9,489.3 1449.8,489.3 1451.6,489.4 1453.4,489.4 1455.2,489.4 1457,489.5 1458.8,489.5 1460.6,489.5 1462.4,489.5 1464.2,489.6 1466,489.6 1467.8,489.6 1469.6,489.6 1471.4,489.6 1473.2,489.6 1475,489.6 1476.8,489.6 1478.6,489.6 1480.4,489.6 1482.2,489.6 1484,489.6 1485.8,489.6 1487.7,489.6 1489.5,489.6 1491.3,489.6 1493.1,489.6 1494.9,489.6 1496.7,489.6 1498.5,489.6 1500.3,489.6 1502.1,489.6 1503.9,489.6 1505.7,489.6 1507.5,489.6 1509.3,489.6 1511.1,489.6 1512.9,489.6 1514.7,489.6 1516.5,489.6 1518.3,489.6 1520.1,489.6 1522,489.6 1523.8,489.6 1525.6,489.6 1527.4,489.6 1529.2,489.6 1531,489.6 1532.8,489.6 1534.6,489.6 1536.4,489.6 1538.2,489.6 1540,489.6 1541.8,489.6 1543.6,489.5 1545.4,489.5 1547.2,489.5 1549,489.5 1550.8,489.5 1552.6,489.4 1554.4,489.4 1556.2,489.4 1558,489.4 1559.9,489.3 1561.7,489.3 1563.5,489.3 1565.3,489.2 1567.1,489.2 1568.9,489.2 1570.7,489.1 1572.5,489.1 1574.3,489.1 1576.1,489.1 1577.9,489 1579.7,489 1581.5,489 1583.3,489 1585.1,488.9 1586.9,488.9 1588.7,488.9 1590.5,488.9 1592.3,488.8 1594.2,488.8 1596,488.8 1597.8,488.7 1599.6,488.7 1601.4,488.7 1603.2,488.7 1605,488.6 1606.8,488.6 1608.6,488.6 1610.4,488.6 1612.2,488.5 1614,488.5 1615.8,488.5 1617.6,488.5 1619.4,488.5 1621.2,488.4 1623,488.4 1624.8,488.4 1626.6,488.4 1628.4,488.3 1630.2,488.3 1632.1,488.3 1633.9,488.3 1635.7,488.3 1637.5,488.3 1639.3,488.2 1641.1,488.2 1642.9,488.2 1644.7,488.2 1646.5,488.2 1648.3,488.1 1650.1,488.1 1651.9,488.1 1653.7,488.1 1655.5,488.1 1657.3,488 1659.1,488 1660.9,488 1662.7,488 1664.5,488 1666.3,487.9 1668.2,487.9 1670,487.9 1671.8,487.9 1673.6,487.8 1675.4,487.8 1677.2,487.8 1679,487.8 1680.8,487.7 1682.6,487.7 1684.4,487.7 1686.2,487.6 1688,487.6 1689.8,487.6 1691.6,487.5 1693.4,487.5 1695.2,487.5 1697,487.4 1698.8,487.4 1700.6,487.4 1702.5,487.3 1704.3,487.3 1706.1,487.3 1707.9,487.2 1709.7,487.2 1711.5,487.2 1713.3,487.1 1715.1,487.1 1716.9,487 1718.7,487 1720.5,487 1722.3,486.9 1724.1,486.9 1725.9,486.8 1727.7,486.8 1729.5,486.8 1731.3,486.7 1733.1,486.7 1734.9,486.6 1736.7,486.6 1738.5,486.6" fill="none" stroke="#ff0000" stroke-width="3.6"/><polyline points="1106.8,272 1108.6,272 1110.4,272 1112.2,272 1114,272.1 1115.8,272.1 1117.6,272.1 1119.4,272.1 1121.2,272.1 1123,272.1 1124.8,272.1 1126.7,272.1 1128.5,272.2 1130.3,272.2 1132.1,272.2 1133.9,272.2 1135.7,272.2 1137.5,272.2 1139.3,272.3 1141.1,272.3 1142.9,272.3 1144.7,272.3 1146.5,272.4 1148.3,272.4 1150.1,272.4 1151.9,272.4 1153.7,272.5 1155.5,272.7 1157.3,272.8 1159.1,273.1 1161,273.3 1162.8,273.6 1164.6,273.9 1166.4,274.2 1168.2,274.6 1170,275.1 1171.8,275.6 1173.6,276.2 1175.4,277 1177.2,277.9 1179,279.3 1180.8,281 1182.6,283 1184.4,284.9 1186.2,287.2 1188,289.7 1189.8,292.4 1191.6,295.5 1193.4,299.1 1195.2,303 1197,307.3 1198.9,312.2 1200.7,317.5 1202.5,322.7 1204.3,327.8 1206.1,332.9 1207.9,337.8 1209.7,342.6 1211.5,347.2 1213.3,351.6 1215.1,356 1216.9,360.4 1218.7,364.6 1220.5,368.8 1222.3,372.7 1224.1,376.6 1225.9,380.3 1227.7,383.8 1229.5,386.9 1231.3,389.9 1233.1,392.7 1235,395.5 1236.8,398.3 1238.6,401 1240.4,403.5 1242.2,405.9 1244,408 1245.8,409.7 1247.6,411.3 1249.4,412.8 1251.2,414.1 1253,415.4 1254.8,416.6 1256.6,417.8 1258.4,419 1260.2,420.2 1262,421.3 1263.8,422.4 1265.6,423.5 1267.4,424.6 1269.2,425.6 1271.1,426.6 1272.9,427.6 1274.7,428.6 1276.5,429.5 1278.3,430.4 1280.1,431.3 1281.9,432.2 1283.7,433 1285.5,433.9 1287.3,434.7 1289.1,435.5 1290.9,436.3 1292.7,437 1294.5,437.8 1296.3,438.5 1298.1,439.2 1299.9,439.9 1301.7,440.6 1303.5,441.3 1305.3,441.9 1307.2,442.6 1309,443.3 1310.8,443.9 1312.6,444.5 1314.4,445.1 1316.2,445.7 1318,446.3 1319.8,446.8 1321.6,447.3 1323.4,447.8 1325.2,448.3 1327,448.8 1328.8,449.3 1330.6,449.8 1332.4,450.3 1334.2,450.7 1336,451.2 1337.8,451.7 1339.6,452.1 1341.5,452.6 1343.3,453.1 1345.1,453.5 1346.9,454 1348.7,454.5 1350.5,454.9 1352.3,455.4 1354.1,455.9 1355.9,456.4 1357.7,456.8 1359.5,457.3 1361.3,457.7 1363.1,458.2 1364.9,458.6 1366.7,459.1 1368.5,459.5 1370.3,459.9 1372.1,460.3 1373.9,460.7 1375.7,461.1 1377.5,461.5 1379.4,461.9 1381.2,462.3 1383,462.6 1384.8,463 1386.6,463.4 1388.4,463.7 1390.2,464.1 1392,464.4 1393.8,464.7 1395.6,465.1 1397.4,465.4 1399.2,465.6 1401,465.9 1402.8,466.2 1404.6,466.4 1406.4,466.7 1408.2,466.9 1410,467.1 1411.8,467.3 1413.6,467.6 1415.5,467.8 1417.3,468 1419.1,468.1 1420.9,468.3 1422.7,468.5 1424.5,468.7 1426.3,468.9 1428.1,469 1429.9,469.2 1431.7,469.3 1433.5,469.4 1435.3,469.6 1437.1,469.7 1438.9,469.9 1440.7,470 1442.5,470.1 1444.3,470.2 1446.1,470.4 1447.9,470.5 1449.8,470.6 1451.6,470.7 1453.4,470.8 1455.2,470.9 1457,471 1458.8,471.2 1460.6,471.3 1462.4,471.4 1464.2,471.4 1466,471.5 1467.8,471.6 1469.6,471.7 1471.4,471.8 1473.2,471.9 1475,472 1476.8,472 1478.6,472.1 1480.4,472.2 1482.2,472.3 1484,472.3 1485.8,472.4 1487.7,472.5 1489.5,472.5 1491.3,472.6 1493.1,472.7 1494.9,472.7 1496.7,472.8 1498.5,472.9 1500.3,472.9 1502.1,473 1503.9,473.1 1505.7,473.1 1507.5,473.2 1509.3,473.3 1511.1,473.3 1512.9,473.4 1514.7,473.4 1516.5,473.5 1518.3,473.6 1520.1,473.6 1522,473.7 1523.8,473.7 1525.6,473.8 1527.4,473.8 1529.2,473.9 1531,473.9 1532.8,473.9 1534.6,474 1536.4,474 1538.2,474.1 1540,474.1 1541.8,474.1 1543.6,474.1 1545.4,474.2 1547.2,474.2 1549,474.2 1550.8,474.2 1552.6,474.3 1554.4,474.3 1556.2,474.3 1558,474.3 1559.9,474.3 1561.7,474.3 1563.5,474.3 1565.3,474.3 1567.1,474.3 1568.9,474.3 1570.7,474.3 1572.5,474.4 1574.3,474.4 1576.1,474.4 1577.9,474.4 1579.7,474.4 1581.5,474.4 1583.3,474.4 1585.1,474.4 1586.9,474.4 1588.7,474.4 1590.5,474.4 1592.3,474.4 1594.2,474.4 1596,474.4 1597.8,474.4 1599.6,474.4 1601.4,474.4 1603.2,474.4 1605,474.5 1606.8,474.5 1608.6,474.5 1610.4,474.5 1612.2,474.5 1614,474.5 1615.8,474.5 1617.6,474.5 1619.4,474.5 1621.2,474.5 1623,474.5 1624.8,474.5 1626.6,474.5 1628.4,474.5 1630.2,474.5 1632.1,474.5 1633.9,474.5 1635.7,474.5 1637.5,474.5 1639.3,474.5 1641.1,474.5 1642.9,474.5 1644.7,474.5 1646.5,474.5 1648.3,474.5 1650.1,474.5 1651.9,474.5 1653.7,474.5 1655.5,474.5 1657.3,474.5 1659.1,474.5 1660.9,474.5 1662.7,474.5 1664.5,474.5 1666.3,474.5 1668.2,474.4 1670,474.4 1671.8,474.4 1673.6,474.4 1675.4,474.4 1677.2,474.4 1679,474.4 1680.8,474.4 1682.6,474.3 1684.4,474.3 1686.2,474.3 1688,474.3 1689.8,474.3 1691.6,474.3 1693.4,474.2 1695.2,474.2 1697,474.2 1698.8,474.2 1700.6,474.1 1702.5,474.1 1704.3,474.1 1706.1,474.1 1707.9,474.1 1709.7,474 1711.5,474 1713.3,474 1715.1,473.9 1716.9,473.9 1718.7,473.9 1720.5,473.9 1722.3,473.8 1724.1,473.8 1725.9,473.8 1727.7,473.7 1729.5,473.7 1731.3,473.7 1733.1,473.7 1734.9,473.6 1736.7,473.6 1738.5,473.6" fill="none" stroke="#ff8000" stroke-opacity="0.72" stroke-width="7"/><polyline points="1166.4,269.9 1168.2,269.6 1170,269.2 1171.8,268.7 1173.6,268.2 1175.4,267.6 1177.2,266.8 1179,265.5 1180.8,263.9 1182.6,262.1 1184.4,260.3 1186.2,258.3 1188,256.3 1189.8,254.4 1191.6,252.4 1193.4,250.2 1195.2,247.7 1197,245.1 1198.9,243.2 1200.7,240.2 1202.5,236.7 1204.3,233.5 1206.1,230.4 1207.9,227.3 1209.7,224 1211.5,220.7 1213.3,217.4 1215.1,214 1216.9,210.6 1218.7,207.1 1220.5,203.7 1222.3,200.3 1224.1,196.9 1225.9,193.5 1227.7,190.4 1229.5,187.5 1231.3,184.8 1233.1,182.2 1235,179.6 1236.8,176.9 1238.6,174.3 1240.4,171.8 1242.2,169.5 1244,167.5 1245.8,165.8 1247.6,164.3 1249.4,162.8 1251.2,161.4 1253,160.1 1254.8,158.9 1256.6,157.6 1258.4,156.4 1260.2,155.1 1262,153.9 1263.8,152.7 1265.6,151.5 1267.4,150.4 1269.2,149.2 1271.1,148.1 1272.9,147 1274.7,145.9 1276.5,144.9 1278.3,143.8 1280.1,142.8 1281.9,141.8 1283.7,140.8 1285.5,139.8 1287.3,138.8 1289.1,137.8 1290.9,136.8 1292.7,135.9 1294.5,134.9 1296.3,134 1298.1,133.1 1299.9,132.2 1301.7,131.3 1303.5,130.5 1305.3,129.6 1307.2,128.8 1309,127.9 1310.8,127.1 1312.6,126.4 1314.4,125.6 1316.2,124.9 1318,124.1 1319.8,123.4 1321.6,122.8 1323.4,122.1 1325.2,121.4 1327,120.8 1328.8,120.1 1330.6,119.5 1332.4,118.9 1334.2,118.3 1336,117.6 1337.8,117 1339.6,116.4 1341.5,115.8 1343.3,115.2 1345.1,114.6 1346.9,114 1348.7,113.4 1350.5,112.8 1352.3,112.2 1354.1,111.6 1355.9,111 1357.7,110.4 1359.5,109.8 1361.3,109.2 1363.1,108.7 1364.9,108.1 1366.7,107.5 1368.5,107 1370.3,106.4 1372.1,105.9 1373.9,105.4 1375.7,104.9 1377.5,104.4 1379.4,103.9 1381.2,103.4 1383,102.9 1384.8,102.4 1386.6,102 1388.4,101.5 1390.2,101 1392,100.6 1393.8,100.2 1395.6,99.8 1397.4,99.4 1399.2,99 1401,98.6 1402.8,98.3 1404.6,97.9 1406.4,97.6 1408.2,97.3 1410,97 1411.8,96.7 1413.6,96.4 1415.5,96.1 1417.3,95.8 1419.1,95.6 1420.9,95.3 1422.7,95.1 1424.5,94.8 1426.3,94.6 1428.1,94.4 1429.9,94.2 1431.7,94 1433.5,93.8 1435.3,93.6 1437.1,93.4 1438.9,93.2 1440.7,93 1442.5,92.8 1444.3,92.7 1446.1,92.5 1447.9,92.3 1449.8,92.1 1451.6,91.9 1453.4,91.7 1455.2,91.6 1457,91.4 1458.8,91.2 1460.6,91 1462.4,90.8 1464.2,90.7 1466,90.5 1467.8,90.3 1469.6,90.1 1471.4,90 1473.2,89.8 1475,89.7 1476.8,89.5 1478.6,89.4 1480.4,89.2 1482.2,89.1 1484,88.9 1485.8,88.8 1487.7,88.6 1489.5,88.5 1491.3,88.4 1493.1,88.2 1494.9,88.1 1496.7,88 1498.5,87.8 1500.3,87.7 1502.1,87.6 1503.9,87.5 1505.7,87.3 1507.5,87.2 1509.3,87.1 1511.1,87 1512.9,86.9 1514.7,86.7 1516.5,86.6 1518.3,86.5 1520.1,86.4 1522,86.3 1523.8,86.2 1525.6,86.1 1527.4,86 1529.2,85.9 1531,85.8 1532.8,85.7 1534.6,85.6 1536.4,85.6 1538.2,85.5 1540,85.4 1541.8,85.3 1543.6,85.2 1545.4,85.2 1547.2,85.1 1549,85 1550.8,85 1552.6,84.9 1554.4,84.9 1556.2,84.8 1558,84.8 1559.9,84.7 1561.7,84.7 1563.5,84.6 1565.3,84.6 1567.1,84.5 1568.9,84.5 1570.7,84.5 1572.5,84.4 1574.3,84.4 1576.1,84.3 1577.9,84.3 1579.7,84.3 1581.5,84.2 1583.3,84.2 1585.1,84.1 1586.9,84.1 1588.7,84.1 1590.5,84 1592.3,84 1594.2,84 1596,83.9 1597.8,83.9 1599.6,83.8 1601.4,83.8 1603.2,83.8 1605,83.7 1606.8,83.7 1608.6,83.7 1610.4,83.6 1612.2,83.6 1614,83.6 1615.8,83.6 1617.6,83.5 1619.4,83.5 1621.2,83.5 1623,83.4 1624.8,83.4 1626.6,83.4 1628.4,83.4 1630.2,83.3 1632.1,83.3 1633.9,83.3 1635.7,83.3 1637.5,83.3 1639.3,83.2 1641.1,83.2 1642.9,83.2 1644.7,83.2 1646.5,83.2 1648.3,83.1 1650.1,83.1 1651.9,83.1 1653.7,83.1 1655.5,83.1 1657.3,83.1 1659.1,83.1 1660.9,83.1 1662.7,83 1664.5,83 1666.3,83 1668.2,83 1670,83 1671.8,83 1673.6,83 1675.4,83 1677.2,83 1679,83 1680.8,83 1682.6,83 1684.4,83 1686.2,83 1688,83 1689.8,83 1691.6,83 1693.4,83 1695.2,83.1 1697,83.1 1698.8,83.1 1700.6,83.1 1702.5,83.1 1704.3,83.1 1706.1,83.1 1707.9,83.1 1709.7,83.1 1711.5,83.2 1713.3,83.2 1715.1,83.2 1716.9,83.2 1718.7,83.2 1720.5,83.2 1722.3,83.3 1724.1,83.3 1725.9,83.3 1727.7,83.3 1729.5,83.3 1731.3,83.4 1733.1,83.4 1734.9,83.4 1736.7,83.4 1738.5,83.4" fill="none" stroke="#0000ff" stroke-width="3.8"/><polyline points="1166.4,271 1168.2,270.8 1170,270.4 1171.8,269.8 1173.6,269.1 1175.4,268.3 1177.2,267.4 1179,266.5 1180.8,265.6 1182.6,264.7 1184.4,263.6 1186.2,262.1 1188,259.1 1189.8,252.9 1191.6,245.5 1193.4,236.6 1195.2,227.6 1197,215.9 1198.9,195.8 1200.7,180.6 1202.5,169 1204.3,156.6 1206.1,143.3 1207.9,131.5 1209.7,121.7 1211.5,112.7 1213.3,104.8 1215.1,98.2 1216.9,92.4 1218.7,87.1 1220.5,82.3 1222.3,78.4 1224.1,75.3 1225.9,73 1227.7,70.9 1229.5,69 1231.3,67.4 1233.1,66.1 1235,65 1236.8,64.2 1238.6,63.5 1240.4,62.9 1242.2,62.4 1244,61.9 1245.8,61.6 1247.6,61.5 1249.4,61.5 1251.2,61.7 1253,61.9 1254.8,62.2 1256.6,62.6 1258.4,63 1260.2,63.5 1262,63.9 1263.8,64.4 1265.6,64.9 1267.4,65.5 1269.2,66.1 1271.1,66.8 1272.9,67.6 1274.7,68.4 1276.5,69.3 1278.3,70.2 1280.1,71.1 1281.9,72.1 1283.7,73.1 1285.5,74.2 1287.3,75.4 1289.1,76.7 1290.9,78.1 1292.7,79.5 1294.5,80.9 1296.3,82.3 1298.1,83.6 1299.9,84.9 1301.7,86 1303.5,87.2 1305.3,88.4 1307.2,89.5 1309,90.6 1310.8,91.7 1312.6,92.8 1314.4,93.9 1316.2,95 1318,96.1 1319.8,97.1 1321.6,98.2 1323.4,99.3 1325.2,100.3 1327,101.4 1328.8,102.4 1330.6,103.4 1332.4,104.4 1334.2,105.4 1336,106.4 1337.8,107.3 1339.6,108.3 1341.5,109.2 1343.3,110.1 1345.1,111 1346.9,111.9 1348.7,112.8 1350.5,113.7 1352.3,114.6 1354.1,115.4 1355.9,116.3 1357.7,117.2 1359.5,118 1361.3,118.9 1363.1,119.7 1364.9,120.6 1366.7,121.4 1368.5,122.3 1370.3,123.1 1372.1,123.9 1373.9,124.7 1375.7,125.5 1377.5,126.3 1379.4,127 1381.2,127.8 1383,128.5 1384.8,129.2 1386.6,129.9 1388.4,130.5 1390.2,131.2 1392,131.9 1393.8,132.5 1395.6,133.2 1397.4,133.8 1399.2,134.4 1401,135.1 1402.8,135.7 1404.6,136.3 1406.4,136.9 1408.2,137.4 1410,138 1411.8,138.5 1413.6,139.1 1415.5,139.6 1417.3,140.1 1419.1,140.6 1420.9,141 1422.7,141.5 1424.5,141.9 1426.3,142.3 1428.1,142.7 1429.9,143.1 1431.7,143.4 1433.5,143.8 1435.3,144.1 1437.1,144.5 1438.9,144.9 1440.7,145.2 1442.5,145.6 1444.3,146 1446.1,146.4 1447.9,146.9 1449.8,147.3 1451.6,147.8 1453.4,148.2 1455.2,148.7 1457,149.2 1458.8,149.7 1460.6,150.2 1462.4,150.8 1464.2,151.3 1466,151.8 1467.8,152.3 1469.6,152.9 1471.4,153.4 1473.2,153.9 1475,154.5 1476.8,155 1478.6,155.5 1480.4,156 1482.2,156.5 1484,157 1485.8,157.5 1487.7,158 1489.5,158.4 1491.3,158.9 1493.1,159.3 1494.9,159.7 1496.7,160.2 1498.5,160.6 1500.3,161 1502.1,161.4 1503.9,161.8 1505.7,162.2 1507.5,162.6 1509.3,163 1511.1,163.3 1512.9,163.7 1514.7,164.1 1516.5,164.5 1518.3,164.8 1520.1,165.2 1522,165.5 1523.8,165.9 1525.6,166.2 1527.4,166.6 1529.2,166.9 1531,167.2 1532.8,167.5 1534.6,167.9 1536.4,168.2 1538.2,168.5 1540,168.8 1541.8,169.1 1543.6,169.4 1545.4,169.7 1547.2,169.9 1549,170.2 1550.8,170.5 1552.6,170.8 1554.4,171 1556.2,171.3 1558,171.6 1559.9,171.8 1561.7,172.1 1563.5,172.3 1565.3,172.6 1567.1,172.8 1568.9,173.1 1570.7,173.3 1572.5,173.5 1574.3,173.8 1576.1,174 1577.9,174.2 1579.7,174.5 1581.5,174.7 1583.3,174.9 1585.1,175.1 1586.9,175.3 1588.7,175.5 1590.5,175.7 1592.3,175.9 1594.2,176.2 1596,176.4 1597.8,176.6 1599.6,176.8 1601.4,177 1603.2,177.2 1605,177.4 1606.8,177.5 1608.6,177.7 1610.4,177.9 1612.2,178.1 1614,178.3 1615.8,178.5 1617.6,178.6 1619.4,178.8 1621.2,179 1623,179.2 1624.8,179.3 1626.6,179.5 1628.4,179.6 1630.2,179.8 1632.1,179.9 1633.9,180.1 1635.7,180.2 1637.5,180.3 1639.3,180.4 1641.1,180.6 1642.9,180.7 1644.7,180.8 1646.5,180.9 1648.3,181.1 1650.1,181.2 1651.9,181.3 1653.7,181.4 1655.5,181.5 1657.3,181.6 1659.1,181.7 1660.9,181.8 1662.7,181.9 1664.5,182 1666.3,182.1 1668.2,182.2 1670,182.3 1671.8,182.4 1673.6,182.5 1675.4,182.6 1677.2,182.7 1679,182.8 1680.8,182.9 1682.6,183 1684.4,183 1686.2,183.1 1688,183.2 1689.8,183.3 1691.6,183.4 1693.4,183.5 1695.2,183.6 1697,183.6 1698.8,183.7 1700.6,183.8 1702.5,183.9 1704.3,184 1706.1,184.1 1707.9,184.1 1709.7,184.2 1711.5,184.3 1713.3,184.4 1715.1,184.4 1716.9,184.5 1718.7,184.6 1720.5,184.7 1722.3,184.7 1724.1,184.8 1725.9,184.9 1727.7,184.9 1729.5,185 1731.3,185.1 1733.1,185.1 1734.9,185.2 1736.7,185.2 1738.5,185.3" fill="none" stroke="#000" stroke-width="4.2"/></g><polyline points="1162,240 1162,524 1452,524" fill="none" stroke="#ff0000" stroke-opacity="0.08" stroke-width="1.2"/><rect x="1106.8" y="9.1" width="631.1" height="525.9" fill="none" stroke="#000" stroke-width="2.2"/><line x1="1124.2" y1="535" x2="1124.2" y2="540" stroke="#000" stroke-width="2" /><line x1="1160.3" y1="535" x2="1160.3" y2="540" stroke="#000" stroke-width="2" /><line x1="1196.4" y1="535" x2="1196.4" y2="545" stroke="#000" stroke-width="2" /><text transform="translate(1196.4,574.3) scale(1,1.09)" font-family="'Liberation Sans', Arial, sans-serif" font-size="27.2" text-anchor="middle">0</text><line x1="1232.5" y1="535" x2="1232.5" y2="540" stroke="#000" stroke-width="2" /><line x1="1268.6" y1="535" x2="1268.6" y2="540" stroke="#000" stroke-width="2" /><line x1="1304.7" y1="535" x2="1304.7" y2="540" stroke="#000" stroke-width="2" /><line x1="1340.8" y1="535" x2="1340.8" y2="540" stroke="#000" stroke-width="2" /><line x1="1376.9" y1="535" x2="1376.9" y2="545" stroke="#000" stroke-width="2" /><text transform="translate(1376.9,574.3) scale(1,1.09)" font-family="'Liberation Sans', Arial, sans-serif" font-size="27.2" text-anchor="middle">1</text><line x1="1413" y1="535" x2="1413" y2="540" stroke="#000" stroke-width="2" /><line x1="1449.1" y1="535" x2="1449.1" y2="540" stroke="#000" stroke-width="2" /><line x1="1485.2" y1="535" x2="1485.2" y2="540" stroke="#000" stroke-width="2" /><line x1="1521.3" y1="535" x2="1521.3" y2="540" stroke="#000" stroke-width="2" /><line x1="1557.4" y1="535" x2="1557.4" y2="545" stroke="#000" stroke-width="2" /><text transform="translate(1557.4,574.3) scale(1,1.09)" font-family="'Liberation Sans', Arial, sans-serif" font-size="27.2" text-anchor="middle">2</text><line x1="1593.5" y1="535" x2="1593.5" y2="540" stroke="#000" stroke-width="2" /><line x1="1629.6" y1="535" x2="1629.6" y2="540" stroke="#000" stroke-width="2" /><line x1="1665.7" y1="535" x2="1665.7" y2="540" stroke="#000" stroke-width="2" /><line x1="1701.8" y1="535" x2="1701.8" y2="540" stroke="#000" stroke-width="2" /><line x1="1737.9" y1="535" x2="1737.9" y2="545" stroke="#000" stroke-width="2" /><text transform="translate(1737.9,574.3) scale(1,1.09)" font-family="'Liberation Sans', Arial, sans-serif" font-size="27.2" text-anchor="middle">3</text><line x1="1096.8" y1="482.5" x2="1106.8" y2="482.5" stroke="#000" stroke-width="2" /><text transform="translate(1089.8,491.1) scale(1,1.09)" font-family="'Liberation Sans', Arial, sans-serif" font-size="27.0" text-anchor="end">-1.0</text><line x1="1101.8" y1="429.9" x2="1106.8" y2="429.9" stroke="#000" stroke-width="2" /><line x1="1096.8" y1="377.2" x2="1106.8" y2="377.2" stroke="#000" stroke-width="2" /><text transform="translate(1089.8,385.9) scale(1,1.09)" font-family="'Liberation Sans', Arial, sans-serif" font-size="27.0" text-anchor="end">-0.5</text><line x1="1101.8" y1="324.6" x2="1106.8" y2="324.6" stroke="#000" stroke-width="2" /><line x1="1096.8" y1="272" x2="1106.8" y2="272" stroke="#000" stroke-width="2" /><text transform="translate(1089.8,280.6) scale(1,1.09)" font-family="'Liberation Sans', Arial, sans-serif" font-size="27.0" text-anchor="end">0.0</text><line x1="1101.8" y1="219.4" x2="1106.8" y2="219.4" stroke="#000" stroke-width="2" /><line x1="1096.8" y1="166.8" x2="1106.8" y2="166.8" stroke="#000" stroke-width="2" /><text transform="translate(1089.8,175.3) scale(1,1.09)" font-family="'Liberation Sans', Arial, sans-serif" font-size="27.0" text-anchor="end">0.5</text><line x1="1101.8" y1="114.1" x2="1106.8" y2="114.1" stroke="#000" stroke-width="2" /><line x1="1096.8" y1="61.5" x2="1106.8" y2="61.5" stroke="#000" stroke-width="2" /><text transform="translate(1089.8,70.1) scale(1,1.09)" font-family="'Liberation Sans', Arial, sans-serif" font-size="27.0" text-anchor="end">1.0</text><text x="1422.3" y="623" font-family="'Liberation Sans', Arial, sans-serif" font-size="32.6" text-anchor="middle" >Delay (ps)</text><text x="1034" y="273.6" font-family="'Liberation Sans', Arial, sans-serif" font-size="32.5" text-anchor="middle" transform="rotate(-90 1034 273.6)">Normalized intensity (arb. unit)</text><text x="1111.3" y="57" font-family="'Liberation Serif', 'Times New Roman', serif" font-size="50" text-anchor="start" >(b) SC</text><line x1="1427.7" y1="225.2" x2="1487" y2="225.2" stroke="#000" stroke-width="4.4" /><circle cx="1457.3" cy="225.2" r="4.6" fill="#fff" stroke="#000" stroke-width="1"/><polygon points="1457.3,253.3 1452.1,262.4 1462.5,262.4" fill="#fff" stroke="#0000ff" stroke-width="1"/><circle cx="1457.3" cy="292.4" r="4.6" fill="#fff" stroke="#ff0000" stroke-width="1"/><line x1="1427.7" y1="326" x2="1487" y2="326" stroke="#ff8000" stroke-opacity="0.72" stroke-width="7.5" stroke-linecap="round"/><line x1="1427.7" y1="359.6" x2="1487" y2="359.6" stroke="#0000ff" stroke-width="3.2" /><line x1="1427.7" y1="393.2" x2="1487" y2="393.2" stroke="#ff0000" stroke-width="3.2" /><text x="1494.5" y="234.7" font-family="'Liberation Sans', Arial, sans-serif" font-size="26.2" text-anchor="start" >A&#160;:&#160;Exp.&#160;and&#160;fit</text><text x="1494.5" y="268.3" font-family="'Liberation Sans', Arial, sans-serif" font-size="26.2" text-anchor="start" >B&#160;:&#160;Exp.</text><text x="1494.5" y="301.9" font-family="'Liberation Sans', Arial, sans-serif" font-size="26.2" text-anchor="start" >C&#160;:&#160;Exp.</text><text x="1494.5" y="335.5" font-family="'Liberation Sans', Arial, sans-serif" font-size="26.2" text-anchor="start" >[S]&#160;=&#160;&#160;(C-B)/2</text><text x="1494.5" y="369.1" font-family="'Liberation Sans', Arial, sans-serif" font-size="26.2" text-anchor="start" >[B]&#160;=&#160;-[S]-0.15A</text><text x="1494.5" y="402.7" font-family="'Liberation Sans', Arial, sans-serif" font-size="26.2" text-anchor="start" >[C]&#160;=&#160;&#160;[S]-0.15A</text><polygon clip-path="url(#cld)" points="1106.6,882.3 1124.6,890.5 1142.9,882.3 1161,894.1 1179.1,899.9 1196.4,935.3 1214.8,1001.1 1232.7,1065.1 1251.1,1116.3 1269,1118.5 1304.9,1096.3 1340.7,1091.6 1377,1101.8 1413.3,1087.7 1449.6,1097.6 1540.1,1104 1629.8,1114.2 1720.3,1107.4 1740.5,1107.4 1740.5,1170.6 1720.3,1170.6 1629.8,1177.4 1540.1,1167.2 1449.6,1160.8 1413.3,1150.9 1377,1165 1340.7,1154.8 1304.9,1159.5 1269,1181.7 1251.1,1179.5 1232.7,1128.3 1214.8,1064.3 1196.4,998.5 1179.1,963.1 1161,957.3 1142.9,945.5 1124.6,953.7 1106.6,945.5" fill="#ff0000" fill-opacity="0.2" stroke="#ff0000" stroke-opacity="0.25" stroke-width="1.5"/><circle cx="1106.6" cy="913.9" r="4.4" fill="#fff" stroke="#ff0000" stroke-width="1"/><circle cx="1124.6" cy="922.1" r="4.4" fill="#fff" stroke="#ff0000" stroke-width="1"/><circle cx="1142.9" cy="913.9" r="4.4" fill="#fff" stroke="#ff0000" stroke-width="1"/><circle cx="1161" cy="925.7" r="4.4" fill="#fff" stroke="#ff0000" stroke-width="1"/><circle cx="1179.1" cy="931.5" r="4.4" fill="#fff" stroke="#ff0000" stroke-width="1"/><circle cx="1196.4" cy="966.9" r="4.4" fill="#fff" stroke="#ff0000" stroke-width="1"/><circle cx="1214.8" cy="1032.7" r="4.4" fill="#fff" stroke="#ff0000" stroke-width="1"/><circle cx="1232.7" cy="1096.7" r="4.4" fill="#fff" stroke="#ff0000" stroke-width="1"/><circle cx="1251.1" cy="1147.9" r="4.4" fill="#fff" stroke="#ff0000" stroke-width="1"/><circle cx="1269" cy="1150.1" r="4.4" fill="#fff" stroke="#ff0000" stroke-width="1"/><circle cx="1304.9" cy="1127.9" r="4.4" fill="#fff" stroke="#ff0000" stroke-width="1"/><circle cx="1340.7" cy="1123.2" r="4.4" fill="#fff" stroke="#ff0000" stroke-width="1"/><circle cx="1377" cy="1133.4" r="4.4" fill="#fff" stroke="#ff0000" stroke-width="1"/><circle cx="1413.3" cy="1119.3" r="4.4" fill="#fff" stroke="#ff0000" stroke-width="1"/><circle cx="1449.6" cy="1129.2" r="4.4" fill="#fff" stroke="#ff0000" stroke-width="1"/><circle cx="1540.1" cy="1135.6" r="4.4" fill="#fff" stroke="#ff0000" stroke-width="1"/><circle cx="1629.8" cy="1145.8" r="4.4" fill="#fff" stroke="#ff0000" stroke-width="1"/><circle cx="1720.3" cy="1139" r="4.4" fill="#fff" stroke="#ff0000" stroke-width="1"/><polygon clip-path="url(#cld)" points="1118.8,895.4 1137.1,901.3 1155.1,889.6 1173.4,887.2 1191,868.4 1208.6,825.7 1228.1,768.7 1245.7,715.5 1263.5,686.6 1281.3,695.5 1317.2,719.9 1353.4,748.3 1389.7,762.9 1425.7,769.2 1462,780.3 1552.1,788 1642.6,798.7 1732.7,811.1 1740.5,811.1 1740.5,857.5 1732.7,857.5 1642.6,845.1 1552.1,834.4 1462,826.7 1425.7,815.6 1389.7,809.3 1353.4,794.7 1317.2,766.3 1281.3,741.9 1263.5,733 1245.7,761.9 1228.1,815.1 1208.6,872.1 1191,914.8 1173.4,933.6 1155.1,936 1137.1,947.7 1118.8,941.8" fill="#000000" fill-opacity="0.2" stroke="#000000" stroke-opacity="0.25" stroke-width="1.5"/><circle cx="1118.8" cy="918.6" r="4.4" fill="#fff" stroke="#000" stroke-width="1"/><circle cx="1137.1" cy="924.5" r="4.4" fill="#fff" stroke="#000" stroke-width="1"/><circle cx="1155.1" cy="912.8" r="4.4" fill="#fff" stroke="#000" stroke-width="1"/><circle cx="1173.4" cy="910.4" r="4.4" fill="#fff" stroke="#000" stroke-width="1"/><circle cx="1191" cy="891.6" r="4.4" fill="#fff" stroke="#000" stroke-width="1"/><circle cx="1208.6" cy="848.9" r="4.4" fill="#fff" stroke="#000" stroke-width="1"/><circle cx="1228.1" cy="791.9" r="4.4" fill="#fff" stroke="#000" stroke-width="1"/><circle cx="1245.7" cy="738.7" r="4.4" fill="#fff" stroke="#000" stroke-width="1"/><circle cx="1263.5" cy="709.8" r="4.4" fill="#fff" stroke="#000" stroke-width="1"/><circle cx="1281.3" cy="718.7" r="4.4" fill="#fff" stroke="#000" stroke-width="1"/><circle cx="1317.2" cy="743.1" r="4.4" fill="#fff" stroke="#000" stroke-width="1"/><circle cx="1353.4" cy="771.5" r="4.4" fill="#fff" stroke="#000" stroke-width="1"/><circle cx="1389.7" cy="786.1" r="4.4" fill="#fff" stroke="#000" stroke-width="1"/><circle cx="1425.7" cy="792.4" r="4.4" fill="#fff" stroke="#000" stroke-width="1"/><circle cx="1462" cy="803.5" r="4.4" fill="#fff" stroke="#000" stroke-width="1"/><circle cx="1552.1" cy="811.2" r="4.4" fill="#fff" stroke="#000" stroke-width="1"/><circle cx="1642.6" cy="821.9" r="4.4" fill="#fff" stroke="#000" stroke-width="1"/><circle cx="1732.7" cy="834.3" r="4.4" fill="#fff" stroke="#000" stroke-width="1"/><polygon clip-path="url(#cld)" points="1112.9,898 1131.2,887.4 1149.3,898 1167.6,887.4 1184.9,891.4 1203.2,864.4 1221.5,839.3 1239.6,816.3 1257.7,798 1275.7,799.9 1293.8,771.3 1329.9,749.5 1365.8,757 1401.9,736.1 1438.1,712.8 1474,696.1 1564.5,714.1 1654.6,731.2 1740.5,731.2 1740.5,788 1654.6,788 1564.5,770.9 1474,752.9 1438.1,769.6 1401.9,792.9 1365.8,813.8 1329.9,806.3 1293.8,828.1 1275.7,856.7 1257.7,854.8 1239.6,873.1 1221.5,896.1 1203.2,921.2 1184.9,948.2 1167.6,944.2 1149.3,954.8 1131.2,944.2 1112.9,954.8" fill="#0000ff" fill-opacity="0.2" stroke="#0000ff" stroke-opacity="0.25" stroke-width="1.5"/><polygon points="1112.9,920.9 1107.7,930 1118.1,930" fill="#fff" stroke="#0000ff" stroke-width="1"/><polygon points="1131.2,910.3 1126,919.4 1136.4,919.4" fill="#fff" stroke="#0000ff" stroke-width="1"/><polygon points="1149.3,920.9 1144.1,930 1154.5,930" fill="#fff" stroke="#0000ff" stroke-width="1"/><polygon points="1167.6,910.3 1162.4,919.4 1172.8,919.4" fill="#fff" stroke="#0000ff" stroke-width="1"/><polygon points="1184.9,914.3 1179.7,923.4 1190.1,923.4" fill="#fff" stroke="#0000ff" stroke-width="1"/><polygon points="1203.2,887.3 1198,896.4 1208.4,896.4" fill="#fff" stroke="#0000ff" stroke-width="1"/><polygon points="1221.5,862.2 1216.3,871.3 1226.7,871.3" fill="#fff" stroke="#0000ff" stroke-width="1"/><polygon points="1239.6,839.2 1234.4,848.3 1244.8,848.3" fill="#fff" stroke="#0000ff" stroke-width="1"/><polygon points="1257.7,820.9 1252.5,830 1262.9,830" fill="#fff" stroke="#0000ff" stroke-width="1"/><polygon points="1275.7,822.8 1270.5,831.9 1280.9,831.9" fill="#fff" stroke="#0000ff" stroke-width="1"/><polygon points="1293.8,794.2 1288.6,803.3 1299,803.3" fill="#fff" stroke="#0000ff" stroke-width="1"/><polygon points="1329.9,772.4 1324.7,781.5 1335.1,781.5" fill="#fff" stroke="#0000ff" stroke-width="1"/><polygon points="1365.8,779.9 1360.6,789 1371,789" fill="#fff" stroke="#0000ff" stroke-width="1"/><polygon points="1401.9,759 1396.7,768.1 1407.1,768.1" fill="#fff" stroke="#0000ff" stroke-width="1"/><polygon points="1438.1,735.7 1432.9,744.8 1443.3,744.8" fill="#fff" stroke="#0000ff" stroke-width="1"/><polygon points="1474,719 1468.8,728.1 1479.2,728.1" fill="#fff" stroke="#0000ff" stroke-width="1"/><polygon points="1564.5,737 1559.3,746.1 1569.7,746.1" fill="#fff" stroke="#0000ff" stroke-width="1"/><polygon points="1654.6,754.1 1649.4,763.2 1659.8,763.2" fill="#fff" stroke="#0000ff" stroke-width="1"/><g clip-path="url(#cld)"><polyline points="1107.4,921.1 1109.2,921.1 1111,921.1 1112.8,921.2 1114.6,921.2 1116.4,921.2 1118.2,921.2 1120,921.3 1121.9,921.3 1123.7,921.3 1125.5,921.3 1127.3,921.4 1129.1,921.4 1130.9,921.4 1132.7,921.5 1134.5,921.5 1136.3,921.5 1138.1,921.6 1139.9,921.6 1141.7,921.7 1143.5,921.7 1145.3,921.7 1147.2,921.8 1149,921.8 1150.8,921.8 1152.6,921.9 1154.4,921.9 1156.2,922 1158,922 1159.8,922.1 1161.6,922.2 1163.4,922.3 1165.2,922.5 1167,922.6 1168.8,922.8 1170.6,923.1 1172.5,923.5 1174.3,924.1 1176.1,924.7 1177.9,925.6 1179.7,926.9 1181.5,928.5 1183.3,930.3 1185.1,932.5 1186.9,935 1188.7,938.2 1190.5,941.9 1192.3,946 1194.1,950.1 1195.9,954.3 1197.8,958.5 1199.6,962.9 1201.4,967.6 1203.2,972.4 1205,977.6 1206.8,983 1208.6,988.6 1210.4,994.3 1212.2,1000.1 1214,1006 1215.8,1012 1217.6,1017.8 1219.4,1023.4 1221.2,1028.8 1223,1034.1 1224.9,1039.4 1226.7,1044.9 1228.5,1050.6 1230.3,1056.3 1232.1,1062 1233.9,1067.5 1235.7,1073 1237.5,1078.5 1239.3,1083.9 1241.1,1089 1242.9,1093.6 1244.7,1097.6 1246.5,1101 1248.3,1104.1 1250.2,1106.8 1252,1109.2 1253.8,1111.4 1255.6,1113.4 1257.4,1115.2 1259.2,1116.8 1261,1118.2 1262.8,1119.5 1264.6,1120.6 1266.4,1121.6 1268.2,1122.6 1270,1123.5 1271.8,1124.3 1273.6,1125.1 1275.5,1125.7 1277.3,1126.3 1279.1,1126.8 1280.9,1127.3 1282.7,1127.8 1284.5,1128.2 1286.3,1128.5 1288.1,1128.9 1289.9,1129.2 1291.7,1129.6 1293.5,1129.8 1295.3,1130.1 1297.1,1130.4 1298.9,1130.6 1300.7,1130.8 1302.6,1131 1304.4,1131.2 1306.2,1131.3 1308,1131.5 1309.8,1131.6 1311.6,1131.8 1313.4,1131.9 1315.2,1132 1317,1132.1 1318.8,1132.2 1320.6,1132.3 1322.4,1132.4 1324.2,1132.4 1326,1132.5 1327.9,1132.5 1329.7,1132.6 1331.5,1132.6 1333.3,1132.7 1335.1,1132.7 1336.9,1132.7 1338.7,1132.8 1340.5,1132.8 1342.3,1132.8 1344.1,1132.8 1345.9,1132.9 1347.7,1132.9 1349.5,1132.9 1351.3,1132.9 1353.2,1133 1355,1133 1356.8,1133 1358.6,1133.1 1360.4,1133.1 1362.2,1133.2 1364,1133.2 1365.8,1133.3 1367.6,1133.3 1369.4,1133.4 1371.2,1133.5 1373,1133.6 1374.8,1133.7 1376.6,1133.8 1378.5,1133.9 1380.3,1134.1 1382.1,1134.3 1383.9,1134.4 1385.7,1134.6 1387.5,1134.8 1389.3,1134.9 1391.1,1135.1 1392.9,1135.3 1394.7,1135.4 1396.5,1135.6 1398.3,1135.7 1400.1,1135.9 1401.9,1136 1403.7,1136.1 1405.6,1136.2 1407.4,1136.3 1409.2,1136.4 1411,1136.5 1412.8,1136.6 1414.6,1136.7 1416.4,1136.8 1418.2,1136.8 1420,1136.9 1421.8,1137 1423.6,1137.1 1425.4,1137.1 1427.2,1137.2 1429,1137.3 1430.9,1137.3 1432.7,1137.4 1434.5,1137.5 1436.3,1137.6 1438.1,1137.6 1439.9,1137.7 1441.7,1137.8 1443.5,1137.9 1445.3,1137.9 1447.1,1138 1448.9,1138.1 1450.7,1138.1 1452.5,1138.2 1454.3,1138.3 1456.2,1138.3 1458,1138.4 1459.8,1138.4 1461.6,1138.5 1463.4,1138.6 1465.2,1138.6 1467,1138.6 1468.8,1138.7 1470.6,1138.7 1472.4,1138.8 1474.2,1138.8 1476,1138.8 1477.8,1138.8 1479.6,1138.8 1481.4,1138.9 1483.3,1138.9 1485.1,1138.9 1486.9,1138.9 1488.7,1138.9 1490.5,1138.9 1492.3,1138.9 1494.1,1138.9 1495.9,1138.9 1497.7,1138.9 1499.5,1138.9 1501.3,1138.9 1503.1,1138.9 1504.9,1138.9 1506.7,1138.9 1508.6,1138.9 1510.4,1138.8 1512.2,1138.8 1514,1138.8 1515.8,1138.8 1517.6,1138.8 1519.4,1138.8 1521.2,1138.8 1523,1138.8 1524.8,1138.8 1526.6,1138.8 1528.4,1138.7 1530.2,1138.7 1532,1138.7 1533.9,1138.7 1535.7,1138.7 1537.5,1138.7 1539.3,1138.7 1541.1,1138.6 1542.9,1138.6 1544.7,1138.6 1546.5,1138.6 1548.3,1138.6 1550.1,1138.6 1551.9,1138.6 1553.7,1138.5 1555.5,1138.5 1557.3,1138.5 1559.2,1138.5 1561,1138.5 1562.8,1138.5 1564.6,1138.5 1566.4,1138.4 1568.2,1138.4 1570,1138.4 1571.8,1138.4 1573.6,1138.4 1575.4,1138.4 1577.2,1138.4 1579,1138.4 1580.8,1138.4 1582.6,1138.4 1584.4,1138.4 1586.3,1138.3 1588.1,1138.3 1589.9,1138.3 1591.7,1138.3 1593.5,1138.3 1595.3,1138.3 1597.1,1138.3 1598.9,1138.3 1600.7,1138.3 1602.5,1138.3 1604.3,1138.3 1606.1,1138.2 1607.9,1138.2 1609.7,1138.2 1611.6,1138.2 1613.4,1138.2 1615.2,1138.2 1617,1138.2 1618.8,1138.1 1620.6,1138.1 1622.4,1138.1 1624.2,1138.1 1626,1138.1 1627.8,1138.1 1629.6,1138 1631.4,1138 1633.2,1138 1635,1138 1636.9,1137.9 1638.7,1137.9 1640.5,1137.9 1642.3,1137.8 1644.1,1137.8 1645.9,1137.8 1647.7,1137.7 1649.5,1137.7 1651.3,1137.7 1653.1,1137.6 1654.9,1137.6 1656.7,1137.5 1658.5,1137.5 1660.3,1137.5 1662.1,1137.4 1664,1137.4 1665.8,1137.4 1667.6,1137.3 1669.4,1137.3 1671.2,1137.3 1673,1137.2 1674.8,1137.2 1676.6,1137.1 1678.4,1137.1 1680.2,1137.1 1682,1137 1683.8,1137 1685.6,1137 1687.4,1136.9 1689.3,1136.9 1691.1,1136.9 1692.9,1136.8 1694.7,1136.8 1696.5,1136.8 1698.3,1136.7 1700.1,1136.7 1701.9,1136.7 1703.7,1136.6 1705.5,1136.6 1707.3,1136.6 1709.1,1136.5 1710.9,1136.5 1712.7,1136.5 1714.6,1136.4 1716.4,1136.4 1718.2,1136.4 1720,1136.3 1721.8,1136.3 1723.6,1136.3 1725.4,1136.2 1727.2,1136.2 1729,1136.2 1730.8,1136.1 1732.6,1136.1 1734.4,1136.1 1736.2,1136 1738,1136 1739.8,1136" fill="none" stroke="#ff0000" stroke-width="3.6"/><polyline points="1107.4,921 1109.2,921.1 1111,921.1 1112.8,921.1 1114.6,921.1 1116.4,921.1 1118.2,921.2 1120,921.2 1121.9,921.2 1123.7,921.2 1125.5,921.3 1127.3,921.3 1129.1,921.3 1130.9,921.4 1132.7,921.4 1134.5,921.4 1136.3,921.5 1138.1,921.5 1139.9,921.5 1141.7,921.6 1143.5,921.6 1145.3,921.6 1147.2,921.7 1149,921.7 1150.8,921.7 1152.6,921.8 1154.4,921.8 1156.2,921.8 1158,921.9 1159.8,922 1161.6,922 1163.4,922.1 1165.2,922.2 1167,922.3 1168.8,922.4 1170.6,922.5 1172.5,922.8 1174.3,923.2 1176.1,923.7 1177.9,924.3 1179.7,925.3 1181.5,926.6 1183.3,928.1 1185.1,929.9 1186.9,932 1188.7,934.6 1190.5,937.8 1192.3,941.2 1194.1,944.8 1195.9,948.2 1197.8,951.7 1199.6,955.3 1201.4,959 1203.2,962.9 1205,967.1 1206.8,971.4 1208.6,975.8 1210.4,980.3 1212.2,984.8 1214,989.5 1215.8,994.2 1217.6,998.7 1219.4,1003 1221.2,1007.2 1223,1011.2 1224.9,1015.2 1226.7,1019.5 1228.5,1023.9 1230.3,1028.3 1232.1,1032.8 1233.9,1037.1 1235.7,1041.3 1237.5,1045.7 1239.3,1050 1241.1,1054 1242.9,1057.6 1244.7,1060.5 1246.5,1062.9 1248.3,1065.2 1250.2,1067.3 1252,1069.2 1253.8,1071 1255.6,1072.6 1257.4,1074 1259.2,1075.3 1261,1076.5 1262.8,1077.7 1264.6,1078.7 1266.4,1079.6 1268.2,1080.5 1270,1081.4 1271.8,1082.2 1273.6,1083 1275.5,1083.8 1277.3,1084.5 1279.1,1085.2 1280.9,1085.9 1282.7,1086.5 1284.5,1087.1 1286.3,1087.7 1288.1,1088.3 1289.9,1088.8 1291.7,1089.3 1293.5,1089.9 1295.3,1090.4 1297.1,1090.9 1298.9,1091.4 1300.7,1091.8 1302.6,1092.3 1304.4,1092.7 1306.2,1093.2 1308,1093.6 1309.8,1094 1311.6,1094.4 1313.4,1094.8 1315.2,1095.2 1317,1095.6 1318.8,1096 1320.6,1096.3 1322.4,1096.7 1324.2,1097 1326,1097.3 1327.9,1097.7 1329.7,1098 1331.5,1098.3 1333.3,1098.6 1335.1,1098.9 1336.9,1099.2 1338.7,1099.5 1340.5,1099.8 1342.3,1100.1 1344.1,1100.4 1345.9,1100.6 1347.7,1100.9 1349.5,1101.2 1351.3,1101.5 1353.2,1101.7 1355,1102 1356.8,1102.3 1358.6,1102.5 1360.4,1102.8 1362.2,1103 1364,1103.3 1365.8,1103.6 1367.6,1103.8 1369.4,1104.1 1371.2,1104.3 1373,1104.6 1374.8,1104.9 1376.6,1105.2 1378.5,1105.4 1380.3,1105.7 1382.1,1106 1383.9,1106.3 1385.7,1106.6 1387.5,1106.9 1389.3,1107.2 1391.1,1107.5 1392.9,1107.8 1394.7,1108.1 1396.5,1108.3 1398.3,1108.6 1400.1,1108.8 1401.9,1109.1 1403.7,1109.3 1405.6,1109.5 1407.4,1109.7 1409.2,1109.9 1411,1110.1 1412.8,1110.2 1414.6,1110.4 1416.4,1110.6 1418.2,1110.8 1420,1110.9 1421.8,1111.1 1423.6,1111.2 1425.4,1111.4 1427.2,1111.5 1429,1111.7 1430.9,1111.8 1432.7,1112 1434.5,1112.1 1436.3,1112.3 1438.1,1112.4 1439.9,1112.6 1441.7,1112.7 1443.5,1112.8 1445.3,1113 1447.1,1113.1 1448.9,1113.3 1450.7,1113.4 1452.5,1113.5 1454.3,1113.7 1456.2,1113.8 1458,1113.9 1459.8,1114 1461.6,1114.2 1463.4,1114.3 1465.2,1114.4 1467,1114.5 1468.8,1114.6 1470.6,1114.7 1472.4,1114.8 1474.2,1114.9 1476,1115 1477.8,1115.1 1479.6,1115.2 1481.4,1115.3 1483.3,1115.3 1485.1,1115.4 1486.9,1115.5 1488.7,1115.6 1490.5,1115.6 1492.3,1115.7 1494.1,1115.8 1495.9,1115.8 1497.7,1115.9 1499.5,1116 1501.3,1116 1503.1,1116.1 1504.9,1116.2 1506.7,1116.2 1508.6,1116.3 1510.4,1116.3 1512.2,1116.4 1514,1116.4 1515.8,1116.5 1517.6,1116.6 1519.4,1116.6 1521.2,1116.7 1523,1116.7 1524.8,1116.8 1526.6,1116.8 1528.4,1116.9 1530.2,1116.9 1532,1117 1533.9,1117 1535.7,1117.1 1537.5,1117.1 1539.3,1117.1 1541.1,1117.2 1542.9,1117.2 1544.7,1117.3 1546.5,1117.3 1548.3,1117.3 1550.1,1117.4 1551.9,1117.4 1553.7,1117.5 1555.5,1117.5 1557.3,1117.5 1559.2,1117.6 1561,1117.6 1562.8,1117.6 1564.6,1117.7 1566.4,1117.7 1568.2,1117.7 1570,1117.8 1571.8,1117.8 1573.6,1117.8 1575.4,1117.9 1577.2,1117.9 1579,1118 1580.8,1118 1582.6,1118 1584.4,1118.1 1586.3,1118.1 1588.1,1118.1 1589.9,1118.2 1591.7,1118.2 1593.5,1118.2 1595.3,1118.3 1597.1,1118.3 1598.9,1118.3 1600.7,1118.4 1602.5,1118.4 1604.3,1118.4 1606.1,1118.4 1607.9,1118.5 1609.7,1118.5 1611.6,1118.5 1613.4,1118.5 1615.2,1118.6 1617,1118.6 1618.8,1118.6 1620.6,1118.6 1622.4,1118.7 1624.2,1118.7 1626,1118.7 1627.8,1118.7 1629.6,1118.7 1631.4,1118.7 1633.2,1118.7 1635,1118.8 1636.9,1118.8 1638.7,1118.8 1640.5,1118.8 1642.3,1118.8 1644.1,1118.8 1645.9,1118.8 1647.7,1118.8 1649.5,1118.8 1651.3,1118.8 1653.1,1118.8 1654.9,1118.8 1656.7,1118.8 1658.5,1118.8 1660.3,1118.8 1662.1,1118.8 1664,1118.8 1665.8,1118.8 1667.6,1118.8 1669.4,1118.8 1671.2,1118.8 1673,1118.8 1674.8,1118.8 1676.6,1118.8 1678.4,1118.8 1680.2,1118.8 1682,1118.8 1683.8,1118.8 1685.6,1118.8 1687.4,1118.8 1689.3,1118.8 1691.1,1118.8 1692.9,1118.8 1694.7,1118.8 1696.5,1118.8 1698.3,1118.8 1700.1,1118.8 1701.9,1118.8 1703.7,1118.8 1705.5,1118.8 1707.3,1118.8 1709.1,1118.8 1710.9,1118.8 1712.7,1118.8 1714.6,1118.8 1716.4,1118.8 1718.2,1118.8 1720,1118.8 1721.8,1118.8 1723.6,1118.8 1725.4,1118.8 1727.2,1118.8 1729,1118.8 1730.8,1118.8 1732.6,1118.8 1734.4,1118.8 1736.2,1118.8 1738,1118.8 1739.8,1118.8" fill="none" stroke="#ff8000" stroke-opacity="0.72" stroke-width="7"/><polyline points="1170.6,918.6 1172.5,918.5 1174.3,918.3 1176.1,918 1177.9,917.7 1179.7,916.9 1181.5,915.9 1183.3,914.7 1185.1,913.3 1186.9,911.7 1188.7,909.6 1190.5,907 1192.3,904.1 1194.1,901.2 1195.9,898.5 1197.8,895.7 1199.6,893 1201.4,890.1 1203.2,887.1 1205,884 1206.8,880.8 1208.6,877.6 1210.4,874.4 1212.2,871.1 1214,867.6 1215.8,864.2 1217.6,860.9 1219.4,857.9 1221.2,855.1 1223,852.3 1224.9,849.5 1226.7,846.6 1228.5,843.5 1230.3,840.2 1232.1,837 1233.9,833.9 1235.7,830.9 1237.5,827.7 1239.3,824.6 1241.1,821.6 1242.9,819.1 1244.7,817.3 1246.5,815.8 1248.3,814.3 1250.2,812.8 1252,811.4 1253.8,810.1 1255.6,808.9 1257.4,807.8 1259.2,806.8 1261,805.8 1262.8,804.8 1264.6,803.8 1266.4,803 1268.2,802.1 1270,801.3 1271.8,800.5 1273.6,799.7 1275.5,798.8 1277.3,797.9 1279.1,797.1 1280.9,796.2 1282.7,795.4 1284.5,794.5 1286.3,793.7 1288.1,793 1289.9,792.2 1291.7,791.5 1293.5,790.7 1295.3,790 1297.1,789.2 1298.9,788.5 1300.7,787.7 1302.6,787 1304.4,786.3 1306.2,785.5 1308,784.8 1309.8,784.2 1311.6,783.5 1313.4,782.8 1315.2,782.2 1317,781.5 1318.8,780.9 1320.6,780.3 1322.4,779.6 1324.2,779 1326,778.4 1327.9,777.8 1329.7,777.2 1331.5,776.6 1333.3,776.1 1335.1,775.5 1336.9,775 1338.7,774.4 1340.5,773.8 1342.3,773.3 1344.1,772.7 1345.9,772.2 1347.7,771.6 1349.5,771.1 1351.3,770.6 1353.2,770.1 1355,769.6 1356.8,769.1 1358.6,768.6 1360.4,768.2 1362.2,767.7 1364,767.2 1365.8,766.8 1367.6,766.3 1369.4,765.9 1371.2,765.4 1373,765 1374.8,764.5 1376.6,764.1 1378.5,763.7 1380.3,763.2 1382.1,762.8 1383.9,762.3 1385.7,761.9 1387.5,761.5 1389.3,761.1 1391.1,760.7 1392.9,760.3 1394.7,759.9 1396.5,759.5 1398.3,759.1 1400.1,758.8 1401.9,758.5 1403.7,758.2 1405.6,757.8 1407.4,757.6 1409.2,757.3 1411,757 1412.8,756.7 1414.6,756.4 1416.4,756.2 1418.2,755.9 1420,755.7 1421.8,755.4 1423.6,755.2 1425.4,755 1427.2,754.7 1429,754.5 1430.9,754.3 1432.7,754.1 1434.5,753.8 1436.3,753.6 1438.1,753.4 1439.9,753.2 1441.7,753 1443.5,752.8 1445.3,752.6 1447.1,752.3 1448.9,752.1 1450.7,751.9 1452.5,751.7 1454.3,751.5 1456.2,751.3 1458,751.2 1459.8,751 1461.6,750.8 1463.4,750.6 1465.2,750.4 1467,750.2 1468.8,750.1 1470.6,749.9 1472.4,749.7 1474.2,749.6 1476,749.4 1477.8,749.2 1479.6,749.1 1481.4,748.9 1483.3,748.8 1485.1,748.7 1486.9,748.5 1488.7,748.4 1490.5,748.2 1492.3,748.1 1494.1,748 1495.9,747.8 1497.7,747.7 1499.5,747.5 1501.3,747.4 1503.1,747.3 1504.9,747.2 1506.7,747 1508.6,746.9 1510.4,746.8 1512.2,746.7 1514,746.5 1515.8,746.4 1517.6,746.3 1519.4,746.2 1521.2,746.1 1523,745.9 1524.8,745.8 1526.6,745.7 1528.4,745.6 1530.2,745.5 1532,745.4 1533.9,745.3 1535.7,745.2 1537.5,745.1 1539.3,745 1541.1,744.9 1542.9,744.8 1544.7,744.7 1546.5,744.6 1548.3,744.5 1550.1,744.4 1551.9,744.3 1553.7,744.2 1555.5,744.1 1557.3,744 1559.2,744 1561,743.9 1562.8,743.8 1564.6,743.7 1566.4,743.6 1568.2,743.5 1570,743.5 1571.8,743.4 1573.6,743.3 1575.4,743.2 1577.2,743.1 1579,743.1 1580.8,743 1582.6,742.9 1584.4,742.8 1586.3,742.8 1588.1,742.7 1589.9,742.6 1591.7,742.5 1593.5,742.5 1595.3,742.4 1597.1,742.3 1598.9,742.2 1600.7,742.2 1602.5,742.1 1604.3,742 1606.1,742 1607.9,741.9 1609.7,741.8 1611.6,741.8 1613.4,741.7 1615.2,741.6 1617,741.6 1618.8,741.5 1620.6,741.5 1622.4,741.4 1624.2,741.3 1626,741.3 1627.8,741.2 1629.6,741.2 1631.4,741.1 1633.2,741.1 1635,741 1636.9,741 1638.7,740.9 1640.5,740.9 1642.3,740.8 1644.1,740.8 1645.9,740.8 1647.7,740.7 1649.5,740.7 1651.3,740.7 1653.1,740.6 1654.9,740.6 1656.7,740.5 1658.5,740.5 1660.3,740.5 1662.1,740.4 1664,740.4 1665.8,740.4 1667.6,740.3 1669.4,740.3 1671.2,740.3 1673,740.2 1674.8,740.2 1676.6,740.1 1678.4,740.1 1680.2,740.1 1682,740 1683.8,740 1685.6,740 1687.4,739.9 1689.3,739.9 1691.1,739.9 1692.9,739.8 1694.7,739.8 1696.5,739.8 1698.3,739.7 1700.1,739.7 1701.9,739.7 1703.7,739.6 1705.5,739.6 1707.3,739.6 1709.1,739.5 1710.9,739.5 1712.7,739.5 1714.6,739.4 1716.4,739.4 1718.2,739.4 1720,739.3 1721.8,739.3 1723.6,739.3 1725.4,739.2 1727.2,739.2 1729,739.2 1730.8,739.1 1732.6,739.1 1734.4,739.1 1736.2,739 1738,739 1739.8,739" fill="none" stroke="#0000ff" stroke-width="3.8"/><polyline points="1170.6,917.4 1172.5,916.8 1174.3,915.9 1176.1,914.9 1177.9,913.7 1179.7,912.4 1181.5,910.9 1183.3,909.3 1185.1,907.3 1186.9,905 1188.7,902.4 1190.5,899.5 1192.3,896.5 1194.1,893.4 1195.9,890 1197.8,886.2 1199.6,882.1 1201.4,877.7 1203.2,873 1205,867.9 1206.8,862.2 1208.6,856.1 1210.4,849.9 1212.2,843.7 1214,837.6 1215.8,831.3 1217.6,824.9 1219.4,818.5 1221.2,812.2 1223,805.8 1224.9,799.5 1226.7,793.1 1228.5,786.7 1230.3,780.5 1232.1,774.4 1233.9,768.3 1235.7,762.2 1237.5,756.2 1239.3,750.6 1241.1,745.3 1242.9,740 1244.7,734.8 1246.5,729.9 1248.3,725.8 1250.2,722.6 1252,720.2 1253.8,717.9 1255.6,715.9 1257.4,714.2 1259.2,712.8 1261,711.8 1262.8,711.2 1264.6,710.8 1266.4,710.3 1268.2,710 1270,709.8 1271.8,709.8 1273.6,710 1275.5,710.5 1277.3,711.2 1279.1,712 1280.9,713 1282.7,714 1284.5,715.1 1286.3,716.1 1288.1,717.1 1289.9,718.1 1291.7,719.2 1293.5,720.4 1295.3,721.6 1297.1,722.9 1298.9,724.2 1300.7,725.5 1302.6,726.9 1304.4,728.3 1306.2,729.6 1308,731 1309.8,732.3 1311.6,733.7 1313.4,735 1315.2,736.3 1317,737.7 1318.8,739 1320.6,740.4 1322.4,741.8 1324.2,743.2 1326,744.5 1327.9,745.9 1329.7,747.3 1331.5,748.6 1333.3,749.9 1335.1,751.2 1336.9,752.6 1338.7,753.9 1340.5,755.2 1342.3,756.6 1344.1,757.9 1345.9,759.2 1347.7,760.5 1349.5,761.8 1351.3,763 1353.2,764.2 1355,765.4 1356.8,766.5 1358.6,767.6 1360.4,768.6 1362.2,769.6 1364,770.7 1365.8,771.6 1367.6,772.6 1369.4,773.6 1371.2,774.5 1373,775.3 1374.8,776.2 1376.6,777 1378.5,777.8 1380.3,778.5 1382.1,779.2 1383.9,779.9 1385.7,780.5 1387.5,781.2 1389.3,781.8 1391.1,782.4 1392.9,783 1394.7,783.5 1396.5,784.1 1398.3,784.6 1400.1,785.1 1401.9,785.7 1403.7,786.2 1405.6,786.7 1407.4,787.1 1409.2,787.6 1411,788.1 1412.8,788.5 1414.6,789 1416.4,789.4 1418.2,789.9 1420,790.3 1421.8,790.7 1423.6,791.1 1425.4,791.6 1427.2,792 1429,792.3 1430.9,792.7 1432.7,793.1 1434.5,793.5 1436.3,793.8 1438.1,794.2 1439.9,794.6 1441.7,794.9 1443.5,795.3 1445.3,795.6 1447.1,795.9 1448.9,796.3 1450.7,796.6 1452.5,797 1454.3,797.3 1456.2,797.6 1458,797.9 1459.8,798.3 1461.6,798.6 1463.4,798.9 1465.2,799.3 1467,799.6 1468.8,799.9 1470.6,800.3 1472.4,800.6 1474.2,800.9 1476,801.3 1477.8,801.6 1479.6,802 1481.4,802.3 1483.3,802.7 1485.1,803 1486.9,803.3 1488.7,803.7 1490.5,804 1492.3,804.4 1494.1,804.7 1495.9,805 1497.7,805.4 1499.5,805.7 1501.3,806.1 1503.1,806.4 1504.9,806.7 1506.7,807.1 1508.6,807.4 1510.4,807.7 1512.2,808.1 1514,808.4 1515.8,808.7 1517.6,809 1519.4,809.4 1521.2,809.7 1523,810 1524.8,810.3 1526.6,810.6 1528.4,810.9 1530.2,811.3 1532,811.6 1533.9,811.9 1535.7,812.2 1537.5,812.4 1539.3,812.7 1541.1,813 1542.9,813.3 1544.7,813.6 1546.5,813.9 1548.3,814.1 1550.1,814.4 1551.9,814.7 1553.7,814.9 1555.5,815.2 1557.3,815.4 1559.2,815.7 1561,815.9 1562.8,816.1 1564.6,816.4 1566.4,816.6 1568.2,816.8 1570,817.1 1571.8,817.3 1573.6,817.5 1575.4,817.8 1577.2,818 1579,818.2 1580.8,818.4 1582.6,818.6 1584.4,818.8 1586.3,819.1 1588.1,819.3 1589.9,819.5 1591.7,819.7 1593.5,819.9 1595.3,820.1 1597.1,820.3 1598.9,820.5 1600.7,820.7 1602.5,820.9 1604.3,821.1 1606.1,821.3 1607.9,821.5 1609.7,821.7 1611.6,821.9 1613.4,822.1 1615.2,822.2 1617,822.4 1618.8,822.6 1620.6,822.8 1622.4,823 1624.2,823.2 1626,823.4 1627.8,823.6 1629.6,823.8 1631.4,824 1633.2,824.1 1635,824.3 1636.9,824.5 1638.7,824.7 1640.5,824.9 1642.3,825.1 1644.1,825.3 1645.9,825.5 1647.7,825.6 1649.5,825.8 1651.3,826 1653.1,826.2 1654.9,826.4 1656.7,826.6 1658.5,826.8 1660.3,826.9 1662.1,827.1 1664,827.3 1665.8,827.5 1667.6,827.7 1669.4,827.9 1671.2,828 1673,828.2 1674.8,828.4 1676.6,828.6 1678.4,828.7 1680.2,828.9 1682,829.1 1683.8,829.3 1685.6,829.5 1687.4,829.6 1689.3,829.8 1691.1,830 1692.9,830.1 1694.7,830.3 1696.5,830.5 1698.3,830.7 1700.1,830.8 1701.9,831 1703.7,831.2 1705.5,831.3 1707.3,831.5 1709.1,831.7 1710.9,831.8 1712.7,832 1714.6,832.2 1716.4,832.3 1718.2,832.5 1720,832.7 1721.8,832.8 1723.6,833 1725.4,833.1 1727.2,833.3 1729,833.5 1730.8,833.6 1732.6,833.8 1734.4,833.9 1736.2,834.1 1738,834.2 1739.8,834.4" fill="none" stroke="#000" stroke-width="4.2"/></g><rect x="1107.4" y="657.2" width="631.1" height="525.8" fill="none" stroke="#000" stroke-width="2.2"/><line x1="1124.1" y1="1183" x2="1124.1" y2="1188" stroke="#000" stroke-width="2" /><line x1="1160.3" y1="1183" x2="1160.3" y2="1188" stroke="#000" stroke-width="2" /><line x1="1196.4" y1="1183" x2="1196.4" y2="1193" stroke="#000" stroke-width="2" /><text transform="translate(1196.4,1222.3) scale(1,1.09)" font-family="'Liberation Sans', Arial, sans-serif" font-size="27.2" text-anchor="middle">0</text><line x1="1232.5" y1="1183" x2="1232.5" y2="1188" stroke="#000" stroke-width="2" /><line x1="1268.7" y1="1183" x2="1268.7" y2="1188" stroke="#000" stroke-width="2" /><line x1="1304.8" y1="1183" x2="1304.8" y2="1188" stroke="#000" stroke-width="2" /><line x1="1341" y1="1183" x2="1341" y2="1188" stroke="#000" stroke-width="2" /><line x1="1377.1" y1="1183" x2="1377.1" y2="1193" stroke="#000" stroke-width="2" /><text transform="translate(1377.1,1222.3) scale(1,1.09)" font-family="'Liberation Sans', Arial, sans-serif" font-size="27.2" text-anchor="middle">1</text><line x1="1413.2" y1="1183" x2="1413.2" y2="1188" stroke="#000" stroke-width="2" /><line x1="1449.4" y1="1183" x2="1449.4" y2="1188" stroke="#000" stroke-width="2" /><line x1="1485.5" y1="1183" x2="1485.5" y2="1188" stroke="#000" stroke-width="2" /><line x1="1521.7" y1="1183" x2="1521.7" y2="1188" stroke="#000" stroke-width="2" /><line x1="1557.8" y1="1183" x2="1557.8" y2="1193" stroke="#000" stroke-width="2" /><text transform="translate(1557.8,1222.3) scale(1,1.09)" font-family="'Liberation Sans', Arial, sans-serif" font-size="27.2" text-anchor="middle">2</text><line x1="1593.9" y1="1183" x2="1593.9" y2="1188" stroke="#000" stroke-width="2" /><line x1="1630.1" y1="1183" x2="1630.1" y2="1188" stroke="#000" stroke-width="2" /><line x1="1666.2" y1="1183" x2="1666.2" y2="1188" stroke="#000" stroke-width="2" /><line x1="1702.4" y1="1183" x2="1702.4" y2="1188" stroke="#000" stroke-width="2" /><line x1="1738.5" y1="1183" x2="1738.5" y2="1193" stroke="#000" stroke-width="2" /><text transform="translate(1738.5,1222.3) scale(1,1.09)" font-family="'Liberation Sans', Arial, sans-serif" font-size="27.2" text-anchor="middle">3</text><line x1="1097.4" y1="1130.8" x2="1107.4" y2="1130.8" stroke="#000" stroke-width="2" /><text transform="translate(1090.4,1139.4) scale(1,1.09)" font-family="'Liberation Sans', Arial, sans-serif" font-size="27.0" text-anchor="end">-1.0</text><line x1="1102.4" y1="1078.2" x2="1107.4" y2="1078.2" stroke="#000" stroke-width="2" /><line x1="1097.4" y1="1025.5" x2="1107.4" y2="1025.5" stroke="#000" stroke-width="2" /><text transform="translate(1090.4,1034.1) scale(1,1.09)" font-family="'Liberation Sans', Arial, sans-serif" font-size="27.0" text-anchor="end">-0.5</text><line x1="1102.4" y1="972.9" x2="1107.4" y2="972.9" stroke="#000" stroke-width="2" /><line x1="1097.4" y1="920.3" x2="1107.4" y2="920.3" stroke="#000" stroke-width="2" /><text transform="translate(1090.4,928.9) scale(1,1.09)" font-family="'Liberation Sans', Arial, sans-serif" font-size="27.0" text-anchor="end">0.0</text><line x1="1102.4" y1="867.7" x2="1107.4" y2="867.7" stroke="#000" stroke-width="2" /><line x1="1097.4" y1="815" x2="1107.4" y2="815" stroke="#000" stroke-width="2" /><text transform="translate(1090.4,823.6) scale(1,1.09)" font-family="'Liberation Sans', Arial, sans-serif" font-size="27.0" text-anchor="end">0.5</text><line x1="1102.4" y1="762.4" x2="1107.4" y2="762.4" stroke="#000" stroke-width="2" /><line x1="1097.4" y1="709.8" x2="1107.4" y2="709.8" stroke="#000" stroke-width="2" /><text transform="translate(1090.4,718.4) scale(1,1.09)" font-family="'Liberation Sans', Arial, sans-serif" font-size="27.0" text-anchor="end">1.0</text><line x1="1102.4" y1="657.2" x2="1107.4" y2="657.2" stroke="#000" stroke-width="2" /><text x="1423" y="1271" font-family="'Liberation Sans', Arial, sans-serif" font-size="32.6" text-anchor="middle" >Delay (ps)</text><text x="1034" y="921.6" font-family="'Liberation Sans', Arial, sans-serif" font-size="32.5" text-anchor="middle" transform="rotate(-90 1034 921.6)">Normalized intensity (arb. unit)</text><text x="1111.9" y="708.2" font-family="'Liberation Serif', 'Times New Roman', serif" font-size="50" text-anchor="start" >(d) NC</text><line x1="1447" y1="890" x2="1506.3" y2="890" stroke="#000" stroke-width="4.4" /><circle cx="1476.7" cy="890" r="4.6" fill="#fff" stroke="#000" stroke-width="1"/><polygon points="1476.7,918.1 1471.5,927.2 1481.9,927.2" fill="#fff" stroke="#0000ff" stroke-width="1"/><circle cx="1476.7" cy="957.2" r="4.6" fill="#fff" stroke="#ff0000" stroke-width="1"/><line x1="1447" y1="990.8" x2="1506.3" y2="990.8" stroke="#ff8000" stroke-opacity="0.72" stroke-width="7.5" stroke-linecap="round"/><line x1="1447" y1="1024.4" x2="1506.3" y2="1024.4" stroke="#0000ff" stroke-width="3.2" /><line x1="1447" y1="1058" x2="1506.3" y2="1058" stroke="#ff0000" stroke-width="3.2" /><text x="1513.8" y="899.5" font-family="'Liberation Sans', Arial, sans-serif" font-size="26.2" text-anchor="start" >A&#160;:&#160;Exp.&#160;and&#160;fit</text><text x="1513.8" y="933.1" font-family="'Liberation Sans', Arial, sans-serif" font-size="26.2" text-anchor="start" >B&#160;:&#160;Exp.</text><text x="1513.8" y="966.7" font-family="'Liberation Sans', Arial, sans-serif" font-size="26.2" text-anchor="start" >C&#160;:&#160;Exp.</text><text x="1513.8" y="1000.3" font-family="'Liberation Sans', Arial, sans-serif" font-size="26.2" text-anchor="start" >[S]&#160;=&#160;&#160;(C-B)/2</text><text x="1513.8" y="1033.9" font-family="'Liberation Sans', Arial, sans-serif" font-size="26.2" text-anchor="start" >[B]&#160;=&#160;-[S]-0.2A</text><text x="1513.8" y="1067.5" font-family="'Liberation Sans', Arial, sans-serif" font-size="26.2" text-anchor="start" >[C]&#160;=&#160;&#160;[S]-0.2A</text>
</svg></body></html>
